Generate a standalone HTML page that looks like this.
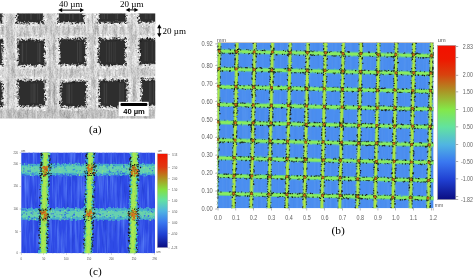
<!DOCTYPE html>
<html><head><meta charset="utf-8"><style>
html,body{margin:0;padding:0;background:#fff;width:475px;height:279px;overflow:hidden}
svg{display:block;will-change:transform}
</style></head><body><svg width="475" height="279" viewBox="0 0 475 279">
<defs>
 <filter id="semstreak" x="0" y="0" width="100%" height="100%" color-interpolation-filters="sRGB">
  <feTurbulence type="fractalNoise" baseFrequency="0.45 0.025" numOctaves="2" seed="3" result="n"/>
  <feColorMatrix in="n" type="matrix" values="1.3 0 0 0 0.18  1.3 0 0 0 0.18  1.3 0 0 0 0.18  0 0 0 0 1" />
 </filter>
 <filter id="semmottle" x="0" y="0" width="100%" height="100%" color-interpolation-filters="sRGB">
  <feTurbulence type="fractalNoise" baseFrequency="0.3 0.09" numOctaves="3" seed="12" result="n"/>
  <feColorMatrix in="n" type="matrix" values="1.2 0 0 0 0.22  1.2 0 0 0 0.22  1.2 0 0 0 0.22  0 0 0 0 1" />
 </filter>
 <filter id="semgrain" x="0" y="0" width="100%" height="100%" color-interpolation-filters="sRGB">
  <feTurbulence type="fractalNoise" baseFrequency="0.9 0.6" numOctaves="1" seed="7" result="n"/>
  <feColorMatrix in="n" type="matrix" values="1.6 0 0 0 -0.02  1.6 0 0 0 -0.02  1.6 0 0 0 -0.02  0 0 0 0 1" />
 </filter>
 <filter id="rough" x="-10%" y="-10%" width="120%" height="120%">
  <feTurbulence type="fractalNoise" baseFrequency="0.5" numOctaves="2" seed="11" result="t"/>
  <feDisplacementMap in="SourceGraphic" in2="t" scale="4" xChannelSelector="R" yChannelSelector="G"/>
 </filter>
 <filter id="halo" x="-10%" y="-10%" width="120%" height="120%">
  <feTurbulence type="fractalNoise" baseFrequency="0.6" numOctaves="2" seed="4" result="t"/>
  <feDisplacementMap in="SourceGraphic" in2="t" scale="5" xChannelSelector="R" yChannelSelector="G" result="d"/>
  <feGaussianBlur in="d" stdDeviation="0.6"/>
 </filter>
 <filter id="roughg" x="-10%" y="-10%" width="120%" height="120%">
  <feTurbulence type="fractalNoise" baseFrequency="0.7" numOctaves="2" seed="5" result="t"/>
  <feDisplacementMap in="SourceGraphic" in2="t" scale="2.2" xChannelSelector="R" yChannelSelector="G"/>
 </filter>
 <filter id="roughc" x="-10%" y="-10%" width="120%" height="120%">
  <feTurbulence type="fractalNoise" baseFrequency="0.45" numOctaves="2" seed="9" result="t"/>
  <feDisplacementMap in="SourceGraphic" in2="t" scale="4" xChannelSelector="R" yChannelSelector="G"/>
 </filter>
 <filter id="vstripe" x="0" y="0" width="100%" height="100%" color-interpolation-filters="sRGB">
  <feTurbulence type="fractalNoise" baseFrequency="0.5 0.012" numOctaves="1" seed="2" result="n"/>
  <feColorMatrix in="n" type="matrix" values="0 0 0 0 1  0 0 0 0 1  0 0 0 0 1  0.35 0 0 0 -0.14" />
 </filter>
 <filter id="vstripeD" x="0" y="0" width="100%" height="100%" color-interpolation-filters="sRGB">
  <feTurbulence type="fractalNoise" baseFrequency="0.5 0.012" numOctaves="1" seed="8" result="n"/>
  <feColorMatrix in="n" type="matrix" values="0 0 0 0 0  0 0 0 0 0  0 0 0 0 0.3  0.35 0 0 0 -0.14" />
 </filter>
 <filter id="cmottle" x="0" y="0" width="100%" height="100%" color-interpolation-filters="sRGB">
  <feTurbulence type="fractalNoise" baseFrequency="0.35 0.06" numOctaves="2" seed="21" result="n"/>
  <feColorMatrix in="n" type="matrix" values="0 0 0 0 0.1  0 0 0 0 0.2  0 0 0 0 0.75  -2.2 0 0 0 1.05" />
 </filter>
 <filter id="clight" x="0" y="0" width="100%" height="100%" color-interpolation-filters="sRGB">
  <feTurbulence type="fractalNoise" baseFrequency="0.4 0.03" numOctaves="2" seed="31" result="n"/>
  <feColorMatrix in="n" type="matrix" values="0 0 0 0 0.35  0 0 0 0 0.5  0 0 0 0 0.97  2.4 0 0 0 -1.05" />
 </filter>
 <linearGradient id="cbB" x1="0" y1="0" x2="0" y2="1">
  <stop offset="0" stop-color="#f41000"/>
  <stop offset="0.09" stop-color="#ee1800"/>
  <stop offset="0.19" stop-color="#d8420e"/>
  <stop offset="0.30" stop-color="#aa9626"/>
  <stop offset="0.415" stop-color="#84e848"/>
  <stop offset="0.53" stop-color="#62e2a0"/>
  <stop offset="0.645" stop-color="#50b4e2"/>
  <stop offset="0.755" stop-color="#3a78f0"/>
  <stop offset="0.87" stop-color="#2040d2"/>
  <stop offset="1" stop-color="#0a0c80"/>
 </linearGradient>
 <linearGradient id="cbC" x1="0" y1="0" x2="0" y2="1">
  <stop offset="0" stop-color="#f21400"/>
  <stop offset="0.14" stop-color="#e03810"/>
  <stop offset="0.26" stop-color="#b0901e"/>
  <stop offset="0.38" stop-color="#84e040"/>
  <stop offset="0.49" stop-color="#62e2a0"/>
  <stop offset="0.61" stop-color="#50b4e2"/>
  <stop offset="0.73" stop-color="#3a78f0"/>
  <stop offset="0.86" stop-color="#2040d2"/>
  <stop offset="1" stop-color="#0a0c80"/>
 </linearGradient>
 <clipPath id="clipA"><rect x="0" y="13.6" width="155.2" height="105"/></clipPath>
 <clipPath id="clipB"><rect x="217.4" y="42.5" width="216.2" height="165.8"/></clipPath>
 <clipPath id="clipC"><rect x="21.2" y="152.5" width="133.8" height="100.7"/></clipPath>
</defs>
<g clip-path="url(#clipA)"><rect x="0" y="13.6" width="155.2" height="105" fill="#c0c0c0"/><rect x="0" y="13.6" width="155.2" height="105" filter="url(#semmottle)" opacity="0.5"/><rect x="0" y="13.6" width="155.2" height="105" filter="url(#semstreak)" opacity="0.25"/><rect x="0" y="13.6" width="155.2" height="105" filter="url(#semgrain)" opacity="0.18"/><rect x="0" y="108.5" width="155.2" height="10.2" fill="#000" opacity="0.07"/><rect x="99.1" y="13.6" width="1.1" height="105" fill="#fff" opacity="0.1"/><rect x="34.6" y="13.6" width="2.5" height="105" fill="#fff" opacity="0.2"/><rect x="138.3" y="13.6" width="1.2" height="105" fill="#fff" opacity="0.1"/><rect x="4.6" y="13.6" width="1.4" height="105" fill="#fff" opacity="0.2"/><rect x="4.1" y="13.6" width="1.4" height="105" fill="#fff" opacity="0.2"/><rect x="84.5" y="13.6" width="1.4" height="105" fill="#fff" opacity="0.2"/><rect x="125.5" y="13.6" width="1" height="105" fill="#fff" opacity="0.2"/><rect x="108.2" y="13.6" width="1.7" height="105" fill="#fff" opacity="0.1"/><rect x="148.4" y="13.6" width="1.7" height="105" fill="#fff" opacity="0.1"/><rect x="15" y="13.6" width="2.7" height="105" fill="#fff" opacity="0.2"/><rect x="125.1" y="13.6" width="2.5" height="105" fill="#fff" opacity="0.2"/><rect x="150.8" y="13.6" width="1.8" height="105" fill="#fff" opacity="0.2"/><rect x="128.6" y="13.6" width="2.2" height="105" fill="#fff" opacity="0.2"/><rect x="89.5" y="13.6" width="2.4" height="105" fill="#fff" opacity="0.1"/><rect x="35.3" y="13.6" width="1.6" height="105" fill="#fff" opacity="0.1"/><rect x="36.1" y="13.6" width="1.2" height="105" fill="#fff" opacity="0.1"/><rect x="98.5" y="13.6" width="1.7" height="105" fill="#fff" opacity="0.1"/><rect x="32.5" y="13.6" width="1.5" height="105" fill="#fff" opacity="0.2"/><rect x="100.4" y="13.6" width="2.2" height="105" fill="#fff" opacity="0.1"/><rect x="113" y="13.6" width="1.3" height="105" fill="#fff" opacity="0.1"/><rect x="153.4" y="13.6" width="2.3" height="105" fill="#fff" opacity="0.2"/><rect x="106.1" y="13.6" width="2.7" height="105" fill="#fff" opacity="0.2"/><rect x="35.5" y="13.6" width="1.1" height="105" fill="#fff" opacity="0.1"/><rect x="41.5" y="13.6" width="1.4" height="105" fill="#fff" opacity="0.2"/><rect x="135.8" y="13.6" width="1.6" height="105" fill="#fff" opacity="0.2"/><rect x="61.3" y="13.6" width="2.8" height="105" fill="#fff" opacity="0.1"/><g filter="url(#halo)" opacity="0.45"><rect x="14.8" y="8.8" width="30.6" height="16" fill="none" stroke="#f6f6f6" stroke-width="2.6"/><rect x="56.3" y="8.8" width="29.5" height="16" fill="none" stroke="#f6f6f6" stroke-width="2.6"/><rect x="96.2" y="8.8" width="31.8" height="15.6" fill="none" stroke="#f6f6f6" stroke-width="2.6"/><rect x="136.6" y="8.8" width="26.6" height="15.6" fill="none" stroke="#f6f6f6" stroke-width="2.6"/><rect x="16.1" y="37.7" width="30.6" height="29.8" fill="none" stroke="#f6f6f6" stroke-width="2.6"/><rect x="57.4" y="36.6" width="30.3" height="30.4" fill="none" stroke="#f6f6f6" stroke-width="2.6"/><rect x="96.9" y="36.8" width="30.6" height="30.7" fill="none" stroke="#f6f6f6" stroke-width="2.6"/><rect x="137.4" y="36.6" width="25.8" height="29.8" fill="none" stroke="#f6f6f6" stroke-width="2.6"/><rect x="16.1" y="78.4" width="31" height="29.7" fill="none" stroke="#f6f6f6" stroke-width="2.6"/><rect x="58.8" y="79.1" width="29.6" height="29.6" fill="none" stroke="#f6f6f6" stroke-width="2.6"/><rect x="97.4" y="78" width="31.7" height="30.7" fill="none" stroke="#f6f6f6" stroke-width="2.6"/><rect x="139.6" y="77.2" width="23.6" height="30.6" fill="none" stroke="#f6f6f6" stroke-width="2.6"/><rect x="-7.2" y="8.8" width="11.6" height="16" fill="none" stroke="#f6f6f6" stroke-width="2.6"/><rect x="-7.2" y="37.7" width="11.6" height="29.8" fill="none" stroke="#f6f6f6" stroke-width="2.6"/><rect x="-7.2" y="78.4" width="11.6" height="29.7" fill="none" stroke="#f6f6f6" stroke-width="2.6"/></g><g filter="url(#rough)"><rect x="17.4" y="11.4" width="25.4" height="10.8" fill="#2e2e2e"/><rect x="58.9" y="11.4" width="24.3" height="10.8" fill="#2e2e2e"/><rect x="98.8" y="11.4" width="26.6" height="10.4" fill="#2e2e2e"/><rect x="139.2" y="11.4" width="21.4" height="10.4" fill="#2e2e2e"/><rect x="18.7" y="40.3" width="25.4" height="24.6" fill="#2e2e2e"/><rect x="60" y="39.2" width="25.1" height="25.2" fill="#2e2e2e"/><rect x="99.5" y="39.4" width="25.4" height="25.5" fill="#2e2e2e"/><rect x="140" y="39.2" width="20.6" height="24.6" fill="#2e2e2e"/><rect x="18.7" y="81" width="25.8" height="24.5" fill="#2e2e2e"/><rect x="61.4" y="81.7" width="24.4" height="24.4" fill="#2e2e2e"/><rect x="100" y="80.6" width="26.5" height="25.5" fill="#2e2e2e"/><rect x="142.2" y="79.8" width="18.4" height="25.4" fill="#2e2e2e"/><rect x="-4.6" y="11.4" width="6.4" height="10.8" fill="#2e2e2e"/><rect x="-4.6" y="40.3" width="6.4" height="24.6" fill="#2e2e2e"/><rect x="-4.6" y="81" width="6.4" height="24.5" fill="#2e2e2e"/></g><rect x="25.1" y="14" width="1" height="5.6" fill="#3a3a3a"/><rect x="30.3" y="14" width="1.4" height="5.6" fill="#444"/><rect x="37.2" y="14" width="1.1" height="5.6" fill="#3e3e3e"/><rect x="39.1" y="14" width="0.9" height="5.6" fill="#444"/><rect x="21.7" y="14" width="0.8" height="5.6" fill="#3e3e3e"/><rect x="64.3" y="14" width="0.9" height="5.6" fill="#3a3a3a"/><rect x="69.1" y="14" width="0.9" height="5.6" fill="#444"/><rect x="72.3" y="14" width="1.2" height="5.6" fill="#444"/><rect x="79.1" y="14" width="1.5" height="5.6" fill="#3e3e3e"/><rect x="115.3" y="14" width="0.9" height="5.2" fill="#3a3a3a"/><rect x="116.7" y="14" width="1.4" height="5.2" fill="#444"/><rect x="103.7" y="14" width="1.1" height="5.2" fill="#444"/><rect x="101.5" y="14" width="1.4" height="5.2" fill="#3a3a3a"/><rect x="106.8" y="14" width="1.2" height="5.2" fill="#3e3e3e"/><rect x="149.5" y="14" width="0.9" height="5.2" fill="#3a3a3a"/><rect x="146.3" y="14" width="1.3" height="5.2" fill="#3a3a3a"/><rect x="144.8" y="14" width="1.1" height="5.2" fill="#3e3e3e"/><rect x="150" y="14" width="1.4" height="5.2" fill="#3a3a3a"/><rect x="38.9" y="42.9" width="1.3" height="19.4" fill="#444"/><rect x="21.7" y="42.9" width="1.5" height="19.4" fill="#444"/><rect x="25.9" y="42.9" width="1" height="19.4" fill="#3a3a3a"/><rect x="39.5" y="42.9" width="0.9" height="19.4" fill="#444"/><rect x="37" y="42.9" width="1.6" height="19.4" fill="#3a3a3a"/><rect x="77.1" y="41.8" width="0.9" height="20" fill="#444"/><rect x="80.5" y="41.8" width="0.9" height="20" fill="#3a3a3a"/><rect x="79.1" y="41.8" width="1.1" height="20" fill="#3e3e3e"/><rect x="80.2" y="41.8" width="1.4" height="20" fill="#3a3a3a"/><rect x="106" y="42" width="1" height="20.3" fill="#3a3a3a"/><rect x="114.6" y="42" width="1.2" height="20.3" fill="#3a3a3a"/><rect x="110.8" y="42" width="1" height="20.3" fill="#3e3e3e"/><rect x="108.6" y="42" width="1.3" height="20.3" fill="#3e3e3e"/><rect x="113.4" y="42" width="0.8" height="20.3" fill="#3a3a3a"/><rect x="151.7" y="41.8" width="1" height="19.4" fill="#3e3e3e"/><rect x="155" y="41.8" width="0.9" height="19.4" fill="#3e3e3e"/><rect x="146.6" y="41.8" width="1.2" height="19.4" fill="#3a3a3a"/><rect x="144.5" y="41.8" width="1.5" height="19.4" fill="#3a3a3a"/><rect x="32.6" y="83.6" width="1" height="19.3" fill="#444"/><rect x="37.1" y="83.6" width="1" height="19.3" fill="#3e3e3e"/><rect x="34.2" y="83.6" width="1.1" height="19.3" fill="#444"/><rect x="30.5" y="83.6" width="1.4" height="19.3" fill="#3a3a3a"/><rect x="34.1" y="83.6" width="1.3" height="19.3" fill="#3e3e3e"/><rect x="71.3" y="84.3" width="1.1" height="19.2" fill="#3e3e3e"/><rect x="68.5" y="84.3" width="1" height="19.2" fill="#444"/><rect x="66.6" y="84.3" width="0.9" height="19.2" fill="#444"/><rect x="68.5" y="84.3" width="1.5" height="19.2" fill="#444"/><rect x="119" y="83.2" width="1.5" height="20.3" fill="#3e3e3e"/><rect x="103.6" y="83.2" width="1.6" height="20.3" fill="#3e3e3e"/><rect x="122.3" y="83.2" width="1.5" height="20.3" fill="#3e3e3e"/><rect x="106" y="83.2" width="1.2" height="20.3" fill="#3e3e3e"/><rect x="120.2" y="83.2" width="1.5" height="20.3" fill="#3e3e3e"/><rect x="149.4" y="82.4" width="1.6" height="20.2" fill="#444"/><rect x="156.1" y="82.4" width="1.4" height="20.2" fill="#444"/><rect x="150" y="82.4" width="1.6" height="20.2" fill="#3a3a3a"/><rect x="152.9" y="82.4" width="1.2" height="20.2" fill="#3e3e3e"/><rect x="-1.9" y="14" width="1.6" height="5.6" fill="#3a3a3a"/><rect x="-1.9" y="14" width="0.8" height="5.6" fill="#444"/><rect x="-2" y="42.9" width="1.3" height="19.4" fill="#3a3a3a"/><rect x="-1.8" y="42.9" width="1.2" height="19.4" fill="#3e3e3e"/><rect x="-1.8" y="83.6" width="0.9" height="19.3" fill="#3e3e3e"/><rect x="-2" y="83.6" width="0.9" height="19.3" fill="#3e3e3e"/><path fill="#c8c8c8" d="M21 22.6h1.1v1.1h-1.1zM28.5 10.1h1.4v1.4h-1.4zM38.9 9.5h0.9v0.9h-0.9zM17.6 8.8h1.4v1.4h-1.4zM43.9 14.8h1.3v1.3h-1.3zM19.8 21.8h1.2v1.2h-1.2zM42.3 9.9h0.7v0.7h-0.7zM15.3 22.2h1.4v1.4h-1.4zM33.1 9.2h1.2v1.2h-1.2zM35.8 9.3h1.1v1.1h-1.1zM18.9 23.3h1.4v1.4h-1.4zM41.8 23.8h1v1h-1zM38.7 9.5h0.9v0.9h-0.9zM15.5 10.4h1.4v1.4h-1.4zM39.8 23.1h0.7v0.7h-0.7zM16.4 10.9h0.8v0.8h-0.8zM39.2 23.5h0.9v0.9h-0.9zM60.6 10.8h0.9v0.9h-0.9zM57.5 12.3h1.2v1.2h-1.2zM82.9 10.4h1.2v1.2h-1.2zM62.9 23.8h1v1h-1zM64.5 8.9h1.3v1.3h-1.3zM60.7 22.1h0.8v0.8h-0.8zM63.9 8.4h1.1v1.1h-1.1zM57.9 22.4h1.2v1.2h-1.2zM72.3 9.4h0.9v0.9h-0.9zM66.5 23.3h1.1v1.1h-1.1zM70.6 8.6h1.2v1.2h-1.2zM63.9 23h0.9v0.9h-0.9zM119.5 11h1.1v1.1h-1.1zM96.7 15.1h0.7v0.7h-0.7zM98.2 23.4h1.3v1.3h-1.3zM97 15.1h1v1h-1zM103.2 10.7h1.2v1.2h-1.2zM121.6 9.6h1.2v1.2h-1.2zM118.2 8.9h0.7v0.7h-0.7zM100.9 22.3h0.8v0.8h-0.8zM96.5 20h1.1v1.1h-1.1zM106.4 21.7h1.1v1.1h-1.1zM161.9 22.2h1.2v1.2h-1.2zM161.6 12.4h0.8v0.8h-0.8zM137.4 18h1.1v1.1h-1.1zM155.8 8.9h1.1v1.1h-1.1zM161.3 20.9h1v1h-1zM162.5 14.9h0.7v0.7h-0.7zM148.4 10.6h1.3v1.3h-1.3zM150.9 22.7h1.1v1.1h-1.1zM162.2 10.7h0.9v0.9h-0.9zM156.8 21.6h1.3v1.3h-1.3zM162.1 19.7h1.2v1.2h-1.2zM161.9 17.2h1.3v1.3h-1.3zM161.7 19h0.7v0.7h-0.7zM153.8 23.4h1.4v1.4h-1.4zM160.9 15.4h0.8v0.8h-0.8zM43.8 38.9h1.3v1.3h-1.3zM23.9 38.2h1.3v1.3h-1.3zM16.6 55.6h1.1v1.1h-1.1zM40.8 64.9h1.2v1.2h-1.2zM33.4 38h1.3v1.3h-1.3zM44.2 60.3h0.8v0.8h-0.8zM17.1 53h1.4v1.4h-1.4zM23.4 65h1.2v1.2h-1.2zM41.7 39.6h1.1v1.1h-1.1zM15.9 55.6h1.3v1.3h-1.3zM43.8 61.8h0.8v0.8h-0.8zM28.1 64.7h1.1v1.1h-1.1zM36 37.4h1.1v1.1h-1.1zM24.2 65.7h1.3v1.3h-1.3zM23.8 37.9h0.7v0.7h-0.7zM44.3 55.9h1.1v1.1h-1.1zM17.9 53.5h0.7v0.7h-0.7zM16.3 64.5h0.8v0.8h-0.8zM43.8 43.5h1v1h-1zM16 55.4h1v1h-1zM18 51.6h1.1v1.1h-1.1zM36.5 38.9h1.1v1.1h-1.1zM33.3 66.3h0.7v0.7h-0.7zM58.9 55.5h1.4v1.4h-1.4zM59.2 37.3h1.1v1.1h-1.1zM58.6 57.6h0.8v0.8h-0.8zM82.4 63.9h1v1h-1zM86.7 61.9h1v1h-1zM58.2 65.3h0.9v0.9h-0.9zM75.8 38.2h1.1v1.1h-1.1zM62.9 37.5h0.8v0.8h-0.8zM61.1 64h0.8v0.8h-0.8zM85.8 47.1h0.9v0.9h-0.9zM59.1 43.9h1v1h-1zM57.2 62.3h1.3v1.3h-1.3zM68.8 36.2h1v1h-1zM86.4 50.3h1.4v1.4h-1.4zM57.2 52.5h0.7v0.7h-0.7zM59.6 56.8h1.1v1.1h-1.1zM85.2 55h1.3v1.3h-1.3zM86 45.6h1.1v1.1h-1.1zM59.2 40.3h0.8v0.8h-0.8zM74.3 64.8h1.2v1.2h-1.2zM70.9 38.8h0.8v0.8h-0.8zM59.4 60.4h1.4v1.4h-1.4zM67 36.8h0.9v0.9h-0.9zM58.7 49.9h0.8v0.8h-0.8zM87.1 44.6h0.9v0.9h-0.9zM71.8 65.7h0.9v0.9h-0.9zM104.8 65.1h0.8v0.8h-0.8zM126.9 54.5h1.3v1.3h-1.3zM98.2 56h1.3v1.3h-1.3zM98.8 65.5h1.3v1.3h-1.3zM96.8 53.3h0.8v0.8h-0.8zM125.6 60.6h1.1v1.1h-1.1zM121.6 37.9h0.8v0.8h-0.8zM110.7 38.3h1.1v1.1h-1.1zM96.7 53h1.3v1.3h-1.3zM115.3 37.9h0.9v0.9h-0.9zM96.5 46.7h0.9v0.9h-0.9zM105.4 38.5h0.9v0.9h-0.9zM161.5 44.3h1.4v1.4h-1.4zM153.5 65.4h1.1v1.1h-1.1zM149.2 37.9h1.1v1.1h-1.1zM137.9 41.6h0.9v0.9h-0.9zM139 54.1h0.8v0.8h-0.8zM138.5 46h1.3v1.3h-1.3zM161.9 48.3h1.2v1.2h-1.2zM138.7 61.5h1.3v1.3h-1.3zM160.1 37.5h0.8v0.8h-0.8zM138.2 40.2h1.1v1.1h-1.1zM139.4 56.2h1.1v1.1h-1.1zM137.3 52h0.7v0.7h-0.7zM137 56.2h1.4v1.4h-1.4zM160.6 64.1h0.9v0.9h-0.9zM159.5 63.7h1.4v1.4h-1.4zM143.8 37.9h1.4v1.4h-1.4zM159.8 62.9h1.2v1.2h-1.2zM42.5 107.2h1v1h-1zM17.7 102.3h1.1v1.1h-1.1zM16.8 100.7h1.1v1.1h-1.1zM44.6 94.8h0.8v0.8h-0.8zM16.1 97.9h1.1v1.1h-1.1zM38.4 79.7h1.1v1.1h-1.1zM17.5 97.6h1.1v1.1h-1.1zM18.3 96.5h1.2v1.2h-1.2zM26.3 78.8h0.9v0.9h-0.9zM46.4 86.3h1.4v1.4h-1.4zM35.1 106.5h0.9v0.9h-0.9zM44.1 105.7h0.8v0.8h-0.8zM30 106.7h1.4v1.4h-1.4zM26.2 78.8h0.8v0.8h-0.8zM26.9 78.8h1.4v1.4h-1.4zM59.2 103.3h1.4v1.4h-1.4zM71.9 105.9h1.2v1.2h-1.2zM65.9 107.8h1v1h-1zM82 78.8h1.2v1.2h-1.2zM85.6 85.8h1.1v1.1h-1.1zM58.6 102.9h1.2v1.2h-1.2zM85.3 103h1.3v1.3h-1.3zM59.3 100.7h1.3v1.3h-1.3zM83.2 81.1h1v1h-1zM59 100.2h1.1v1.1h-1.1zM60.7 82.8h0.8v0.8h-0.8zM86.8 100.9h1v1h-1zM97.3 95.4h1.1v1.1h-1.1zM97.5 102.1h1.1v1.1h-1.1zM98.9 106.1h1.4v1.4h-1.4zM104.8 79.6h0.7v0.7h-0.7zM126.9 100.6h0.8v0.8h-0.8zM123.2 78.6h1.2v1.2h-1.2zM126.7 99.4h1.3v1.3h-1.3zM124.2 107.1h1.2v1.2h-1.2zM101.4 106.9h1.3v1.3h-1.3zM119.9 78.3h1.4v1.4h-1.4zM107.9 105.9h1.3v1.3h-1.3zM117.5 105.5h1.2v1.2h-1.2zM125.7 101.6h1.3v1.3h-1.3zM97.2 99.6h1.2v1.2h-1.2zM103.7 105.7h1v1h-1zM123 106.5h1.2v1.2h-1.2zM119.5 105.9h0.8v0.8h-0.8zM152 106.8h1.3v1.3h-1.3zM141.5 104.8h1.1v1.1h-1.1zM153.9 77.4h0.8v0.8h-0.8zM140.1 93.9h1v1h-1zM141.5 100.8h0.7v0.7h-0.7zM141.8 79h1.2v1.2h-1.2zM160.5 105.8h1.2v1.2h-1.2zM161.2 96.1h0.8v0.8h-0.8zM161.2 79.9h0.8v0.8h-0.8zM162.2 79.9h0.9v0.9h-0.9zM150.2 106.1h0.9v0.9h-0.9zM158.8 105.7h1.2v1.2h-1.2zM148.2 105.4h0.9v0.9h-0.9zM160.4 78.6h1.1v1.1h-1.1zM1.6 18.7h1v1h-1zM-7.3 20.1h1.1v1.1h-1.1zM1 39.2h1.2v1.2h-1.2zM-4.3 66.7h0.9v0.9h-0.9zM1.9 58.3h1.3v1.3h-1.3zM-5.3 53.5h1.3v1.3h-1.3zM-6.2 52.3h1.2v1.2h-1.2zM1.4 48.6h1.2v1.2h-1.2zM1.5 46.3h0.9v0.9h-0.9zM2.2 38.9h1.2v1.2h-1.2zM-1.3 38h1.2v1.2h-1.2zM2.5 38.5h1.2v1.2h-1.2zM-5.3 54.8h1v1h-1zM-7.4 52h0.8v0.8h-0.8zM2.1 78.9h1v1h-1zM-7 87.3h0.9v0.9h-0.9zM1.2 100.4h1.3v1.3h-1.3zM0.1 80.4h1.1v1.1h-1.1zM-7.2 85.4h0.8v0.8h-0.8z"/><path fill="#2c2c2c" d="M38.9 21.7h1.4v1.4h-1.4zM16.8 20.4h1.4v1.4h-1.4zM28.6 9.8h0.8v0.8h-0.8zM37.7 10.3h1v1h-1zM40.9 11.3h1v1h-1zM21.8 9.7h1.3v1.3h-1.3zM15.2 17.1h0.9v0.9h-0.9zM22.4 10.7h0.9v0.9h-0.9zM29.1 10.7h1.1v1.1h-1.1zM23.3 22.2h0.7v0.7h-0.7zM22.3 22.2h1.1v1.1h-1.1zM43.2 22.2h0.8v0.8h-0.8zM15.1 16h1v1h-1zM29.4 11.2h1v1h-1zM26.5 22.3h1.1v1.1h-1.1zM32.6 22.9h1.1v1.1h-1.1zM28.9 23.3h1.1v1.1h-1.1zM28.3 22h0.9v0.9h-0.9zM19.3 22.8h0.7v0.7h-0.7zM17.7 20.8h1.2v1.2h-1.2zM30.1 10.6h1.1v1.1h-1.1zM25.8 11.1h1.1v1.1h-1.1zM76 10.1h1.2v1.2h-1.2zM60.2 21h0.8v0.8h-0.8zM59.5 11.2h0.7v0.7h-0.7zM69.1 10.9h1v1h-1zM74.4 9.6h1.3v1.3h-1.3zM63.8 11.1h1.3v1.3h-1.3zM75.1 21.8h1.2v1.2h-1.2zM83.9 22.3h0.9v0.9h-0.9zM81.6 9.5h0.9v0.9h-0.9zM59.1 12.7h0.8v0.8h-0.8zM77.7 22.3h1.2v1.2h-1.2zM57.6 21.4h0.7v0.7h-0.7zM57.1 23.1h0.9v0.9h-0.9zM56.7 10h0.8v0.8h-0.8zM58.9 21h1.2v1.2h-1.2zM61.3 21.3h1.3v1.3h-1.3zM82.8 12h0.8v0.8h-0.8zM83.1 10.9h1v1h-1zM81.6 12.4h1.1v1.1h-1.1zM78.1 11.8h1.2v1.2h-1.2zM84.2 14.8h1.2v1.2h-1.2zM57.3 12.9h1.3v1.3h-1.3zM57.5 21h1.2v1.2h-1.2zM83.7 12.2h0.8v0.8h-0.8zM57.6 9.4h1.2v1.2h-1.2zM80.4 10.2h1.3v1.3h-1.3zM119.7 20.3h1.1v1.1h-1.1zM110.7 21.7h1v1h-1zM123.6 11.6h1.1v1.1h-1.1zM98.2 21.3h0.8v0.8h-0.8zM101.2 20.3h1.3v1.3h-1.3zM97.7 9.5h0.9v0.9h-0.9zM108.3 11.2h1v1h-1zM124.7 22.9h1.3v1.3h-1.3zM96.5 14.1h1.2v1.2h-1.2zM124.1 22.1h1.1v1.1h-1.1zM98 16.8h0.9v0.9h-0.9zM122.3 22.7h0.8v0.8h-0.8zM115.6 20.7h1v1h-1zM105.9 9.8h1.2v1.2h-1.2zM104.4 10.6h1.3v1.3h-1.3zM111.4 9.5h0.9v0.9h-0.9zM109.3 9.9h1v1h-1zM124.8 11.4h0.8v0.8h-0.8zM115.8 9.8h0.8v0.8h-0.8zM116.3 21.5h1.1v1.1h-1.1zM152.7 9.2h1.1v1.1h-1.1zM157.8 20.4h0.9v0.9h-0.9zM136.9 17.1h1.3v1.3h-1.3zM160.7 15.4h1.2v1.2h-1.2zM157.1 20.3h1.3v1.3h-1.3zM157.3 20.2h1.4v1.4h-1.4zM145.5 21.3h1.2v1.2h-1.2zM150.4 21.9h1.2v1.2h-1.2zM161.8 12.1h1v1h-1zM137.2 15.1h0.8v0.8h-0.8zM142.5 9.9h0.9v0.9h-0.9zM154.4 22.4h1.2v1.2h-1.2zM159.6 17.2h0.9v0.9h-0.9zM149.4 10.1h1.4v1.4h-1.4zM159.9 12h1v1h-1zM159.5 21.3h1.2v1.2h-1.2zM138.5 19.6h1v1h-1zM150.9 9.8h0.7v0.7h-0.7zM138.4 16.1h1.4v1.4h-1.4zM153.9 20.7h0.8v0.8h-0.8zM140.6 9.8h1.1v1.1h-1.1zM138.4 22.5h1.3v1.3h-1.3zM17 44.4h1.3v1.3h-1.3zM43.2 54.4h0.9v0.9h-0.9zM43 62.8h1.2v1.2h-1.2zM21.7 65.9h1.1v1.1h-1.1zM43.5 50.5h0.8v0.8h-0.8zM21.8 64.2h1v1h-1zM35.6 39.1h1.3v1.3h-1.3zM17.4 57.4h1.1v1.1h-1.1zM42.7 39.4h1v1h-1zM31.5 39.8h1.3v1.3h-1.3zM17.3 65.5h0.8v0.8h-0.8zM18.5 44.3h1.2v1.2h-1.2zM21.8 39h1.4v1.4h-1.4zM36.4 66h0.7v0.7h-0.7zM18.6 45.6h1.1v1.1h-1.1zM17.8 62.5h1.1v1.1h-1.1zM21 38.5h1.1v1.1h-1.1zM43.9 48.8h1.3v1.3h-1.3zM19.1 48.4h0.8v0.8h-0.8zM43.8 50h1.2v1.2h-1.2zM33.4 40.6h0.8v0.8h-0.8zM18 64.3h1v1h-1zM32.3 38.3h0.8v0.8h-0.8zM18.2 44.5h1.4v1.4h-1.4zM29.9 39.8h1v1h-1zM28.5 39.5h1.3v1.3h-1.3zM43.8 60h1.3v1.3h-1.3zM65.8 37.7h0.9v0.9h-0.9zM57.9 37.6h1.3v1.3h-1.3zM76.4 64.3h0.9v0.9h-0.9zM78.1 37.6h0.8v0.8h-0.8zM85.5 48.3h1v1h-1zM84.7 38.7h0.8v0.8h-0.8zM77.4 63.4h1.3v1.3h-1.3zM74.3 39.2h1v1h-1zM83.6 37.7h1.1v1.1h-1.1zM77 37.7h1.3v1.3h-1.3zM58.9 64h0.8v0.8h-0.8zM60 51.5h0.9v0.9h-0.9zM74.8 37.7h1.3v1.3h-1.3zM84.3 63.1h1.4v1.4h-1.4zM82.6 38.8h0.7v0.7h-0.7zM84.8 39.5h1.4v1.4h-1.4zM85.6 41.9h1.3v1.3h-1.3zM79.1 63.7h1.2v1.2h-1.2zM58.2 63.7h1.1v1.1h-1.1zM84.9 64.1h1.2v1.2h-1.2zM60 40.9h1v1h-1zM75.4 38.2h0.8v0.8h-0.8zM60 65.6h0.8v0.8h-0.8zM83.6 54.4h1v1h-1zM60.6 48.3h0.7v0.7h-0.7zM85.3 63.4h1.3v1.3h-1.3zM76.4 65.1h1.1v1.1h-1.1zM85.2 43.5h0.8v0.8h-0.8zM59.1 41.6h1.1v1.1h-1.1zM60.3 61.2h0.9v0.9h-0.9zM74.2 64.8h0.9v0.9h-0.9zM58.6 45.5h1v1h-1zM86.2 47.2h1.3v1.3h-1.3zM76.6 64.6h0.8v0.8h-0.8zM79 36.9h1.1v1.1h-1.1zM83.2 39.4h1.4v1.4h-1.4zM85 61h1.2v1.2h-1.2zM72 38.3h0.8v0.8h-0.8zM72.5 63.5h1.1v1.1h-1.1zM60.1 54.6h0.9v0.9h-0.9zM65.4 37.3h0.9v0.9h-0.9zM65.4 62.7h1.3v1.3h-1.3zM80.6 39.2h0.9v0.9h-0.9zM59.4 53.7h1v1h-1zM73.7 63.2h1.2v1.2h-1.2zM124.2 53.4h0.7v0.7h-0.7zM108.9 65.8h1.1v1.1h-1.1zM123.5 59.7h1.3v1.3h-1.3zM98.6 57.9h1.3v1.3h-1.3zM99.7 50.3h0.7v0.7h-0.7zM124.8 47.9h1.4v1.4h-1.4zM125.6 63.2h1.2v1.2h-1.2zM107 39.5h0.9v0.9h-0.9zM99.6 41.2h0.9v0.9h-0.9zM125.1 57.1h0.9v0.9h-0.9zM97.3 61.8h1.2v1.2h-1.2zM124.8 61.3h0.8v0.8h-0.8zM112.2 37.1h1.3v1.3h-1.3zM119.6 38h0.8v0.8h-0.8zM97.9 59.1h1.2v1.2h-1.2zM110.2 38.9h1v1h-1zM124.4 51.7h1v1h-1zM98.8 39.8h1v1h-1zM121 63.7h0.8v0.8h-0.8zM118.3 37h1.4v1.4h-1.4zM114.4 39.9h0.8v0.8h-0.8zM124.8 54.7h0.7v0.7h-0.7zM98.3 51h0.7v0.7h-0.7zM97.9 53.6h0.8v0.8h-0.8zM110.2 63.8h1v1h-1zM97.2 47.9h1v1h-1zM124.7 46.7h1.3v1.3h-1.3zM123.4 39.2h1.1v1.1h-1.1zM103.7 39h0.7v0.7h-0.7zM118.2 39.1h1.3v1.3h-1.3zM104.7 64h0.8v0.8h-0.8zM108.9 63.6h1.4v1.4h-1.4zM149.8 38.5h1.2v1.2h-1.2zM141.6 38.6h1.3v1.3h-1.3zM139.6 50.6h0.9v0.9h-0.9zM140.8 39.1h1.3v1.3h-1.3zM159.5 51h0.7v0.7h-0.7zM150 62.8h1v1h-1zM149.6 37.6h1v1h-1zM142.3 62.8h1.2v1.2h-1.2zM159.6 57.9h1v1h-1zM147.3 39.1h0.9v0.9h-0.9zM160.2 37.5h1v1h-1zM140.4 63.6h1.2v1.2h-1.2zM160.3 43.2h1.1v1.1h-1.1zM160.5 50.3h1.3v1.3h-1.3zM160.6 58.6h1.2v1.2h-1.2zM151.9 38.6h1.1v1.1h-1.1zM151.5 38.4h1.3v1.3h-1.3zM138.3 40.8h0.9v0.9h-0.9zM140.5 41.9h0.8v0.8h-0.8zM153.3 37.1h0.8v0.8h-0.8zM156.4 38.3h1.1v1.1h-1.1zM139.8 40.2h1.3v1.3h-1.3zM137.9 51.8h1.1v1.1h-1.1zM139 42.4h0.9v0.9h-0.9zM156.7 37.2h0.9v0.9h-0.9zM160.5 38.1h0.7v0.7h-0.7zM138.9 38h1.3v1.3h-1.3zM154.2 62.3h1.3v1.3h-1.3zM148.4 39.8h0.9v0.9h-0.9zM156.1 62.5h1.4v1.4h-1.4zM139.1 45.4h1.1v1.1h-1.1zM161.9 40.1h0.9v0.9h-0.9zM38.9 106.2h1.3v1.3h-1.3zM21.3 79.8h0.9v0.9h-0.9zM43.8 102.1h1v1h-1zM18.6 83.9h1.2v1.2h-1.2zM35.5 81.2h1.1v1.1h-1.1zM32.2 106.3h1.3v1.3h-1.3zM40.3 80.9h1.1v1.1h-1.1zM43.2 85.1h0.7v0.7h-0.7zM23.9 78.7h1.4v1.4h-1.4zM17.6 81.5h0.8v0.8h-0.8zM27.5 80.8h1.3v1.3h-1.3zM18.3 87.3h0.9v0.9h-0.9zM44.9 89.9h1v1h-1zM25 79h1v1h-1zM16.3 83.7h1.3v1.3h-1.3zM40.2 79.7h1.2v1.2h-1.2zM43.3 79.8h1.3v1.3h-1.3zM43.2 94h0.9v0.9h-0.9zM36.6 105.4h1v1h-1zM36.7 80.3h1.3v1.3h-1.3zM18.9 89.6h0.7v0.7h-0.7zM18.3 104.4h0.9v0.9h-0.9zM44 91.8h1.2v1.2h-1.2zM21.7 80.9h1.1v1.1h-1.1zM18.1 79.2h1.2v1.2h-1.2zM29.3 106.1h1.2v1.2h-1.2zM17.5 91.3h0.8v0.8h-0.8zM43 79.5h1.2v1.2h-1.2zM43.4 97h1v1h-1zM65.7 81.3h1.4v1.4h-1.4zM77.7 80.6h0.7v0.7h-0.7zM60.6 82.1h1.4v1.4h-1.4zM83.7 106.1h1.2v1.2h-1.2zM69.5 106.6h1.2v1.2h-1.2zM73.3 106.3h1.3v1.3h-1.3zM71.4 105.1h1.2v1.2h-1.2zM80 106.8h0.8v0.8h-0.8zM60.9 84.9h1.2v1.2h-1.2zM86.9 104.1h1.1v1.1h-1.1zM86.2 101h1.2v1.2h-1.2zM80.6 105.4h1.1v1.1h-1.1zM60.1 95.2h0.8v0.8h-0.8zM86.1 85.9h1.1v1.1h-1.1zM77.7 106h1.3v1.3h-1.3zM78.3 79.6h1.4v1.4h-1.4zM85 97.6h0.9v0.9h-0.9zM63.1 106.1h1.3v1.3h-1.3zM77.1 80.9h0.8v0.8h-0.8zM85.2 81.7h1v1h-1zM60.4 90.3h1v1h-1zM61.3 106.1h0.9v0.9h-0.9zM80.8 104.8h0.9v0.9h-0.9zM80.2 79.9h1.3v1.3h-1.3zM59.7 81.1h0.9v0.9h-0.9zM86.4 100.9h0.8v0.8h-0.8zM65.7 106.6h1.1v1.1h-1.1zM84.4 106h1v1h-1zM86 106.4h1v1h-1zM83.9 107.1h1v1h-1zM60.9 84.4h0.8v0.8h-0.8zM108.7 80.9h1.4v1.4h-1.4zM126.2 106.1h1.4v1.4h-1.4zM126.8 103.7h1v1h-1zM98.8 83.6h1.3v1.3h-1.3zM112 106.6h0.9v0.9h-0.9zM116.4 106.8h1.3v1.3h-1.3zM126.2 94.7h1.3v1.3h-1.3zM98.3 93.2h0.7v0.7h-0.7zM126.7 80.5h1.4v1.4h-1.4zM105.8 107.2h1.1v1.1h-1.1zM103.8 78.4h1v1h-1zM116.6 106.5h1v1h-1zM126.7 107.3h1v1h-1zM117.7 80h1.2v1.2h-1.2zM126.5 80.5h1.3v1.3h-1.3zM126.2 84.2h1.4v1.4h-1.4zM109 105.8h0.9v0.9h-0.9zM127.5 83.8h1.3v1.3h-1.3zM112.2 78.2h1.2v1.2h-1.2zM98 79.2h1.2v1.2h-1.2zM127 103.1h1.1v1.1h-1.1zM121.1 79.9h0.9v0.9h-0.9zM99.6 87.1h0.7v0.7h-0.7zM126.1 105.4h1.1v1.1h-1.1zM98.6 80.6h1.1v1.1h-1.1zM99.5 96.6h1.2v1.2h-1.2zM99.8 82.2h1.3v1.3h-1.3zM106.7 80.7h1v1h-1zM140.3 89.8h0.9v0.9h-0.9zM152.8 77.6h1.1v1.1h-1.1zM159.4 81.7h1.3v1.3h-1.3zM160.4 100.1h0.8v0.8h-0.8zM148.4 106.4h1v1h-1zM142 77.6h1v1h-1zM158.6 78.9h0.7v0.7h-0.7zM159.7 78h1.4v1.4h-1.4zM161.3 106.5h0.9v0.9h-0.9zM161 79.3h1.4v1.4h-1.4zM140.3 86.7h1.3v1.3h-1.3zM161.4 93.8h1.2v1.2h-1.2zM154.2 105h0.8v0.8h-0.8zM146 103.8h1.4v1.4h-1.4zM140.5 89.2h1v1h-1zM142.2 79.5h1.3v1.3h-1.3zM156.3 104.1h1.3v1.3h-1.3zM160.1 85.5h1.2v1.2h-1.2zM140.9 105.6h1.3v1.3h-1.3zM161.2 103.6h1v1h-1zM146 78.5h1.3v1.3h-1.3zM161.4 95.2h1.1v1.1h-1.1zM160.6 87h1.1v1.1h-1.1zM160.4 90.2h1.2v1.2h-1.2zM140.7 77.6h1.3v1.3h-1.3zM140.6 85.1h1.1v1.1h-1.1zM142.1 105.5h1.4v1.4h-1.4zM1.6 22.7h1v1h-1zM2.6 15.6h0.9v0.9h-0.9zM-5.9 11.2h0.9v0.9h-0.9zM-4.5 23.1h0.8v0.8h-0.8zM1.5 21.7h0.7v0.7h-0.7zM1.8 23.1h1v1h-1zM0.9 21.3h1v1h-1zM-0.9 10.2h0.9v0.9h-0.9zM-0.2 21.3h0.8v0.8h-0.8zM0.5 22.2h1v1h-1zM-6.6 10.7h1.4v1.4h-1.4zM-5.8 9.2h1.2v1.2h-1.2zM-5.8 18.8h1.1v1.1h-1.1zM-5.9 12.8h0.9v0.9h-0.9zM-6.3 16.7h0.9v0.9h-0.9zM-6.1 10.1h1.1v1.1h-1.1zM-5.4 56.5h1.3v1.3h-1.3zM1.8 39.3h0.8v0.8h-0.8zM2 65.4h1.1v1.1h-1.1zM-2.5 38.6h1.3v1.3h-1.3zM-5.1 53.5h0.8v0.8h-0.8zM1.9 65.2h1v1h-1zM-2.7 64.8h0.9v0.9h-0.9zM-5.1 58.9h1.1v1.1h-1.1zM0.6 41.8h1.1v1.1h-1.1zM1.3 60.6h0.8v0.8h-0.8zM-4.7 47.3h1.1v1.1h-1.1zM1.4 39.9h1.4v1.4h-1.4zM-1.1 65.5h1.1v1.1h-1.1zM-4.1 46.6h0.9v0.9h-0.9zM1.5 56.5h1.1v1.1h-1.1zM0.6 40.3h1.3v1.3h-1.3zM2.7 40.8h0.9v0.9h-0.9zM1.1 58.5h1.4v1.4h-1.4zM-6.7 45.1h1v1h-1zM0.5 64.1h1.1v1.1h-1.1zM-5.5 98.9h0.8v0.8h-0.8zM2.5 102h0.8v0.8h-0.8zM-5.2 80.8h1.1v1.1h-1.1zM1 79.9h1.4v1.4h-1.4zM-4.5 78.9h0.8v0.8h-0.8zM0.4 83.3h1v1h-1zM-3.1 81.4h1.2v1.2h-1.2zM-4.1 104.3h1.2v1.2h-1.2zM-6 96.8h1.3v1.3h-1.3zM-5.8 96h1.2v1.2h-1.2zM2.6 103.3h1.3v1.3h-1.3zM-4.9 93.8h0.9v0.9h-0.9zM1.8 91.5h1.3v1.3h-1.3zM-4.5 88.6h1.3v1.3h-1.3zM-5.6 88.2h1.1v1.1h-1.1zM-4.2 105.1h1.2v1.2h-1.2zM-5.6 80.9h1.3v1.3h-1.3zM-5.2 81.8h0.7v0.7h-0.7zM-0 106.1h1.3v1.3h-1.3zM-5.5 104.8h1.3v1.3h-1.3z"/><path fill="#ffffff" d="M32.7 9.1h0.8v0.8h-0.8zM37.4 9.8h1.1v1.1h-1.1zM24.8 10.2h1.1v1.1h-1.1zM14.8 15.6h1.4v1.4h-1.4zM21.8 22.3h0.9v0.9h-0.9zM26 9.8h0.9v0.9h-0.9zM15 16h0.8v0.8h-0.8zM33.9 10.4h0.7v0.7h-0.7zM36.2 9.5h1.2v1.2h-1.2zM38.7 9.7h0.9v0.9h-0.9zM33 23.7h0.9v0.9h-0.9zM15.6 23.6h0.9v0.9h-0.9zM38.1 9.8h1v1h-1zM22.7 8.9h1.1v1.1h-1.1zM28.3 24h1v1h-1zM22.9 23.4h0.9v0.9h-0.9zM44.4 19h0.9v0.9h-0.9zM14.6 21h0.8v0.8h-0.8zM16.4 16.9h1.2v1.2h-1.2zM35 10.4h0.7v0.7h-0.7zM33 21.9h0.7v0.7h-0.7zM15.6 21.2h0.9v0.9h-0.9zM43.4 23.4h0.9v0.9h-0.9zM43.5 18.6h0.8v0.8h-0.8zM38.3 11h1v1h-1zM16.4 15.2h1.4v1.4h-1.4zM42.3 10.5h1.4v1.4h-1.4zM21.1 10.8h1.2v1.2h-1.2zM22.1 10h1v1h-1zM16.8 15.3h1.1v1.1h-1.1zM16.7 22.5h1.1v1.1h-1.1zM44.2 15.2h0.7v0.7h-0.7zM44 15.7h1.4v1.4h-1.4zM40 10.4h1.4v1.4h-1.4zM27.1 10.5h1.4v1.4h-1.4zM14.6 21.8h1v1h-1zM56.8 15.6h1.3v1.3h-1.3zM79.6 11.1h0.8v0.8h-0.8zM68.8 8.1h1.4v1.4h-1.4zM63.2 21.5h1.3v1.3h-1.3zM72.9 9.4h0.9v0.9h-0.9zM74.9 21.6h1.3v1.3h-1.3zM74.2 9.5h1.4v1.4h-1.4zM83.7 13.1h0.8v0.8h-0.8zM58 22.9h1.2v1.2h-1.2zM56.5 16.6h0.9v0.9h-0.9zM84.1 13.7h1.1v1.1h-1.1zM65.2 9.3h0.8v0.8h-0.8zM80.2 10.1h1.2v1.2h-1.2zM57 10.9h1.3v1.3h-1.3zM59.9 22.3h0.9v0.9h-0.9zM58.3 20.4h1.3v1.3h-1.3zM84.4 18.8h1.2v1.2h-1.2zM125.6 21.2h0.9v0.9h-0.9zM103.7 10.2h0.8v0.8h-0.8zM108.6 11h1v1h-1zM126 17.1h1.2v1.2h-1.2zM115.7 23.3h1.3v1.3h-1.3zM108.2 23.9h0.9v0.9h-0.9zM122 22.9h0.9v0.9h-0.9zM102.4 21.8h1v1h-1zM127.1 17.3h1.1v1.1h-1.1zM96.2 16.3h1.4v1.4h-1.4zM112.9 10.2h1.3v1.3h-1.3zM96.8 9.9h1.1v1.1h-1.1zM98 22.5h1.2v1.2h-1.2zM123.1 23h1.4v1.4h-1.4zM102.8 23.4h0.7v0.7h-0.7zM120.2 8.2h1.3v1.3h-1.3zM112.1 8.3h1.1v1.1h-1.1zM99.9 23.5h0.9v0.9h-0.9zM102.9 10.6h0.8v0.8h-0.8zM103.2 9.6h1.1v1.1h-1.1zM97 13.5h1v1h-1zM126 11.1h1.3v1.3h-1.3zM96.7 15h1.4v1.4h-1.4zM138.4 17h1.4v1.4h-1.4zM142.9 21.6h0.9v0.9h-0.9zM162.7 14.9h0.7v0.7h-0.7zM138.8 13h1.2v1.2h-1.2zM136.5 15.1h1.1v1.1h-1.1zM143.2 22.4h0.9v0.9h-0.9zM145.9 23.4h0.8v0.8h-0.8zM136.7 14.5h1v1h-1zM154.1 23.6h0.7v0.7h-0.7zM142.2 9.7h0.8v0.8h-0.8zM162.5 11.4h0.7v0.7h-0.7zM141.3 23h1.2v1.2h-1.2zM158.1 21.1h1.1v1.1h-1.1zM161.4 14.7h1.1v1.1h-1.1zM18.1 65.5h0.7v0.7h-0.7zM44.4 48.4h0.8v0.8h-0.8zM16.3 54h1.1v1.1h-1.1zM44.1 50.6h1.3v1.3h-1.3zM17.2 61.2h1.3v1.3h-1.3zM15.8 46.9h1.1v1.1h-1.1zM19 66.5h1v1h-1zM37.9 39.9h0.7v0.7h-0.7zM25.1 39.7h1v1h-1zM27.3 37.2h1.2v1.2h-1.2zM27.1 37.7h1v1h-1zM39.2 64.9h1.3v1.3h-1.3zM44.1 50.5h1v1h-1zM38.5 64.1h1.4v1.4h-1.4zM17.1 38.6h1.3v1.3h-1.3zM22.6 37.6h1.3v1.3h-1.3zM24.3 64.4h0.9v0.9h-0.9zM40.1 37.7h1.3v1.3h-1.3zM39.6 39.6h1.2v1.2h-1.2zM45.7 59h1.2v1.2h-1.2zM32.1 65.5h0.9v0.9h-0.9zM16.7 46.7h0.8v0.8h-0.8zM16.5 50.9h0.9v0.9h-0.9zM44.4 48.8h1.2v1.2h-1.2zM16.9 47.8h0.7v0.7h-0.7zM41 38.6h0.8v0.8h-0.8zM43.9 46.9h1.1v1.1h-1.1zM42.3 65.3h1.2v1.2h-1.2zM44 49.6h1.2v1.2h-1.2zM15.6 50.1h1.4v1.4h-1.4zM84.4 39.5h1.2v1.2h-1.2zM58.7 52.2h1.3v1.3h-1.3zM57.5 65h0.9v0.9h-0.9zM86.3 63.4h1.2v1.2h-1.2zM81.7 66.5h1v1h-1zM58.5 62.2h0.8v0.8h-0.8zM79.3 37.4h0.8v0.8h-0.8zM87.2 47.9h0.7v0.7h-0.7zM71.8 36.9h0.9v0.9h-0.9zM86.9 64.9h1.2v1.2h-1.2zM71.1 66.2h1.2v1.2h-1.2zM81.4 63.9h1.3v1.3h-1.3zM57.8 52.2h1.1v1.1h-1.1zM86.3 40.7h1v1h-1zM60 37.7h1.4v1.4h-1.4zM59.3 38.2h1.3v1.3h-1.3zM72.7 37.6h1.3v1.3h-1.3zM64.7 65h1v1h-1zM72.1 65.2h0.8v0.8h-0.8zM83.1 36.8h0.7v0.7h-0.7zM84.7 57.1h1.2v1.2h-1.2zM81.2 64h1.1v1.1h-1.1zM57.6 51.9h0.8v0.8h-0.8zM66.1 64.1h1.3v1.3h-1.3zM59.6 63h1.2v1.2h-1.2zM58.8 49.1h1.1v1.1h-1.1zM78.4 38.2h0.7v0.7h-0.7zM60.7 36.3h1.3v1.3h-1.3zM57.1 62.6h0.8v0.8h-0.8zM85.7 46.6h1.3v1.3h-1.3zM124.5 51.4h0.8v0.8h-0.8zM126.5 38.6h0.8v0.8h-0.8zM101 36.6h0.7v0.7h-0.7zM118.7 65.6h0.8v0.8h-0.8zM98.5 56.9h0.8v0.8h-0.8zM126.9 54.8h1.2v1.2h-1.2zM110 64.6h1v1h-1zM98.4 47.8h1v1h-1zM97.7 42.7h1.1v1.1h-1.1zM124.4 52.9h0.8v0.8h-0.8zM118.5 37.8h1.2v1.2h-1.2zM96.5 45.1h1.4v1.4h-1.4zM106.4 36.5h1.1v1.1h-1.1zM123.2 64.4h1v1h-1zM107.8 38h1.4v1.4h-1.4zM97.8 55.1h1.3v1.3h-1.3zM104.5 37.2h0.7v0.7h-0.7zM97.8 39.3h1v1h-1zM96.7 63.5h0.7v0.7h-0.7zM121.3 65.1h1.1v1.1h-1.1zM126 62h1.3v1.3h-1.3zM96.5 46.5h1v1h-1zM99.7 37.9h1.2v1.2h-1.2zM121 37.8h0.9v0.9h-0.9zM117.3 37.9h1.1v1.1h-1.1zM107.7 37.3h0.7v0.7h-0.7zM125.5 50.2h1.2v1.2h-1.2zM116.6 64.4h1.2v1.2h-1.2zM107.3 37.6h1.1v1.1h-1.1zM98.1 54.4h0.8v0.8h-0.8zM98.9 41.1h1.1v1.1h-1.1zM97.7 58.2h1v1h-1zM117.5 38.9h0.8v0.8h-0.8zM110.9 38h0.9v0.9h-0.9zM100.2 38.3h1.3v1.3h-1.3zM107.4 37.4h1.3v1.3h-1.3zM101.9 64.2h1.2v1.2h-1.2zM116.3 65.4h0.8v0.8h-0.8zM98.6 44h0.8v0.8h-0.8zM98 44.8h1.4v1.4h-1.4zM102.2 66.7h1.2v1.2h-1.2zM103.7 66.5h1.3v1.3h-1.3zM126.5 41.3h0.8v0.8h-0.8zM137.1 50.8h1.2v1.2h-1.2zM161.1 40.2h1.3v1.3h-1.3zM138.4 38.9h0.9v0.9h-0.9zM138.8 49.9h0.8v0.8h-0.8zM139.1 55.1h1.4v1.4h-1.4zM153.4 36.9h1v1h-1zM161 50.6h0.9v0.9h-0.9zM155.9 38.7h1.2v1.2h-1.2zM137.6 60h1.3v1.3h-1.3zM143.3 64.6h1.3v1.3h-1.3zM140.9 36.6h1.3v1.3h-1.3zM161.5 51.5h1.2v1.2h-1.2zM153.6 38.1h0.7v0.7h-0.7zM151 64.7h0.8v0.8h-0.8zM139.4 50.6h0.7v0.7h-0.7zM138.7 38h0.9v0.9h-0.9zM162.5 61.2h0.8v0.8h-0.8zM161.8 63.1h1.1v1.1h-1.1zM137 50.1h0.8v0.8h-0.8zM161.1 51.4h0.9v0.9h-0.9zM160.6 45.6h1.3v1.3h-1.3zM159.1 63.8h0.8v0.8h-0.8zM153.7 38.9h0.7v0.7h-0.7zM138.8 37.9h1.3v1.3h-1.3zM148.3 37.1h0.8v0.8h-0.8zM161.4 53.1h1.3v1.3h-1.3zM160.4 58.4h0.9v0.9h-0.9zM19.9 105.5h1.2v1.2h-1.2zM23.9 79.4h0.8v0.8h-0.8zM18.3 87.1h1.2v1.2h-1.2zM16.7 91.8h0.9v0.9h-0.9zM16.4 83.9h1v1h-1zM44.9 104.6h1.4v1.4h-1.4zM45 92.5h1.2v1.2h-1.2zM15.5 97.9h1.1v1.1h-1.1zM30.5 105.8h0.7v0.7h-0.7zM20.9 106.3h0.7v0.7h-0.7zM44.9 105.2h0.9v0.9h-0.9zM44.6 97.4h1.1v1.1h-1.1zM43.6 99.7h1.3v1.3h-1.3zM46 82.9h1.2v1.2h-1.2zM21.5 105.2h1.4v1.4h-1.4zM45.9 101h1v1h-1zM17.8 79.6h0.9v0.9h-0.9zM26.5 79.2h0.8v0.8h-0.8zM39.1 79h0.9v0.9h-0.9zM35.1 106.6h0.8v0.8h-0.8zM16.4 86.3h0.9v0.9h-0.9zM45.5 88.8h1v1h-1zM36.7 78.9h1.3v1.3h-1.3zM24.3 80.4h1v1h-1zM17 101.7h1.2v1.2h-1.2zM44.2 93.1h1.2v1.2h-1.2zM16.3 90.7h1.2v1.2h-1.2zM42.4 78.8h1.1v1.1h-1.1zM45.8 95.9h1.1v1.1h-1.1zM43 107.3h1.4v1.4h-1.4zM25.6 78.8h0.9v0.9h-0.9zM46.5 86.2h1v1h-1zM30.5 78.2h1.4v1.4h-1.4zM45.6 80.8h1.1v1.1h-1.1zM25.6 80.2h1.3v1.3h-1.3zM79.4 79.9h0.8v0.8h-0.8zM60 79.9h0.7v0.7h-0.7zM59.5 92.6h1.2v1.2h-1.2zM65.1 79h1.2v1.2h-1.2zM64.6 105.4h1.4v1.4h-1.4zM84.7 107.5h1.2v1.2h-1.2zM60.5 80.2h1v1h-1zM87.2 92.3h1v1h-1zM85.2 101h1.1v1.1h-1.1zM67.1 81.3h1.2v1.2h-1.2zM59.7 86.7h1v1h-1zM58.9 91.6h0.8v0.8h-0.8zM65.2 81.2h1.2v1.2h-1.2zM65.6 80h1.3v1.3h-1.3zM60.6 80.5h1v1h-1zM60.3 92.4h1.2v1.2h-1.2zM61.7 106.5h0.8v0.8h-0.8zM86.6 81.5h0.8v0.8h-0.8zM85 81.5h1.2v1.2h-1.2zM58.9 101.6h1v1h-1zM84 106.8h0.7v0.7h-0.7zM60.5 82.3h1.1v1.1h-1.1zM59.1 95h0.9v0.9h-0.9zM87.2 84.2h1.1v1.1h-1.1zM87.2 101.2h1v1h-1zM84.8 79.7h0.8v0.8h-0.8zM87.6 90.7h0.8v0.8h-0.8zM85.4 91.1h0.8v0.8h-0.8zM84 78.9h1v1h-1zM76.4 78.7h1.1v1.1h-1.1zM60.6 80.5h1.1v1.1h-1.1zM86.5 88.5h1v1h-1zM76.4 80h1.2v1.2h-1.2zM71.8 107.3h0.9v0.9h-0.9zM97.4 92.1h1.3v1.3h-1.3zM110.7 78.7h0.8v0.8h-0.8zM126 85.1h0.7v0.7h-0.7zM104.1 107.8h1.2v1.2h-1.2zM98.4 106.5h1.1v1.1h-1.1zM126.3 84.7h0.9v0.9h-0.9zM109.3 107h0.7v0.7h-0.7zM97.6 79.7h1.4v1.4h-1.4zM110.9 77.9h0.9v0.9h-0.9zM122.4 106.8h1.3v1.3h-1.3zM109.8 79h1.3v1.3h-1.3zM127.9 94.3h0.9v0.9h-0.9zM111.3 78.7h1v1h-1zM126.7 106.3h0.8v0.8h-0.8zM127.5 80h1.2v1.2h-1.2zM115.2 79.7h0.7v0.7h-0.7zM100.5 106.3h1v1h-1zM100.4 79.9h1.2v1.2h-1.2zM96.8 99h1.3v1.3h-1.3zM99 77.9h1.1v1.1h-1.1zM101.8 78.2h1v1h-1zM103.1 106.9h1v1h-1zM104.5 108.1h1.1v1.1h-1.1zM102.2 105.5h1v1h-1zM126.7 105h0.8v0.8h-0.8zM127.4 93.1h1.3v1.3h-1.3zM112 108.2h0.9v0.9h-0.9zM125.4 107.6h1v1h-1zM127 102h1.3v1.3h-1.3zM126.9 77.5h1.4v1.4h-1.4zM145.7 76.8h1.4v1.4h-1.4zM162.7 104.7h0.9v0.9h-0.9zM145.4 78.6h1.2v1.2h-1.2zM162.3 95.3h1v1h-1zM155.8 106.8h1.2v1.2h-1.2zM156.6 104.5h1.3v1.3h-1.3zM146.7 106.4h1.2v1.2h-1.2zM149.4 105h1v1h-1zM151.6 104.6h1v1h-1zM143.2 105.4h1.1v1.1h-1.1zM140.2 97.7h1.2v1.2h-1.2zM144.6 106.9h1.2v1.2h-1.2zM161.3 96.6h0.7v0.7h-0.7zM160.1 79.5h0.7v0.7h-0.7zM140.8 103.4h1.1v1.1h-1.1zM161.3 93.7h1.1v1.1h-1.1zM140.4 83.2h1.2v1.2h-1.2zM152.7 106.5h0.9v0.9h-0.9zM161.2 106.5h0.8v0.8h-0.8zM160.8 101.4h0.9v0.9h-0.9zM157.1 78.2h0.8v0.8h-0.8zM147 77.7h0.8v0.8h-0.8zM161.8 91.9h0.8v0.8h-0.8zM141.7 90.8h1v1h-1zM160.1 103h1.4v1.4h-1.4zM143 77h1.3v1.3h-1.3zM144.8 78.7h0.8v0.8h-0.8zM-5.2 22.2h0.9v0.9h-0.9zM-6.4 14.6h1.1v1.1h-1.1zM-6.3 22.8h0.9v0.9h-0.9zM-1.6 22.1h1v1h-1zM-7.1 12.1h0.9v0.9h-0.9zM2.7 14.8h1.1v1.1h-1.1zM-0.4 22.6h1.1v1.1h-1.1zM-6.4 19.2h0.9v0.9h-0.9zM-3.3 22.2h1.3v1.3h-1.3zM-6.4 12.7h0.9v0.9h-0.9zM-2.9 21.4h1.3v1.3h-1.3zM-5.5 10.5h1.1v1.1h-1.1zM-7.1 41.4h1v1h-1zM-4.3 39.5h1.3v1.3h-1.3zM-5.7 64.4h1v1h-1zM-1.2 38.5h1.2v1.2h-1.2zM-6.9 45h1.2v1.2h-1.2zM-7.7 48.1h1.1v1.1h-1.1zM-7.3 64.6h0.9v0.9h-0.9zM-2.4 64.5h1.2v1.2h-1.2zM-1.8 66.8h1.1v1.1h-1.1zM-7.4 49.8h1.2v1.2h-1.2zM2 46.5h1.3v1.3h-1.3zM-5.1 63.3h1.2v1.2h-1.2zM-7.1 52.7h0.9v0.9h-0.9zM1.4 46.7h1.1v1.1h-1.1zM-6 37.3h0.9v0.9h-0.9zM3.9 60h0.8v0.8h-0.8zM2.3 37.4h1.2v1.2h-1.2zM-6.7 46h1.4v1.4h-1.4zM1.8 44.1h0.7v0.7h-0.7zM3.9 60.3h0.9v0.9h-0.9zM3.9 55.3h1v1h-1zM-2.3 66h1.2v1.2h-1.2zM1.8 51.3h0.7v0.7h-0.7zM3.3 39.1h0.9v0.9h-0.9zM2.3 52.5h1.3v1.3h-1.3zM-1.2 78.8h0.8v0.8h-0.8zM3.6 87.5h0.8v0.8h-0.8zM1.7 83.8h1.1v1.1h-1.1zM-6.9 89.3h1.3v1.3h-1.3zM3.3 88.2h1.3v1.3h-1.3zM-5.6 85.1h0.9v0.9h-0.9zM-7.4 83.1h0.9v0.9h-0.9zM-4.5 107.4h1.3v1.3h-1.3zM-5.4 82.2h1.3v1.3h-1.3zM-5 96.6h0.9v0.9h-0.9zM2.3 105.3h1.3v1.3h-1.3zM-5.1 86.7h0.8v0.8h-0.8zM-5.7 102.6h1.1v1.1h-1.1zM-5.8 106.8h1v1h-1zM-5.9 99.8h1.2v1.2h-1.2zM1.7 105.1h1.4v1.4h-1.4zM-7.1 104.3h1.2v1.2h-1.2zM-5.9 78.8h1.3v1.3h-1.3zM-5.8 96.5h0.7v0.7h-0.7zM1.9 79.2h1.1v1.1h-1.1zM-3.4 105h0.9v0.9h-0.9zM-7.1 88.9h1.1v1.1h-1.1zM-6.4 85.9h1v1h-1zM2.6 78.5h1v1h-1zM-6.5 91.2h1v1h-1zM2.8 103.2h0.9v0.9h-0.9zM31.8 25.5h0.7v0.7h-0.7zM15.1 19h0.7v0.7h-0.7zM32.5 8.8h0.9v0.9h-0.9zM17.6 26.2h1.2v1.2h-1.2zM27.1 25.7h0.9v0.9h-0.9zM44.4 15.6h0.7v0.7h-0.7zM35.3 25h0.7v0.7h-0.7zM45.6 18.4h1.4v1.4h-1.4zM44.9 19.8h1.3v1.3h-1.3zM31.5 8.2h1.1v1.1h-1.1zM18.7 6.6h1.3v1.3h-1.3zM14 11.2h1.3v1.3h-1.3zM33.5 25h0.9v0.9h-0.9zM21 7.4h0.9v0.9h-0.9zM46.1 12.3h0.8v0.8h-0.8zM25.8 7h0.9v0.9h-0.9zM31.1 7h0.8v0.8h-0.8zM14.6 19.4h0.7v0.7h-0.7zM13.5 12.2h1.3v1.3h-1.3zM39.4 6.8h1.4v1.4h-1.4zM46.5 10.5h0.9v0.9h-0.9zM39.2 8.8h0.7v0.7h-0.7zM16 25.6h1.2v1.2h-1.2zM22 6.6h1.3v1.3h-1.3zM78.3 6.5h1.1v1.1h-1.1zM84.9 22.9h1.2v1.2h-1.2zM86.9 16.6h1.5v1.5h-1.5zM86 12.5h0.8v0.8h-0.8zM69.4 6.2h0.9v0.9h-0.9zM61.8 23.9h1v1h-1zM79.5 8.5h1.2v1.2h-1.2zM65.2 26.5h0.8v0.8h-0.8zM58.4 23.5h1.5v1.5h-1.5zM79.3 23.8h1.1v1.1h-1.1zM60.1 26.6h0.8v0.8h-0.8zM87.2 15.7h1.2v1.2h-1.2zM55.8 21.4h1.2v1.2h-1.2zM87.3 14.9h1.3v1.3h-1.3zM55.4 13.1h1.3v1.3h-1.3zM72.6 25.1h0.9v0.9h-0.9zM73.8 8.4h0.7v0.7h-0.7zM66.3 24.7h0.8v0.8h-0.8zM74.9 24.6h1v1h-1zM74.6 25.3h1.2v1.2h-1.2zM61.6 7h0.8v0.8h-0.8zM57.3 24.6h1.3v1.3h-1.3zM62.5 23.6h1v1h-1zM116.2 8.9h1.2v1.2h-1.2zM101.4 6.6h0.9v0.9h-0.9zM110 23.9h1.3v1.3h-1.3zM98.5 6.7h1.1v1.1h-1.1zM116.5 7.6h1v1h-1zM96.1 16.4h0.8v0.8h-0.8zM129.2 13h1v1h-1zM127 10.6h1.5v1.5h-1.5zM103.7 9h0.7v0.7h-0.7zM120 25.5h1.5v1.5h-1.5zM105.1 7.9h1.2v1.2h-1.2zM95.4 13.9h0.9v0.9h-0.9zM106.9 6.9h1.5v1.5h-1.5zM129.7 12.6h0.8v0.8h-0.8zM108.5 25.4h0.8v0.8h-0.8zM101.5 24.3h0.7v0.7h-0.7zM126 25.3h1.5v1.5h-1.5zM129.2 11.9h1v1h-1zM98.5 24.9h1.1v1.1h-1.1zM113.5 23.9h1.2v1.2h-1.2zM96 16h1.2v1.2h-1.2zM124.8 24.1h1.5v1.5h-1.5zM95.2 20.8h1.4v1.4h-1.4zM94.2 13.6h1.3v1.3h-1.3zM156.1 25.3h1.3v1.3h-1.3zM133.9 14.4h1.5v1.5h-1.5zM160.9 26.1h0.9v0.9h-0.9zM139.7 8.9h0.8v0.8h-0.8zM163.7 16.6h1.2v1.2h-1.2zM163.7 18.6h1.5v1.5h-1.5zM140 7.4h1.4v1.4h-1.4zM156.2 9h0.9v0.9h-0.9zM147.2 25.5h0.9v0.9h-0.9zM139.7 8h1.3v1.3h-1.3zM142 25.8h1.2v1.2h-1.2zM157.9 24.2h1.2v1.2h-1.2zM163.6 12.6h1.1v1.1h-1.1zM138.9 7.4h1.3v1.3h-1.3zM151.4 7.6h1.1v1.1h-1.1zM150.1 7.3h1.2v1.2h-1.2zM148.2 8.7h1.1v1.1h-1.1zM164.4 18h1v1h-1zM45.8 47.4h1.4v1.4h-1.4zM43.6 36.4h1.1v1.1h-1.1zM36.8 66.3h0.8v0.8h-0.8zM13.9 60.2h1.3v1.3h-1.3zM15.2 39.6h0.9v0.9h-0.9zM14.8 61.3h0.9v0.9h-0.9zM31.9 68.2h1.4v1.4h-1.4zM30.6 36.8h1.1v1.1h-1.1zM16.9 37.3h1.4v1.4h-1.4zM15.2 38.9h0.9v0.9h-0.9zM15 52h0.8v0.8h-0.8zM48.6 39.3h0.7v0.7h-0.7zM19.5 67.9h0.9v0.9h-0.9zM46.1 63.4h1.1v1.1h-1.1zM35.3 37.6h0.9v0.9h-0.9zM46.8 49.1h0.9v0.9h-0.9zM34.1 67.6h0.8v0.8h-0.8zM26.6 66.1h1.1v1.1h-1.1zM47.2 47.8h1v1h-1zM14.3 48.8h1v1h-1zM13.6 61.5h1v1h-1zM47.4 61.3h1.2v1.2h-1.2zM28.6 66.1h1v1h-1zM16 41.2h0.7v0.7h-0.7zM27.2 36h0.7v0.7h-0.7zM34.3 66.8h0.8v0.8h-0.8zM43.1 35.6h0.9v0.9h-0.9zM16.4 39h1.1v1.1h-1.1zM35 36.3h0.7v0.7h-0.7zM73.2 36h1.1v1.1h-1.1zM56.5 57.2h1.1v1.1h-1.1zM69.6 67.4h1.3v1.3h-1.3zM86.8 49.6h0.7v0.7h-0.7zM87.6 54.6h0.9v0.9h-0.9zM65.5 66.4h0.7v0.7h-0.7zM74.3 65.8h1.4v1.4h-1.4zM87.8 52.1h1v1h-1zM85.4 36.4h1.2v1.2h-1.2zM63.2 65.7h1.1v1.1h-1.1zM69.8 67.2h1.1v1.1h-1.1zM81.7 67.6h0.9v0.9h-0.9zM88 42.9h1.4v1.4h-1.4zM87.4 57.7h1.2v1.2h-1.2zM68.5 35.8h1v1h-1zM63.1 37.1h0.8v0.8h-0.8zM88 57h0.8v0.8h-0.8zM87 58.3h1.5v1.5h-1.5zM86.9 51.8h1.4v1.4h-1.4zM56.2 59.5h1v1h-1zM86.5 57h1v1h-1zM71.1 36h1.4v1.4h-1.4zM87.6 57.3h0.9v0.9h-0.9zM67.7 67.4h1.2v1.2h-1.2zM67 65.6h1.2v1.2h-1.2zM75.6 34.5h1.1v1.1h-1.1zM87.2 59.8h1.2v1.2h-1.2zM70.2 35.7h0.8v0.8h-0.8zM56.7 62.9h1.3v1.3h-1.3zM73.7 68.2h1.1v1.1h-1.1zM127.4 43.4h0.7v0.7h-0.7zM95.3 50.3h1v1h-1zM127.6 65.5h0.9v0.9h-0.9zM115.3 67.9h1.3v1.3h-1.3zM120.1 67h1.2v1.2h-1.2zM128.2 45h1.2v1.2h-1.2zM99.5 67.9h0.7v0.7h-0.7zM124.7 37.3h0.7v0.7h-0.7zM121.8 35.1h0.9v0.9h-0.9zM117.8 35.2h0.7v0.7h-0.7zM106.4 34.9h1.5v1.5h-1.5zM95.1 55.4h1v1h-1zM104.3 67.8h1.1v1.1h-1.1zM106.3 36.8h0.8v0.8h-0.8zM126.4 61.8h1.1v1.1h-1.1zM111.4 35.1h0.9v0.9h-0.9zM128.8 43.8h0.8v0.8h-0.8zM100.8 34.3h1.3v1.3h-1.3zM116.1 68.5h1.5v1.5h-1.5zM104.7 68.8h0.9v0.9h-0.9zM110.4 67.5h1.3v1.3h-1.3zM100.2 34.1h1v1h-1zM129 51h1.2v1.2h-1.2zM97 55.4h1v1h-1zM95.3 54.2h1.4v1.4h-1.4zM94.8 46.1h1.4v1.4h-1.4zM97.2 43h0.9v0.9h-0.9zM119.4 35.5h1v1h-1zM140.1 67.8h0.8v0.8h-0.8zM140.8 67.1h0.7v0.7h-0.7zM151.3 36.6h1.5v1.5h-1.5zM135.3 63.5h0.7v0.7h-0.7zM149.5 66.5h0.8v0.8h-0.8zM138.5 35.6h0.7v0.7h-0.7zM163.5 39.2h0.9v0.9h-0.9zM162.3 52.7h0.9v0.9h-0.9zM163.2 41.1h1.3v1.3h-1.3zM136.6 50h1.2v1.2h-1.2zM158.3 34h1.4v1.4h-1.4zM149.2 34.6h1.1v1.1h-1.1zM142.1 66.9h1.3v1.3h-1.3zM134.8 54.4h0.7v0.7h-0.7zM150.9 67.4h1.1v1.1h-1.1zM161.4 34.1h0.7v0.7h-0.7zM148.6 34.2h0.9v0.9h-0.9zM158.7 35.4h1.5v1.5h-1.5zM160.5 36.3h1v1h-1zM134.7 55.6h1.4v1.4h-1.4zM142.5 34.7h1.1v1.1h-1.1zM163.1 57h1.5v1.5h-1.5zM140.7 36.6h1.2v1.2h-1.2zM158.3 36.2h0.7v0.7h-0.7zM151.8 67.3h1.3v1.3h-1.3zM153.5 36.6h1.4v1.4h-1.4zM164.5 54.2h1.5v1.5h-1.5zM160.1 35.6h0.8v0.8h-0.8zM143.1 65.9h0.9v0.9h-0.9zM157.9 35.9h1.3v1.3h-1.3zM162.4 54.5h1.3v1.3h-1.3zM32.3 76.1h1.3v1.3h-1.3zM46.9 105.7h0.7v0.7h-0.7zM48.1 81.7h1.3v1.3h-1.3zM25.8 76.6h1.1v1.1h-1.1zM37.2 109.5h1.2v1.2h-1.2zM14.1 94.1h0.9v0.9h-0.9zM41.3 108.1h1.4v1.4h-1.4zM36.7 106.7h1.2v1.2h-1.2zM30 106.7h1.3v1.3h-1.3zM14.4 84.1h1.3v1.3h-1.3zM37.5 78.6h0.9v0.9h-0.9zM30.6 77h1.1v1.1h-1.1zM15.3 94.4h0.9v0.9h-0.9zM33.8 107.3h0.9v0.9h-0.9zM48.6 79.4h0.7v0.7h-0.7zM15.3 98h1.5v1.5h-1.5zM44.5 109.5h1.3v1.3h-1.3zM38.4 77h1.2v1.2h-1.2zM32.4 107.5h0.8v0.8h-0.8zM26.8 76.5h1.1v1.1h-1.1zM21.3 77.6h0.7v0.7h-0.7zM43.5 109.5h1.5v1.5h-1.5zM47.5 88.4h0.7v0.7h-0.7zM47.4 86.4h1.5v1.5h-1.5zM48.4 97h1.2v1.2h-1.2zM29.4 109.3h0.8v0.8h-0.8zM42 77.5h1.1v1.1h-1.1zM69.1 107.6h0.9v0.9h-0.9zM56.7 94h1v1h-1zM88.1 99.8h1.5v1.5h-1.5zM58.7 81.8h1.3v1.3h-1.3zM74.9 110.2h0.8v0.8h-0.8zM79.7 107.5h1.2v1.2h-1.2zM82.5 77.9h0.9v0.9h-0.9zM81.3 109.4h1.2v1.2h-1.2zM55.9 80.5h1.2v1.2h-1.2zM88 85.7h0.8v0.8h-0.8zM76.1 109.1h1.2v1.2h-1.2zM88.9 88.4h1.3v1.3h-1.3zM64.1 107.5h1.5v1.5h-1.5zM56 101.5h1.1v1.1h-1.1zM57.7 95h1v1h-1zM89.4 80.3h1.5v1.5h-1.5zM89.9 95.6h1.4v1.4h-1.4zM89.8 104.9h1.2v1.2h-1.2zM79.4 108h1.3v1.3h-1.3zM87.9 84.8h1.1v1.1h-1.1zM74.9 110.3h0.8v0.8h-0.8zM89.8 87.9h0.7v0.7h-0.7zM73 107.4h1.2v1.2h-1.2zM80.8 77.6h1.1v1.1h-1.1zM62.8 107.7h1.3v1.3h-1.3zM89.2 94.4h1.3v1.3h-1.3zM89.3 85h1.1v1.1h-1.1zM58.7 103.2h1v1h-1zM71.4 77.9h0.8v0.8h-0.8zM81.6 76.1h1.4v1.4h-1.4zM128.8 91.5h0.8v0.8h-0.8zM102.5 107.3h1.4v1.4h-1.4zM110.5 77.9h1.1v1.1h-1.1zM97.3 97h0.8v0.8h-0.8zM118.5 76.2h1v1h-1zM107.8 109.1h1.1v1.1h-1.1zM125.5 109.5h1.1v1.1h-1.1zM115.3 110.4h0.8v0.8h-0.8zM129.2 95.3h1.3v1.3h-1.3zM110.8 107.2h1.1v1.1h-1.1zM99.6 77.1h1.5v1.5h-1.5zM96.6 99.3h0.8v0.8h-0.8zM130.8 91.9h0.8v0.8h-0.8zM108.7 109.3h1.1v1.1h-1.1zM125.2 76.6h1.1v1.1h-1.1zM120.6 75.8h1.2v1.2h-1.2zM129.1 99.4h1v1h-1zM127.8 102.7h1.2v1.2h-1.2zM129.5 90.5h1v1h-1zM96.9 79.3h1.5v1.5h-1.5zM129.3 82.7h1.2v1.2h-1.2zM96.1 99.2h0.7v0.7h-0.7zM128.9 99.5h0.8v0.8h-0.8zM110.3 76.1h1v1h-1zM129.3 101.5h0.9v0.9h-0.9zM123.8 77.7h1.2v1.2h-1.2zM130.4 92.7h1.4v1.4h-1.4zM128 98.5h1.1v1.1h-1.1zM122.3 77.4h1v1h-1zM96.4 103.9h1.4v1.4h-1.4zM129.2 83.8h1v1h-1zM162.5 101.9h1.4v1.4h-1.4zM157.8 76.3h1.1v1.1h-1.1zM163.4 99.5h1.4v1.4h-1.4zM137.4 85.5h1.1v1.1h-1.1zM164.7 97.1h1.3v1.3h-1.3zM161.7 104.4h1.4v1.4h-1.4zM137.9 98.4h1.4v1.4h-1.4zM162 101.8h1.4v1.4h-1.4zM164.7 86.4h0.8v0.8h-0.8zM151.1 107.9h1.1v1.1h-1.1zM147.1 108h1.2v1.2h-1.2zM136.8 93.4h1.1v1.1h-1.1zM163.8 102.2h1.4v1.4h-1.4zM162.3 86.8h1.1v1.1h-1.1zM139.7 97h1.3v1.3h-1.3zM163 82.9h1.3v1.3h-1.3zM157.8 77h1v1h-1zM138.6 83.1h1.4v1.4h-1.4zM151.2 108.3h1.1v1.1h-1.1zM156.9 108.6h0.9v0.9h-0.9zM158 108.2h0.8v0.8h-0.8zM163.9 102.3h0.8v0.8h-0.8zM163.7 98.5h1.5v1.5h-1.5zM139 90.4h1v1h-1zM163.1 78.8h1.3v1.3h-1.3zM140.8 109h0.9v0.9h-0.9zM139.2 92h0.9v0.9h-0.9zM137.8 96h0.8v0.8h-0.8zM137.2 95.1h1.2v1.2h-1.2zM158.9 77.2h0.8v0.8h-0.8zM142.9 106.7h1.3v1.3h-1.3zM153.5 76.3h1.3v1.3h-1.3zM163.2 82.3h1.3v1.3h-1.3zM2.1 23.4h1.4v1.4h-1.4zM-6.5 24.3h0.9v0.9h-0.9zM5.7 20.9h1.2v1.2h-1.2zM-8.6 14h0.8v0.8h-0.8zM0.5 6.2h1.4v1.4h-1.4zM-9.1 9.9h0.8v0.8h-0.8zM-9.1 18.8h0.8v0.8h-0.8zM1.5 23.5h1.4v1.4h-1.4zM2.4 7.1h1.3v1.3h-1.3zM5.8 10.5h0.8v0.8h-0.8zM-0 25.8h1.2v1.2h-1.2zM-4.8 34.7h1.4v1.4h-1.4zM-7.1 56.1h1.2v1.2h-1.2zM-9 52.6h0.8v0.8h-0.8zM4.5 55.3h1.5v1.5h-1.5zM-7.8 44.9h1.4v1.4h-1.4zM-2.2 38.1h1v1h-1zM4.6 62.5h1.3v1.3h-1.3zM-9.6 47h0.9v0.9h-0.9zM-6.7 53.9h0.7v0.7h-0.7zM5.5 48.8h1.1v1.1h-1.1zM-0.7 68.5h1.3v1.3h-1.3zM-7.1 60.5h1v1h-1zM-8 55.9h0.7v0.7h-0.7zM-9.5 57.7h1.2v1.2h-1.2zM1.2 36h1.4v1.4h-1.4zM-8 57.3h0.8v0.8h-0.8zM-7.4 53.9h0.8v0.8h-0.8zM-7.4 56h1v1h-1zM-9.7 45.4h1.2v1.2h-1.2zM-8.1 51.2h0.9v0.9h-0.9zM-7.5 64.3h1.3v1.3h-1.3zM5.5 59.9h1.4v1.4h-1.4zM1.7 66.4h1.4v1.4h-1.4zM-4.2 35h1v1h-1zM0.7 34.9h1.2v1.2h-1.2zM-8.5 55.3h1.4v1.4h-1.4zM-7.9 61.9h1.2v1.2h-1.2zM-8.3 58.8h0.9v0.9h-0.9zM-1.3 67.9h1.2v1.2h-1.2zM-8.5 48h0.9v0.9h-0.9zM6.1 99.8h0.8v0.8h-0.8zM2.3 109.2h1.3v1.3h-1.3zM0.2 75.6h1.4v1.4h-1.4zM-7.2 93.6h0.8v0.8h-0.8zM5.9 103.8h1.1v1.1h-1.1zM-9.1 98.9h0.9v0.9h-0.9zM-3.1 109.3h0.9v0.9h-0.9zM-4.7 109h1v1h-1zM0.8 106.9h1.4v1.4h-1.4zM4.4 91.1h1v1h-1zM-8.5 96.8h0.9v0.9h-0.9zM0.7 109h1v1h-1zM-9.7 103h1.2v1.2h-1.2zM-2.6 108.5h1.4v1.4h-1.4zM3.8 84.6h1.2v1.2h-1.2zM-9.3 100.4h1.4v1.4h-1.4zM-4.6 77.4h0.9v0.9h-0.9zM-7.3 93.1h1v1h-1zM3.4 94.3h0.8v0.8h-0.8zM5.7 106.2h1.3v1.3h-1.3zM1.3 108.2h1v1h-1z"/><path fill="#222" d="M41.4 21h0.7v0.7h-0.7zM40.4 22.2h0.8v0.8h-0.8zM42.3 22.5h1.4v1.4h-1.4zM17.1 22.6h1.3v1.3h-1.3zM37.5 20.8h0.9v0.9h-0.9zM38.7 11.8h0.9v0.9h-0.9zM36.4 9.5h1.2v1.2h-1.2zM21.1 10.8h0.8v0.8h-0.8zM37.6 22.7h1.4v1.4h-1.4zM36.5 11.2h1.2v1.2h-1.2zM42.3 17.2h0.7v0.7h-0.7zM33.5 20.7h1v1h-1zM23.6 21.7h1v1h-1zM15 22.3h1.3v1.3h-1.3zM17.4 20.4h0.9v0.9h-0.9zM76.7 10.5h1.3v1.3h-1.3zM60.5 21h0.8v0.8h-0.8zM71.2 22.2h0.9v0.9h-0.9zM57.5 21.3h1.3v1.3h-1.3zM82.3 12h0.7v0.7h-0.7zM84.3 11.7h1.3v1.3h-1.3zM57.9 11.5h0.9v0.9h-0.9zM69 10.9h0.8v0.8h-0.8zM57.6 20.2h0.9v0.9h-0.9zM66.6 21.1h1.2v1.2h-1.2zM69.5 11.2h1.2v1.2h-1.2zM61.1 10h1.2v1.2h-1.2zM72.2 11.7h0.9v0.9h-0.9zM84.1 23h1v1h-1zM82.7 19.5h1.1v1.1h-1.1zM125.6 20.5h0.8v0.8h-0.8zM101.3 11h1.2v1.2h-1.2zM121.3 9.2h1.2v1.2h-1.2zM106.1 21.8h1.1v1.1h-1.1zM99.8 11.1h0.9v0.9h-0.9zM100.8 10.7h0.8v0.8h-0.8zM124.1 11.7h0.8v0.8h-0.8zM124.1 9.9h1.1v1.1h-1.1zM99 12h1.1v1.1h-1.1zM98.7 22.1h1.2v1.2h-1.2zM98.2 10.2h1.1v1.1h-1.1zM99.4 21.4h0.8v0.8h-0.8zM99.7 22.8h1.2v1.2h-1.2zM125.3 10.7h0.9v0.9h-0.9zM125.5 20.5h0.9v0.9h-0.9zM115.4 21.4h1.4v1.4h-1.4zM126 22.6h0.8v0.8h-0.8zM98.6 10.7h1.1v1.1h-1.1zM124.8 22.5h0.8v0.8h-0.8zM96.6 22.1h1.3v1.3h-1.3zM139.7 11.5h1v1h-1zM160.1 22.9h1v1h-1zM137.5 20.8h1.2v1.2h-1.2zM160.9 13.5h1v1h-1zM137.3 17.7h0.7v0.7h-0.7zM148.9 23h0.8v0.8h-0.8zM158.4 21.9h1.2v1.2h-1.2zM150.4 12h0.7v0.7h-0.7zM142.2 9h1.4v1.4h-1.4zM137.3 11.3h1.4v1.4h-1.4zM152.5 21.5h1.4v1.4h-1.4zM157.7 9.8h0.8v0.8h-0.8zM152.9 10h0.8v0.8h-0.8zM138.9 21.6h0.9v0.9h-0.9zM160.4 18.2h0.7v0.7h-0.7zM145.2 10.1h0.9v0.9h-0.9zM159.3 21.2h1.3v1.3h-1.3zM155.9 9.7h1.2v1.2h-1.2zM149.8 21.4h1.3v1.3h-1.3zM139.2 9.9h1v1h-1zM154.9 10.2h1.1v1.1h-1.1zM159.2 11.9h1.3v1.3h-1.3zM18.9 44.8h1.3v1.3h-1.3zM20.1 40.4h0.9v0.9h-0.9zM40.3 63.7h0.9v0.9h-0.9zM27.5 63.7h0.9v0.9h-0.9zM16.6 47h1.3v1.3h-1.3zM44.4 50.9h1.3v1.3h-1.3zM28.1 38.7h1.3v1.3h-1.3zM35.6 39.8h1v1h-1zM17.5 58.2h1.2v1.2h-1.2zM41.9 66h1.3v1.3h-1.3zM44.1 63.6h0.8v0.8h-0.8zM34.3 66.1h1.3v1.3h-1.3zM28.7 40.5h1.2v1.2h-1.2zM16.9 40.2h0.8v0.8h-0.8zM42.7 64h1v1h-1zM25.9 40.7h1.1v1.1h-1.1zM33.5 65.1h1.1v1.1h-1.1zM16.7 43.2h0.8v0.8h-0.8zM42.6 64.2h1.3v1.3h-1.3zM44.2 65.1h1.2v1.2h-1.2zM17.4 45.4h1.1v1.1h-1.1zM37.5 39.9h1.2v1.2h-1.2zM18 45.6h1.3v1.3h-1.3zM24.5 38.4h0.8v0.8h-0.8zM29.7 38.2h1.3v1.3h-1.3zM31 64.1h1v1h-1zM44.8 52h1.1v1.1h-1.1zM44.1 40.7h0.8v0.8h-0.8zM69.6 64h1.2v1.2h-1.2zM58.8 45.7h1.1v1.1h-1.1zM72.4 38.1h1.1v1.1h-1.1zM65.5 65h1v1h-1zM86.4 57.7h0.9v0.9h-0.9zM60.3 50h0.8v0.8h-0.8zM58.3 39.8h0.8v0.8h-0.8zM84.4 39.1h0.8v0.8h-0.8zM61.2 39.2h0.8v0.8h-0.8zM85.3 65.4h0.8v0.8h-0.8zM69.6 39h0.9v0.9h-0.9zM86 63.8h0.9v0.9h-0.9zM84.3 64.7h1.1v1.1h-1.1zM84.3 40.2h1.1v1.1h-1.1zM61.5 37.4h1.1v1.1h-1.1zM59.4 38.8h0.7v0.7h-0.7zM60.1 63.9h0.8v0.8h-0.8zM85.7 54.8h0.9v0.9h-0.9zM65.8 63.1h0.8v0.8h-0.8zM58.4 50h1v1h-1zM62.1 64.8h1.2v1.2h-1.2zM84.5 54.4h1.2v1.2h-1.2zM58.4 63.2h1.1v1.1h-1.1zM81 63h1.2v1.2h-1.2zM76.6 65.2h0.8v0.8h-0.8zM101.9 39.7h0.7v0.7h-0.7zM100.7 65h0.9v0.9h-0.9zM115.5 39.9h0.8v0.8h-0.8zM101.3 64.6h1v1h-1zM98.6 61.7h1.3v1.3h-1.3zM97.5 56.9h0.8v0.8h-0.8zM104.7 65.2h1v1h-1zM99.3 55.3h0.9v0.9h-0.9zM97.9 50.6h1.1v1.1h-1.1zM116.4 39.4h1.1v1.1h-1.1zM124.4 57.7h0.8v0.8h-0.8zM125.8 46.7h1.2v1.2h-1.2zM98.4 59.6h1.1v1.1h-1.1zM98.7 42h1.3v1.3h-1.3zM99.5 38.8h1.4v1.4h-1.4zM125.3 64.8h1.1v1.1h-1.1zM99.5 38.1h1v1h-1zM124.2 38.5h1.1v1.1h-1.1zM125.8 62.4h0.7v0.7h-0.7zM98.3 38.1h1v1h-1zM112.7 39.1h0.7v0.7h-0.7zM98.3 56.5h1.4v1.4h-1.4zM111.3 64.4h1v1h-1zM97.7 50.2h1.1v1.1h-1.1zM104.7 38.4h1v1h-1zM113.8 64.3h1.3v1.3h-1.3zM103.6 64.8h1.3v1.3h-1.3zM124 45.1h1.3v1.3h-1.3zM115.1 37.6h1v1h-1zM125.8 56.3h1v1h-1zM125.9 38.4h1v1h-1zM125.2 55.3h1.2v1.2h-1.2zM119.1 39.4h1.4v1.4h-1.4zM151.4 63.1h0.9v0.9h-0.9zM138.7 59.1h1.2v1.2h-1.2zM161.7 45.1h1.4v1.4h-1.4zM140.1 56.2h1.3v1.3h-1.3zM149.7 38.4h1v1h-1zM160 61.4h1.3v1.3h-1.3zM139.6 47.5h0.8v0.8h-0.8zM160.9 54.6h1v1h-1zM161.7 40.9h1.3v1.3h-1.3zM140.5 57.8h1.1v1.1h-1.1zM160 53.3h1v1h-1zM144.7 64.9h1.1v1.1h-1.1zM146.9 37.3h1.2v1.2h-1.2zM160.8 41.4h0.8v0.8h-0.8zM144.3 38.6h0.9v0.9h-0.9zM160.4 57.1h1.4v1.4h-1.4zM160.5 45.4h0.9v0.9h-0.9zM160.6 48.7h0.7v0.7h-0.7zM138.5 56.6h1v1h-1zM42.9 105.8h1v1h-1zM30.5 79.1h1.4v1.4h-1.4zM33.2 104.4h0.9v0.9h-0.9zM16.8 106.1h0.9v0.9h-0.9zM18.9 80.4h0.9v0.9h-0.9zM45.3 104.8h0.9v0.9h-0.9zM45.1 99.2h1.2v1.2h-1.2zM44.8 97.1h1.1v1.1h-1.1zM44.3 81.2h1.3v1.3h-1.3zM16.5 91.6h1.3v1.3h-1.3zM18.8 90.9h1v1h-1zM40.1 105.1h0.9v0.9h-0.9zM38 104.7h0.8v0.8h-0.8zM34.9 80.9h1v1h-1zM30.2 104.5h1v1h-1zM21 105.1h1.3v1.3h-1.3zM45.6 98.2h1.1v1.1h-1.1zM16.7 95.7h0.8v0.8h-0.8zM45.5 90.8h0.8v0.8h-0.8zM37.4 79.9h0.9v0.9h-0.9zM44.7 79.7h1.1v1.1h-1.1zM45.3 98.6h0.7v0.7h-0.7zM20 81.1h0.9v0.9h-0.9zM18.1 93.6h0.9v0.9h-0.9zM31 105.7h0.7v0.7h-0.7zM43.8 80.9h1.2v1.2h-1.2zM84.4 92.9h1.3v1.3h-1.3zM62.9 80.9h0.7v0.7h-0.7zM84.9 81.5h0.9v0.9h-0.9zM64.4 107.1h0.8v0.8h-0.8zM83.4 80.7h1.2v1.2h-1.2zM73.4 80.5h0.9v0.9h-0.9zM59.9 84.9h1.3v1.3h-1.3zM59.7 87.6h1.3v1.3h-1.3zM84.7 89.2h1.2v1.2h-1.2zM60.2 80.4h0.8v0.8h-0.8zM82.1 81.1h0.8v0.8h-0.8zM86.7 90.5h1.2v1.2h-1.2zM59.9 94.5h0.8v0.8h-0.8zM61.1 106.9h1.1v1.1h-1.1zM78.3 106.4h0.9v0.9h-0.9zM78.9 105.1h1.2v1.2h-1.2zM62.4 107.3h0.8v0.8h-0.8zM59.1 101.1h1.3v1.3h-1.3zM59.1 91.8h1.3v1.3h-1.3zM78.9 81.2h0.8v0.8h-0.8zM74.2 107.5h0.8v0.8h-0.8zM84.3 81.9h1.3v1.3h-1.3zM61.5 92.2h1.3v1.3h-1.3zM85.1 82.2h1v1h-1zM61 104.1h0.9v0.9h-0.9zM75.7 106.2h1.3v1.3h-1.3zM100 85.3h0.7v0.7h-0.7zM98.8 101h1.1v1.1h-1.1zM124.9 102h1.3v1.3h-1.3zM121.2 106.6h0.9v0.9h-0.9zM118.4 79.1h0.9v0.9h-0.9zM126.1 103.3h1.4v1.4h-1.4zM100 86.6h0.9v0.9h-0.9zM98.3 99.2h1.4v1.4h-1.4zM119.1 105.1h1.1v1.1h-1.1zM116.4 78.6h1v1h-1zM97.7 92.5h1.1v1.1h-1.1zM127.1 84.8h0.9v0.9h-0.9zM118.8 80.1h0.8v0.8h-0.8zM108.4 104.7h0.8v0.8h-0.8zM99.5 85.4h1v1h-1zM98.4 80.8h1.1v1.1h-1.1zM100.4 80.3h1.3v1.3h-1.3zM125.9 105h1.3v1.3h-1.3zM127.3 99.9h0.8v0.8h-0.8zM110.8 79.1h0.9v0.9h-0.9zM104.2 79h1.1v1.1h-1.1zM125.1 90.1h1v1h-1zM98.2 80.7h0.8v0.8h-0.8zM98.3 106.2h1.3v1.3h-1.3zM98.4 100.3h0.8v0.8h-0.8zM102.8 79.3h1v1h-1zM117.1 107.1h1.4v1.4h-1.4zM127.7 92.6h0.9v0.9h-0.9zM121.2 78.7h1.1v1.1h-1.1zM105.2 78.4h1v1h-1zM100 97.2h1v1h-1zM147.1 79.4h1.3v1.3h-1.3zM142.1 82.9h0.7v0.7h-0.7zM159.2 93.8h1.2v1.2h-1.2zM159.4 87.4h1.1v1.1h-1.1zM160 105.3h0.8v0.8h-0.8zM145.9 105.8h0.7v0.7h-0.7zM141.9 100.6h1.3v1.3h-1.3zM161.8 90.8h0.9v0.9h-0.9zM156.3 80.2h0.8v0.8h-0.8zM140 105.6h1.3v1.3h-1.3zM141.6 78.9h0.9v0.9h-0.9zM141.6 85.5h1.2v1.2h-1.2zM159.5 93.6h1.4v1.4h-1.4zM141.4 95.9h1.4v1.4h-1.4zM143.8 80.1h1.1v1.1h-1.1zM161.2 85.6h0.9v0.9h-0.9zM161 83.5h1.3v1.3h-1.3zM159.2 80.6h1.2v1.2h-1.2zM151.2 78h0.8v0.8h-0.8zM141.7 99.7h1.3v1.3h-1.3zM161.3 106.2h0.8v0.8h-0.8zM160.8 81.4h0.7v0.7h-0.7zM161.9 93.7h1v1h-1zM141.5 98.8h1.2v1.2h-1.2zM140.2 82.6h0.8v0.8h-0.8zM140.7 90.5h1.3v1.3h-1.3zM141.4 98.1h0.7v0.7h-0.7zM153.3 79.9h1v1h-1zM159.7 100.4h0.7v0.7h-0.7zM159.9 88.9h0.8v0.8h-0.8zM151.9 79.8h1.1v1.1h-1.1zM140.2 81.3h0.8v0.8h-0.8zM1.6 12.6h1.3v1.3h-1.3zM1.3 21.9h0.9v0.9h-0.9zM0.5 19.9h1v1h-1zM-5.2 16.8h1.4v1.4h-1.4zM-2.9 9.6h1.2v1.2h-1.2zM0.5 11.3h1v1h-1zM-6.5 10.1h1.2v1.2h-1.2zM2.5 23.2h0.9v0.9h-0.9zM-0.6 11h1v1h-1zM1.8 11.3h0.8v0.8h-0.8zM0.5 22.5h1.1v1.1h-1.1zM-3 9.5h1v1h-1zM-4.7 19.2h1v1h-1zM1.2 10.2h1.1v1.1h-1.1zM1 10.2h1.2v1.2h-1.2zM-2.8 10.3h0.9v0.9h-0.9zM-4.5 22h1.4v1.4h-1.4zM1.2 59.3h0.7v0.7h-0.7zM-1.4 38.6h1.2v1.2h-1.2zM2 45.8h1v1h-1zM2.8 46.7h1.4v1.4h-1.4zM-4.4 57h1.4v1.4h-1.4zM-5.8 41.9h1.2v1.2h-1.2zM2.5 63.8h1.2v1.2h-1.2zM-5.5 56.6h1.2v1.2h-1.2zM-5.9 57.3h1.4v1.4h-1.4zM-2.5 64.4h1.2v1.2h-1.2zM2.2 51h1.4v1.4h-1.4zM-5.3 39.2h0.9v0.9h-0.9zM-4.9 47.3h1.2v1.2h-1.2zM1.5 51.6h1.2v1.2h-1.2zM1.5 49.6h1.3v1.3h-1.3zM2.5 104.3h0.9v0.9h-0.9zM1.7 105.9h1.3v1.3h-1.3zM0.3 85.8h1.2v1.2h-1.2zM0.9 104.2h1.2v1.2h-1.2zM-5.9 79.7h0.9v0.9h-0.9zM2.8 88.1h1.4v1.4h-1.4zM-2 79.3h0.7v0.7h-0.7zM1.2 92.7h1.3v1.3h-1.3zM3 84.5h0.9v0.9h-0.9zM-6 98.8h1.3v1.3h-1.3zM-0.7 105.1h0.7v0.7h-0.7zM0.8 93.8h0.8v0.8h-0.8zM1.1 89.3h1.1v1.1h-1.1zM-5.5 98.6h0.9v0.9h-0.9zM1 94.3h0.9v0.9h-0.9zM-6.6 105.5h1.2v1.2h-1.2zM-6.4 79.6h1.3v1.3h-1.3zM1.5 89h1.2v1.2h-1.2zM-6.5 89.1h1v1h-1z"/><path fill="#1a1a1a" d="M39.2 23.2h1.1v1.1h-1.1zM26.6 9.3h1v1h-1zM22.6 23.4h1.1v1.1h-1.1zM15.7 23h0.7v0.7h-0.7zM16 21.4h0.9v0.9h-0.9zM41.6 21.8h0.9v0.9h-0.9zM17.7 12.4h1v1h-1zM24.2 22.1h1.2v1.2h-1.2zM15.7 15.1h1.3v1.3h-1.3zM22.1 10.1h1.2v1.2h-1.2zM25.9 22.4h1v1h-1zM32.2 9.5h1v1h-1zM41.6 15.5h0.8v0.8h-0.8zM15.9 22h1.3v1.3h-1.3zM40.3 10h0.9v0.9h-0.9zM42.1 20.9h1.1v1.1h-1.1zM32.9 11h0.9v0.9h-0.9zM35 11.3h1v1h-1zM43.5 23.4h1v1h-1zM27.4 10.6h1.3v1.3h-1.3zM17.5 16.7h1.4v1.4h-1.4zM43.8 15.7h0.8v0.8h-0.8zM18.7 22.1h0.8v0.8h-0.8zM75 21.3h0.9v0.9h-0.9zM56.7 18.4h1.4v1.4h-1.4zM75 22.6h1.3v1.3h-1.3zM83.3 12.4h1.2v1.2h-1.2zM66.8 10.3h1v1h-1zM76.2 21.6h1.4v1.4h-1.4zM63.8 22.8h1.3v1.3h-1.3zM71.9 23.3h0.9v0.9h-0.9zM83.1 15.3h1.3v1.3h-1.3zM58.4 9.8h0.9v0.9h-0.9zM57 10.6h1.2v1.2h-1.2zM83.9 10.5h1.3v1.3h-1.3zM83.8 22.3h0.9v0.9h-0.9zM63.7 10.3h1.1v1.1h-1.1zM56.8 10.4h1.2v1.2h-1.2zM59.6 21.8h1.2v1.2h-1.2zM82.3 18.9h1.1v1.1h-1.1zM74.9 21.2h1.1v1.1h-1.1zM72.1 23.1h0.9v0.9h-0.9zM64.4 10.5h0.9v0.9h-0.9zM57.7 17.5h1v1h-1zM59.3 20.1h0.8v0.8h-0.8zM110.8 22.9h1.2v1.2h-1.2zM97 19.2h0.9v0.9h-0.9zM105.1 22h1v1h-1zM113.1 10.5h1.4v1.4h-1.4zM119.9 22.3h1.1v1.1h-1.1zM125.2 21.6h1.3v1.3h-1.3zM107.3 22.7h1.2v1.2h-1.2zM111.2 21h1.4v1.4h-1.4zM114.2 21.5h1.2v1.2h-1.2zM126.2 21.9h1.3v1.3h-1.3zM99.9 21.9h0.9v0.9h-0.9zM111.8 22.3h1.1v1.1h-1.1zM113.2 22.3h1.3v1.3h-1.3zM124 15.5h1v1h-1zM119 22.9h1v1h-1zM113.6 10.7h1v1h-1zM126.5 15.1h0.9v0.9h-0.9zM126.1 19.3h0.9v0.9h-0.9zM97.9 11.2h1.1v1.1h-1.1zM104.2 22.4h1v1h-1zM125.2 20.3h1.1v1.1h-1.1zM97.5 18.8h1v1h-1zM97.6 9.7h1.1v1.1h-1.1zM103.5 21.6h1.1v1.1h-1.1zM138.6 12.5h1.3v1.3h-1.3zM140.5 22h1.1v1.1h-1.1zM138.5 11.7h1v1h-1zM146.1 20.5h1.2v1.2h-1.2zM138 20.4h1v1h-1zM160.4 9.6h1.1v1.1h-1.1zM136.8 10.2h1.2v1.2h-1.2zM155.3 11.7h1.2v1.2h-1.2zM147.8 9.1h1.3v1.3h-1.3zM141.1 11.5h0.7v0.7h-0.7zM143.5 21.1h0.8v0.8h-0.8zM137.6 12.3h0.9v0.9h-0.9zM146.4 21.3h1.2v1.2h-1.2zM147.5 11.5h1.1v1.1h-1.1zM159.6 21.9h1.4v1.4h-1.4zM150.6 9.4h0.7v0.7h-0.7zM148.9 21.4h0.9v0.9h-0.9zM140.7 10.1h1.3v1.3h-1.3zM139.1 20.2h0.8v0.8h-0.8zM145 11.5h1.2v1.2h-1.2zM145.6 22.2h1v1h-1zM159.1 18.7h1.4v1.4h-1.4zM31.4 64.4h1.3v1.3h-1.3zM35.2 66.1h0.9v0.9h-0.9zM18.8 56.8h0.9v0.9h-0.9zM42.9 64.2h1.2v1.2h-1.2zM45.2 61.8h1.2v1.2h-1.2zM31 64.9h0.8v0.8h-0.8zM39 39.5h1v1h-1zM34.1 64.6h1.2v1.2h-1.2zM45.1 63.1h1.3v1.3h-1.3zM18.2 59.9h1v1h-1zM44.1 51.3h0.9v0.9h-0.9zM29.1 66.1h0.7v0.7h-0.7zM16.7 59.9h1.3v1.3h-1.3zM17.2 64.7h0.8v0.8h-0.8zM44 57.9h1.2v1.2h-1.2zM42.2 63.5h1.2v1.2h-1.2zM18.5 43h0.8v0.8h-0.8zM17.2 51.2h1.4v1.4h-1.4zM42.9 45h1.2v1.2h-1.2zM43.2 61h1v1h-1zM16.9 41.6h1.2v1.2h-1.2zM17.3 38.6h0.9v0.9h-0.9zM45.1 46.1h0.8v0.8h-0.8zM23.7 66.1h1.2v1.2h-1.2zM43.1 44.8h1.3v1.3h-1.3zM32.3 39.5h1.2v1.2h-1.2zM44.2 50.1h1.1v1.1h-1.1zM85 37.4h1.3v1.3h-1.3zM69.3 39.3h1.1v1.1h-1.1zM61.3 65.2h1.3v1.3h-1.3zM85.7 38.6h1.1v1.1h-1.1zM76.3 65.7h0.9v0.9h-0.9zM85.4 42.5h0.7v0.7h-0.7zM60.1 40.1h0.8v0.8h-0.8zM82.2 37.1h1.1v1.1h-1.1zM79.2 37.6h1.1v1.1h-1.1zM70 64.7h0.9v0.9h-0.9zM85.2 44.1h1.2v1.2h-1.2zM59.2 42h0.8v0.8h-0.8zM68.3 39.2h0.8v0.8h-0.8zM74.7 63.7h1v1h-1zM80.3 38.6h0.9v0.9h-0.9zM59.6 62.8h1.4v1.4h-1.4zM67.9 39.6h1v1h-1zM76.3 65h1.3v1.3h-1.3zM68.1 38.6h1.2v1.2h-1.2zM60 55.1h1.2v1.2h-1.2zM67.8 39.6h1.2v1.2h-1.2zM85.6 65.3h0.7v0.7h-0.7zM59.1 62.5h1.1v1.1h-1.1zM61.5 62.9h1.1v1.1h-1.1zM100.4 38.5h0.9v0.9h-0.9zM98.3 41.3h1.1v1.1h-1.1zM97.6 53.8h1.3v1.3h-1.3zM98.5 44.7h1.1v1.1h-1.1zM108 65.7h1.3v1.3h-1.3zM99 57.4h1.1v1.1h-1.1zM113.4 39.1h1v1h-1zM109.7 39.5h0.7v0.7h-0.7zM125.7 63h1.2v1.2h-1.2zM97.4 48h1.2v1.2h-1.2zM116.4 37.4h1.3v1.3h-1.3zM99.2 36.9h1.3v1.3h-1.3zM97.7 55.5h1.2v1.2h-1.2zM106.3 64.2h1v1h-1zM125.1 57.6h1v1h-1zM116.8 39.5h1.3v1.3h-1.3zM124.2 47.4h0.9v0.9h-0.9zM118.3 63.4h1.3v1.3h-1.3zM121.7 64.1h1.3v1.3h-1.3zM107.1 64.3h1.2v1.2h-1.2zM125.2 52.7h0.9v0.9h-0.9zM125.4 60.9h1v1h-1zM97.2 53.8h1.3v1.3h-1.3zM111.5 63.9h0.9v0.9h-0.9zM97.9 60.7h1.3v1.3h-1.3zM97.8 56.5h0.7v0.7h-0.7zM116 38h1v1h-1zM123.7 40.9h0.8v0.8h-0.8zM113.5 37.3h1.4v1.4h-1.4zM108.7 64.8h1.1v1.1h-1.1zM140.2 50.2h1.3v1.3h-1.3zM161.6 63.1h1v1h-1zM160.9 53.8h0.9v0.9h-0.9zM140.3 63.5h0.7v0.7h-0.7zM149.8 64.2h0.9v0.9h-0.9zM148.1 38.9h0.9v0.9h-0.9zM143.9 63.2h1v1h-1zM139.6 49.7h1.4v1.4h-1.4zM149.4 38h1.4v1.4h-1.4zM159.3 56.4h0.9v0.9h-0.9zM149.2 38.8h1.3v1.3h-1.3zM159.1 52.8h1.3v1.3h-1.3zM160.1 62.2h0.7v0.7h-0.7zM139.9 40.5h1.4v1.4h-1.4zM161.4 53.7h1.1v1.1h-1.1zM158.7 64.2h1v1h-1zM138.5 63.5h1.3v1.3h-1.3zM159.9 42.4h0.8v0.8h-0.8zM147.3 37.9h1v1h-1zM157.1 38.2h1.2v1.2h-1.2zM146.8 37.3h1.1v1.1h-1.1zM149 64.4h1v1h-1zM142.2 38.5h1.3v1.3h-1.3zM139.6 63.3h0.8v0.8h-0.8zM146.7 39.6h1v1h-1zM154.5 62.4h1.3v1.3h-1.3zM146.5 62.7h1.2v1.2h-1.2zM146.6 38h1.1v1.1h-1.1zM17.2 79.9h1.3v1.3h-1.3zM44.9 99.2h1.3v1.3h-1.3zM45.8 99.3h0.9v0.9h-0.9zM29.7 79.3h0.8v0.8h-0.8zM43.3 80.6h0.7v0.7h-0.7zM45.1 95.1h1v1h-1zM16.3 83.6h1.3v1.3h-1.3zM43.6 89.2h1v1h-1zM44.8 88.4h1.1v1.1h-1.1zM39.5 106.7h1.2v1.2h-1.2zM17 81.2h1v1h-1zM28.7 80.5h1.3v1.3h-1.3zM20 106.1h0.9v0.9h-0.9zM24.2 81.4h0.8v0.8h-0.8zM30.3 104.9h1.3v1.3h-1.3zM24.7 104.4h1.3v1.3h-1.3zM45.2 94.7h0.9v0.9h-0.9zM38.5 105.8h0.9v0.9h-0.9zM16.6 87.6h0.8v0.8h-0.8zM39.6 80.2h1v1h-1zM45.3 81.7h1.1v1.1h-1.1zM36.7 80.9h0.8v0.8h-0.8zM30.9 80.3h0.9v0.9h-0.9zM17.7 94.1h0.9v0.9h-0.9zM44.8 98.4h1.3v1.3h-1.3zM60.2 105.2h0.8v0.8h-0.8zM72.9 82.1h1v1h-1zM80.9 105.6h0.9v0.9h-0.9zM85 86.3h1.2v1.2h-1.2zM74.8 106.5h1.2v1.2h-1.2zM59.6 102.6h1v1h-1zM75.4 105.7h1.2v1.2h-1.2zM72.7 80.9h0.7v0.7h-0.7zM73.1 81.4h1v1h-1zM73.1 82.1h1v1h-1zM79.9 81.7h1.1v1.1h-1.1zM86.8 85.1h1v1h-1zM60.3 80.1h0.9v0.9h-0.9zM68.1 107.4h1v1h-1zM60.5 80h1v1h-1zM75.3 106.2h1.1v1.1h-1.1zM70.9 106.5h0.8v0.8h-0.8zM85.5 105.5h0.9v0.9h-0.9zM86.7 81h0.9v0.9h-0.9zM61.9 80.1h0.9v0.9h-0.9zM73.9 82.2h1v1h-1zM65.4 107.4h0.9v0.9h-0.9zM60.8 106.3h0.8v0.8h-0.8zM60 102.4h0.9v0.9h-0.9zM61.6 106.8h0.9v0.9h-0.9zM79.2 81.8h1.1v1.1h-1.1zM87.2 94.8h0.7v0.7h-0.7zM78.6 105.4h1.3v1.3h-1.3zM60.5 91.1h1.2v1.2h-1.2zM59 102.7h1.2v1.2h-1.2zM71.9 81.6h0.8v0.8h-0.8zM61.2 103.1h1.2v1.2h-1.2zM123.1 104.8h1.4v1.4h-1.4zM98.8 105.3h1.4v1.4h-1.4zM108.8 105.9h1.4v1.4h-1.4zM125.8 94.8h0.9v0.9h-0.9zM98.1 89.1h1.4v1.4h-1.4zM125 106.1h1.1v1.1h-1.1zM98.1 95.2h1.2v1.2h-1.2zM123.1 79h0.9v0.9h-0.9zM117.8 79.6h0.9v0.9h-0.9zM125.9 104.4h0.8v0.8h-0.8zM99.6 80.6h1v1h-1zM126.4 79.3h1.3v1.3h-1.3zM125.7 91.9h0.7v0.7h-0.7zM111.8 79.4h0.8v0.8h-0.8zM103.8 80.9h0.9v0.9h-0.9zM99 96h1.1v1.1h-1.1zM118 80.7h1.2v1.2h-1.2zM98.2 105.2h1.1v1.1h-1.1zM125.3 103.3h0.9v0.9h-0.9zM126.3 98.3h1.3v1.3h-1.3zM99.6 91.3h0.8v0.8h-0.8zM99.1 105.9h1v1h-1zM125.4 104.9h0.9v0.9h-0.9zM97.9 101.5h0.9v0.9h-0.9zM99.8 103h0.9v0.9h-0.9zM127.8 87.5h0.9v0.9h-0.9zM100.6 100.7h0.8v0.8h-0.8zM115.7 107.1h1.2v1.2h-1.2zM98.6 85.7h1.3v1.3h-1.3zM127.6 82.1h0.7v0.7h-0.7zM152.4 78.2h1v1h-1zM159.3 79.9h1v1h-1zM149 104.9h1.1v1.1h-1.1zM140.1 95.9h0.9v0.9h-0.9zM160.4 85h1.1v1.1h-1.1zM156.5 104.7h1v1h-1zM161.6 105.8h1.1v1.1h-1.1zM141.3 79.7h1.3v1.3h-1.3zM160 104.3h1.3v1.3h-1.3zM161 94.3h0.8v0.8h-0.8zM154.4 80h0.7v0.7h-0.7zM141.5 97.4h1.2v1.2h-1.2zM147.1 78.2h0.7v0.7h-0.7zM141.1 79.7h1v1h-1zM150.5 104.4h1.2v1.2h-1.2zM160.1 83.1h1v1h-1zM160 79h0.9v0.9h-0.9zM156.1 78.5h1.4v1.4h-1.4zM140.9 82.2h0.8v0.8h-0.8zM161.1 78h0.8v0.8h-0.8zM140.7 78.2h0.8v0.8h-0.8zM1.4 21.5h0.9v0.9h-0.9zM-5 20.5h0.7v0.7h-0.7zM1.4 15.4h1.4v1.4h-1.4zM-1.7 11.6h1v1h-1zM0.9 10.6h1.4v1.4h-1.4zM-0.2 21.4h1.3v1.3h-1.3zM0.7 21.5h0.8v0.8h-0.8zM-5.7 9.7h0.9v0.9h-0.9zM-4.9 11.3h1.1v1.1h-1.1zM1.7 11.7h1.1v1.1h-1.1zM-6.2 22.6h1.2v1.2h-1.2zM-5.7 15.3h1.2v1.2h-1.2zM1.9 64.2h0.9v0.9h-0.9zM2.2 42.5h1.4v1.4h-1.4zM-4.8 61.6h1.1v1.1h-1.1zM2.3 62h0.8v0.8h-0.8zM2 38.5h1.1v1.1h-1.1zM-4.6 59.5h0.8v0.8h-0.8zM-5.7 51.5h1.2v1.2h-1.2zM2.6 45h0.8v0.8h-0.8zM0.7 62h1v1h-1zM2.6 65.9h0.8v0.8h-0.8zM-5.4 54.2h1.3v1.3h-1.3zM1.9 41h1v1h-1zM-2.9 65.8h1v1h-1zM-4.8 39.1h1.3v1.3h-1.3zM-3 39.8h0.8v0.8h-0.8zM1.8 41.6h0.8v0.8h-0.8zM1.4 45.2h0.9v0.9h-0.9zM-4.4 58.1h0.9v0.9h-0.9zM2.2 40.6h0.9v0.9h-0.9zM-4.2 46.6h1v1h-1zM0.7 39.6h1.3v1.3h-1.3zM-4.2 95.8h1v1h-1zM-4.2 105h1.3v1.3h-1.3zM1.6 98.3h1.3v1.3h-1.3zM-0.5 80.9h1.1v1.1h-1.1zM1 84.5h1v1h-1zM-5.2 105.6h1.3v1.3h-1.3zM2.6 105.3h0.8v0.8h-0.8zM0.6 103.2h1.3v1.3h-1.3zM-1.4 79.8h1.2v1.2h-1.2zM-4.4 88.7h0.8v0.8h-0.8zM1.3 103.1h1.1v1.1h-1.1zM1.1 104.6h1.1v1.1h-1.1zM-6 83.4h1.1v1.1h-1.1zM-3.7 106.1h1.4v1.4h-1.4zM-4.7 87.3h1.3v1.3h-1.3zM-5.3 99.6h0.9v0.9h-0.9zM-6 99.7h0.9v0.9h-0.9zM2.5 102.6h0.9v0.9h-0.9zM1.8 86h1.1v1.1h-1.1zM1.5 83.3h1.2v1.2h-1.2zM-4.2 84.3h0.7v0.7h-0.7zM2.1 97.4h1.4v1.4h-1.4zM-5.9 82.4h1.4v1.4h-1.4z"/><path fill="#f4f4f4" d="M24 8.9h1.2v1.2h-1.2zM17.6 21.4h1.3v1.3h-1.3zM39.1 9.9h1.3v1.3h-1.3zM19.4 10h1v1h-1zM35.8 8.2h1.2v1.2h-1.2zM21.1 8.2h1.4v1.4h-1.4zM29.4 10.3h1.2v1.2h-1.2zM36.4 22.5h1.3v1.3h-1.3zM40.8 9.8h1.4v1.4h-1.4zM14.8 19.4h0.8v0.8h-0.8zM14.5 11.2h0.9v0.9h-0.9zM74.1 10.9h1.3v1.3h-1.3zM74 24.1h0.8v0.8h-0.8zM59.1 22.7h0.8v0.8h-0.8zM61.2 9.8h1v1h-1zM65.8 9.6h0.9v0.9h-0.9zM69.7 8.5h0.9v0.9h-0.9zM75 8.5h1.1v1.1h-1.1zM66.5 21.9h1.1v1.1h-1.1zM83.3 24h0.9v0.9h-0.9zM76.2 9.4h0.9v0.9h-0.9zM68.1 21.8h0.9v0.9h-0.9zM62.4 23.7h0.7v0.7h-0.7zM71.7 9.4h1.3v1.3h-1.3zM79.3 22.8h0.8v0.8h-0.8zM80.6 24h1v1h-1zM97.6 18.5h1.1v1.1h-1.1zM98 16.6h1.2v1.2h-1.2zM116.5 10.5h1.3v1.3h-1.3zM111.6 8.6h1.4v1.4h-1.4zM123.2 23.7h1v1h-1zM126.9 17.4h0.8v0.8h-0.8zM96.9 14.8h0.9v0.9h-0.9zM97.6 13.7h1.1v1.1h-1.1zM120.3 22h0.9v0.9h-0.9zM126.2 16.1h1.3v1.3h-1.3zM98.2 22.5h0.8v0.8h-0.8zM157.4 11.2h0.8v0.8h-0.8zM147.3 22.8h1.3v1.3h-1.3zM142.4 21.6h0.9v0.9h-0.9zM146.7 8.9h1.2v1.2h-1.2zM139.6 9.1h0.9v0.9h-0.9zM153.4 21.8h1.4v1.4h-1.4zM151.9 22.8h1.1v1.1h-1.1zM144.8 8.5h1.3v1.3h-1.3zM150.5 22.6h0.9v0.9h-0.9zM144.7 8.9h1.2v1.2h-1.2zM150.7 10.9h0.7v0.7h-0.7zM137.1 11.3h0.9v0.9h-0.9zM143.9 23.1h1.3v1.3h-1.3zM17.2 39.9h1.1v1.1h-1.1zM37.2 38.2h0.9v0.9h-0.9zM43 66.7h0.7v0.7h-0.7zM41.7 37.7h1.1v1.1h-1.1zM15.7 55.6h1v1h-1zM18.6 66.6h1.1v1.1h-1.1zM45.7 47.4h1.2v1.2h-1.2zM15.7 54h1.4v1.4h-1.4zM42.9 65.8h0.9v0.9h-0.9zM16.5 56.5h1.3v1.3h-1.3zM44.4 55.1h1.2v1.2h-1.2zM18.2 37.7h0.7v0.7h-0.7zM37.3 38h0.8v0.8h-0.8zM26.9 64.5h1.1v1.1h-1.1zM17 64.5h0.9v0.9h-0.9zM16.3 54.9h1.2v1.2h-1.2zM58.6 38.6h1v1h-1zM68.5 38.4h1.1v1.1h-1.1zM69.9 66.1h1.2v1.2h-1.2zM74.1 65.9h1.2v1.2h-1.2zM86 43h0.8v0.8h-0.8zM85.5 39.1h1.1v1.1h-1.1zM58.1 64.6h0.8v0.8h-0.8zM58.4 65.8h1.3v1.3h-1.3zM70.8 65.5h1.2v1.2h-1.2zM85.9 57.3h1v1h-1zM59.1 64.5h1.3v1.3h-1.3zM80.6 66.3h1.4v1.4h-1.4zM84.9 57.1h0.9v0.9h-0.9zM58.9 51.2h1v1h-1zM87.2 41.9h0.7v0.7h-0.7zM59.2 51.3h1.4v1.4h-1.4zM85.9 50.3h1.1v1.1h-1.1zM78.2 38.7h1.1v1.1h-1.1zM67.1 64.1h1.4v1.4h-1.4zM70.6 38.3h1v1h-1zM125.4 58.2h0.9v0.9h-0.9zM125.3 56.9h1.3v1.3h-1.3zM124.4 58.6h1.1v1.1h-1.1zM99.6 65.2h1.4v1.4h-1.4zM97.2 57.6h1.2v1.2h-1.2zM109.3 66.4h0.7v0.7h-0.7zM108.5 38.5h1.3v1.3h-1.3zM96.9 64.7h1v1h-1zM124.8 43.3h0.8v0.8h-0.8zM97.2 63.3h1.2v1.2h-1.2zM106.9 38h1.4v1.4h-1.4zM122.9 64.1h1.4v1.4h-1.4zM117.3 66.6h1.2v1.2h-1.2zM161.1 37.9h1.4v1.4h-1.4zM140.1 37.7h1.2v1.2h-1.2zM152.2 64.6h1v1h-1zM137.6 62.4h1.1v1.1h-1.1zM161.2 58.7h0.7v0.7h-0.7zM161.8 50.7h1.2v1.2h-1.2zM162 56.3h1.2v1.2h-1.2zM154.1 38.5h1.3v1.3h-1.3zM153.4 37.4h1.2v1.2h-1.2zM160.2 42.4h1.3v1.3h-1.3zM158.7 38.3h0.9v0.9h-0.9zM159.8 41.6h1.2v1.2h-1.2zM31.2 80.2h1.2v1.2h-1.2zM17.1 80.3h0.8v0.8h-0.8zM43.8 88.4h1v1h-1zM43.4 106h0.8v0.8h-0.8zM46.1 103.8h0.9v0.9h-0.9zM16.7 92.6h0.8v0.8h-0.8zM19.2 79h0.9v0.9h-0.9zM45.9 102.7h1.2v1.2h-1.2zM17.9 87h0.8v0.8h-0.8zM16.8 105.4h0.9v0.9h-0.9zM46.1 86.3h1.1v1.1h-1.1zM44.8 88.1h1v1h-1zM22.4 107.2h1.4v1.4h-1.4zM18.1 89.3h0.8v0.8h-0.8zM18.3 104.1h0.8v0.8h-0.8zM61.4 106.5h0.8v0.8h-0.8zM86.5 100.3h1.2v1.2h-1.2zM78 80.6h1v1h-1zM69.1 81.2h1.1v1.1h-1.1zM63.1 105.8h1.1v1.1h-1.1zM87.5 105.2h0.8v0.8h-0.8zM86.9 103.8h0.8v0.8h-0.8zM73 105.9h1.2v1.2h-1.2zM60.2 81h0.9v0.9h-0.9zM76 79.6h1.4v1.4h-1.4zM60.8 81.4h1v1h-1zM60.7 99.3h0.9v0.9h-0.9zM65.3 106.2h1.4v1.4h-1.4zM87.7 95.2h1.1v1.1h-1.1zM87.3 100.9h0.8v0.8h-0.8zM81.1 105.6h1v1h-1zM74.9 107.7h0.8v0.8h-0.8zM83.3 79.1h1.1v1.1h-1.1zM85.6 104.6h1.2v1.2h-1.2zM60.3 99.8h1v1h-1zM62.3 79.6h1.2v1.2h-1.2zM67.6 81.1h0.8v0.8h-0.8zM87.5 85.7h0.8v0.8h-0.8zM121.1 78h1.4v1.4h-1.4zM114.5 79h1v1h-1zM98.3 94.2h0.8v0.8h-0.8zM119.1 106.6h1.1v1.1h-1.1zM126.5 95.6h1.3v1.3h-1.3zM97.4 105.5h1.1v1.1h-1.1zM102.5 77.6h1.3v1.3h-1.3zM128 99.5h0.8v0.8h-0.8zM128.2 90.1h0.8v0.8h-0.8zM126.5 106.5h1.2v1.2h-1.2zM114.6 78.8h0.9v0.9h-0.9zM97.1 80.9h1.1v1.1h-1.1zM151.7 104.8h0.9v0.9h-0.9zM147.5 79.3h0.9v0.9h-0.9zM152.9 106.6h1.1v1.1h-1.1zM145.6 105.9h0.9v0.9h-0.9zM159.8 106h0.8v0.8h-0.8zM161.2 105.1h1.3v1.3h-1.3zM154.7 76.8h1.2v1.2h-1.2zM156.9 104.5h1.3v1.3h-1.3zM139.8 86.9h1.2v1.2h-1.2zM160.5 92.5h1.4v1.4h-1.4zM162.1 86.7h0.9v0.9h-0.9zM160.1 90.3h1.4v1.4h-1.4zM144 78.4h0.9v0.9h-0.9zM154 106.3h1.3v1.3h-1.3zM141.3 94h0.9v0.9h-0.9zM2.9 12.9h0.8v0.8h-0.8zM-5.7 21.6h1v1h-1zM0.2 21.7h0.9v0.9h-0.9zM2.9 11h0.8v0.8h-0.8zM-5.6 8.9h1.3v1.3h-1.3zM-5.8 12.3h0.9v0.9h-0.9zM-0.5 10.7h1v1h-1zM-6.7 59.4h0.8v0.8h-0.8zM1.7 37.7h0.9v0.9h-0.9zM3.4 52.3h1.3v1.3h-1.3zM1.4 51.4h1.3v1.3h-1.3zM-5.4 58.9h1.1v1.1h-1.1zM-7.3 54.2h1.2v1.2h-1.2zM1.5 63.3h0.8v0.8h-0.8zM-5.3 37.6h0.8v0.8h-0.8zM-7.4 57.6h1.2v1.2h-1.2zM-0.1 65.4h1.2v1.2h-1.2zM2.5 79h1.3v1.3h-1.3zM1.5 88.5h1v1h-1zM1.3 79.6h1.1v1.1h-1.1zM2.1 90.7h0.9v0.9h-0.9zM1.4 99.7h1.3v1.3h-1.3zM-7 81.6h1v1h-1z"/><path fill="#383838" d="M32.9 9.2h1.4v1.4h-1.4zM17.6 19h0.9v0.9h-0.9zM15.6 11.3h1.2v1.2h-1.2zM42.1 13.6h1v1h-1zM41.4 22h1.1v1.1h-1.1zM17.3 13.1h1.3v1.3h-1.3zM21 10.7h0.7v0.7h-0.7zM27.8 21.5h1.2v1.2h-1.2zM20.3 23.5h0.8v0.8h-0.8zM21.2 22.8h1.2v1.2h-1.2zM24.2 23.5h0.8v0.8h-0.8zM33.5 22.4h0.9v0.9h-0.9zM28.5 23.3h1.2v1.2h-1.2zM35.6 11.6h0.7v0.7h-0.7zM43.9 20.3h0.8v0.8h-0.8zM16.8 18.4h1.2v1.2h-1.2zM36.1 21.8h0.9v0.9h-0.9zM24.1 21.8h1.2v1.2h-1.2zM25.6 20.8h0.8v0.8h-0.8zM66.6 9.3h0.8v0.8h-0.8zM82.3 20.7h1v1h-1zM78.6 22.2h0.8v0.8h-0.8zM83 20.8h1v1h-1zM71.6 23.2h1.1v1.1h-1.1zM76.8 21.6h0.9v0.9h-0.9zM58.6 18.1h1.2v1.2h-1.2zM80.9 23.2h1.1v1.1h-1.1zM82.8 21.2h1v1h-1zM71 10.3h1.1v1.1h-1.1zM79.5 20.9h1v1h-1zM60.5 11.1h1.1v1.1h-1.1zM76.3 21.3h1.1v1.1h-1.1zM82.6 9.8h0.8v0.8h-0.8zM80.4 9.2h1.1v1.1h-1.1zM80.5 21.1h1.1v1.1h-1.1zM56.8 19.4h0.7v0.7h-0.7zM58 13.9h0.7v0.7h-0.7zM58.5 19.7h1v1h-1zM67 9.6h0.7v0.7h-0.7zM64 11.9h1.1v1.1h-1.1zM82.3 19.6h0.9v0.9h-0.9zM62.9 10.3h1v1h-1zM65.7 9.5h0.9v0.9h-0.9zM64.9 10.2h0.9v0.9h-0.9zM58.7 22.2h0.9v0.9h-0.9zM98.3 9.4h1.1v1.1h-1.1zM97.1 12.3h0.8v0.8h-0.8zM111.7 20.3h1.1v1.1h-1.1zM116.2 20.5h1.3v1.3h-1.3zM125.4 20.9h1.1v1.1h-1.1zM114.2 9.7h0.8v0.8h-0.8zM114.3 9.2h1.3v1.3h-1.3zM113.7 20.7h0.7v0.7h-0.7zM124.2 13.5h1v1h-1zM103.8 20.3h1.3v1.3h-1.3zM124.1 9.6h0.8v0.8h-0.8zM118.5 9.2h1.3v1.3h-1.3zM115.8 9.9h0.9v0.9h-0.9zM110.5 21.3h1.2v1.2h-1.2zM120.4 22.2h0.8v0.8h-0.8zM99.6 21.6h0.8v0.8h-0.8zM105.7 10.4h0.8v0.8h-0.8zM103.4 9.7h1.1v1.1h-1.1zM113.6 10h0.9v0.9h-0.9zM125.6 18h1.4v1.4h-1.4zM122.6 9.4h1.3v1.3h-1.3zM125.7 17.5h1.2v1.2h-1.2zM111.9 22.9h0.9v0.9h-0.9zM114.6 22h0.9v0.9h-0.9zM102 21.3h1v1h-1zM119.5 22.1h1.1v1.1h-1.1zM109.2 22.2h1.1v1.1h-1.1zM125.3 19.6h1v1h-1zM160.2 9.7h1.3v1.3h-1.3zM160.7 17.5h0.8v0.8h-0.8zM148.9 22.6h0.7v0.7h-0.7zM142.9 21.1h1v1h-1zM160 17.2h0.7v0.7h-0.7zM159.2 18.8h0.9v0.9h-0.9zM155.2 22.5h1.1v1.1h-1.1zM159.2 19.7h1.1v1.1h-1.1zM138.1 20.2h1.3v1.3h-1.3zM144.6 10.7h0.8v0.8h-0.8zM140.2 22.4h0.8v0.8h-0.8zM138.3 22.3h1.1v1.1h-1.1zM138.2 21.7h0.8v0.8h-0.8zM160.8 16.2h1.1v1.1h-1.1zM17.7 51.4h0.8v0.8h-0.8zM19.4 64.6h0.7v0.7h-0.7zM44.6 53.3h1.3v1.3h-1.3zM17.5 49.2h1.2v1.2h-1.2zM42.9 63.5h1.1v1.1h-1.1zM30.5 65.5h0.9v0.9h-0.9zM16.5 39.4h1.2v1.2h-1.2zM43.7 39.5h1v1h-1zM19.2 58.4h1v1h-1zM18.7 50.8h0.8v0.8h-0.8zM43.4 49.3h1.2v1.2h-1.2zM42.7 48.4h1.3v1.3h-1.3zM18.9 50h1.3v1.3h-1.3zM19.5 64.7h1v1h-1zM43.1 40.4h0.8v0.8h-0.8zM43.2 48.4h1.2v1.2h-1.2zM43.7 39.1h1.2v1.2h-1.2zM42.8 53.9h1.3v1.3h-1.3zM25.2 63.3h1.4v1.4h-1.4zM17.1 45.9h1v1h-1zM22.1 64.1h1v1h-1zM19.1 43.3h1.2v1.2h-1.2zM42.4 65.7h0.9v0.9h-0.9zM34.7 65.9h1v1h-1zM33.1 40.5h1.1v1.1h-1.1zM18.3 38.7h1.1v1.1h-1.1zM18.9 59.5h1.3v1.3h-1.3zM35.6 65.3h1.2v1.2h-1.2zM17.5 38.5h0.8v0.8h-0.8zM17.7 64.3h1.4v1.4h-1.4zM83.5 44.5h1.4v1.4h-1.4zM84.4 44.4h1.1v1.1h-1.1zM59.8 58.6h1.3v1.3h-1.3zM84.4 40.6h1.2v1.2h-1.2zM80.1 63.9h1.1v1.1h-1.1zM74.5 63h1.1v1.1h-1.1zM60.4 50.6h0.9v0.9h-0.9zM69.1 63.5h0.9v0.9h-0.9zM82.7 63.2h0.9v0.9h-0.9zM82.6 63.2h1.3v1.3h-1.3zM59 41.6h1.2v1.2h-1.2zM59.4 42.8h1.4v1.4h-1.4zM67.4 37.1h0.9v0.9h-0.9zM60.7 39.6h1.1v1.1h-1.1zM59.1 40.9h1.1v1.1h-1.1zM85.4 59.5h1.2v1.2h-1.2zM59 58.3h1.2v1.2h-1.2zM63.9 39h0.9v0.9h-0.9zM85.4 63.9h1v1h-1zM59.7 50.2h1v1h-1zM65.2 64.4h1.3v1.3h-1.3zM117.1 39.7h0.7v0.7h-0.7zM117.5 64.5h1.1v1.1h-1.1zM124.9 56.7h1v1h-1zM100.9 37.9h1.3v1.3h-1.3zM125.1 62.7h1.2v1.2h-1.2zM97.6 48.5h0.8v0.8h-0.8zM125.9 60.9h0.9v0.9h-0.9zM120.7 64.6h0.8v0.8h-0.8zM98.4 53.6h1.1v1.1h-1.1zM120.8 63.9h0.9v0.9h-0.9zM99.3 39.1h0.9v0.9h-0.9zM125 37.8h1.2v1.2h-1.2zM125.7 38.2h1v1h-1zM97.8 61h0.7v0.7h-0.7zM99.6 64.4h1v1h-1zM126.1 41.1h0.9v0.9h-0.9zM125.2 63.6h0.8v0.8h-0.8zM99.1 56.1h1.1v1.1h-1.1zM97.3 52.3h1.2v1.2h-1.2zM104.5 37.8h1.4v1.4h-1.4zM120.5 39.5h0.9v0.9h-0.9zM102.1 39.4h1.2v1.2h-1.2zM97.9 60.9h1.2v1.2h-1.2zM110.7 65.6h0.7v0.7h-0.7zM122.6 38.6h0.8v0.8h-0.8zM97.6 59.3h1v1h-1zM126 54.2h1.2v1.2h-1.2zM124.6 37h1.4v1.4h-1.4zM123.7 38.8h0.9v0.9h-0.9zM98.8 56.4h0.9v0.9h-0.9zM98.8 37.8h1.3v1.3h-1.3zM115.1 39h0.8v0.8h-0.8zM108.8 38.5h1v1h-1zM160.6 62.9h0.8v0.8h-0.8zM160.8 48.6h0.8v0.8h-0.8zM161.6 64.5h1.1v1.1h-1.1zM161.6 63.5h0.8v0.8h-0.8zM160.6 52.5h1v1h-1zM154.8 37.8h1v1h-1zM138.6 38.3h0.9v0.9h-0.9zM137.7 44.8h1.3v1.3h-1.3zM148.9 62.9h1v1h-1zM138.7 45.3h1.2v1.2h-1.2zM140.5 49.2h0.9v0.9h-0.9zM138.4 64.4h0.8v0.8h-0.8zM159.2 50.1h1.3v1.3h-1.3zM140.8 38.6h1.3v1.3h-1.3zM158.1 37.2h1.4v1.4h-1.4zM139 48h1.3v1.3h-1.3zM160.9 62h0.9v0.9h-0.9zM158.9 62.9h1.2v1.2h-1.2zM140.3 38.1h0.7v0.7h-0.7zM137.8 48.4h1.2v1.2h-1.2zM157.9 64.1h1.2v1.2h-1.2zM139 43.9h0.9v0.9h-0.9zM154.7 63.2h1.2v1.2h-1.2zM160.5 64.4h0.7v0.7h-0.7zM155.4 63.1h0.9v0.9h-0.9zM153.9 38h1.2v1.2h-1.2zM161.3 39.7h1v1h-1zM159.9 63.5h1.2v1.2h-1.2zM28.7 104.9h0.8v0.8h-0.8zM17.8 97.4h1.3v1.3h-1.3zM34.7 105.3h1.2v1.2h-1.2zM18.9 86h1v1h-1zM37 80.2h0.9v0.9h-0.9zM23.8 105.7h1.4v1.4h-1.4zM43.5 86.5h0.8v0.8h-0.8zM43 99.9h1.3v1.3h-1.3zM33.7 105.4h1v1h-1zM18.3 85.6h1.4v1.4h-1.4zM16.5 79.9h1.2v1.2h-1.2zM44.2 84.4h0.7v0.7h-0.7zM17.2 97.7h1v1h-1zM30.8 79.6h1.2v1.2h-1.2zM17.9 94.1h0.8v0.8h-0.8zM17.7 101.5h1v1h-1zM18.1 87.2h1v1h-1zM43.8 100.9h1.4v1.4h-1.4zM28.6 78.9h0.7v0.7h-0.7zM39.9 80.8h0.8v0.8h-0.8zM17 86.2h0.9v0.9h-0.9zM17.6 78.8h1.1v1.1h-1.1zM44.4 80.3h1v1h-1zM39.9 104.9h1v1h-1zM18.3 101.2h1v1h-1zM24.5 79.5h0.8v0.8h-0.8zM22.6 106.7h1.2v1.2h-1.2zM38.1 80.3h0.8v0.8h-0.8zM40.6 79.1h1.2v1.2h-1.2zM43 101.7h1.2v1.2h-1.2zM16.5 96.4h1v1h-1zM36.3 79.3h1.4v1.4h-1.4zM35.4 80h1.2v1.2h-1.2zM17.7 103.2h0.9v0.9h-0.9zM17.4 84.8h0.8v0.8h-0.8zM29.3 105.6h1.2v1.2h-1.2zM45 81.4h1.1v1.1h-1.1zM59.6 81.3h1.2v1.2h-1.2zM85.3 85h0.8v0.8h-0.8zM61.6 103.2h1.2v1.2h-1.2zM60.2 89.6h0.9v0.9h-0.9zM59.2 89.7h0.9v0.9h-0.9zM86.6 87.1h0.8v0.8h-0.8zM85.3 88.5h0.7v0.7h-0.7zM79.2 81.3h0.9v0.9h-0.9zM61.5 101.8h0.7v0.7h-0.7zM83.1 79.9h0.8v0.8h-0.8zM60 104.9h1v1h-1zM86.6 81h0.7v0.7h-0.7zM84.9 107.5h0.9v0.9h-0.9zM59.2 92.4h1.1v1.1h-1.1zM86.6 97.1h1v1h-1zM85 103.9h1.1v1.1h-1.1zM86.4 87.2h0.8v0.8h-0.8zM78.8 105.7h0.8v0.8h-0.8zM68.6 81.4h1.3v1.3h-1.3zM75.3 80.5h1.3v1.3h-1.3zM61.5 83.6h0.8v0.8h-0.8zM75 79.5h0.8v0.8h-0.8zM83.4 105.7h0.8v0.8h-0.8zM125.5 81h1.1v1.1h-1.1zM127.5 90.1h0.8v0.8h-0.8zM113.3 80.2h0.7v0.7h-0.7zM110.7 107h0.9v0.9h-0.9zM97.9 92h1.1v1.1h-1.1zM127.2 89.9h1.3v1.3h-1.3zM106.7 104.7h0.8v0.8h-0.8zM115 80h0.7v0.7h-0.7zM121.3 106.4h1.1v1.1h-1.1zM127.3 80h1v1h-1zM126.1 84.8h0.8v0.8h-0.8zM121 106.7h1.4v1.4h-1.4zM114.2 104.9h0.8v0.8h-0.8zM122.2 80.7h0.8v0.8h-0.8zM125.7 102.1h1.3v1.3h-1.3zM125.3 101.6h1.1v1.1h-1.1zM100.1 107.1h1v1h-1zM105.5 106.4h1.1v1.1h-1.1zM112.5 79.3h0.9v0.9h-0.9zM99.5 84.2h0.9v0.9h-0.9zM126.9 101h0.9v0.9h-0.9zM115.1 80.6h1.1v1.1h-1.1zM98.3 97h1.2v1.2h-1.2zM98 104.9h0.7v0.7h-0.7zM110.1 80.7h1.4v1.4h-1.4zM121.9 106.1h0.9v0.9h-0.9zM115.2 105.9h1.1v1.1h-1.1zM108.8 80.2h1.2v1.2h-1.2zM107.1 104.7h1v1h-1zM103.6 106.1h0.8v0.8h-0.8zM102.2 107h0.9v0.9h-0.9zM127.3 92.6h1.2v1.2h-1.2zM125.8 89h1.3v1.3h-1.3zM126.6 78.4h1v1h-1zM125.3 88.6h1.3v1.3h-1.3zM100.5 105.2h1v1h-1zM117.9 106.3h0.7v0.7h-0.7zM127.5 96.5h0.9v0.9h-0.9zM126.7 79.7h1v1h-1zM140.1 99.6h1.3v1.3h-1.3zM161.9 91.7h1v1h-1zM144.7 78h1.1v1.1h-1.1zM140.2 94.9h0.8v0.8h-0.8zM148.1 79.2h0.7v0.7h-0.7zM161.7 91h1.2v1.2h-1.2zM161.2 81.2h1v1h-1zM153.8 103.9h1.1v1.1h-1.1zM161.6 85.9h1v1h-1zM142.5 77.5h1.3v1.3h-1.3zM159.2 78.5h1.3v1.3h-1.3zM160.9 95.8h1v1h-1zM141.4 84.3h0.9v0.9h-0.9zM161.2 89.4h1.2v1.2h-1.2zM159.5 98.2h0.9v0.9h-0.9zM145.4 104.3h0.9v0.9h-0.9zM143.3 78.2h0.7v0.7h-0.7zM160.9 83.4h1.3v1.3h-1.3zM161 106.2h1.2v1.2h-1.2zM148 79.6h0.7v0.7h-0.7zM139.8 88.1h1.2v1.2h-1.2zM161 78.9h0.9v0.9h-0.9zM161.1 104.4h0.8v0.8h-0.8zM149.5 77.7h1.1v1.1h-1.1zM159.5 98.9h1.1v1.1h-1.1zM146.8 106.2h0.9v0.9h-0.9zM161.2 83.6h0.8v0.8h-0.8zM151.8 78.5h1.2v1.2h-1.2zM-6.9 12.3h1.1v1.1h-1.1zM-0.1 9.8h0.8v0.8h-0.8zM0.5 15h0.8v0.8h-0.8zM0.8 11.3h1.1v1.1h-1.1zM-6.5 15.5h1v1h-1zM-5.7 15.4h0.9v0.9h-0.9zM0.7 19.7h0.9v0.9h-0.9zM-2 10.3h1v1h-1zM1.2 44.9h1.3v1.3h-1.3zM2.2 44.9h1.2v1.2h-1.2zM-4.9 65.2h1v1h-1zM-4.6 42.9h1.2v1.2h-1.2zM1.9 56.5h0.7v0.7h-0.7zM-2.1 39.6h1v1h-1zM-5.7 43.7h1.2v1.2h-1.2zM-5.6 51.3h0.7v0.7h-0.7zM1.1 38.7h1.4v1.4h-1.4zM2.4 59.3h0.7v0.7h-0.7zM-2.6 39.3h1.3v1.3h-1.3zM2.8 47.3h1v1h-1zM-6.4 52.7h1.1v1.1h-1.1zM-5.9 61.9h1v1h-1zM-4.8 38.1h1.3v1.3h-1.3zM0.3 47.4h1.3v1.3h-1.3zM3 87h0.8v0.8h-0.8zM2.5 89.8h0.9v0.9h-0.9zM1.1 95.4h1v1h-1zM0.4 106h1.1v1.1h-1.1zM1.8 94.7h0.7v0.7h-0.7zM-4.4 102.5h1.2v1.2h-1.2zM2.7 84h1.3v1.3h-1.3zM-5.2 91h0.8v0.8h-0.8zM-5.4 98.4h1.2v1.2h-1.2zM-4.4 102.9h1.1v1.1h-1.1zM0.4 80.5h0.9v0.9h-0.9zM2 94.6h0.7v0.7h-0.7zM0.3 102.3h1.3v1.3h-1.3zM-3.6 81.3h1.3v1.3h-1.3zM2.9 98.1h0.8v0.8h-0.8zM-5.1 86.3h1v1h-1zM-5.7 101.1h0.8v0.8h-0.8z"/><path fill="#e0e0e0" d="M14.2 20.8h1.2v1.2h-1.2zM21.3 9.1h1.2v1.2h-1.2zM24.9 9.5h1.2v1.2h-1.2zM14.4 10.7h1.3v1.3h-1.3zM39.9 22.3h1.1v1.1h-1.1zM25.3 9.7h1.1v1.1h-1.1zM20.7 10.8h1.2v1.2h-1.2zM83.3 22.7h0.7v0.7h-0.7zM62.3 23.3h1.2v1.2h-1.2zM57.6 14.1h0.8v0.8h-0.8zM75.4 22.6h0.7v0.7h-0.7zM79.4 11h0.7v0.7h-0.7zM82.4 13.3h1.3v1.3h-1.3zM62.2 9.7h0.8v0.8h-0.8zM56.7 19.7h1.1v1.1h-1.1zM57.6 13.2h1.1v1.1h-1.1zM55.9 17.8h1.1v1.1h-1.1zM83 18.4h0.8v0.8h-0.8zM84.9 11.7h1.1v1.1h-1.1zM69.9 9.6h1v1h-1zM125 21.9h1.1v1.1h-1.1zM97.3 21.7h0.9v0.9h-0.9zM126.5 18.6h1.4v1.4h-1.4zM122.6 23.7h1.3v1.3h-1.3zM110.4 10.8h1.2v1.2h-1.2zM125.8 22.5h0.8v0.8h-0.8zM104.8 8.9h1v1h-1zM103.9 10.1h1.1v1.1h-1.1zM126 14.4h0.7v0.7h-0.7zM97 16.4h0.7v0.7h-0.7zM120.1 9.6h1.1v1.1h-1.1zM120.3 23h1v1h-1zM97.4 20.9h0.9v0.9h-0.9zM106.7 22.5h1.3v1.3h-1.3zM126.2 21.1h1.4v1.4h-1.4zM122.4 8.5h1.2v1.2h-1.2zM119.2 9.7h1.1v1.1h-1.1zM144.8 10.2h1.3v1.3h-1.3zM146.7 8.9h1.3v1.3h-1.3zM158.6 22h0.8v0.8h-0.8zM147.1 9.9h1.1v1.1h-1.1zM149.6 9.9h0.8v0.8h-0.8zM137.5 10.8h0.8v0.8h-0.8zM145.5 23.1h1.3v1.3h-1.3zM138.9 21.1h1v1h-1zM142.9 9.2h0.9v0.9h-0.9zM154.6 22.4h0.9v0.9h-0.9zM146.1 9.7h0.8v0.8h-0.8zM148.5 8.4h1.3v1.3h-1.3zM39.4 65h1v1h-1zM15.6 53.9h1.1v1.1h-1.1zM44.2 59.5h1v1h-1zM17.5 57.8h0.9v0.9h-0.9zM41.7 38.4h1v1h-1zM16.3 57.3h0.9v0.9h-0.9zM16.9 54.2h1.2v1.2h-1.2zM18.3 49.1h1v1h-1zM40.4 66.8h1.1v1.1h-1.1zM43.8 40.6h1v1h-1zM46.2 46.2h1v1h-1zM43.6 53h1.4v1.4h-1.4zM16.5 61.3h0.8v0.8h-0.8zM16.8 63.4h1.2v1.2h-1.2zM46.2 56.8h0.8v0.8h-0.8zM45.4 62.2h1.1v1.1h-1.1zM30.3 65.4h1.3v1.3h-1.3zM44.6 40.6h1.3v1.3h-1.3zM34.5 65.6h1.1v1.1h-1.1zM57 54.6h1.2v1.2h-1.2zM86 53.9h0.7v0.7h-0.7zM68.8 36.8h1.1v1.1h-1.1zM74.3 64.2h1.2v1.2h-1.2zM62.5 64.7h1.2v1.2h-1.2zM82 38.7h1v1h-1zM79.5 65.9h0.8v0.8h-0.8zM59.3 55.2h1.3v1.3h-1.3zM63.9 63.6h1.3v1.3h-1.3zM57.2 43h0.9v0.9h-0.9zM124.1 66.2h0.8v0.8h-0.8zM113.7 65.1h1v1h-1zM106.6 37.8h1v1h-1zM125 55.5h1.3v1.3h-1.3zM107.2 65.4h1.3v1.3h-1.3zM112.6 36.9h0.9v0.9h-0.9zM126.3 46.3h0.8v0.8h-0.8zM145.3 37.5h0.8v0.8h-0.8zM142.9 64.2h1.2v1.2h-1.2zM158.6 37.4h1.1v1.1h-1.1zM143.6 36.8h1.3v1.3h-1.3zM161.5 52.3h1.3v1.3h-1.3zM160.4 52.2h1.1v1.1h-1.1zM150.4 63.6h1v1h-1zM137.4 53.4h0.8v0.8h-0.8zM143.2 37.2h1.4v1.4h-1.4zM162.2 57.5h1.2v1.2h-1.2zM160.5 52.2h1.1v1.1h-1.1zM161.4 64.5h1.1v1.1h-1.1zM137.2 46.2h0.8v0.8h-0.8zM138.2 64.1h0.9v0.9h-0.9zM149.8 65.7h1.2v1.2h-1.2zM161.3 49.7h1.2v1.2h-1.2zM160.9 44.3h1.2v1.2h-1.2zM137.9 47.1h0.9v0.9h-0.9zM157.2 63.8h1.2v1.2h-1.2zM30 78.2h1.1v1.1h-1.1zM46.3 79.9h0.8v0.8h-0.8zM21.8 79.1h1.2v1.2h-1.2zM45 91.4h1.1v1.1h-1.1zM45.9 104.2h0.9v0.9h-0.9zM27.7 105.3h1v1h-1zM44.6 90.3h0.8v0.8h-0.8zM45.8 79.3h1.3v1.3h-1.3zM45.3 99.4h1.1v1.1h-1.1zM46.1 93.5h1.1v1.1h-1.1zM43.4 80.4h1.3v1.3h-1.3zM25.6 107h0.8v0.8h-0.8zM25.1 105.9h0.8v0.8h-0.8zM46.3 80.1h0.8v0.8h-0.8zM45.5 103.1h1.4v1.4h-1.4zM37.7 107.1h1.2v1.2h-1.2zM39.3 79.3h1v1h-1zM43.9 98.1h1v1h-1zM17.8 85.8h1.2v1.2h-1.2zM60 81.4h0.7v0.7h-0.7zM86.4 98.4h1.3v1.3h-1.3zM86.2 99.6h1v1h-1zM70.9 79h1.1v1.1h-1.1zM86.6 91.4h1.3v1.3h-1.3zM87.5 102.4h1.1v1.1h-1.1zM59.2 80.9h1v1h-1zM59.5 79.5h1v1h-1zM60.4 80h1.3v1.3h-1.3zM73 79h0.8v0.8h-0.8zM75.9 79.5h0.9v0.9h-0.9zM70.7 80.3h1.3v1.3h-1.3zM84.8 106.6h0.8v0.8h-0.8zM79.3 80.7h1v1h-1zM99.5 104h1v1h-1zM128.2 90.5h1.1v1.1h-1.1zM123.8 79.4h1v1h-1zM126.7 91.9h0.9v0.9h-0.9zM98.5 102.2h0.8v0.8h-0.8zM104.4 78.8h0.8v0.8h-0.8zM126.7 105.6h0.7v0.7h-0.7zM127.3 95.2h0.8v0.8h-0.8zM97.4 93.4h1.1v1.1h-1.1zM126.7 82h1.3v1.3h-1.3zM101.1 80.3h0.8v0.8h-0.8zM97.6 79.9h0.8v0.8h-0.8zM125.9 87h1v1h-1zM106.6 78.6h0.8v0.8h-0.8zM98.2 94.6h0.8v0.8h-0.8zM109.7 79.9h1v1h-1zM120.4 106.6h1.3v1.3h-1.3zM121.3 106.1h0.8v0.8h-0.8zM126.8 107.2h1v1h-1zM117.2 106.4h1.3v1.3h-1.3zM140.2 85.5h1.2v1.2h-1.2zM141.6 90h1.3v1.3h-1.3zM159.4 105.9h1.1v1.1h-1.1zM139.5 83.2h1.3v1.3h-1.3zM145.2 106h1v1h-1zM146.8 79.1h1.1v1.1h-1.1zM149.3 106.1h1.1v1.1h-1.1zM160 90.4h1.2v1.2h-1.2zM162.1 99.5h1.1v1.1h-1.1zM158.4 105.3h1.1v1.1h-1.1zM159.3 76.6h1.3v1.3h-1.3zM157 78.7h1.1v1.1h-1.1zM162.6 81h1.1v1.1h-1.1zM-5.7 11h0.8v0.8h-0.8zM-0.4 24.1h0.9v0.9h-0.9zM-1.3 23h1.3v1.3h-1.3zM-6.7 18.8h1.1v1.1h-1.1zM1.6 13.2h0.8v0.8h-0.8zM-5.1 21.8h0.9v0.9h-0.9zM2.2 22.3h1.2v1.2h-1.2zM-6 21.4h1.1v1.1h-1.1zM3.3 55.7h1.2v1.2h-1.2zM-4.6 38.8h0.9v0.9h-0.9zM-6.4 39.7h1v1h-1zM-5.4 42.4h1v1h-1zM-5 37.8h0.9v0.9h-0.9zM1.1 43.6h1.3v1.3h-1.3zM-4.7 65.3h1.1v1.1h-1.1zM-7 59.4h1.3v1.3h-1.3zM2.8 61.9h0.9v0.9h-0.9zM-6.8 65.9h0.7v0.7h-0.7zM2.3 37.6h0.9v0.9h-0.9zM-5 40.4h1v1h-1zM0 80.7h0.9v0.9h-0.9zM2.9 79.8h1.3v1.3h-1.3zM1.9 100.6h1v1h-1zM1 80.1h1.1v1.1h-1.1zM1.6 85h1v1h-1zM1 78.4h1.2v1.2h-1.2zM-7.4 95.6h0.7v0.7h-0.7zM-4.2 80.1h0.8v0.8h-0.8zM-6.3 103.5h1.2v1.2h-1.2zM0.8 80.5h0.8v0.8h-0.8zM-7.2 88.7h0.7v0.7h-0.7zM3 85.2h1v1h-1zM-5.4 97.6h0.7v0.7h-0.7zM2 99.8h1.2v1.2h-1.2zM-6.5 100.8h0.8v0.8h-0.8z"/><path fill="#f2f2f2" d="M24.3 25.6h1v1h-1zM38.3 6.7h1.2v1.2h-1.2zM40.7 25.1h1.3v1.3h-1.3zM21.5 24.7h1.4v1.4h-1.4zM14.5 20h1.4v1.4h-1.4zM21.9 25h1.2v1.2h-1.2zM12.1 10.5h1.5v1.5h-1.5zM12.4 9.8h0.8v0.8h-0.8zM28.4 26.4h0.7v0.7h-0.7zM16.4 7.4h0.9v0.9h-0.9zM47 11.7h0.7v0.7h-0.7zM19.7 25.5h0.9v0.9h-0.9zM24.4 25.1h0.8v0.8h-0.8zM37.4 6.3h1.2v1.2h-1.2zM13.1 11.7h0.8v0.8h-0.8zM58 6.6h1.2v1.2h-1.2zM57.5 24.5h1.3v1.3h-1.3zM59.8 24h1.5v1.5h-1.5zM85 20.7h1.2v1.2h-1.2zM82.5 6.4h1v1h-1zM69.2 24.2h1.4v1.4h-1.4zM79.3 24.5h0.7v0.7h-0.7zM63.2 7.5h1.4v1.4h-1.4zM85 17.3h0.8v0.8h-0.8zM95 10h0.8v0.8h-0.8zM100.3 6.5h1.5v1.5h-1.5zM114.3 23h1.2v1.2h-1.2zM116.8 24h1.4v1.4h-1.4zM120.8 7.4h1.1v1.1h-1.1zM94.2 21.9h0.9v0.9h-0.9zM94 19.1h1.4v1.4h-1.4zM94.3 15.5h0.9v0.9h-0.9zM115.5 9.3h0.7v0.7h-0.7zM95.1 12h1v1h-1zM128 15.9h1.2v1.2h-1.2zM122.7 7.9h1.2v1.2h-1.2zM122.3 9.2h0.8v0.8h-0.8zM119.1 6h1.4v1.4h-1.4zM98.8 8.1h1.4v1.4h-1.4zM122.4 24.4h1.1v1.1h-1.1zM127.5 13.1h1.4v1.4h-1.4zM118.3 24.5h1.4v1.4h-1.4zM128.2 9.8h1.5v1.5h-1.5zM97.1 6.1h1.2v1.2h-1.2zM163.3 17.8h1.4v1.4h-1.4zM154.3 7.2h0.8v0.8h-0.8zM153.6 8h0.7v0.7h-0.7zM156.2 8.8h1.1v1.1h-1.1zM152.3 7.8h0.7v0.7h-0.7zM134.1 21.7h0.8v0.8h-0.8zM148.7 24.7h0.9v0.9h-0.9zM146.3 8.6h1.2v1.2h-1.2zM144.1 24.8h0.9v0.9h-0.9zM156.7 22.8h1.4v1.4h-1.4zM161.2 8.4h1.1v1.1h-1.1zM149 26.3h0.8v0.8h-0.8zM21.6 37.1h1v1h-1zM13.8 50.2h1.4v1.4h-1.4zM48 58.4h1.2v1.2h-1.2zM15.8 56.4h1.2v1.2h-1.2zM37.1 36h1.1v1.1h-1.1zM15.6 45.4h1.1v1.1h-1.1zM33.7 36.4h1v1h-1zM39.8 37.1h1v1h-1zM45.6 55.7h0.9v0.9h-0.9zM18.6 69.1h0.9v0.9h-0.9zM29.3 68.6h0.8v0.8h-0.8zM15.8 40.5h0.8v0.8h-0.8zM46 49.8h1.4v1.4h-1.4zM14.5 50.9h1.3v1.3h-1.3zM20.6 67.6h1v1h-1zM24.1 37.6h1.4v1.4h-1.4zM15.8 62.2h1.4v1.4h-1.4zM32.4 66.6h1.1v1.1h-1.1zM39.9 67.4h1.3v1.3h-1.3zM56.1 63.1h0.8v0.8h-0.8zM55.9 63.4h0.8v0.8h-0.8zM56.3 45h1.4v1.4h-1.4zM77.7 67.2h1.5v1.5h-1.5zM55.3 62.9h0.9v0.9h-0.9zM56.8 39.6h1.2v1.2h-1.2zM70.1 36.6h0.9v0.9h-0.9zM77.2 66.8h0.8v0.8h-0.8zM87.1 48.4h1.2v1.2h-1.2zM69.2 36.6h1.3v1.3h-1.3zM56.3 42h0.8v0.8h-0.8zM86.4 64.5h0.8v0.8h-0.8zM55.2 50.3h0.9v0.9h-0.9zM57.1 56h1.1v1.1h-1.1zM62 36.6h1.4v1.4h-1.4zM61.8 66.7h1v1h-1zM126.5 50.7h1.4v1.4h-1.4zM125.4 67.1h0.9v0.9h-0.9zM129.3 40.1h0.9v0.9h-0.9zM94.2 45.5h1.4v1.4h-1.4zM108.7 34.1h1.3v1.3h-1.3zM109.7 66.5h0.8v0.8h-0.8zM109.1 35.4h1.3v1.3h-1.3zM96.8 65.3h1.5v1.5h-1.5zM127.2 39.8h1.2v1.2h-1.2zM128.5 44.3h1.2v1.2h-1.2zM103.6 36h1.5v1.5h-1.5zM126.9 54h1v1h-1zM156 65.7h0.9v0.9h-0.9zM135.1 49h1.2v1.2h-1.2zM164.1 37.5h0.8v0.8h-0.8zM142.9 65.5h0.7v0.7h-0.7zM136.5 59.7h0.9v0.9h-0.9zM158.9 35.7h1.4v1.4h-1.4zM142.1 66.5h1.1v1.1h-1.1zM139.8 36.2h1.1v1.1h-1.1zM163.5 63.2h1.2v1.2h-1.2zM140 35h1.4v1.4h-1.4zM163.4 49.8h1.4v1.4h-1.4zM148.5 33.8h1.1v1.1h-1.1zM163.4 43.4h1.2v1.2h-1.2zM162.1 53.2h1.1v1.1h-1.1zM164.1 58h1.1v1.1h-1.1zM137 58.1h1.4v1.4h-1.4zM164.2 38.1h0.9v0.9h-0.9zM161.1 36.7h0.8v0.8h-0.8zM153.2 65.7h0.7v0.7h-0.7zM135 60.1h0.8v0.8h-0.8zM159.7 36.6h0.8v0.8h-0.8zM164.7 57.4h0.8v0.8h-0.8zM136.4 47.3h1.2v1.2h-1.2zM143.3 36.2h1.4v1.4h-1.4zM32 78.2h1v1h-1zM48 82.5h1.2v1.2h-1.2zM26.8 76.5h0.9v0.9h-0.9zM33.6 108.6h0.9v0.9h-0.9zM17.2 108.8h1.5v1.5h-1.5zM14.8 82.9h1.4v1.4h-1.4zM32.5 77.4h1.2v1.2h-1.2zM29.3 108.4h1.1v1.1h-1.1zM46.4 87.3h1.3v1.3h-1.3zM46.6 103.8h0.8v0.8h-0.8zM43.2 107h1.2v1.2h-1.2zM15 102.6h0.7v0.7h-0.7zM28.8 76.4h0.8v0.8h-0.8zM14.1 87.5h1v1h-1zM87.2 83.2h0.7v0.7h-0.7zM74.4 109.6h0.8v0.8h-0.8zM71 109.9h1.1v1.1h-1.1zM89.5 105.4h1v1h-1zM57.8 103.2h0.9v0.9h-0.9zM57.1 88.3h1.2v1.2h-1.2zM88.7 94.6h1.3v1.3h-1.3zM90 102h0.8v0.8h-0.8zM89.3 100.7h1.1v1.1h-1.1zM67.5 109.2h1.4v1.4h-1.4zM69.2 108.9h1.4v1.4h-1.4zM76.4 109.7h1.1v1.1h-1.1zM58 87.6h1.2v1.2h-1.2zM61.1 77.9h1v1h-1zM89.5 104.9h0.9v0.9h-0.9zM89.7 91.3h0.8v0.8h-0.8zM72.2 76.4h1v1h-1zM66.9 78.9h0.9v0.9h-0.9zM107.2 77.9h1v1h-1zM103.1 108.3h0.7v0.7h-0.7zM100.6 110.5h0.9v0.9h-0.9zM119.1 109.5h1.4v1.4h-1.4zM96.3 100.5h1.5v1.5h-1.5zM130 89.6h1.5v1.5h-1.5zM96.8 102.4h1.5v1.5h-1.5zM96.4 100.2h1v1h-1zM125.8 109h1v1h-1zM114.6 107.8h1.2v1.2h-1.2zM129.7 87.1h0.8v0.8h-0.8zM130 89.2h1.4v1.4h-1.4zM110.6 75.8h0.9v0.9h-0.9zM123.6 109.9h1.1v1.1h-1.1zM163 92h0.8v0.8h-0.8zM147.7 109.6h0.8v0.8h-0.8zM162.5 80.2h0.8v0.8h-0.8zM138.6 86.8h1.1v1.1h-1.1zM163.4 78.3h0.7v0.7h-0.7zM139.2 103.3h1.3v1.3h-1.3zM162.5 97.2h1v1h-1zM147.7 76.6h1.1v1.1h-1.1zM142.4 106.8h1.2v1.2h-1.2zM-1.1 24.9h1v1h-1zM5.2 11.8h0.8v0.8h-0.8zM-9 12.8h1.3v1.3h-1.3zM-4.2 8.8h0.8v0.8h-0.8zM-9.9 21.1h1.3v1.3h-1.3zM-2.3 24h1v1h-1zM4.9 16.7h1v1h-1zM3.7 12.9h1.1v1.1h-1.1zM-8.2 59.3h1.3v1.3h-1.3zM-0.4 66h1.5v1.5h-1.5zM3.1 55.8h0.9v0.9h-0.9zM0.6 68.4h0.9v0.9h-0.9zM-8.1 47.3h0.8v0.8h-0.8zM5.2 63.9h1.1v1.1h-1.1zM3 44.1h1.2v1.2h-1.2zM-0.7 67.9h1v1h-1zM-3.9 107.8h1.5v1.5h-1.5zM3.3 95h1v1h-1zM-7.9 91.2h1.2v1.2h-1.2zM-9.4 90h1.2v1.2h-1.2zM-5.3 109.8h1v1h-1zM4.2 93.6h1.1v1.1h-1.1zM-6.7 75.5h1.5v1.5h-1.5zM-8.2 80h1.3v1.3h-1.3zM6.1 81.6h1.2v1.2h-1.2z"/><path fill="#a8a8a8" d="M13.5 16.8h1.2v1.2h-1.2zM26.7 24.8h1.3v1.3h-1.3zM12.4 10.4h1.4v1.4h-1.4zM16.9 26.5h1.1v1.1h-1.1zM42.6 24.6h0.7v0.7h-0.7zM39.9 24.3h1.2v1.2h-1.2zM40.3 25.2h1.2v1.2h-1.2zM54.5 11.9h1.5v1.5h-1.5zM60 24.3h1.1v1.1h-1.1zM70.2 23.7h1.4v1.4h-1.4zM81.3 24.5h0.9v0.9h-0.9zM53.6 11.9h1.5v1.5h-1.5zM80.6 23.6h1.1v1.1h-1.1zM77.1 7.2h1v1h-1zM54.4 22.2h1.5v1.5h-1.5zM73.1 7.3h0.9v0.9h-0.9zM83.5 6.9h0.7v0.7h-0.7zM101.5 23.6h0.7v0.7h-0.7zM105.7 24.2h1.5v1.5h-1.5zM104 8.3h1.4v1.4h-1.4zM95.9 10h0.7v0.7h-0.7zM95 21.2h1.5v1.5h-1.5zM113.7 24h1.4v1.4h-1.4zM128.3 21.8h1.1v1.1h-1.1zM145.9 6.7h1.3v1.3h-1.3zM155.2 7.7h1.4v1.4h-1.4zM142.1 23.6h1v1h-1zM134.2 13.5h1v1h-1zM157.6 25.3h0.7v0.7h-0.7zM146.3 24.6h1.1v1.1h-1.1zM147.5 6.6h1.5v1.5h-1.5zM138.7 7.4h1.3v1.3h-1.3zM145.3 7.7h0.9v0.9h-0.9zM148.7 26h1.2v1.2h-1.2zM13.5 56.7h1v1h-1zM46.8 49.7h1.1v1.1h-1.1zM13.5 59.2h1.2v1.2h-1.2zM23.2 68.8h1.4v1.4h-1.4zM47.6 57.6h0.9v0.9h-0.9zM20.3 66.9h0.9v0.9h-0.9zM35.9 35h1v1h-1zM13.6 50.6h0.8v0.8h-0.8zM44.2 36.9h0.9v0.9h-0.9zM17.1 35.9h1v1h-1zM39.6 35.9h1v1h-1zM35.4 35.3h1.2v1.2h-1.2zM87.7 52.8h1.2v1.2h-1.2zM88 37.5h1v1h-1zM56.7 48.6h0.9v0.9h-0.9zM88.7 40.1h1.1v1.1h-1.1zM65.7 36h0.9v0.9h-0.9zM76.7 33.9h0.8v0.8h-0.8zM60.4 65.7h0.9v0.9h-0.9zM71.7 67.1h1v1h-1zM78.5 67.1h1.2v1.2h-1.2zM89.4 48.6h0.9v0.9h-0.9zM55.5 40.2h1.4v1.4h-1.4zM55.8 47.8h1.1v1.1h-1.1zM56.5 61.9h0.8v0.8h-0.8zM94.9 65.2h1.2v1.2h-1.2zM114.4 34.4h0.9v0.9h-0.9zM106.8 68.1h1.3v1.3h-1.3zM100.2 67.3h1.1v1.1h-1.1zM120.7 68.3h1.1v1.1h-1.1zM127.4 46.5h1.1v1.1h-1.1zM126.8 43.3h1.4v1.4h-1.4zM128.2 39.6h1.1v1.1h-1.1zM94.6 37.6h1.1v1.1h-1.1zM96.6 42.9h0.7v0.7h-0.7zM115.9 36h1.1v1.1h-1.1zM116.5 35.2h1.1v1.1h-1.1zM128.9 46.9h1.3v1.3h-1.3zM126.3 54.6h0.9v0.9h-0.9zM107.1 34.4h1.2v1.2h-1.2zM128 39.3h1.1v1.1h-1.1zM128.4 65.4h1v1h-1zM107.9 67.5h0.8v0.8h-0.8zM105.3 66.4h1.2v1.2h-1.2zM126.9 43.3h0.9v0.9h-0.9zM129.1 38.2h0.8v0.8h-0.8zM128.8 58.4h1.1v1.1h-1.1zM99.9 66.4h0.8v0.8h-0.8zM115.4 66.5h0.8v0.8h-0.8zM122.6 68.5h0.8v0.8h-0.8zM162.8 51.4h1v1h-1zM162.7 54.5h0.9v0.9h-0.9zM147.9 67.1h1.1v1.1h-1.1zM135.7 49.9h1.2v1.2h-1.2zM136.7 47.9h1v1h-1zM137.1 61.5h1.3v1.3h-1.3zM163.3 52.7h1.4v1.4h-1.4zM154 33.7h1.1v1.1h-1.1zM43.5 78.4h1.4v1.4h-1.4zM16.2 80.6h0.9v0.9h-0.9zM14.6 79.9h0.8v0.8h-0.8zM26 78.1h1.3v1.3h-1.3zM46.6 105h1.2v1.2h-1.2zM15.9 82.8h1.2v1.2h-1.2zM33.7 76.2h0.9v0.9h-0.9zM46.7 82.7h1.1v1.1h-1.1zM15.1 95.7h1.4v1.4h-1.4zM22.7 78.1h1v1h-1zM48 80.7h1.5v1.5h-1.5zM48.5 98.4h0.9v0.9h-0.9zM15.1 79.4h1.3v1.3h-1.3zM46 79h1.3v1.3h-1.3zM48 82.8h1v1h-1zM47.1 90.9h1.5v1.5h-1.5zM13.9 102.5h1.1v1.1h-1.1zM48.5 101.4h1.2v1.2h-1.2zM39.8 108.3h1v1h-1zM40 78.5h1.3v1.3h-1.3zM25.2 76.7h1.3v1.3h-1.3zM46.3 85.8h0.9v0.9h-0.9zM56.5 101.1h0.9v0.9h-0.9zM78.3 108.9h1.4v1.4h-1.4zM72 78.5h1.1v1.1h-1.1zM84.1 109.4h1.1v1.1h-1.1zM68.4 107.8h0.7v0.7h-0.7zM56.3 86.9h0.7v0.7h-0.7zM58.7 95.3h0.9v0.9h-0.9zM88.6 95.8h1.2v1.2h-1.2zM88.4 82.9h0.8v0.8h-0.8zM59.6 77.3h1.1v1.1h-1.1zM65.5 78.3h0.8v0.8h-0.8zM61.7 110.1h1.1v1.1h-1.1zM57.3 98.5h1v1h-1zM89.7 98.4h1.5v1.5h-1.5zM112.1 107.9h1.1v1.1h-1.1zM95.1 98.7h1v1h-1zM129.5 87.7h1.4v1.4h-1.4zM94.8 80h0.8v0.8h-0.8zM107.8 109.8h1.3v1.3h-1.3zM129.2 92.4h1.4v1.4h-1.4zM95.4 80.4h0.8v0.8h-0.8zM113.8 76.3h1.5v1.5h-1.5zM125.1 76.3h1.1v1.1h-1.1zM95.8 96.2h1.5v1.5h-1.5zM103 109h1.4v1.4h-1.4zM128.6 90.1h0.8v0.8h-0.8zM97.3 93.1h1.1v1.1h-1.1zM128.1 91.4h1.5v1.5h-1.5zM113.7 110.5h0.8v0.8h-0.8zM123.6 76.2h1v1h-1zM128.9 81.9h0.9v0.9h-0.9zM138.2 104.2h1.1v1.1h-1.1zM154.7 107.1h1.1v1.1h-1.1zM160 109.3h1.4v1.4h-1.4zM162.7 85.9h1.3v1.3h-1.3zM147.6 108h0.9v0.9h-0.9zM151.2 106.9h1.2v1.2h-1.2zM164 101.5h1.3v1.3h-1.3zM151.7 108.4h1.2v1.2h-1.2zM153.7 74.3h1.5v1.5h-1.5zM138.9 101.5h0.9v0.9h-0.9zM-9.6 20.3h1.4v1.4h-1.4zM-5.5 8.6h1.2v1.2h-1.2zM-4.1 6.4h1.4v1.4h-1.4zM-8.2 10.1h0.9v0.9h-0.9zM1.7 9.1h0.7v0.7h-0.7zM0.4 8.4h0.8v0.8h-0.8zM3.6 14.1h1.2v1.2h-1.2zM2.5 36.1h1.1v1.1h-1.1zM3.2 52.8h1.2v1.2h-1.2zM5.7 48h0.7v0.7h-0.7zM-5.1 35.9h1.2v1.2h-1.2zM4.6 48.7h1.4v1.4h-1.4zM-7.3 43.2h0.9v0.9h-0.9zM-9.4 56.8h0.9v0.9h-0.9zM6 52.7h1v1h-1zM-2.6 108.8h1.5v1.5h-1.5zM-8.9 103.9h1.4v1.4h-1.4zM-4.6 77.2h1.1v1.1h-1.1zM1.3 108.7h1.3v1.3h-1.3zM-8.7 97.9h1.5v1.5h-1.5zM5.3 103.6h1.1v1.1h-1.1zM4 104.2h1.4v1.4h-1.4zM4.3 95h0.8v0.8h-0.8zM4.9 91.2h1v1h-1zM-9.8 81.3h1.3v1.3h-1.3zM-7.5 89.3h1.5v1.5h-1.5zM-8.7 93.2h1v1h-1z"/><path fill="#e6e6e6" d="M43 8.7h1.4v1.4h-1.4zM34.1 25.3h1.3v1.3h-1.3zM44.3 13.7h0.8v0.8h-0.8zM45.4 14.1h0.8v0.8h-0.8zM14.1 11.4h1.5v1.5h-1.5zM45.4 15.3h0.7v0.7h-0.7zM21.1 24.3h1.5v1.5h-1.5zM44.2 16.2h1.2v1.2h-1.2zM15 20.6h0.8v0.8h-0.8zM44.2 11.8h0.7v0.7h-0.7zM40.9 24.1h0.9v0.9h-0.9zM13.4 14.5h1.2v1.2h-1.2zM86.6 21.3h1v1h-1zM55.2 11.3h1.4v1.4h-1.4zM64.1 23.6h0.8v0.8h-0.8zM61 26.3h0.8v0.8h-0.8zM55.5 20.9h0.7v0.7h-0.7zM64.9 23.9h0.8v0.8h-0.8zM54.8 19.3h1.2v1.2h-1.2zM66.3 25.7h1.3v1.3h-1.3zM69.2 23.9h0.9v0.9h-0.9zM64.5 26.2h0.7v0.7h-0.7zM56.4 17.1h0.9v0.9h-0.9zM67.6 6.2h0.8v0.8h-0.8zM71.3 7.1h1.3v1.3h-1.3zM85 18.1h1.3v1.3h-1.3zM105.5 23.2h1.4v1.4h-1.4zM124.9 8.5h0.8v0.8h-0.8zM122.5 23.5h1.4v1.4h-1.4zM128.5 13.7h1.5v1.5h-1.5zM94.4 11.3h0.9v0.9h-0.9zM94.2 18h1.3v1.3h-1.3zM111.7 7.9h1.1v1.1h-1.1zM118.8 25.8h1v1h-1zM150 25.8h1.3v1.3h-1.3zM142.4 7.9h0.8v0.8h-0.8zM136.9 10.5h1.2v1.2h-1.2zM163.4 21h1v1h-1zM135.6 18.6h1.2v1.2h-1.2zM162.8 15.5h0.8v0.8h-0.8zM136.9 19h0.8v0.8h-0.8zM136.9 13.7h0.8v0.8h-0.8zM146.5 26.2h1v1h-1zM159.8 6.8h1v1h-1zM141.9 6.8h0.8v0.8h-0.8zM155.6 6.6h1.4v1.4h-1.4zM29.7 67.3h1.1v1.1h-1.1zM22.4 67.8h1v1h-1zM31.9 36.9h1.3v1.3h-1.3zM14.7 41.4h0.8v0.8h-0.8zM38.1 35.1h0.9v0.9h-0.9zM47.6 43.9h0.9v0.9h-0.9zM15.8 46.6h1.3v1.3h-1.3zM15.7 52.8h1.3v1.3h-1.3zM15.9 41.7h1.2v1.2h-1.2zM39.1 69.2h1.2v1.2h-1.2zM31.7 66.6h0.8v0.8h-0.8zM23.2 37.5h1.5v1.5h-1.5zM47.8 49.3h0.7v0.7h-0.7zM38.9 68.7h1v1h-1zM13.9 41.3h1.1v1.1h-1.1zM46.4 42.2h0.8v0.8h-0.8zM43.7 36.2h1v1h-1zM88.6 41.8h1.2v1.2h-1.2zM58.3 66.7h1.3v1.3h-1.3zM89.2 52.8h0.8v0.8h-0.8zM58 36.6h1.4v1.4h-1.4zM87.3 44.1h1.3v1.3h-1.3zM54.8 42.6h1.3v1.3h-1.3zM83.3 36.9h1.1v1.1h-1.1zM63.7 34.9h1.3v1.3h-1.3zM54.6 51h1.2v1.2h-1.2zM75.5 35.6h0.7v0.7h-0.7zM62.7 68.2h1.2v1.2h-1.2zM57.6 56h0.8v0.8h-0.8zM88.9 53.7h1.1v1.1h-1.1zM61.9 65.7h1.2v1.2h-1.2zM55.7 49.4h0.7v0.7h-0.7zM55.4 55.7h1.3v1.3h-1.3zM76.8 68.4h1.3v1.3h-1.3zM56.6 54.9h1v1h-1zM65.3 36.7h1.4v1.4h-1.4zM128.8 41.3h1.1v1.1h-1.1zM127.4 60.6h1.1v1.1h-1.1zM116.5 68.5h1.2v1.2h-1.2zM126 58.8h1.4v1.4h-1.4zM129.1 49.4h1v1h-1zM120.8 36.8h0.8v0.8h-0.8zM126.2 60.4h1.3v1.3h-1.3zM119.4 33.9h1.3v1.3h-1.3zM109.3 69h1.4v1.4h-1.4zM94.4 59.5h1.5v1.5h-1.5zM110.4 66.4h0.9v0.9h-0.9zM104.8 69h0.8v0.8h-0.8zM98.2 34.5h0.7v0.7h-0.7zM124.4 35.8h1.2v1.2h-1.2zM163 61.9h1.2v1.2h-1.2zM134.7 40.3h1v1h-1zM149.5 66.6h0.8v0.8h-0.8zM136.3 63.6h1.3v1.3h-1.3zM158.2 36.3h0.7v0.7h-0.7zM140.7 67.9h1v1h-1zM149.4 65.9h0.8v0.8h-0.8zM162.7 57h1v1h-1zM46.4 93.4h1.1v1.1h-1.1zM25.7 76.3h1.1v1.1h-1.1zM13.7 95.9h1v1h-1zM47.1 83.5h1.5v1.5h-1.5zM14.3 80.1h1.2v1.2h-1.2zM36.1 106.8h1.5v1.5h-1.5zM25.8 75.8h1.4v1.4h-1.4zM47.8 100.4h0.8v0.8h-0.8zM15 96.7h0.9v0.9h-0.9zM40.4 109.5h0.7v0.7h-0.7zM21.1 76.7h0.7v0.7h-0.7zM43.6 75.9h0.9v0.9h-0.9zM25.5 108.7h1.1v1.1h-1.1zM14.8 93.5h0.8v0.8h-0.8zM44.7 106.9h1.1v1.1h-1.1zM56.3 83.9h0.7v0.7h-0.7zM87 93.2h1.4v1.4h-1.4zM70.4 79h0.9v0.9h-0.9zM74.4 79.4h0.9v0.9h-0.9zM58.9 92.4h0.8v0.8h-0.8zM88.8 81.6h1v1h-1zM69.3 77.9h0.8v0.8h-0.8zM89.6 81.6h1v1h-1zM67.5 77.2h1.4v1.4h-1.4zM64 109h1.4v1.4h-1.4zM59 93.6h1v1h-1zM57.1 101.3h1.3v1.3h-1.3zM61.9 76.4h1.2v1.2h-1.2zM69 78.9h1.4v1.4h-1.4zM97 106.5h1.1v1.1h-1.1zM113.3 76.7h1.2v1.2h-1.2zM97.1 81.8h1.2v1.2h-1.2zM97.3 96.1h0.9v0.9h-0.9zM106.3 107.6h1.5v1.5h-1.5zM129.4 101.7h1.1v1.1h-1.1zM95.7 79h1.2v1.2h-1.2zM97.1 102.7h1.4v1.4h-1.4zM111.1 109.3h1.4v1.4h-1.4zM128.8 78.7h1.3v1.3h-1.3zM117.5 75.6h0.8v0.8h-0.8zM114.2 109.3h0.9v0.9h-0.9zM94.9 99h0.8v0.8h-0.8zM94.9 103.4h0.8v0.8h-0.8zM129.6 101.3h0.7v0.7h-0.7zM130.2 78.9h0.9v0.9h-0.9zM116.9 77.6h1.4v1.4h-1.4zM97.1 87.3h0.7v0.7h-0.7zM147.2 109h0.8v0.8h-0.8zM162.2 79.6h1.1v1.1h-1.1zM146.8 109.3h0.8v0.8h-0.8zM136.6 85.7h1.4v1.4h-1.4zM138.8 88.9h1.2v1.2h-1.2zM161.8 94.3h1.3v1.3h-1.3zM139.5 90.5h0.8v0.8h-0.8zM137.9 79.8h1.1v1.1h-1.1zM139.7 99.2h0.7v0.7h-0.7zM164.8 90.7h1.3v1.3h-1.3zM137.1 95.3h1.2v1.2h-1.2zM150.8 108.8h1v1h-1zM164.5 85.2h1.1v1.1h-1.1zM164.2 97.3h0.9v0.9h-0.9zM139.2 89.4h1.4v1.4h-1.4zM138.3 86.7h1.2v1.2h-1.2zM137.6 102.9h1.3v1.3h-1.3zM-1 6.9h1.1v1.1h-1.1zM-8.9 15.5h1.1v1.1h-1.1zM3.2 12.8h1.3v1.3h-1.3zM-8.7 22.3h0.8v0.8h-0.8zM2.1 6.2h1.5v1.5h-1.5zM-8.1 40.2h1v1h-1zM-8.8 47h1.3v1.3h-1.3zM2.8 68.9h0.8v0.8h-0.8zM3.7 51.9h1.5v1.5h-1.5zM5.6 47.9h1.2v1.2h-1.2zM-7 81.6h1.1v1.1h-1.1zM-7 93.1h1.3v1.3h-1.3zM5 81.5h1.2v1.2h-1.2zM5.8 104h1.4v1.4h-1.4zM-7.2 99.9h0.8v0.8h-0.8zM-8.6 97.8h1.4v1.4h-1.4zM3.3 82h0.7v0.7h-0.7zM-9.5 105.6h0.8v0.8h-0.8zM-9.4 103.4h1.3v1.3h-1.3z"/></g><rect x="118.8" y="101.8" width="29.9" height="14.3" fill="#fff"/><rect x="120.5" y="103" width="26.9" height="3" rx="1" fill="#000"/><text x="134" y="113.6" text-anchor="middle" style="font-family:'Liberation Sans',sans-serif;font-weight:bold;font-size:7.6px" fill="#000">40 &#181;m</text><text x="70.7" y="7" text-anchor="middle" style="font-family:'Liberation Serif',serif;font-size:9px" fill="#000">40 &#181;m</text><text x="131.7" y="7" text-anchor="middle" style="font-family:'Liberation Serif',serif;font-size:9px" fill="#000">20 &#181;m</text><text x="162.5" y="34" style="font-family:'Liberation Serif',serif;font-size:9px" fill="#000">20 &#181;m</text><line x1="60.2" y1="10.1" x2="82.1" y2="10.1" stroke="#000" stroke-width="1"/><path d="M58.2 10.1L62.2 7.9L62.2 12.3Z" fill="#000"/><path d="M84.1 10.1L80.1 7.9L80.1 12.3Z" fill="#000"/><line x1="127.7" y1="9.9" x2="136.4" y2="9.9" stroke="#000" stroke-width="1"/><path d="M125.7 9.9L129.7 7.7L129.7 12.1Z" fill="#000"/><path d="M138.4 9.9L134.4 7.7L134.4 12.1Z" fill="#000"/><line x1="159.3" y1="26.3" x2="159.3" y2="35.2" stroke="#000" stroke-width="1"/><path d="M159.3 24.3L157.1 28.3L161.5 28.3Z" fill="#000"/><path d="M159.3 37.2L157.1 33.2L161.5 33.2Z" fill="#000"/><text x="95.3" y="132.8" text-anchor="middle" style="font-family:'Liberation Serif',serif;font-size:11.4px" fill="#000">(a)</text><g clip-path="url(#clipB)"><rect x="217.4" y="42.5" width="216.2" height="165.8" fill="#4a8ef0"/><rect x="217.4" y="42.5" width="216.2" height="165.8" filter="url(#vstripe)" opacity="0.4"/><rect x="217.4" y="42.5" width="216.2" height="165.8" filter="url(#vstripeD)" opacity="0.15"/><g transform="rotate(1.25 326 125)"><g filter="url(#roughg)"><rect x="200" y="51.5" width="250" height="4.0" fill="#5cdc7c"/><rect x="200" y="52.2" width="250" height="2.6" fill="#8cec5c"/><rect x="200" y="69.3" width="250" height="4.0" fill="#5cdc7c"/><rect x="200" y="70" width="250" height="2.6" fill="#8cec5c"/><rect x="200" y="87.1" width="250" height="4.0" fill="#5cdc7c"/><rect x="200" y="87.8" width="250" height="2.6" fill="#8cec5c"/><rect x="200" y="104.9" width="250" height="4.0" fill="#5cdc7c"/><rect x="200" y="105.6" width="250" height="2.6" fill="#8cec5c"/><rect x="200" y="122.7" width="250" height="4.0" fill="#5cdc7c"/><rect x="200" y="123.4" width="250" height="2.6" fill="#8cec5c"/><rect x="200" y="140.5" width="250" height="4.0" fill="#5cdc7c"/><rect x="200" y="141.2" width="250" height="2.6" fill="#8cec5c"/><rect x="200" y="158.3" width="250" height="4.0" fill="#5cdc7c"/><rect x="200" y="159" width="250" height="2.6" fill="#8cec5c"/><rect x="200" y="176.1" width="250" height="4.0" fill="#5cdc7c"/><rect x="200" y="176.8" width="250" height="2.6" fill="#8cec5c"/><rect x="200" y="193.9" width="250" height="4.0" fill="#5cdc7c"/><rect x="200" y="194.6" width="250" height="2.6" fill="#8cec5c"/><rect x="215.9" y="30" width="3.3" height="190" fill="#88dc48"/><rect x="216.7" y="30" width="1.8" height="190" fill="#b6e844"/><rect x="233.6" y="30" width="3.3" height="190" fill="#88dc48"/><rect x="234.4" y="30" width="1.8" height="190" fill="#b6e844"/><rect x="251.3" y="30" width="3.3" height="190" fill="#88dc48"/><rect x="252.1" y="30" width="1.8" height="190" fill="#b6e844"/><rect x="269.1" y="30" width="3.3" height="190" fill="#88dc48"/><rect x="269.8" y="30" width="1.8" height="190" fill="#b6e844"/><rect x="286.8" y="30" width="3.3" height="190" fill="#88dc48"/><rect x="287.5" y="30" width="1.8" height="190" fill="#b6e844"/><rect x="304.5" y="30" width="3.3" height="190" fill="#88dc48"/><rect x="305.2" y="30" width="1.8" height="190" fill="#b6e844"/><rect x="322.1" y="30" width="3.3" height="190" fill="#88dc48"/><rect x="322.9" y="30" width="1.8" height="190" fill="#b6e844"/><rect x="339.9" y="30" width="3.3" height="190" fill="#88dc48"/><rect x="340.6" y="30" width="1.8" height="190" fill="#b6e844"/><rect x="357.6" y="30" width="3.3" height="190" fill="#88dc48"/><rect x="358.3" y="30" width="1.8" height="190" fill="#b6e844"/><rect x="375.2" y="30" width="3.3" height="190" fill="#88dc48"/><rect x="376" y="30" width="1.8" height="190" fill="#b6e844"/><rect x="393" y="30" width="3.3" height="190" fill="#88dc48"/><rect x="393.7" y="30" width="1.8" height="190" fill="#b6e844"/><rect x="410.6" y="30" width="3.3" height="190" fill="#88dc48"/><rect x="411.4" y="30" width="1.8" height="190" fill="#b6e844"/><rect x="428.4" y="30" width="3.3" height="190" fill="#88dc48"/><rect x="429.1" y="30" width="1.8" height="190" fill="#b6e844"/></g><path fill="#111" d="M288.6 51.6h0.8v0.8h-0.8zM382.6 54.5h0.7v0.7h-0.7zM346.7 51.1h1.3v1.3h-1.3zM228.3 54.8h1.2v1.2h-1.2zM424 54.9h1.1v1.1h-1.1zM285.3 55.3h1.2v1.2h-1.2zM235.4 50.9h1.1v1.1h-1.1zM414.5 51.3h0.6v0.6h-0.6zM282.4 54.8h0.9v0.9h-0.9zM216.4 51.4h1.1v1.1h-1.1zM438.5 50.9h1.3v1.3h-1.3zM367.6 50.8h0.8v0.8h-0.8zM368.3 54.9h0.8v0.8h-0.8zM437.3 50.8h1.1v1.1h-1.1zM346.3 51.1h0.8v0.8h-0.8zM416.5 55.2h1.1v1.1h-1.1zM401.4 51.6h0.7v0.7h-0.7zM427 54.8h0.7v0.7h-0.7zM437 50.9h1v1h-1zM301.7 55.1h0.9v0.9h-0.9zM297.4 55.3h1v1h-1zM234.2 55h0.9v0.9h-0.9zM404.2 54.8h0.6v0.6h-0.6zM211.4 51.5h0.8v0.8h-0.8zM366.5 50.7h0.8v0.8h-0.8zM434.8 50.9h1.2v1.2h-1.2zM303.4 51.1h0.8v0.8h-0.8zM246.7 50.9h0.6v0.6h-0.6zM334.4 55.2h0.8v0.8h-0.8zM323.5 55.1h1.1v1.1h-1.1zM389.1 54.5h1.3v1.3h-1.3zM421.5 55.1h1.3v1.3h-1.3zM410.5 51.6h1.2v1.2h-1.2zM358.1 51h1.2v1.2h-1.2zM433.1 51.4h1.2v1.2h-1.2zM308.5 54.5h1v1h-1zM367.8 54.5h0.9v0.9h-0.9zM217.6 55.3h1v1h-1zM358.1 54.9h1.3v1.3h-1.3zM226.9 55h0.9v0.9h-0.9zM285.5 51.5h0.8v0.8h-0.8zM260.3 51.3h1.2v1.2h-1.2zM327.4 51.6h1.2v1.2h-1.2zM230.3 54.8h1.2v1.2h-1.2zM232.8 51.5h1.2v1.2h-1.2zM330.1 55.1h1.1v1.1h-1.1zM416.8 72.5h1.2v1.2h-1.2zM353.8 69.3h1.3v1.3h-1.3zM342.8 68.8h1.1v1.1h-1.1zM375.1 68.6h1.1v1.1h-1.1zM306.1 69h0.9v0.9h-0.9zM425 72.6h0.8v0.8h-0.8zM350.6 69.3h0.6v0.6h-0.6zM359.9 69h1.2v1.2h-1.2zM244.7 68.7h0.7v0.7h-0.7zM426.4 72.4h0.7v0.7h-0.7zM332.8 73.1h1v1h-1zM228.2 72.5h0.6v0.6h-0.6zM213.1 72.3h0.9v0.9h-0.9zM271.1 72.3h1.2v1.2h-1.2zM340.3 68.8h0.9v0.9h-0.9zM431 69.4h1.1v1.1h-1.1zM324 73h0.7v0.7h-0.7zM254.8 69.3h1.2v1.2h-1.2zM422.8 72.9h1.2v1.2h-1.2zM215.7 72.5h1v1h-1zM237.6 68.9h0.8v0.8h-0.8zM386.9 68.7h1v1h-1zM389.8 69.3h0.9v0.9h-0.9zM326.7 69h0.7v0.7h-0.7zM408.8 69.3h1.1v1.1h-1.1zM272.5 72.4h1.2v1.2h-1.2zM387.6 72.3h1.2v1.2h-1.2zM298.8 72.9h1.2v1.2h-1.2zM293.2 72.7h1.2v1.2h-1.2zM294.7 73.1h0.8v0.8h-0.8zM340.2 72.5h0.8v0.8h-0.8zM363.3 68.8h1.1v1.1h-1.1zM228.4 69.3h1.1v1.1h-1.1zM251.8 69.3h0.7v0.7h-0.7zM302.2 72.7h1.2v1.2h-1.2zM306.6 69.1h0.8v0.8h-0.8zM283.9 68.8h1v1h-1zM305.1 69h0.8v0.8h-0.8zM239.7 69.3h0.9v0.9h-0.9zM274 73h0.9v0.9h-0.9zM269.7 72.6h0.8v0.8h-0.8zM373.5 68.9h0.8v0.8h-0.8zM414.5 69h0.7v0.7h-0.7zM212.1 69.3h0.9v0.9h-0.9zM220.7 72.6h1.3v1.3h-1.3zM420.7 72.8h1v1h-1zM288.1 69.2h0.8v0.8h-0.8zM313.8 86.5h0.7v0.7h-0.7zM229.8 87.1h0.9v0.9h-0.9zM264.2 90.9h1v1h-1zM434.5 90.3h1.2v1.2h-1.2zM351.2 90.7h1.1v1.1h-1.1zM341.7 87.1h0.8v0.8h-0.8zM219.8 90.1h1.1v1.1h-1.1zM358.7 90.1h0.7v0.7h-0.7zM405.6 86.3h0.7v0.7h-0.7zM295.6 90.5h1.2v1.2h-1.2zM438 90.8h0.7v0.7h-0.7zM437.4 86.4h1.1v1.1h-1.1zM393 86.9h0.9v0.9h-0.9zM422.7 86.6h1v1h-1zM309.8 90.9h0.7v0.7h-0.7zM232.8 86.9h0.7v0.7h-0.7zM331.5 90.6h1.1v1.1h-1.1zM303.4 90.4h0.7v0.7h-0.7zM307.2 90.7h0.7v0.7h-0.7zM317.4 90.9h0.7v0.7h-0.7zM334.4 90.3h0.9v0.9h-0.9zM332.8 86.6h0.8v0.8h-0.8zM289 86.7h1.1v1.1h-1.1zM385.7 90.8h1v1h-1zM257.4 86.3h0.8v0.8h-0.8zM411.4 90.9h0.7v0.7h-0.7zM213.4 90.7h1.2v1.2h-1.2zM279.7 90.1h1v1h-1zM295.6 86.7h0.8v0.8h-0.8zM322.5 86.8h0.6v0.6h-0.6zM255.9 90.8h1v1h-1zM238.7 86.8h1.2v1.2h-1.2zM396.8 87.1h1v1h-1zM414.4 90.2h1.2v1.2h-1.2zM383.5 86.3h1.1v1.1h-1.1zM251.2 86.8h1v1h-1zM401.9 87h1.2v1.2h-1.2zM381.2 86.5h0.9v0.9h-0.9zM386.8 90.2h1.1v1.1h-1.1zM381.6 87.1h0.8v0.8h-0.8zM219.7 86.6h0.8v0.8h-0.8zM340.7 86.9h1.2v1.2h-1.2zM277.8 86.9h0.8v0.8h-0.8zM304.2 90h0.9v0.9h-0.9zM218.6 87.1h1.3v1.3h-1.3zM270.7 90.4h0.9v0.9h-0.9zM346.2 86.4h1v1h-1zM306.2 90.2h1.1v1.1h-1.1zM214.9 90.7h1.3v1.3h-1.3zM391.4 90.8h1.2v1.2h-1.2zM256.7 86.7h1.1v1.1h-1.1zM301.1 108h0.7v0.7h-0.7zM240.8 108.5h0.6v0.6h-0.6zM409.1 108h0.7v0.7h-0.7zM438.1 108.5h0.7v0.7h-0.7zM271 104.8h0.7v0.7h-0.7zM369.7 104.9h1.3v1.3h-1.3zM375.9 104.5h0.7v0.7h-0.7zM212.3 108.2h0.8v0.8h-0.8zM232 104.9h1.3v1.3h-1.3zM383.1 104.4h0.7v0.7h-0.7zM413.5 108.2h0.7v0.7h-0.7zM288.7 104.2h0.8v0.8h-0.8zM393.5 108.6h0.9v0.9h-0.9zM235.7 104.9h0.7v0.7h-0.7zM239.2 108.1h0.6v0.6h-0.6zM310.8 104.1h0.7v0.7h-0.7zM322.9 104.9h0.8v0.8h-0.8zM381 108.4h1.1v1.1h-1.1zM392.5 108.2h1v1h-1zM210.8 104.9h0.7v0.7h-0.7zM212 108.1h1.3v1.3h-1.3zM429.2 104.2h1v1h-1zM374.7 104.9h0.7v0.7h-0.7zM360.1 108.3h1.1v1.1h-1.1zM244.3 107.9h1v1h-1zM352.5 104.5h0.8v0.8h-0.8zM343 104.7h0.6v0.6h-0.6zM388 104.5h0.9v0.9h-0.9zM269.7 104.7h0.7v0.7h-0.7zM234.2 108.3h1v1h-1zM381.9 108.5h1v1h-1zM384.9 108.4h1v1h-1zM398.9 108.6h1.2v1.2h-1.2zM330.2 104.6h1.1v1.1h-1.1zM287.9 105h1.2v1.2h-1.2zM416.9 104.8h0.8v0.8h-0.8zM365 108.5h0.9v0.9h-0.9zM259.1 108.7h0.7v0.7h-0.7zM336.8 108h1.1v1.1h-1.1zM370.3 104.9h0.6v0.6h-0.6zM402.9 108.5h0.9v0.9h-0.9zM415.3 104.7h0.7v0.7h-0.7zM325.8 105h0.8v0.8h-0.8zM263.2 108h1v1h-1zM266.8 108.1h1.1v1.1h-1.1zM326.5 108.1h0.7v0.7h-0.7zM385.4 107.9h1.1v1.1h-1.1zM387.5 108.5h0.9v0.9h-0.9zM292.4 107.9h0.9v0.9h-0.9zM415.5 104.5h1.2v1.2h-1.2zM376.1 108.3h0.9v0.9h-0.9zM393.4 108.3h0.8v0.8h-0.8zM391.3 104.6h1v1h-1zM325 108.1h0.7v0.7h-0.7zM427 104.6h0.7v0.7h-0.7zM402.3 108.4h0.9v0.9h-0.9zM342.7 105h0.7v0.7h-0.7zM253.1 122.1h1.3v1.3h-1.3zM400.6 122.4h0.6v0.6h-0.6zM313.6 122h1.2v1.2h-1.2zM390 126.5h1.2v1.2h-1.2zM415.8 122.1h0.8v0.8h-0.8zM383.3 122.6h1v1h-1zM340 122.3h0.7v0.7h-0.7zM417.9 126.4h0.8v0.8h-0.8zM437.5 125.9h1.1v1.1h-1.1zM357.4 122h0.8v0.8h-0.8zM267.9 122h0.7v0.7h-0.7zM282.5 122.6h0.7v0.7h-0.7zM231.6 122.2h0.7v0.7h-0.7zM369.3 126.4h0.7v0.7h-0.7zM371.1 122.3h1.1v1.1h-1.1zM345.4 125.9h0.9v0.9h-0.9zM370.9 125.7h1.2v1.2h-1.2zM249.2 125.6h0.9v0.9h-0.9zM309 122.7h1.2v1.2h-1.2zM214.3 122.2h0.6v0.6h-0.6zM297.9 122.2h0.9v0.9h-0.9zM353.4 122.1h1.2v1.2h-1.2zM318.9 125.7h1v1h-1zM325.2 126.1h0.9v0.9h-0.9zM250.1 126.3h0.8v0.8h-0.8zM402.1 122.3h0.8v0.8h-0.8zM273.4 125.6h1.1v1.1h-1.1zM366.3 126.3h0.9v0.9h-0.9zM363.2 122.1h0.9v0.9h-0.9zM414.2 126.4h1v1h-1zM260.1 126.2h1.2v1.2h-1.2zM341.3 122.1h1.1v1.1h-1.1zM403 122.4h0.7v0.7h-0.7zM319.2 122.1h1v1h-1zM371.6 122.1h0.8v0.8h-0.8zM350.5 122.4h0.8v0.8h-0.8zM430.3 126.2h1v1h-1zM361.5 122.1h1.1v1.1h-1.1zM317.2 122.4h1v1h-1zM365.9 126.4h1v1h-1zM217.2 122.3h1.2v1.2h-1.2zM341.1 126.3h1.2v1.2h-1.2zM313.7 122.5h1.1v1.1h-1.1zM434.5 122.7h0.7v0.7h-0.7zM423.9 122h1.1v1.1h-1.1zM430 126.3h1.1v1.1h-1.1zM222.8 140.4h1.2v1.2h-1.2zM341.2 144.3h0.9v0.9h-0.9zM354.4 140.2h0.9v0.9h-0.9zM432.2 140h1.2v1.2h-1.2zM409.2 140.3h0.6v0.6h-0.6zM369.1 143.8h0.7v0.7h-0.7zM228 143.7h1.3v1.3h-1.3zM349.2 140.1h0.8v0.8h-0.8zM283.4 143.5h0.8v0.8h-0.8zM367.4 144h1.1v1.1h-1.1zM252.9 140.5h1.1v1.1h-1.1zM243.8 143.6h1.2v1.2h-1.2zM371.7 144.2h0.9v0.9h-0.9zM241.7 143.5h1v1h-1zM239.8 144.1h1.2v1.2h-1.2zM259.7 143.9h0.6v0.6h-0.6zM300.5 140.2h0.8v0.8h-0.8zM295.3 139.9h1.2v1.2h-1.2zM358.8 143.6h0.6v0.6h-0.6zM384.1 144h0.9v0.9h-0.9zM369.5 143.6h0.7v0.7h-0.7zM384.3 143.4h0.7v0.7h-0.7zM366.6 140.2h1.1v1.1h-1.1zM341.6 143.5h0.8v0.8h-0.8zM258.1 143.7h1v1h-1zM373.2 144.1h0.9v0.9h-0.9zM344.2 144.1h0.7v0.7h-0.7zM404.9 140.1h0.8v0.8h-0.8zM359.9 140.5h1.1v1.1h-1.1zM277.5 139.7h0.9v0.9h-0.9zM284.4 140.4h1.3v1.3h-1.3zM426 144.2h1v1h-1zM429.6 144.2h1.1v1.1h-1.1zM422.9 143.4h1v1h-1zM308.4 143.5h1v1h-1zM403.6 144.1h0.6v0.6h-0.6zM382.2 144.2h1v1h-1zM233.3 140.5h1v1h-1zM288.4 144.1h1.1v1.1h-1.1zM245.5 144.1h0.6v0.6h-0.6zM256.4 144.2h1.3v1.3h-1.3zM327.9 139.8h1.2v1.2h-1.2zM235.2 143.8h0.8v0.8h-0.8zM382.9 143.7h1v1h-1zM365.7 143.9h1v1h-1zM419.6 140.3h0.8v0.8h-0.8zM358.7 140.4h1.2v1.2h-1.2zM251.8 140h1v1h-1zM282.2 140.1h0.7v0.7h-0.7zM403.9 158h0.6v0.6h-0.6zM301.7 158.2h0.9v0.9h-0.9zM251.5 157.8h0.8v0.8h-0.8zM404.9 157.9h0.7v0.7h-0.7zM359.2 161.2h0.9v0.9h-0.9zM439.2 158.1h1.1v1.1h-1.1zM403.2 158.3h0.8v0.8h-0.8zM405.7 158h1.3v1.3h-1.3zM284.6 161.9h1.1v1.1h-1.1zM335.3 157.6h0.9v0.9h-0.9zM416.4 157.9h0.7v0.7h-0.7zM420.5 161.4h1.3v1.3h-1.3zM433.5 157.6h0.9v0.9h-0.9zM296.4 161.9h0.8v0.8h-0.8zM331 161.7h0.8v0.8h-0.8zM249.3 157.5h0.6v0.6h-0.6zM307.3 158.1h0.9v0.9h-0.9zM248.7 158.3h1.2v1.2h-1.2zM296.9 158.3h1.1v1.1h-1.1zM387.7 161.7h0.9v0.9h-0.9zM249.9 161.6h0.8v0.8h-0.8zM250.8 161.9h0.8v0.8h-0.8zM323.6 158.1h0.8v0.8h-0.8zM304.5 161.7h0.9v0.9h-0.9zM340.1 157.8h1.1v1.1h-1.1zM305.5 162h1.1v1.1h-1.1zM212.6 161.9h0.8v0.8h-0.8zM375.3 161.3h0.9v0.9h-0.9zM304.7 158.2h0.8v0.8h-0.8zM217.6 161.3h0.8v0.8h-0.8zM236.1 157.9h0.8v0.8h-0.8zM430.1 161.7h0.7v0.7h-0.7zM399.9 161.3h0.6v0.6h-0.6zM406.2 158h1v1h-1zM439.2 158.1h0.7v0.7h-0.7zM369.9 158h1.3v1.3h-1.3zM390 157.9h0.8v0.8h-0.8zM439.2 162h1.1v1.1h-1.1zM405.7 161.5h1.2v1.2h-1.2zM322.9 162h0.7v0.7h-0.7zM248.9 158.3h0.8v0.8h-0.8zM221.8 162.1h0.7v0.7h-0.7zM250.4 161.9h1.2v1.2h-1.2zM242 161.5h1.1v1.1h-1.1zM304.1 157.8h1.3v1.3h-1.3zM292.3 161.2h0.8v0.8h-0.8zM422.4 157.7h0.9v0.9h-0.9zM357.1 162.1h1v1h-1zM347.7 161.7h0.6v0.6h-0.6zM410.5 175.5h1v1h-1zM215.2 175.5h0.9v0.9h-0.9zM364.9 175.8h1v1h-1zM267.6 175.5h0.9v0.9h-0.9zM329.6 179h0.6v0.6h-0.6zM345.2 176.1h0.8v0.8h-0.8zM407.7 175.9h1.2v1.2h-1.2zM282.5 179.8h1v1h-1zM349.2 179.2h1.2v1.2h-1.2zM298 175.8h1.3v1.3h-1.3zM258.7 175.8h0.9v0.9h-0.9zM378.8 175.8h1.1v1.1h-1.1zM351.4 179.2h1v1h-1zM337.4 179.4h0.6v0.6h-0.6zM393.3 176.1h0.8v0.8h-0.8zM367.3 175.7h1v1h-1zM358.8 179.4h1.2v1.2h-1.2zM229.1 175.7h0.7v0.7h-0.7zM341.1 175.4h1.1v1.1h-1.1zM219.5 175.5h1.1v1.1h-1.1zM285.2 179.8h0.7v0.7h-0.7zM376.3 179.8h0.7v0.7h-0.7zM408.7 179.6h0.6v0.6h-0.6zM413.2 176.2h1.3v1.3h-1.3zM425.9 179.4h1.1v1.1h-1.1zM215.5 179.8h0.8v0.8h-0.8zM236.2 176.1h1v1h-1zM418.9 175.9h1.2v1.2h-1.2zM391 175.7h0.6v0.6h-0.6zM224.7 179.3h1v1h-1zM368 179.2h1v1h-1zM326.3 176.2h1v1h-1zM403.4 179.5h0.6v0.6h-0.6zM416.4 175.8h0.7v0.7h-0.7zM343.2 175.6h0.7v0.7h-0.7zM433 175.9h0.8v0.8h-0.8zM268.7 175.6h1.2v1.2h-1.2zM277.9 179.4h1.2v1.2h-1.2zM430.2 176.1h0.7v0.7h-0.7zM214.9 179.4h0.8v0.8h-0.8zM385.3 179.4h1v1h-1zM229 179h1.1v1.1h-1.1zM225.9 175.8h0.6v0.6h-0.6zM437.4 179.6h0.8v0.8h-0.8zM396.5 176.2h0.9v0.9h-0.9zM229.9 179.7h0.8v0.8h-0.8zM411.8 179.9h0.7v0.7h-0.7zM396.7 175.4h0.6v0.6h-0.6zM345.5 176.1h0.9v0.9h-0.9zM377.2 179.8h1v1h-1zM249.9 175.9h1.3v1.3h-1.3zM307.7 175.5h0.9v0.9h-0.9zM419.6 176.1h1.2v1.2h-1.2zM352.3 179.9h0.7v0.7h-0.7zM439.7 179.6h1.1v1.1h-1.1zM303.3 179.4h1.1v1.1h-1.1zM309.4 179.5h1.1v1.1h-1.1zM437.6 179.2h1v1h-1zM316.7 175.5h1v1h-1zM345.8 197.6h0.8v0.8h-0.8zM330.9 193.9h1.1v1.1h-1.1zM288.2 193.9h1v1h-1zM405.7 197.3h1.2v1.2h-1.2zM438.7 197.2h1.1v1.1h-1.1zM439.3 197.6h0.6v0.6h-0.6zM385.5 197.1h0.6v0.6h-0.6zM347.1 197.2h0.7v0.7h-0.7zM363.4 193.8h1.2v1.2h-1.2zM438.3 193.4h1.3v1.3h-1.3zM337.4 197.1h0.8v0.8h-0.8zM269.7 197.7h1.2v1.2h-1.2zM370.7 196.9h0.7v0.7h-0.7zM305.6 193.8h0.8v0.8h-0.8zM341.3 193.5h0.9v0.9h-0.9zM391.7 193.2h1v1h-1zM310.2 197.6h0.8v0.8h-0.8zM274.5 193.3h1v1h-1zM293.2 197.2h0.9v0.9h-0.9zM362.8 197.2h1.1v1.1h-1.1zM349.1 197.6h1.3v1.3h-1.3zM273.1 194h1.3v1.3h-1.3zM314.1 196.8h1.1v1.1h-1.1zM265.2 197.3h0.7v0.7h-0.7zM367.6 193.2h1.1v1.1h-1.1zM359 197.2h0.6v0.6h-0.6zM291.3 193.8h1.1v1.1h-1.1zM234 193.6h1v1h-1zM308.4 193.8h0.9v0.9h-0.9zM428.8 193.9h0.9v0.9h-0.9zM342.6 193.3h0.7v0.7h-0.7zM347.6 196.9h1.2v1.2h-1.2zM391.8 197.1h1.1v1.1h-1.1zM303.5 193.9h0.9v0.9h-0.9zM313.2 193.3h1.1v1.1h-1.1zM306.3 197.3h0.8v0.8h-0.8zM230.4 193.5h1.1v1.1h-1.1zM351.2 197h0.6v0.6h-0.6zM401.4 197.6h1.2v1.2h-1.2zM398.3 193.4h0.9v0.9h-0.9zM293.3 196.9h0.8v0.8h-0.8zM285.6 193.6h1v1h-1zM359.6 193.3h1.3v1.3h-1.3zM252.5 193.6h0.8v0.8h-0.8zM248.7 196.9h1.3v1.3h-1.3zM211.7 197.2h0.8v0.8h-0.8zM437.6 193.4h1v1h-1zM281.1 197h1v1h-1zM279 197.7h1.1v1.1h-1.1zM327 193.7h0.7v0.7h-0.7zM218.8 101.8h1v1h-1zM218.7 137.5h0.7v0.7h-0.7zM218.8 112.3h0.9v0.9h-0.9zM215 140.2h1v1h-1zM215 48h1.2v1.2h-1.2zM218.6 70.3h1.1v1.1h-1.1zM215.5 43.8h0.9v0.9h-0.9zM215.4 163.5h0.8v0.8h-0.8zM218.8 79.1h0.8v0.8h-0.8zM219.1 115.3h1.2v1.2h-1.2zM215.7 152.3h1v1h-1zM215.3 150.8h0.8v0.8h-0.8zM215 199.5h0.9v0.9h-0.9zM218.8 48.8h0.9v0.9h-0.9zM218.9 35.5h0.8v0.8h-0.8zM218.8 109.5h0.7v0.7h-0.7zM218.5 209.5h1.1v1.1h-1.1zM215.1 192.8h1v1h-1zM218.7 200h1.2v1.2h-1.2zM215.3 204.6h0.8v0.8h-0.8zM215.1 133.6h1.3v1.3h-1.3zM214.9 138.4h1.2v1.2h-1.2zM215.5 187.8h0.6v0.6h-0.6zM218.4 180.5h0.9v0.9h-0.9zM215.4 96.4h1.1v1.1h-1.1zM215.5 144.8h0.7v0.7h-0.7zM215 194.3h0.6v0.6h-0.6zM219 121.8h0.9v0.9h-0.9zM215.6 48.2h1.2v1.2h-1.2zM215.3 192.1h0.7v0.7h-0.7zM219.3 84.4h0.7v0.7h-0.7zM236.8 112.1h1.2v1.2h-1.2zM236.3 114.3h1.1v1.1h-1.1zM233.1 46h0.7v0.7h-0.7zM233.1 90h0.9v0.9h-0.9zM236.5 137.2h1.1v1.1h-1.1zM232.8 108.6h0.9v0.9h-0.9zM232.8 136h1.2v1.2h-1.2zM236.6 75.1h1.1v1.1h-1.1zM236.8 165.7h1.2v1.2h-1.2zM236.5 99.8h1.3v1.3h-1.3zM233.1 53.1h1v1h-1zM232.8 153.6h0.9v0.9h-0.9zM236.6 204.2h1.1v1.1h-1.1zM233.1 91.5h1.1v1.1h-1.1zM236.8 76.5h1.1v1.1h-1.1zM232.6 114.5h0.8v0.8h-0.8zM232.8 93h0.7v0.7h-0.7zM236.9 50.4h0.7v0.7h-0.7zM233.4 158.7h1v1h-1zM236.4 204h0.7v0.7h-0.7zM232.7 65.4h0.6v0.6h-0.6zM236.7 35.5h1.1v1.1h-1.1zM232.6 149.6h0.9v0.9h-0.9zM236.6 85.7h1.1v1.1h-1.1zM236.4 145.7h1v1h-1zM233.2 144.7h1.2v1.2h-1.2zM232.9 95.5h1v1h-1zM232.8 57.2h0.9v0.9h-0.9zM233 68.8h0.9v0.9h-0.9zM237 175.6h0.9v0.9h-0.9zM233.1 60.3h1.1v1.1h-1.1zM236.4 134.1h0.8v0.8h-0.8zM236.3 171.1h1.2v1.2h-1.2zM236.2 138.3h1.2v1.2h-1.2zM236.2 53h0.9v0.9h-0.9zM236.5 69.6h0.9v0.9h-0.9zM237 196.3h0.8v0.8h-0.8zM236.8 161.2h0.8v0.8h-0.8zM236.8 182.2h0.9v0.9h-0.9zM236.5 194h0.9v0.9h-0.9zM253.8 80.4h0.9v0.9h-0.9zM250.3 79.2h1v1h-1zM254.7 171.8h0.9v0.9h-0.9zM250.4 65.4h1.2v1.2h-1.2zM254 200.5h1.2v1.2h-1.2zM250.8 132.5h0.6v0.6h-0.6zM250.7 161.3h0.8v0.8h-0.8zM251.1 62h0.7v0.7h-0.7zM254.3 47h1v1h-1zM254 157.6h0.7v0.7h-0.7zM251 95.4h0.9v0.9h-0.9zM254.3 170.7h1v1h-1zM254.6 96.9h1.2v1.2h-1.2zM250.5 112.3h1.1v1.1h-1.1zM250.9 139.9h0.8v0.8h-0.8zM250.4 75.1h1v1h-1zM251 172.3h1v1h-1zM250.6 208h1v1h-1zM254.2 123.4h1.3v1.3h-1.3zM250.3 176.8h0.8v0.8h-0.8zM250.7 60.8h1.1v1.1h-1.1zM254.3 57.5h1.1v1.1h-1.1zM250.9 127.4h0.7v0.7h-0.7zM250.9 44.9h0.8v0.8h-0.8zM251 107h0.7v0.7h-0.7zM250.4 126.9h1.1v1.1h-1.1zM254 195.5h0.7v0.7h-0.7zM250.9 117.5h0.8v0.8h-0.8zM253.8 159.7h1.3v1.3h-1.3zM254.5 143h1v1h-1zM254.6 153.2h1v1h-1zM254.4 108.4h1.1v1.1h-1.1zM254.6 129.9h1.3v1.3h-1.3zM250.9 171.6h0.7v0.7h-0.7zM250.6 37.2h0.7v0.7h-0.7zM250.5 38.2h1.1v1.1h-1.1zM250.7 141.2h1.1v1.1h-1.1zM254.4 212.5h1.1v1.1h-1.1zM272.2 122.8h0.9v0.9h-0.9zM271.5 48.8h1.3v1.3h-1.3zM268.1 116.8h1v1h-1zM271.6 82.1h1.1v1.1h-1.1zM271.7 123h1.1v1.1h-1.1zM272.1 49.6h0.8v0.8h-0.8zM268.5 180.6h0.7v0.7h-0.7zM268.4 204.2h0.7v0.7h-0.7zM268.6 182.3h1.2v1.2h-1.2zM268.7 161.2h0.7v0.7h-0.7zM272.3 196h0.9v0.9h-0.9zM271.9 192.1h0.7v0.7h-0.7zM268.5 80.1h1.2v1.2h-1.2zM268.4 100.2h1.2v1.2h-1.2zM268.5 94.3h0.6v0.6h-0.6zM268.3 155h1.1v1.1h-1.1zM272.2 69.7h1.3v1.3h-1.3zM268.3 121.1h0.8v0.8h-0.8zM271.6 209.5h0.7v0.7h-0.7zM268.6 111.2h1v1h-1zM271.7 74.7h1v1h-1zM271.7 80.9h0.7v0.7h-0.7zM268.7 166.5h0.6v0.6h-0.6zM272 172.2h0.7v0.7h-0.7zM268.8 119.9h0.9v0.9h-0.9zM268.4 134.1h0.8v0.8h-0.8zM268.5 162.8h0.7v0.7h-0.7zM271.8 70.5h0.7v0.7h-0.7zM268.1 211.5h1v1h-1zM272 177h0.7v0.7h-0.7zM268.6 127.8h0.7v0.7h-0.7zM268.3 160.3h1.3v1.3h-1.3zM268.3 179.4h1v1h-1zM289.5 136.4h0.9v0.9h-0.9zM289.5 114.6h1.2v1.2h-1.2zM290 209.2h0.6v0.6h-0.6zM289.5 36.3h1.2v1.2h-1.2zM289.6 209.4h0.8v0.8h-0.8zM289.4 191.5h1.2v1.2h-1.2zM285.8 79.9h1v1h-1zM289.8 180.6h0.7v0.7h-0.7zM286.4 68.9h0.9v0.9h-0.9zM289.8 91.5h1.3v1.3h-1.3zM286.2 205.8h0.9v0.9h-0.9zM286.1 158.5h1v1h-1zM286.5 46.2h1.1v1.1h-1.1zM286.2 207.8h1v1h-1zM289.6 110h1.1v1.1h-1.1zM286.1 206.6h0.7v0.7h-0.7zM286.2 149.5h1v1h-1zM289.3 211.9h0.9v0.9h-0.9zM289.6 65.7h0.7v0.7h-0.7zM286.6 210.4h1.2v1.2h-1.2zM285.9 103.3h1.2v1.2h-1.2zM286.4 127.9h1v1h-1zM289.9 92.1h0.7v0.7h-0.7zM285.8 51.3h1v1h-1zM286 200.8h0.7v0.7h-0.7zM290.1 194h0.8v0.8h-0.8zM289.6 110.9h1.2v1.2h-1.2zM289.5 40.1h0.8v0.8h-0.8zM307.3 117.2h1.2v1.2h-1.2zM303.8 133h0.9v0.9h-0.9zM304 115.8h0.6v0.6h-0.6zM304.1 51.4h0.7v0.7h-0.7zM303.6 115.8h0.9v0.9h-0.9zM307.3 189.6h1.1v1.1h-1.1zM307.6 65.6h1.2v1.2h-1.2zM307.7 211.6h1.3v1.3h-1.3zM303.9 87.8h1.3v1.3h-1.3zM307.7 98.4h0.9v0.9h-0.9zM307.8 204.2h0.9v0.9h-0.9zM304 111.4h1.2v1.2h-1.2zM307 158.9h1.1v1.1h-1.1zM303.8 52.3h1.1v1.1h-1.1zM307.1 139.9h1.1v1.1h-1.1zM304.1 138.7h1.1v1.1h-1.1zM304 100.1h1v1h-1zM307.6 123.8h0.7v0.7h-0.7zM303.7 135.9h1.3v1.3h-1.3zM304.1 180.7h1.2v1.2h-1.2zM307.8 123h1.1v1.1h-1.1zM304.3 199h1.1v1.1h-1.1zM307.2 146.3h0.8v0.8h-0.8zM303.5 56.2h1.1v1.1h-1.1zM303.6 129.1h1v1h-1zM304.1 147.1h0.8v0.8h-0.8zM303.5 146.6h1.3v1.3h-1.3zM304.2 193h0.8v0.8h-0.8zM303.9 52.7h0.7v0.7h-0.7zM304 80.6h0.7v0.7h-0.7zM303.7 162.2h1.2v1.2h-1.2zM307 109.5h0.8v0.8h-0.8zM307.5 187.6h1.2v1.2h-1.2zM304.1 38.9h1.1v1.1h-1.1zM307.7 109.1h1.1v1.1h-1.1zM307.5 202h1v1h-1zM303.9 187.1h0.7v0.7h-0.7zM303.9 209.1h1.3v1.3h-1.3zM307.4 160.5h0.8v0.8h-0.8zM307.5 85.1h1.1v1.1h-1.1zM306.9 44.5h1v1h-1zM325.2 163.3h1v1h-1zM325.5 103.1h0.9v0.9h-0.9zM321.2 96.5h1.1v1.1h-1.1zM321.6 48.1h1v1h-1zM325 209.7h0.6v0.6h-0.6zM324.8 148.9h0.8v0.8h-0.8zM325.3 64.6h1.2v1.2h-1.2zM325 59h1.1v1.1h-1.1zM324.6 124.7h1.2v1.2h-1.2zM325.3 69.9h1.1v1.1h-1.1zM325.5 97.2h0.8v0.8h-0.8zM321.3 174.6h0.8v0.8h-0.8zM321.5 157.9h0.9v0.9h-0.9zM325.4 58h1v1h-1zM325.3 208.5h1.1v1.1h-1.1zM325.3 79.4h0.7v0.7h-0.7zM321.9 74.1h1.2v1.2h-1.2zM324.8 200.3h0.7v0.7h-0.7zM324.6 111.7h0.7v0.7h-0.7zM325.3 51.4h1.2v1.2h-1.2zM324.8 210.8h0.8v0.8h-0.8zM325.1 144.1h1v1h-1zM325.1 99.5h0.7v0.7h-0.7zM324.8 107.4h0.9v0.9h-0.9zM321.6 153.3h0.7v0.7h-0.7zM325.1 160.8h0.9v0.9h-0.9zM322 149.9h1.2v1.2h-1.2zM324.8 176.4h1v1h-1zM325.3 135.6h1.1v1.1h-1.1zM324.7 178.1h0.6v0.6h-0.6zM324.6 170.2h1.2v1.2h-1.2zM321.4 197.9h1.1v1.1h-1.1zM321.9 156.3h1v1h-1zM324.7 99.7h0.6v0.6h-0.6zM321.4 186.2h0.9v0.9h-0.9zM343 96.2h0.9v0.9h-0.9zM339.3 143h0.7v0.7h-0.7zM339.5 86.9h0.7v0.7h-0.7zM342.3 159.1h0.7v0.7h-0.7zM339.5 111.9h0.8v0.8h-0.8zM339.2 100.8h0.9v0.9h-0.9zM342.4 92.8h1.1v1.1h-1.1zM342.8 164h1v1h-1zM339.3 101.9h0.7v0.7h-0.7zM342.5 177.3h1v1h-1zM342.3 147h0.6v0.6h-0.6zM343 100.6h1.1v1.1h-1.1zM343.1 127.7h1v1h-1zM339.2 162.5h0.7v0.7h-0.7zM342.8 40.8h1.3v1.3h-1.3zM342.8 128.8h1.3v1.3h-1.3zM342.8 169.9h0.7v0.7h-0.7zM339 90.2h0.8v0.8h-0.8zM342.8 167.9h0.8v0.8h-0.8zM342.8 147.1h0.7v0.7h-0.7zM342.4 47.9h0.8v0.8h-0.8zM339 140.3h1.3v1.3h-1.3zM343.2 171.5h1v1h-1zM339.4 183.6h1v1h-1zM342.5 96.7h1.1v1.1h-1.1zM339.2 67.7h0.9v0.9h-0.9zM339 72h1.2v1.2h-1.2zM342.5 213.7h1.2v1.2h-1.2zM339.1 190.4h0.7v0.7h-0.7zM339.3 174.4h0.7v0.7h-0.7zM339.1 91.7h0.8v0.8h-0.8zM342.6 77.7h1.2v1.2h-1.2zM339.1 210.7h0.8v0.8h-0.8zM343.1 180.9h0.8v0.8h-0.8zM342.3 148.1h1.2v1.2h-1.2zM338.9 128.3h0.6v0.6h-0.6zM342.6 189.9h1.1v1.1h-1.1zM343.1 193.9h1.2v1.2h-1.2zM342.3 124.7h1.2v1.2h-1.2zM360.9 169.3h1.3v1.3h-1.3zM360.9 134.1h1v1h-1zM360.1 113.4h1v1h-1zM360.1 57.4h1.2v1.2h-1.2zM357.4 209.4h1v1h-1zM360.8 161h0.7v0.7h-0.7zM360.6 83.8h0.8v0.8h-0.8zM360.6 100.7h1.1v1.1h-1.1zM360.5 95.6h0.8v0.8h-0.8zM360.5 101.3h0.7v0.7h-0.7zM357.1 102h1.2v1.2h-1.2zM360.6 121.9h0.6v0.6h-0.6zM356.6 99.9h1.2v1.2h-1.2zM357.2 159.8h0.9v0.9h-0.9zM360.9 171.6h1.1v1.1h-1.1zM357 140h0.9v0.9h-0.9zM360.6 41.5h0.6v0.6h-0.6zM360.7 41h1v1h-1zM360.5 108.2h1.1v1.1h-1.1zM357.1 144.7h1v1h-1zM360.4 83.3h1.1v1.1h-1.1zM360.5 183.6h1v1h-1zM360.7 98.9h0.7v0.7h-0.7zM356.9 93.6h1v1h-1zM357 133.6h1.2v1.2h-1.2zM360.9 107.3h0.8v0.8h-0.8zM356.5 207.2h0.7v0.7h-0.7zM360.1 164.7h1.1v1.1h-1.1zM360.2 56.5h1.3v1.3h-1.3zM356.9 190.7h0.9v0.9h-0.9zM375 176.8h0.9v0.9h-0.9zM378.5 118.7h1.1v1.1h-1.1zM378.1 208.1h1.2v1.2h-1.2zM375 213.3h0.8v0.8h-0.8zM374.5 72.9h0.7v0.7h-0.7zM377.9 174.6h1v1h-1zM374.3 40.7h0.9v0.9h-0.9zM377.9 76h0.7v0.7h-0.7zM375 55.7h1v1h-1zM378.3 125.9h1.3v1.3h-1.3zM377.9 101.5h0.8v0.8h-0.8zM378.1 185h0.6v0.6h-0.6zM374.3 110.1h1v1h-1zM378.1 127.6h1.1v1.1h-1.1zM378.2 167.8h0.7v0.7h-0.7zM377.8 125.7h0.6v0.6h-0.6zM374.4 36h1.2v1.2h-1.2zM374.6 178.3h0.6v0.6h-0.6zM374.8 194.7h1v1h-1zM378.1 44.3h0.7v0.7h-0.7zM377.9 115.8h0.8v0.8h-0.8zM374.7 97h0.8v0.8h-0.8zM378.2 133.9h0.9v0.9h-0.9zM378.2 49.2h0.6v0.6h-0.6zM377.8 125.8h0.6v0.6h-0.6zM378.3 162.4h0.8v0.8h-0.8zM374.5 139.7h0.8v0.8h-0.8zM377.9 210.9h1.1v1.1h-1.1zM375 74h0.7v0.7h-0.7zM378.5 168.5h1.3v1.3h-1.3zM378.5 79h0.8v0.8h-0.8zM374.9 90h1.3v1.3h-1.3zM375.1 156.2h1.2v1.2h-1.2zM377.7 89.8h0.7v0.7h-0.7zM374.9 190.1h0.7v0.7h-0.7zM375 90.2h0.9v0.9h-0.9zM374.8 191.7h0.9v0.9h-0.9zM374.7 58.5h1.2v1.2h-1.2zM378.4 123.4h1.2v1.2h-1.2zM396.2 168.1h1.2v1.2h-1.2zM396.1 151.1h0.8v0.8h-0.8zM392.6 175.2h1v1h-1zM396.2 128h0.6v0.6h-0.6zM395.6 171h1.3v1.3h-1.3zM391.9 151h1.2v1.2h-1.2zM396.1 168.2h1.1v1.1h-1.1zM395.7 107.5h0.9v0.9h-0.9zM396 174.8h0.8v0.8h-0.8zM396 174.1h0.8v0.8h-0.8zM392.6 170.9h1.3v1.3h-1.3zM392.5 82h0.6v0.6h-0.6zM392 118.5h0.9v0.9h-0.9zM395.6 88.3h0.7v0.7h-0.7zM392.7 81.4h1.2v1.2h-1.2zM396.2 205.8h0.7v0.7h-0.7zM395.7 95.5h1.2v1.2h-1.2zM395.4 166.6h1.1v1.1h-1.1zM392.2 99.9h0.8v0.8h-0.8zM396.2 163h1.1v1.1h-1.1zM392 58.9h0.8v0.8h-0.8zM392.7 144.4h1.3v1.3h-1.3zM396 158.2h1.3v1.3h-1.3zM395.9 129.6h0.6v0.6h-0.6zM392.6 115.2h0.7v0.7h-0.7zM392 178h0.8v0.8h-0.8zM392.3 58h1.3v1.3h-1.3zM392.5 132.2h1.1v1.1h-1.1zM395.9 136.5h0.9v0.9h-0.9zM391.9 117.4h0.8v0.8h-0.8zM391.9 119.5h1.1v1.1h-1.1zM396.2 60.4h1.3v1.3h-1.3zM392.1 40.6h1.1v1.1h-1.1zM413.9 80.9h0.9v0.9h-0.9zM410.5 57.1h1.1v1.1h-1.1zM413.7 54.9h0.9v0.9h-0.9zM413.6 88.4h1.2v1.2h-1.2zM410.3 179h0.6v0.6h-0.6zM409.7 78.5h0.7v0.7h-0.7zM413.4 59h1v1h-1zM413.9 93.9h1.1v1.1h-1.1zM413.8 152.9h1v1h-1zM410 139.4h0.7v0.7h-0.7zM410.2 184.8h1.3v1.3h-1.3zM409.8 161.9h1v1h-1zM409.6 118.2h1.2v1.2h-1.2zM413.2 140.9h1.1v1.1h-1.1zM410.2 106.6h0.9v0.9h-0.9zM413.9 98.7h1v1h-1zM410.2 91.3h1.3v1.3h-1.3zM413.4 199.4h0.9v0.9h-0.9zM410.3 90.2h1.2v1.2h-1.2zM413.8 153.7h0.9v0.9h-0.9zM413.6 83.9h1.3v1.3h-1.3zM410.3 110.1h0.8v0.8h-0.8zM409.9 188h0.8v0.8h-0.8zM413.6 123.9h1.1v1.1h-1.1zM410.4 51.4h1.2v1.2h-1.2zM410 104.4h0.9v0.9h-0.9zM413.9 149.4h1.1v1.1h-1.1zM409.9 36.4h1.1v1.1h-1.1zM410.4 113.4h1.3v1.3h-1.3zM413.1 198.1h1v1h-1zM427.9 190h1.1v1.1h-1.1zM428 67.2h0.9v0.9h-0.9zM427.4 100h0.7v0.7h-0.7zM428 130.2h0.9v0.9h-0.9zM427.8 53.3h1v1h-1zM431.2 175.7h1v1h-1zM430.9 58.5h1.1v1.1h-1.1zM430.8 40.3h0.8v0.8h-0.8zM431.6 156.4h0.9v0.9h-0.9zM427.4 149.2h1v1h-1zM431.5 58.3h0.7v0.7h-0.7zM427.8 137.3h0.8v0.8h-0.8zM431.6 202.8h0.9v0.9h-0.9zM431.4 73.7h1.2v1.2h-1.2zM427.5 79.8h1.2v1.2h-1.2zM431.6 71.6h0.7v0.7h-0.7zM431.1 93.2h1.1v1.1h-1.1zM428.1 99.8h0.8v0.8h-0.8zM427.4 121.4h1.2v1.2h-1.2zM427.3 93.4h0.6v0.6h-0.6zM431.6 168.7h0.8v0.8h-0.8zM427.4 212.8h1v1h-1zM427.7 178.8h0.9v0.9h-0.9zM431.3 146.2h0.8v0.8h-0.8zM427.9 137.6h1.2v1.2h-1.2zM427.5 93.8h0.7v0.7h-0.7zM431.2 203.9h1.2v1.2h-1.2zM430.8 83.5h1v1h-1zM427.5 47.7h1.1v1.1h-1.1zM427.6 197.3h1.1v1.1h-1.1zM430.8 80h0.7v0.7h-0.7zM428.1 148.5h0.9v0.9h-0.9zM431.1 91h1v1h-1zM431.1 147.4h0.8v0.8h-0.8zM428 131.7h0.8v0.8h-0.8zM427.7 102.4h1v1h-1zM218.2 55.4h0.9v0.9h-0.9zM217.6 55.4h0.9v0.9h-0.9zM218.2 53.9h0.7v0.7h-0.7zM216.4 72.3h1v1h-1zM216.3 69.9h0.8v0.8h-0.8zM216.4 69.7h1v1h-1zM216.1 87.4h0.8v0.8h-0.8zM218.5 89.9h1v1h-1zM216.7 87.6h0.8v0.8h-0.8zM217.4 106.5h0.9v0.9h-0.9zM218.3 107.8h0.8v0.8h-0.8zM218.3 106.1h1.2v1.2h-1.2zM218.5 123.9h0.8v0.8h-0.8zM218 123.6h0.7v0.7h-0.7zM215.6 124.3h0.7v0.7h-0.7zM215.4 141.8h1.1v1.1h-1.1zM218.8 141.8h0.8v0.8h-0.8zM219 139.7h0.8v0.8h-0.8zM216.1 160.7h1v1h-1zM215.3 160.4h0.7v0.7h-0.7zM218.8 158.9h0.9v0.9h-0.9zM217.5 178.5h1.1v1.1h-1.1zM217.6 176.1h0.8v0.8h-0.8zM217.1 177h1v1h-1zM219.2 196.6h0.9v0.9h-0.9zM218.9 195.8h1v1h-1zM216.4 196.9h0.8v0.8h-0.8zM235.5 51.3h0.9v0.9h-0.9zM234.9 53.6h0.9v0.9h-0.9zM232.6 52.1h1.2v1.2h-1.2zM235.2 69.9h1.1v1.1h-1.1zM233.7 71.5h0.8v0.8h-0.8zM236.5 69.3h1v1h-1zM233 90.2h1.2v1.2h-1.2zM234.8 87.8h1v1h-1zM232.7 86.6h1.2v1.2h-1.2zM235.2 107.9h1.1v1.1h-1.1zM235.2 107.5h1.1v1.1h-1.1zM235.3 106.6h1v1h-1zM235.4 126.7h1.1v1.1h-1.1zM232.9 124.1h0.8v0.8h-0.8zM234.2 124.4h0.7v0.7h-0.7zM236.7 144.2h0.8v0.8h-0.8zM234.3 142.2h0.7v0.7h-0.7zM233.8 140.7h1.2v1.2h-1.2zM234.9 160.6h0.7v0.7h-0.7zM234.5 158.3h0.8v0.8h-0.8zM235 160h1v1h-1zM235.6 175.4h1v1h-1zM235.5 176.3h0.9v0.9h-0.9zM234.4 176h0.8v0.8h-0.8zM234.6 195.9h0.9v0.9h-0.9zM234.5 194.8h1.1v1.1h-1.1zM233.2 195.8h0.9v0.9h-0.9zM253.9 54.8h1.1v1.1h-1.1zM250.9 54.4h0.9v0.9h-0.9zM249.9 54.4h0.9v0.9h-0.9zM251.6 71.9h0.9v0.9h-0.9zM253.7 70.2h1v1h-1zM251.3 70.2h0.9v0.9h-0.9zM253.4 86.4h0.8v0.8h-0.8zM254.4 86.3h1.1v1.1h-1.1zM253.8 89.4h1.1v1.1h-1.1zM252 104.9h0.7v0.7h-0.7zM251.6 108.5h1.2v1.2h-1.2zM254.1 107.5h0.7v0.7h-0.7zM250.9 124.1h1v1h-1zM254.3 122.9h0.9v0.9h-0.9zM252.3 123h1v1h-1zM251.4 139.9h0.8v0.8h-0.8zM252.5 143.4h1v1h-1zM251.8 139.6h0.8v0.8h-0.8zM253.6 160.7h1v1h-1zM254.9 157.7h0.8v0.8h-0.8zM252 159.2h1v1h-1zM251.3 178.3h1.1v1.1h-1.1zM250.9 178.2h1.2v1.2h-1.2zM251.9 177.1h0.7v0.7h-0.7zM254 196.3h0.8v0.8h-0.8zM252 195h1v1h-1zM252.4 193h1.1v1.1h-1.1zM269.4 54.5h0.8v0.8h-0.8zM270.6 50.9h0.9v0.9h-0.9zM271.8 53.3h1v1h-1zM272.1 73h0.7v0.7h-0.7zM268.5 71.5h0.9v0.9h-0.9zM269.8 71.5h0.8v0.8h-0.8zM269.7 88.1h0.9v0.9h-0.9zM270.4 90.8h1.2v1.2h-1.2zM271.3 89.9h0.9v0.9h-0.9zM271.2 107.5h1v1h-1zM271.9 108.3h1.2v1.2h-1.2zM270.8 106.8h0.8v0.8h-0.8zM272 125.4h1.1v1.1h-1.1zM269.6 123.9h1.1v1.1h-1.1zM270 123.5h1.1v1.1h-1.1zM271.6 141.3h0.9v0.9h-0.9zM271.3 144.1h1.2v1.2h-1.2zM270.9 142.4h0.7v0.7h-0.7zM269.6 159.4h0.8v0.8h-0.8zM272.1 160h1v1h-1zM271.2 160.9h1.2v1.2h-1.2zM269.9 175.6h0.8v0.8h-0.8zM271.7 175.9h1v1h-1zM268.2 177.3h1v1h-1zM267.9 195.3h1v1h-1zM272.3 194.9h0.7v0.7h-0.7zM268.4 197h1.2v1.2h-1.2zM288.5 53.4h1.2v1.2h-1.2zM286.7 54.4h1v1h-1zM287.9 54.8h0.9v0.9h-0.9zM285.5 71.2h0.8v0.8h-0.8zM288.9 70.5h1.2v1.2h-1.2zM287.1 70.2h0.7v0.7h-0.7zM288.9 88h1v1h-1zM287.2 90.1h1.1v1.1h-1.1zM289.6 89.1h0.9v0.9h-0.9zM289 104.8h0.8v0.8h-0.8zM287 107.2h0.7v0.7h-0.7zM289.6 108.5h0.8v0.8h-0.8zM288 125.4h0.8v0.8h-0.8zM288.6 125.4h1v1h-1zM287.9 124.4h0.7v0.7h-0.7zM285.8 143.9h1.1v1.1h-1.1zM287.3 143.5h0.8v0.8h-0.8zM286.6 141.7h1v1h-1zM286.7 157.4h0.7v0.7h-0.7zM285.7 158.5h0.8v0.8h-0.8zM286.7 160.7h1.1v1.1h-1.1zM289.4 178h1.2v1.2h-1.2zM289.5 177h1v1h-1zM289.5 176.1h0.9v0.9h-0.9zM287.2 195.2h0.8v0.8h-0.8zM287.7 195.5h1.1v1.1h-1.1zM288.7 193h1v1h-1zM305.4 54.7h0.9v0.9h-0.9zM303.3 51.4h0.8v0.8h-0.8zM307.4 52h0.8v0.8h-0.8zM306.4 71.9h0.9v0.9h-0.9zM303.7 69h1.2v1.2h-1.2zM306.4 69.5h0.9v0.9h-0.9zM305.8 87.3h1v1h-1zM303.4 87.3h1v1h-1zM306 89.9h1v1h-1zM307 105h1v1h-1zM305.5 105.8h0.9v0.9h-0.9zM307.4 104h1v1h-1zM306 126.5h1.1v1.1h-1.1zM307.4 126.3h1.1v1.1h-1.1zM307.4 122.3h0.8v0.8h-0.8zM305.9 142.5h0.8v0.8h-0.8zM306.5 143.1h0.7v0.7h-0.7zM303.8 141h0.8v0.8h-0.8zM304.4 160.4h1v1h-1zM305.5 157.6h0.9v0.9h-0.9zM305.2 159.9h1.1v1.1h-1.1zM304.7 175.5h0.9v0.9h-0.9zM304.3 179h0.8v0.8h-0.8zM307 177.5h0.7v0.7h-0.7zM307.1 195.3h1v1h-1zM307.8 196.7h1.1v1.1h-1.1zM305.8 195.9h1.1v1.1h-1.1zM322 54.8h1.2v1.2h-1.2zM322.8 52.4h0.7v0.7h-0.7zM323.6 53.8h0.8v0.8h-0.8zM323.1 69.8h0.9v0.9h-0.9zM323.4 70.8h1v1h-1zM322.4 70.9h1v1h-1zM324.2 88.3h0.8v0.8h-0.8zM322.6 88.8h0.9v0.9h-0.9zM325.1 89.4h0.7v0.7h-0.7zM323.3 107.5h0.9v0.9h-0.9zM324.5 108.4h0.8v0.8h-0.8zM324.9 107.7h1v1h-1zM324.7 124.8h1.2v1.2h-1.2zM324 122h0.8v0.8h-0.8zM323.8 126.1h1.1v1.1h-1.1zM324.1 141.6h0.8v0.8h-0.8zM321.8 143.4h0.7v0.7h-0.7zM322.8 140.7h0.9v0.9h-0.9zM321.7 159.5h1.1v1.1h-1.1zM325.9 157.7h1v1h-1zM322.3 161h1.2v1.2h-1.2zM323.3 178.3h0.8v0.8h-0.8zM323.5 177.4h0.9v0.9h-0.9zM322.4 178h1.1v1.1h-1.1zM324.5 196.9h1.1v1.1h-1.1zM324 194.1h1v1h-1zM325.4 193.6h1.1v1.1h-1.1zM340.1 54.6h0.9v0.9h-0.9zM340.8 53h1.2v1.2h-1.2zM339.3 51.5h1v1h-1zM339.7 69.5h1v1h-1zM343 68.9h0.7v0.7h-0.7zM339.5 70.7h1v1h-1zM342.1 90.7h0.9v0.9h-0.9zM343.2 90.9h0.8v0.8h-0.8zM340.8 90.2h1.2v1.2h-1.2zM339.2 107.4h0.9v0.9h-0.9zM343.7 106.4h1.1v1.1h-1.1zM342.6 107.4h0.9v0.9h-0.9zM339.2 122.9h1v1h-1zM339.2 124.9h0.8v0.8h-0.8zM341.9 125.6h0.8v0.8h-0.8zM341.4 142.7h1.1v1.1h-1.1zM342.6 143.4h0.8v0.8h-0.8zM340.2 142.1h1.1v1.1h-1.1zM339.6 159.2h0.7v0.7h-0.7zM340.9 158.3h1v1h-1zM340.8 161.7h0.8v0.8h-0.8zM342.6 176.5h0.8v0.8h-0.8zM339.4 179.1h1v1h-1zM340.5 175.8h1v1h-1zM343.5 195.4h1.1v1.1h-1.1zM343.4 194.4h0.8v0.8h-0.8zM342.8 195h1.1v1.1h-1.1zM357.2 53.8h0.9v0.9h-0.9zM358.9 51.2h1v1h-1zM360.7 51.8h0.8v0.8h-0.8zM358.3 71.5h1v1h-1zM360.5 70.8h0.8v0.8h-0.8zM359.2 72.3h1v1h-1zM359.1 87.7h0.9v0.9h-0.9zM360.2 87.4h0.8v0.8h-0.8zM358 87.5h1.1v1.1h-1.1zM358.4 107.2h1.2v1.2h-1.2zM356.9 107.3h0.8v0.8h-0.8zM357.2 107.8h0.9v0.9h-0.9zM357.3 126.2h0.9v0.9h-0.9zM358.7 125.1h0.9v0.9h-0.9zM360.6 123.3h1v1h-1zM356.3 144.4h0.7v0.7h-0.7zM360.6 140.5h0.9v0.9h-0.9zM359.7 142.1h1.2v1.2h-1.2zM358.4 159h0.7v0.7h-0.7zM360.2 160h0.9v0.9h-0.9zM359.6 161.8h1.2v1.2h-1.2zM357.7 179.1h0.8v0.8h-0.8zM356.1 177.1h0.9v0.9h-0.9zM356.3 179h1.1v1.1h-1.1zM360.2 194.1h0.9v0.9h-0.9zM356.6 195.2h0.7v0.7h-0.7zM357.1 194.5h1v1h-1zM376.7 55.1h1.1v1.1h-1.1zM378 51.6h0.9v0.9h-0.9zM374.2 51.1h0.9v0.9h-0.9zM375.6 70.7h1.2v1.2h-1.2zM378 69.2h0.7v0.7h-0.7zM375.7 72.6h1.2v1.2h-1.2zM377.5 89.2h0.9v0.9h-0.9zM377.3 90.5h0.7v0.7h-0.7zM374.3 86.9h1.2v1.2h-1.2zM377.1 106h0.8v0.8h-0.8zM377.3 104.4h0.9v0.9h-0.9zM378.5 104.4h0.9v0.9h-0.9zM375.6 126h1v1h-1zM377.6 124h0.7v0.7h-0.7zM376.1 125.2h0.9v0.9h-0.9zM376.9 143h1v1h-1zM375.1 142.8h1v1h-1zM375 143.1h0.8v0.8h-0.8zM374.8 161.4h0.8v0.8h-0.8zM376.8 161.8h1v1h-1zM375.1 161.7h1.1v1.1h-1.1zM377.9 176.9h0.9v0.9h-0.9zM375.7 175.2h0.9v0.9h-0.9zM374.4 178.4h1.2v1.2h-1.2zM376.6 194.4h1v1h-1zM374.9 194.4h1.2v1.2h-1.2zM377.3 195h1.1v1.1h-1.1zM393.4 51.2h1.2v1.2h-1.2zM394.1 52.8h0.8v0.8h-0.8zM391.8 54.7h1.2v1.2h-1.2zM394.4 70.6h0.8v0.8h-0.8zM394.9 71.5h0.8v0.8h-0.8zM395.5 72.3h1.1v1.1h-1.1zM391.5 88h0.8v0.8h-0.8zM391.9 88.6h1v1h-1zM395.2 88.8h0.7v0.7h-0.7zM396.1 107.2h0.8v0.8h-0.8zM394.7 107.6h1v1h-1zM393.2 103.8h0.9v0.9h-0.9zM394 123h0.7v0.7h-0.7zM392.1 123.4h0.8v0.8h-0.8zM394.5 123.3h0.8v0.8h-0.8zM395.8 143.3h0.7v0.7h-0.7zM392.4 140.6h0.9v0.9h-0.9zM394.6 141.7h0.8v0.8h-0.8zM395.3 159.7h0.8v0.8h-0.8zM393.5 158.7h0.9v0.9h-0.9zM393.9 157.4h0.8v0.8h-0.8zM395.2 179.4h1.1v1.1h-1.1zM392.9 176.2h1v1h-1zM394.2 176.4h1v1h-1zM393.2 197.2h1.1v1.1h-1.1zM394.7 195.9h0.8v0.8h-0.8zM393 195.9h1.1v1.1h-1.1zM411 53.9h0.9v0.9h-0.9zM413.7 52h1v1h-1zM411.2 52.9h1.2v1.2h-1.2zM413.3 70.2h0.9v0.9h-0.9zM412.3 70.4h0.8v0.8h-0.8zM413.7 70.8h0.8v0.8h-0.8zM410.5 89h1.1v1.1h-1.1zM411.7 89.7h0.8v0.8h-0.8zM410.3 89.1h1.2v1.2h-1.2zM412.7 108.1h0.9v0.9h-0.9zM411.7 106.5h0.9v0.9h-0.9zM410.1 107.7h1.1v1.1h-1.1zM413.8 122.2h0.8v0.8h-0.8zM413.5 124h1.1v1.1h-1.1zM411.9 123.2h1.1v1.1h-1.1zM411.3 142.1h0.8v0.8h-0.8zM412 142.8h1v1h-1zM411.2 142.5h1v1h-1zM413.9 159.3h0.9v0.9h-0.9zM411.5 160.5h0.7v0.7h-0.7zM413.7 160.8h1.1v1.1h-1.1zM410.2 179.3h1v1h-1zM413.2 177.8h1.2v1.2h-1.2zM411.7 178.6h0.8v0.8h-0.8zM413.6 194.7h1v1h-1zM410.5 194.2h0.9v0.9h-0.9zM412.5 194h0.8v0.8h-0.8zM429.7 53.9h1.1v1.1h-1.1zM430.5 52.8h1.2v1.2h-1.2zM430.1 52.6h1v1h-1zM428.4 68.8h0.7v0.7h-0.7zM429.4 70h1.2v1.2h-1.2zM431.2 70.4h1.2v1.2h-1.2zM428.4 88.2h0.8v0.8h-0.8zM430.7 88.6h0.8v0.8h-0.8zM430.4 89.9h0.8v0.8h-0.8zM430.1 106.6h0.9v0.9h-0.9zM430.2 105.3h1.2v1.2h-1.2zM429.9 107h0.9v0.9h-0.9zM430.6 123.3h1.2v1.2h-1.2zM430.9 125.8h0.8v0.8h-0.8zM430.6 122h1.1v1.1h-1.1zM427.9 142.5h0.9v0.9h-0.9zM428.8 142.3h0.9v0.9h-0.9zM427.5 143.5h1.1v1.1h-1.1zM430.9 158.9h0.9v0.9h-0.9zM427 161.1h0.8v0.8h-0.8zM430.6 159.4h0.7v0.7h-0.7zM427.6 178.9h0.9v0.9h-0.9zM430.6 177.6h1.2v1.2h-1.2zM429.2 178.3h1v1h-1zM429.2 197.4h1.1v1.1h-1.1zM428.3 195.4h0.8v0.8h-0.8zM428.2 197.9h1.1v1.1h-1.1z"/><path fill="#1a3020" d="M302.1 50.8h0.9v0.9h-0.9zM308.7 50.8h1.1v1.1h-1.1zM416.2 50.9h0.7v0.7h-0.7zM409.2 55.1h0.7v0.7h-0.7zM370.7 55h1v1h-1zM321.7 51.6h1.1v1.1h-1.1zM220.8 55.3h1.1v1.1h-1.1zM390.7 54.8h0.9v0.9h-0.9zM391.5 54.5h1.2v1.2h-1.2zM389.7 51.2h0.8v0.8h-0.8zM255.1 51.4h1v1h-1zM227.5 50.8h0.6v0.6h-0.6zM238.4 51.1h1.2v1.2h-1.2zM271.4 51.3h0.8v0.8h-0.8zM289.4 51.3h0.8v0.8h-0.8zM270.2 54.4h1v1h-1zM374.4 51.6h0.7v0.7h-0.7zM254.8 54.8h1.3v1.3h-1.3zM315.1 55.2h0.6v0.6h-0.6zM294.5 51.2h1v1h-1zM315.1 51h0.7v0.7h-0.7zM425.8 51.5h0.9v0.9h-0.9zM274 55.3h1v1h-1zM438.5 51.2h1.3v1.3h-1.3zM413.8 50.7h1.1v1.1h-1.1zM252.8 50.9h0.6v0.6h-0.6zM220.1 54.5h0.9v0.9h-0.9zM411.8 54.9h0.8v0.8h-0.8zM415.3 50.7h1.1v1.1h-1.1zM335.8 51.3h0.8v0.8h-0.8zM222.4 51.4h0.6v0.6h-0.6zM310.7 55.1h1.2v1.2h-1.2zM418.5 55.3h1.1v1.1h-1.1zM346.8 50.8h1.1v1.1h-1.1zM430.8 54.7h1.1v1.1h-1.1zM374.8 51h1v1h-1zM322.9 55.1h1.2v1.2h-1.2zM416.7 51.3h0.9v0.9h-0.9zM309.8 51.1h0.7v0.7h-0.7zM337.9 68.8h1.1v1.1h-1.1zM378.2 69.3h1.3v1.3h-1.3zM260.4 69.3h0.9v0.9h-0.9zM405.6 68.8h0.7v0.7h-0.7zM343.9 69.3h1.1v1.1h-1.1zM306.6 68.9h0.9v0.9h-0.9zM229.3 72.5h0.6v0.6h-0.6zM309.8 69.3h1.3v1.3h-1.3zM259.8 72.8h1.2v1.2h-1.2zM380.2 72.3h0.8v0.8h-0.8zM345 72.8h1.3v1.3h-1.3zM392.3 68.6h1.2v1.2h-1.2zM228.3 72.3h1.3v1.3h-1.3zM283.2 69.1h1.3v1.3h-1.3zM410 68.8h0.9v0.9h-0.9zM390.3 72.3h0.9v0.9h-0.9zM429 68.8h1.1v1.1h-1.1zM223.1 68.7h1v1h-1zM321.7 72.4h1v1h-1zM260.5 72.4h1.1v1.1h-1.1zM362.7 68.9h1.1v1.1h-1.1zM342.5 72.7h0.7v0.7h-0.7zM285.6 69.4h1v1h-1zM272.6 72.7h0.9v0.9h-0.9zM269.1 72.2h0.9v0.9h-0.9zM406.3 73h1v1h-1zM267 72.9h1.2v1.2h-1.2zM381.4 72.8h1.1v1.1h-1.1zM383.2 68.6h1.3v1.3h-1.3zM273.4 72.5h1v1h-1zM349.3 72.9h0.8v0.8h-0.8zM407.6 69.4h0.6v0.6h-0.6zM378.8 72.5h0.9v0.9h-0.9zM389.7 69.4h1.2v1.2h-1.2zM279.5 72.3h0.8v0.8h-0.8zM427.9 69.3h1v1h-1zM259.6 69.2h0.8v0.8h-0.8zM242.7 72.7h0.8v0.8h-0.8zM222.9 68.6h1.1v1.1h-1.1zM401.3 72.8h1.1v1.1h-1.1zM394.6 72.5h1.1v1.1h-1.1zM291.1 90.6h0.7v0.7h-0.7zM236 86.9h0.8v0.8h-0.8zM280.1 90.5h1v1h-1zM212.7 90h0.7v0.7h-0.7zM421.9 90.3h0.7v0.7h-0.7zM340.5 86.8h1.2v1.2h-1.2zM334.8 86.5h0.7v0.7h-0.7zM284.2 90.2h0.7v0.7h-0.7zM332.1 90.5h0.6v0.6h-0.6zM311.7 90.2h0.8v0.8h-0.8zM396 87.1h0.7v0.7h-0.7zM230.7 90.1h1.1v1.1h-1.1zM304.3 86.6h0.6v0.6h-0.6zM253.4 87.2h1v1h-1zM259.3 90.4h1.1v1.1h-1.1zM321.4 86.7h1v1h-1zM367.8 90.2h0.8v0.8h-0.8zM303.3 86.3h0.7v0.7h-0.7zM235.9 90.2h1.2v1.2h-1.2zM276.7 87.2h1v1h-1zM210.1 86.4h1.2v1.2h-1.2zM321 86.6h1.1v1.1h-1.1zM233.4 90.6h0.6v0.6h-0.6zM308.4 87.2h0.8v0.8h-0.8zM280.7 90.3h0.8v0.8h-0.8zM352 90.6h0.8v0.8h-0.8zM373.9 90.1h0.7v0.7h-0.7zM331.7 86.9h1v1h-1zM313.1 90.2h0.8v0.8h-0.8zM356.9 90.7h0.8v0.8h-0.8zM255.1 90.7h0.9v0.9h-0.9zM367.4 90.2h0.9v0.9h-0.9zM346.3 90.5h0.6v0.6h-0.6zM261.6 90.1h1v1h-1zM350.2 86.6h0.7v0.7h-0.7zM320.3 86.7h0.8v0.8h-0.8zM247.7 86.7h0.9v0.9h-0.9zM418.1 86.6h0.9v0.9h-0.9zM352.4 90.5h0.9v0.9h-0.9zM399.5 90.3h1.1v1.1h-1.1zM416.7 90h0.8v0.8h-0.8zM420.7 90.8h1.2v1.2h-1.2zM401.7 90.4h0.6v0.6h-0.6zM399.3 90.1h1.2v1.2h-1.2zM212.4 86.4h1.3v1.3h-1.3zM278.8 90.2h0.6v0.6h-0.6zM230.8 90.4h0.8v0.8h-0.8zM430.5 90.6h0.7v0.7h-0.7zM341 86.7h1.1v1.1h-1.1zM425.9 90.7h1.2v1.2h-1.2zM326.7 86.7h0.9v0.9h-0.9zM431.2 86.5h0.8v0.8h-0.8zM375 104.4h0.7v0.7h-0.7zM372.7 108.4h1.2v1.2h-1.2zM403.2 104.9h0.9v0.9h-0.9zM216.5 107.9h0.9v0.9h-0.9zM395 108.1h1.2v1.2h-1.2zM335.8 104.6h0.6v0.6h-0.6zM257.9 104.6h1v1h-1zM272.2 108.5h0.9v0.9h-0.9zM401.7 108.7h0.8v0.8h-0.8zM219.3 104.2h1.2v1.2h-1.2zM384.6 107.9h0.6v0.6h-0.6zM273.9 107.8h0.8v0.8h-0.8zM324.3 108.6h0.9v0.9h-0.9zM367.9 104.4h1.2v1.2h-1.2zM225.8 104.9h1.1v1.1h-1.1zM382.8 104.1h1.1v1.1h-1.1zM415.6 108.2h0.8v0.8h-0.8zM413.3 108.6h0.9v0.9h-0.9zM395.4 108.3h0.9v0.9h-0.9zM214 108.4h0.8v0.8h-0.8zM407.2 108h0.8v0.8h-0.8zM325.1 104.3h1v1h-1zM438.4 104.9h1.2v1.2h-1.2zM228.4 107.8h0.6v0.6h-0.6zM352.5 104.8h1.2v1.2h-1.2zM320.5 104.8h0.9v0.9h-0.9zM352.6 104.5h0.8v0.8h-0.8zM210.7 104.3h1.2v1.2h-1.2zM241.5 104.2h1.2v1.2h-1.2zM245.3 108.2h1.1v1.1h-1.1zM400.2 107.9h0.9v0.9h-0.9zM320.7 104.8h0.9v0.9h-0.9zM435.1 104.3h1.2v1.2h-1.2zM364.5 107.8h1v1h-1zM369.6 108.5h0.8v0.8h-0.8zM430.1 108.3h0.9v0.9h-0.9zM388.6 108h1.1v1.1h-1.1zM344.9 104.8h1.1v1.1h-1.1zM432.8 104.6h0.6v0.6h-0.6zM302 122.4h1.1v1.1h-1.1zM342.8 122h0.9v0.9h-0.9zM334.2 122.1h1.1v1.1h-1.1zM269.8 122h1v1h-1zM279.3 122.4h0.9v0.9h-0.9zM266.3 122.8h1.2v1.2h-1.2zM262 126.1h1.2v1.2h-1.2zM346.2 122.8h1v1h-1zM339.8 122.7h1.2v1.2h-1.2zM255.6 126h1v1h-1zM246.8 122.5h1v1h-1zM216.1 122.2h1.2v1.2h-1.2zM224.4 122h0.8v0.8h-0.8zM356.7 126h1.3v1.3h-1.3zM325.4 122.2h0.8v0.8h-0.8zM273.2 126.2h1.1v1.1h-1.1zM379.1 122.1h1v1h-1zM293.4 122h1v1h-1zM291.1 125.8h1.2v1.2h-1.2zM270.3 126.3h0.6v0.6h-0.6zM424.3 122.4h1.1v1.1h-1.1zM299.9 122.2h1.1v1.1h-1.1zM212.4 125.8h0.7v0.7h-0.7zM278.9 122.2h0.9v0.9h-0.9zM251.1 126.2h0.9v0.9h-0.9zM297.1 122.4h1v1h-1zM368.3 122.6h0.9v0.9h-0.9zM224.5 121.9h0.6v0.6h-0.6zM262.2 126.2h0.8v0.8h-0.8zM379.5 125.8h1v1h-1zM334.7 126.4h1.3v1.3h-1.3zM294.6 126.4h0.7v0.7h-0.7zM422.6 122.3h0.7v0.7h-0.7zM217.7 122.6h0.8v0.8h-0.8zM351.3 126.1h1v1h-1zM370.2 126.5h0.6v0.6h-0.6zM393.7 126.4h1.2v1.2h-1.2zM315.2 122.3h1.2v1.2h-1.2zM313.4 126.1h0.6v0.6h-0.6zM430.5 125.8h1.2v1.2h-1.2zM336.6 126.3h1.2v1.2h-1.2zM438.7 125.8h1.2v1.2h-1.2zM417 122.6h1.1v1.1h-1.1zM396.4 122.5h1.1v1.1h-1.1zM430.1 125.9h0.6v0.6h-0.6zM421.2 125.8h0.8v0.8h-0.8zM219.7 125.8h1.1v1.1h-1.1zM325.3 122.2h1.2v1.2h-1.2zM237.3 126.5h0.8v0.8h-0.8zM432.6 122.7h0.6v0.6h-0.6zM279.3 122.6h0.7v0.7h-0.7zM283.1 140h0.9v0.9h-0.9zM255.2 140.5h1.3v1.3h-1.3zM278.6 139.9h1.2v1.2h-1.2zM273.3 143.7h1v1h-1zM390.9 139.7h1.1v1.1h-1.1zM230.7 139.7h0.7v0.7h-0.7zM289.2 139.9h1.2v1.2h-1.2zM220.8 144.1h0.6v0.6h-0.6zM212.6 139.8h1.2v1.2h-1.2zM361.8 140.5h0.8v0.8h-0.8zM222.8 140.1h0.9v0.9h-0.9zM219.4 140.1h1v1h-1zM396.5 143.5h0.8v0.8h-0.8zM421.3 140.5h1.1v1.1h-1.1zM439.5 139.8h0.7v0.7h-0.7zM220.1 144.1h1.3v1.3h-1.3zM355 140h1v1h-1zM354.7 140.3h1.2v1.2h-1.2zM384.4 143.8h1.1v1.1h-1.1zM270.7 143.8h1.3v1.3h-1.3zM395.3 140.1h0.7v0.7h-0.7zM353 140.4h1v1h-1zM351.9 139.9h0.7v0.7h-0.7zM286.2 144.2h0.8v0.8h-0.8zM264.7 140.3h0.8v0.8h-0.8zM266.4 143.6h1v1h-1zM269.3 143.4h1.1v1.1h-1.1zM361.9 140.3h0.8v0.8h-0.8zM310.5 140.5h0.7v0.7h-0.7zM330.9 143.5h1.1v1.1h-1.1zM370.5 143.9h0.9v0.9h-0.9zM317.5 143.8h1.1v1.1h-1.1zM277 140.3h0.9v0.9h-0.9zM268.7 140.5h1.2v1.2h-1.2zM327.9 143.5h0.6v0.6h-0.6zM378.2 140.6h1v1h-1zM241 143.7h0.7v0.7h-0.7zM341.8 144h1.3v1.3h-1.3zM242.3 143.4h1.1v1.1h-1.1zM272.2 139.9h1.3v1.3h-1.3zM362.9 143.7h0.9v0.9h-0.9zM379.5 144.1h0.9v0.9h-0.9zM295.5 140.2h1v1h-1zM389.2 144.1h1.2v1.2h-1.2zM222.8 144.1h1.3v1.3h-1.3zM366.7 161.6h1.2v1.2h-1.2zM428.7 157.7h1.3v1.3h-1.3zM333.7 158.2h1.3v1.3h-1.3zM292.1 161.4h1.3v1.3h-1.3zM373.5 157.9h0.7v0.7h-0.7zM262.1 161.3h1.2v1.2h-1.2zM250.6 158.1h1v1h-1zM358.5 162h0.7v0.7h-0.7zM402.7 161.5h1.2v1.2h-1.2zM398 157.8h1.2v1.2h-1.2zM387.2 157.7h0.9v0.9h-0.9zM231.6 161.8h0.8v0.8h-0.8zM297.3 157.9h1.1v1.1h-1.1zM379.1 162h1v1h-1zM216.1 161.2h0.7v0.7h-0.7zM289 157.7h1.1v1.1h-1.1zM240.8 158.1h1v1h-1zM432 158.1h1v1h-1zM336.2 158.4h1.1v1.1h-1.1zM430.6 162h1.3v1.3h-1.3zM302.9 161.2h0.8v0.8h-0.8zM239.6 158.1h0.6v0.6h-0.6zM263.4 158.2h0.7v0.7h-0.7zM405.6 157.7h0.8v0.8h-0.8zM258.1 158.2h1v1h-1zM246.4 161.5h1.2v1.2h-1.2zM286.6 158.1h1v1h-1zM353.8 158.2h1v1h-1zM410.6 157.8h0.9v0.9h-0.9zM303 161.3h1.2v1.2h-1.2zM287.8 161.3h1v1h-1zM428.7 158.1h0.7v0.7h-0.7zM305 158h1v1h-1zM397.3 157.9h0.7v0.7h-0.7zM342 158.3h0.7v0.7h-0.7zM347.5 161.3h1.3v1.3h-1.3zM385.1 158.2h0.8v0.8h-0.8zM408.9 161.7h0.6v0.6h-0.6zM419 158.3h0.6v0.6h-0.6zM343 157.7h0.6v0.6h-0.6zM277.2 157.5h1.1v1.1h-1.1zM387.7 157.5h0.9v0.9h-0.9zM264.9 158.4h1v1h-1zM351.4 157.8h0.9v0.9h-0.9zM227.5 158.3h0.8v0.8h-0.8zM303.5 161.9h0.8v0.8h-0.8zM424.9 161.7h1v1h-1zM435.7 158.1h1v1h-1zM411 161.2h0.6v0.6h-0.6zM295.8 157.8h1.3v1.3h-1.3zM405.8 157.6h0.7v0.7h-0.7zM419.3 179.2h0.7v0.7h-0.7zM390.4 179.6h0.6v0.6h-0.6zM299.4 179.4h0.8v0.8h-0.8zM305.3 175.8h1v1h-1zM332.2 176h0.7v0.7h-0.7zM250 179.5h1.1v1.1h-1.1zM228.4 175.9h1.1v1.1h-1.1zM266.7 179.5h0.8v0.8h-0.8zM261 175.6h0.8v0.8h-0.8zM237.9 175.7h1v1h-1zM210.5 176h1v1h-1zM374.6 179.6h0.6v0.6h-0.6zM409.9 179.7h1v1h-1zM297.4 176.1h0.9v0.9h-0.9zM233.8 175.5h0.9v0.9h-0.9zM397.3 179.1h0.9v0.9h-0.9zM252.3 179.8h1.2v1.2h-1.2zM224.6 175.8h1.3v1.3h-1.3zM351.1 179.2h0.9v0.9h-0.9zM345.4 176.1h1.2v1.2h-1.2zM226.8 175.9h1.2v1.2h-1.2zM370.4 179h0.8v0.8h-0.8zM227.8 179.3h0.7v0.7h-0.7zM273.1 175.8h0.9v0.9h-0.9zM235.9 179.7h0.9v0.9h-0.9zM319.6 175.6h1.2v1.2h-1.2zM345.3 179.3h1.1v1.1h-1.1zM418.2 179.3h0.6v0.6h-0.6zM247.9 175.4h0.9v0.9h-0.9zM314.9 176.1h1.1v1.1h-1.1zM290.5 179.4h0.9v0.9h-0.9zM219.4 179.5h0.8v0.8h-0.8zM240.9 179.5h1.1v1.1h-1.1zM260.8 179.5h1.1v1.1h-1.1zM329.6 179.8h1.2v1.2h-1.2zM389.4 179.7h1.2v1.2h-1.2zM304.1 175.8h1v1h-1zM419.8 197.7h1v1h-1zM216.7 193.2h1.3v1.3h-1.3zM332.9 196.9h0.7v0.7h-0.7zM330.3 197.3h1.2v1.2h-1.2zM293.6 197.7h1.1v1.1h-1.1zM395.6 197.1h1.3v1.3h-1.3zM391.5 197.4h0.8v0.8h-0.8zM406.6 197h1.3v1.3h-1.3zM318.7 196.8h1v1h-1zM418.6 197h1.2v1.2h-1.2zM307 197.3h0.8v0.8h-0.8zM218.8 193.4h1v1h-1zM347.2 193.3h1.1v1.1h-1.1zM253.3 193.9h0.8v0.8h-0.8zM342.5 197.7h0.7v0.7h-0.7zM403.3 197.6h1.2v1.2h-1.2zM344.5 196.9h0.9v0.9h-0.9zM281 197.6h0.7v0.7h-0.7zM235.3 197.1h0.6v0.6h-0.6zM339.9 197.2h0.9v0.9h-0.9zM289.6 193.7h0.7v0.7h-0.7zM337.6 193.2h1.1v1.1h-1.1zM414.4 193.6h0.7v0.7h-0.7zM233 193.7h0.6v0.6h-0.6zM379.8 193.6h1v1h-1zM432.3 193.6h0.9v0.9h-0.9zM338.9 193.3h1.1v1.1h-1.1zM385.9 193.4h1.2v1.2h-1.2zM422.4 197.3h1.3v1.3h-1.3zM381.9 193.9h0.7v0.7h-0.7zM250.5 197h0.8v0.8h-0.8zM257.7 197h0.6v0.6h-0.6zM302.4 193.4h0.7v0.7h-0.7zM362.1 193.6h0.6v0.6h-0.6zM360 197.1h0.9v0.9h-0.9zM438.8 193.6h0.9v0.9h-0.9zM248.7 197.7h0.9v0.9h-0.9zM281.4 193.8h1.1v1.1h-1.1zM348.9 193.9h0.8v0.8h-0.8zM284.2 193.4h1.2v1.2h-1.2zM237.9 197h1v1h-1zM269.4 193.3h1v1h-1zM212 197.3h1v1h-1zM388.3 193.4h0.9v0.9h-0.9zM231.7 193.4h0.8v0.8h-0.8zM246.2 197h1.2v1.2h-1.2zM216.2 193.7h0.8v0.8h-0.8zM350 193.2h1.2v1.2h-1.2zM327.8 193.8h0.7v0.7h-0.7zM218.4 134.8h0.8v0.8h-0.8zM215.3 182.8h0.8v0.8h-0.8zM215.8 57.4h1.1v1.1h-1.1zM218.6 84.3h0.8v0.8h-0.8zM215.5 204.9h1.1v1.1h-1.1zM215.6 136.3h1.1v1.1h-1.1zM218.9 144.9h0.8v0.8h-0.8zM219 35.3h1v1h-1zM218.6 205.2h0.8v0.8h-0.8zM218.5 110.8h1v1h-1zM219.1 78.6h0.8v0.8h-0.8zM215.7 40.2h1.1v1.1h-1.1zM215.7 185h0.7v0.7h-0.7zM218.9 126.9h1.1v1.1h-1.1zM215.2 133.6h0.6v0.6h-0.6zM218.8 163.2h1.3v1.3h-1.3zM218.6 157.5h0.7v0.7h-0.7zM215.6 73.4h1.1v1.1h-1.1zM215.5 174h1.3v1.3h-1.3zM215.4 149.8h1v1h-1zM215.7 91.1h1v1h-1zM218.5 66.2h1.2v1.2h-1.2zM218.6 108.2h1.2v1.2h-1.2zM215.7 142.6h1.3v1.3h-1.3zM215.6 177.4h0.9v0.9h-0.9zM218.4 159.7h1v1h-1zM218.8 191.7h1.3v1.3h-1.3zM215 71.8h0.8v0.8h-0.8zM215.3 213.6h0.6v0.6h-0.6zM215.6 170.7h0.6v0.6h-0.6zM219.2 56.8h1v1h-1zM214.9 166.4h1v1h-1zM215.3 171.8h0.7v0.7h-0.7zM215.4 85.1h0.8v0.8h-0.8zM218.7 138.4h0.7v0.7h-0.7zM215 149.5h0.8v0.8h-0.8zM236.5 177.2h0.8v0.8h-0.8zM236.8 145.4h0.7v0.7h-0.7zM236.2 107h0.8v0.8h-0.8zM233.1 148.9h0.6v0.6h-0.6zM236.9 169.9h1.2v1.2h-1.2zM233.4 147.3h1.1v1.1h-1.1zM232.7 65.7h1.3v1.3h-1.3zM236.3 104.5h1.3v1.3h-1.3zM233.4 102.4h1.1v1.1h-1.1zM236.5 84h0.9v0.9h-0.9zM233.1 139.8h0.9v0.9h-0.9zM236.7 165.6h1.1v1.1h-1.1zM236.3 173h0.7v0.7h-0.7zM236.2 160h0.8v0.8h-0.8zM236.5 119.3h0.7v0.7h-0.7zM236.4 83.7h0.9v0.9h-0.9zM236.5 192.6h1v1h-1zM233 62.3h1.3v1.3h-1.3zM233.3 108.9h1.1v1.1h-1.1zM233 210.4h1.1v1.1h-1.1zM236.7 123h0.7v0.7h-0.7zM233.2 122.6h1.1v1.1h-1.1zM233.5 48.4h0.9v0.9h-0.9zM233 105.2h1.3v1.3h-1.3zM236.3 67.7h1.1v1.1h-1.1zM232.7 140.4h1.2v1.2h-1.2zM236.5 106h0.8v0.8h-0.8zM236.7 103h0.7v0.7h-0.7zM233.4 85.4h0.7v0.7h-0.7zM232.8 113.4h0.9v0.9h-0.9zM236.7 104.7h1.2v1.2h-1.2zM236.5 35.8h1.2v1.2h-1.2zM236.3 171.9h0.9v0.9h-0.9zM236.9 190.8h0.6v0.6h-0.6zM236.9 89.4h1.2v1.2h-1.2zM236.4 132.5h1.2v1.2h-1.2zM233.1 64.2h1.1v1.1h-1.1zM236.4 105.6h1.1v1.1h-1.1zM236.7 62.3h0.7v0.7h-0.7zM232.8 83.3h1v1h-1zM251.2 163.8h0.9v0.9h-0.9zM254.1 80.7h0.9v0.9h-0.9zM250.6 197.4h1.1v1.1h-1.1zM254.1 49.8h0.9v0.9h-0.9zM253.8 76.4h1v1h-1zM251 87.6h1v1h-1zM250.8 106.6h1.2v1.2h-1.2zM254.1 95.2h1.2v1.2h-1.2zM250.7 128.4h1.2v1.2h-1.2zM254.6 120.8h1.1v1.1h-1.1zM251.2 109.3h1.1v1.1h-1.1zM250.8 68.2h1.2v1.2h-1.2zM254.3 74.1h1.3v1.3h-1.3zM250.8 177.1h1.2v1.2h-1.2zM254.2 112.8h1.2v1.2h-1.2zM254.3 89.2h0.8v0.8h-0.8zM254.7 167.2h1.2v1.2h-1.2zM251.2 195.5h0.9v0.9h-0.9zM251.1 90.8h1.1v1.1h-1.1zM254.4 182.4h0.9v0.9h-0.9zM253.8 93.4h1v1h-1zM251 149.1h0.7v0.7h-0.7zM250.5 140.5h1.1v1.1h-1.1zM254.4 197.6h0.8v0.8h-0.8zM253.9 56.7h1.2v1.2h-1.2zM251.1 169.1h0.7v0.7h-0.7zM250.6 165.3h1.3v1.3h-1.3zM250.8 115.5h0.8v0.8h-0.8zM253.9 206.4h0.8v0.8h-0.8zM250.8 144.4h1.2v1.2h-1.2zM254.2 129.8h0.6v0.6h-0.6zM254.5 43.2h0.7v0.7h-0.7zM251.2 72.7h0.6v0.6h-0.6zM250.4 54.5h0.7v0.7h-0.7zM251.2 133.6h0.7v0.7h-0.7zM250.3 154.7h1.3v1.3h-1.3zM250.6 95.7h1.3v1.3h-1.3zM251.2 129.7h1v1h-1zM268.7 116.3h0.7v0.7h-0.7zM272.2 140.1h0.9v0.9h-0.9zM272.1 60.3h1.2v1.2h-1.2zM268.9 89.5h0.7v0.7h-0.7zM271.5 155.5h0.7v0.7h-0.7zM268.6 55h1.3v1.3h-1.3zM268.6 192.3h0.9v0.9h-0.9zM268.8 47.5h1.2v1.2h-1.2zM268.5 144.5h1.3v1.3h-1.3zM268.5 38h1.2v1.2h-1.2zM268.3 77.1h1v1h-1zM268.5 64.8h0.9v0.9h-0.9zM272.3 118.5h0.9v0.9h-0.9zM272.2 114.6h1.3v1.3h-1.3zM268.1 145.9h0.8v0.8h-0.8zM268.7 85.3h1.1v1.1h-1.1zM272.4 154.4h1.2v1.2h-1.2zM268.6 91h0.9v0.9h-0.9zM272.3 177.7h0.9v0.9h-0.9zM272 153.6h1.1v1.1h-1.1zM271.5 72.6h1.3v1.3h-1.3zM268.3 205.8h0.9v0.9h-0.9zM272 118h1v1h-1zM271.9 92.7h1.2v1.2h-1.2zM272.3 175.4h0.6v0.6h-0.6zM268.7 106.1h0.7v0.7h-0.7zM272.4 143.3h1.2v1.2h-1.2zM268.8 190.3h0.9v0.9h-0.9zM271.7 50h0.9v0.9h-0.9zM271.6 148.3h1v1h-1zM268.3 98.6h0.6v0.6h-0.6zM268.4 194.3h1v1h-1zM268.3 35.5h1.1v1.1h-1.1zM268.7 72.1h0.8v0.8h-0.8zM268.5 46.6h0.9v0.9h-0.9zM268.9 139.5h1v1h-1zM268 93.4h1.1v1.1h-1.1zM272.2 77.3h1.3v1.3h-1.3zM268.2 142.2h0.7v0.7h-0.7zM268 84.7h0.6v0.6h-0.6zM271.6 185.6h1.2v1.2h-1.2zM290.1 101.2h1.1v1.1h-1.1zM286.6 142.3h1.1v1.1h-1.1zM289.2 50.8h1v1h-1zM289.9 73h1.2v1.2h-1.2zM289.4 151.1h1v1h-1zM289.6 175.7h1.2v1.2h-1.2zM285.9 116.3h0.7v0.7h-0.7zM286.3 86.3h0.9v0.9h-0.9zM286 213.8h0.6v0.6h-0.6zM286.5 104.8h0.7v0.7h-0.7zM285.8 85.9h0.9v0.9h-0.9zM286.2 91.7h0.8v0.8h-0.8zM290 87.6h1v1h-1zM286.2 80.3h0.8v0.8h-0.8zM286 198.1h1v1h-1zM289.5 155.8h0.8v0.8h-0.8zM286.5 139.5h0.9v0.9h-0.9zM289.6 112.2h1.1v1.1h-1.1zM286.1 189.4h1v1h-1zM286.5 205.5h1v1h-1zM289.2 112.7h1.1v1.1h-1.1zM286 194.2h0.9v0.9h-0.9zM286.3 67.7h1v1h-1zM289.6 197.3h0.9v0.9h-0.9zM286 182.3h1.2v1.2h-1.2zM286.2 100.1h0.9v0.9h-0.9zM289.2 119.5h0.6v0.6h-0.6zM286 158.7h1.1v1.1h-1.1zM290.1 103h1v1h-1zM285.7 50.3h1v1h-1zM289.6 35.2h1.2v1.2h-1.2zM289.6 160.9h1.1v1.1h-1.1zM289.2 44.2h0.7v0.7h-0.7zM286.6 40.1h0.6v0.6h-0.6zM289.8 83.4h1.1v1.1h-1.1zM289.8 104h0.7v0.7h-0.7zM285.8 114.3h1.2v1.2h-1.2zM286 65.8h0.9v0.9h-0.9zM289.6 208.2h0.9v0.9h-0.9zM286.6 154.3h1.2v1.2h-1.2zM289.6 188.7h1.1v1.1h-1.1zM286.2 203.4h1v1h-1zM289.7 68h1.2v1.2h-1.2zM289.5 204.3h0.8v0.8h-0.8zM307.5 47.1h0.7v0.7h-0.7zM307 198.1h1.1v1.1h-1.1zM307.4 97.4h0.9v0.9h-0.9zM307.3 199.7h0.6v0.6h-0.6zM307.3 185.2h1.2v1.2h-1.2zM303.4 66.6h1.2v1.2h-1.2zM307.8 72.4h1v1h-1zM307.5 183.3h0.8v0.8h-0.8zM307.1 191.5h0.9v0.9h-0.9zM304 103.4h1.3v1.3h-1.3zM303.4 163.1h0.7v0.7h-0.7zM307.7 153.7h0.8v0.8h-0.8zM307 51.4h0.8v0.8h-0.8zM307.5 100.8h0.9v0.9h-0.9zM307.2 98.6h0.8v0.8h-0.8zM307.4 114.8h1.2v1.2h-1.2zM303.7 196.6h1.3v1.3h-1.3zM303.6 196h0.7v0.7h-0.7zM307.3 88.9h1.1v1.1h-1.1zM304 71.4h0.6v0.6h-0.6zM307.7 162.3h0.9v0.9h-0.9zM304.1 179h1v1h-1zM304.3 125.5h0.8v0.8h-0.8zM303.8 135.1h1.1v1.1h-1.1zM307 74.3h0.9v0.9h-0.9zM307.1 186.3h1v1h-1zM303.7 199.4h1v1h-1zM303.9 40.9h0.9v0.9h-0.9zM307.4 109.4h1.1v1.1h-1.1zM307.3 138.5h0.7v0.7h-0.7zM303.8 127.4h0.7v0.7h-0.7zM303.6 106.9h0.8v0.8h-0.8zM307.5 87.2h0.8v0.8h-0.8zM307.6 209.4h0.9v0.9h-0.9zM303.9 168.9h1v1h-1zM303.8 89.9h0.8v0.8h-0.8zM307.7 185.4h1.1v1.1h-1.1zM307.1 151.7h0.8v0.8h-0.8zM304.3 206.4h0.8v0.8h-0.8zM321.2 153.7h0.9v0.9h-0.9zM325.5 185.4h1.1v1.1h-1.1zM321.9 213h1.3v1.3h-1.3zM324.9 45.9h0.8v0.8h-0.8zM324.8 192.2h1.1v1.1h-1.1zM321.3 133.9h1.1v1.1h-1.1zM321.5 174.2h0.9v0.9h-0.9zM321.2 45.5h0.9v0.9h-0.9zM321.1 145.1h0.9v0.9h-0.9zM321.6 118.8h0.7v0.7h-0.7zM322 164.1h1.1v1.1h-1.1zM321.6 83.5h1v1h-1zM324.9 132.3h1.2v1.2h-1.2zM321.6 149.8h0.9v0.9h-0.9zM325.2 76h1.2v1.2h-1.2zM321.8 71.9h1.1v1.1h-1.1zM325.2 154.6h1v1h-1zM324.7 142.9h0.9v0.9h-0.9zM325 181.6h1.3v1.3h-1.3zM321.3 132.1h1.2v1.2h-1.2zM321.4 58.5h0.9v0.9h-0.9zM321.5 200.3h0.9v0.9h-0.9zM324.6 163.6h1.2v1.2h-1.2zM321.3 91.8h0.6v0.6h-0.6zM321.9 213.5h1.2v1.2h-1.2zM321.1 189.1h0.7v0.7h-0.7zM321.8 142.6h0.9v0.9h-0.9zM321.3 181.3h0.8v0.8h-0.8zM322 64.4h1.2v1.2h-1.2zM321.2 192.1h0.9v0.9h-0.9zM324.9 129h1.1v1.1h-1.1zM325.4 149h0.6v0.6h-0.6zM324.6 186.7h0.7v0.7h-0.7zM321.8 81.2h1v1h-1zM324.6 85.5h0.9v0.9h-0.9zM325 82.2h1v1h-1zM321.6 137.9h0.7v0.7h-0.7zM321.4 49.1h1.1v1.1h-1.1zM321.7 198.4h0.7v0.7h-0.7zM325.1 116.7h1.2v1.2h-1.2zM321.6 70.1h1.2v1.2h-1.2zM342.7 104.7h1.1v1.1h-1.1zM343 35.1h1v1h-1zM339.5 94.5h0.7v0.7h-0.7zM338.9 36.2h1.2v1.2h-1.2zM339 200h1.2v1.2h-1.2zM343 128.5h1.1v1.1h-1.1zM343.2 125.7h1.1v1.1h-1.1zM343 70.2h0.7v0.7h-0.7zM339.6 88.2h0.8v0.8h-0.8zM342.3 134.6h0.8v0.8h-0.8zM339.2 162.5h1.3v1.3h-1.3zM342.9 121.5h1.3v1.3h-1.3zM342.4 37.7h1.2v1.2h-1.2zM342.5 37.5h0.7v0.7h-0.7zM339 166.7h1v1h-1zM343.1 107.5h1.3v1.3h-1.3zM343 121.5h0.7v0.7h-0.7zM342.9 67.7h0.8v0.8h-0.8zM343.2 55.2h1.2v1.2h-1.2zM343 50h1v1h-1zM342.5 72.5h1.1v1.1h-1.1zM342.6 144.8h1.3v1.3h-1.3zM342.4 35.5h1.3v1.3h-1.3zM342.7 63.3h0.7v0.7h-0.7zM342.8 153.4h1.2v1.2h-1.2zM342.9 167.4h0.9v0.9h-0.9zM343.2 182.5h1.1v1.1h-1.1zM339.5 98.6h0.9v0.9h-0.9zM339.5 164.9h1v1h-1zM342.5 120.4h1.3v1.3h-1.3zM342.8 82.6h1.1v1.1h-1.1zM342.4 157.8h0.8v0.8h-0.8zM338.9 82.4h0.9v0.9h-0.9zM342.8 83.5h0.7v0.7h-0.7zM342.7 57.9h0.9v0.9h-0.9zM339.5 180h1.2v1.2h-1.2zM343.1 118.2h0.8v0.8h-0.8zM339 134.7h1.2v1.2h-1.2zM339.3 79.2h1.1v1.1h-1.1zM356.5 71h0.6v0.6h-0.6zM360.8 198.8h0.9v0.9h-0.9zM360.2 190.9h1v1h-1zM356.6 198.8h0.8v0.8h-0.8zM356.9 140.6h0.7v0.7h-0.7zM360 104.8h1.1v1.1h-1.1zM360.5 127.2h0.7v0.7h-0.7zM356.8 167.7h0.8v0.8h-0.8zM356.8 126.4h0.9v0.9h-0.9zM360.6 89h1.3v1.3h-1.3zM360.8 162.9h1v1h-1zM357 196.3h0.7v0.7h-0.7zM360.3 177.3h1.3v1.3h-1.3zM356.9 109.7h1.1v1.1h-1.1zM356.9 204.9h1v1h-1zM360.4 174.1h1.1v1.1h-1.1zM356.7 193.5h1v1h-1zM360.4 158h1.2v1.2h-1.2zM360.3 90.1h1v1h-1zM360.3 79.9h0.9v0.9h-0.9zM357 119.2h1v1h-1zM360.6 123.5h1.3v1.3h-1.3zM357.4 124.2h0.8v0.8h-0.8zM360.6 94h1.2v1.2h-1.2zM360.6 156.6h1.1v1.1h-1.1zM360.6 200h0.8v0.8h-0.8zM360 92h0.7v0.7h-0.7zM360.3 143.6h1.2v1.2h-1.2zM360.3 139.5h1v1h-1zM356.8 43.1h0.9v0.9h-0.9zM357.2 110.3h0.8v0.8h-0.8zM360.7 107.9h0.7v0.7h-0.7zM357.4 171.8h1.2v1.2h-1.2zM360.6 83.9h0.9v0.9h-0.9zM360.5 93.1h0.6v0.6h-0.6zM357.2 52.7h0.9v0.9h-0.9zM360.6 36.2h0.9v0.9h-0.9zM357.4 69.8h1.2v1.2h-1.2zM357.3 150.2h0.9v0.9h-0.9zM356.5 40.5h1.1v1.1h-1.1zM360 86.8h1v1h-1zM357.1 165.1h1.1v1.1h-1.1zM360.7 202.1h1.3v1.3h-1.3zM374.6 113.5h0.6v0.6h-0.6zM374.2 90.1h0.9v0.9h-0.9zM374.8 178.5h0.6v0.6h-0.6zM378.1 204.9h1v1h-1zM378 130.5h0.8v0.8h-0.8zM375.1 67h1v1h-1zM374.8 155.5h0.8v0.8h-0.8zM375 79.6h0.8v0.8h-0.8zM374.4 146.4h0.7v0.7h-0.7zM378.6 116.1h0.7v0.7h-0.7zM378 210.8h0.9v0.9h-0.9zM374.8 86.5h0.8v0.8h-0.8zM375 147.1h0.8v0.8h-0.8zM374.4 35.7h0.8v0.8h-0.8zM378 76.2h0.6v0.6h-0.6zM378.4 113.3h0.6v0.6h-0.6zM374.8 211.5h0.9v0.9h-0.9zM378.3 134.3h0.7v0.7h-0.7zM374.5 150.8h0.7v0.7h-0.7zM378.5 54.5h0.7v0.7h-0.7zM374.9 118.4h0.9v0.9h-0.9zM374.3 205.9h0.8v0.8h-0.8zM374.3 165.9h1.2v1.2h-1.2zM378.3 150.2h1.2v1.2h-1.2zM374.5 38.7h1.2v1.2h-1.2zM374.5 165.6h1.1v1.1h-1.1zM374.7 212h0.9v0.9h-0.9zM377.8 181.1h1.1v1.1h-1.1zM378 134.4h0.7v0.7h-0.7zM378.4 166.8h1v1h-1zM374.9 126.7h0.9v0.9h-0.9zM377.8 37.2h0.7v0.7h-0.7zM377.8 42h0.8v0.8h-0.8zM392.1 198.3h1v1h-1zM396 77.9h0.6v0.6h-0.6zM392.1 168h0.7v0.7h-0.7zM395.7 68.5h1.1v1.1h-1.1zM391.9 171.8h1.1v1.1h-1.1zM395.5 195.7h1.2v1.2h-1.2zM395.8 134.4h1v1h-1zM391.9 206.2h0.7v0.7h-0.7zM392.7 54h1v1h-1zM392.7 79.1h0.8v0.8h-0.8zM392.6 192.6h0.7v0.7h-0.7zM396 176.2h1.3v1.3h-1.3zM395.5 56.6h1.1v1.1h-1.1zM392.4 83.6h1.1v1.1h-1.1zM395.7 188.2h0.9v0.9h-0.9zM392.4 131.4h0.7v0.7h-0.7zM392.6 45.8h1v1h-1zM392.1 209.1h0.7v0.7h-0.7zM396.1 140.5h0.9v0.9h-0.9zM395.6 123.6h1.1v1.1h-1.1zM396.1 136.8h0.8v0.8h-0.8zM392.7 38.7h0.6v0.6h-0.6zM392 39.4h0.8v0.8h-0.8zM392.7 138.2h1v1h-1zM395.6 169.9h1v1h-1zM395.9 141.5h1.1v1.1h-1.1zM395.9 201.8h1.1v1.1h-1.1zM392.1 66.2h0.9v0.9h-0.9zM392.4 120.6h1.2v1.2h-1.2zM391.9 76.7h1.3v1.3h-1.3zM396 41.8h0.8v0.8h-0.8zM395.6 123.3h1v1h-1zM396.3 207.2h1.2v1.2h-1.2zM395.6 46.8h1.1v1.1h-1.1zM392.2 54h1.3v1.3h-1.3zM392 50.4h0.7v0.7h-0.7zM392.3 97.5h1.1v1.1h-1.1zM392.7 137.6h0.7v0.7h-0.7zM396.3 180.9h0.7v0.7h-0.7zM392.6 118.7h1.2v1.2h-1.2zM395.9 123.9h1.1v1.1h-1.1zM396.3 96.3h0.6v0.6h-0.6zM392.2 90.5h0.8v0.8h-0.8zM392.2 125.7h0.9v0.9h-0.9zM395.4 74h1.3v1.3h-1.3zM392.8 62.8h1v1h-1zM395.7 182.9h0.7v0.7h-0.7zM396.3 166.3h1.2v1.2h-1.2zM395.8 77.9h1.2v1.2h-1.2zM396.1 195.6h1.2v1.2h-1.2zM413.8 129.2h1.1v1.1h-1.1zM409.9 73.1h0.6v0.6h-0.6zM413.2 201.3h1.2v1.2h-1.2zM413.7 195.5h1.1v1.1h-1.1zM413.5 104.3h0.9v0.9h-0.9zM413.9 91h0.6v0.6h-0.6zM413.2 65h1.1v1.1h-1.1zM409.9 176.1h0.9v0.9h-0.9zM413.7 179.2h0.9v0.9h-0.9zM413.4 125.3h0.9v0.9h-0.9zM413.3 96.8h1v1h-1zM409.9 210.2h0.7v0.7h-0.7zM413.2 174.5h1.2v1.2h-1.2zM413.2 105.8h1v1h-1zM410.4 53.2h1.2v1.2h-1.2zM410 108.4h1.3v1.3h-1.3zM409.9 58.1h0.7v0.7h-0.7zM409.9 37.6h0.8v0.8h-0.8zM413.9 46.8h0.6v0.6h-0.6zM413.5 57.9h0.8v0.8h-0.8zM413.2 137.5h1v1h-1zM410 97.4h1.2v1.2h-1.2zM413.9 41h1.1v1.1h-1.1zM410.5 142.6h0.8v0.8h-0.8zM413.9 69.1h0.9v0.9h-0.9zM413.9 151.2h1.2v1.2h-1.2zM413.2 107.4h0.7v0.7h-0.7zM413.4 106.3h1.2v1.2h-1.2zM409.9 176.4h0.9v0.9h-0.9zM410.3 50.9h1.2v1.2h-1.2zM413.4 51.7h0.9v0.9h-0.9zM410.2 56.9h1.1v1.1h-1.1zM410 195.6h0.7v0.7h-0.7zM413.6 40.9h1.2v1.2h-1.2zM413.7 39.6h1.1v1.1h-1.1zM409.9 112.7h1v1h-1zM413.6 72.9h1.2v1.2h-1.2zM410.1 93.9h1v1h-1zM410.5 109.9h0.7v0.7h-0.7zM413.2 170.7h1.3v1.3h-1.3zM409.7 122.1h0.7v0.7h-0.7zM410.2 55.5h1.1v1.1h-1.1zM428 175.3h1v1h-1zM431 50.1h1.2v1.2h-1.2zM427.9 205.2h0.7v0.7h-0.7zM427.6 175.3h0.6v0.6h-0.6zM427.4 131.1h1v1h-1zM430.8 164.4h0.9v0.9h-0.9zM428.1 206.4h1.3v1.3h-1.3zM431.5 184.3h1v1h-1zM428.1 139h1.1v1.1h-1.1zM431.6 118.6h1v1h-1zM427.6 58.2h1v1h-1zM431.4 138.6h0.7v0.7h-0.7zM427.9 79.7h1.1v1.1h-1.1zM431.4 51.5h0.8v0.8h-0.8zM428 67.8h0.9v0.9h-0.9zM431.1 84.7h1.1v1.1h-1.1zM431.6 119.1h0.8v0.8h-0.8zM431 121h1.2v1.2h-1.2zM431.1 67.3h1v1h-1zM428.1 48.4h1.2v1.2h-1.2zM427.4 170.4h1.1v1.1h-1.1zM427.5 82h0.8v0.8h-0.8zM431.5 96.1h1v1h-1zM427.8 104.4h1.2v1.2h-1.2zM431.5 194.9h1v1h-1zM427.9 202.7h0.8v0.8h-0.8zM430.9 65.5h1.3v1.3h-1.3zM431.5 65.5h1.1v1.1h-1.1zM428.2 91.1h1v1h-1zM427.4 111.6h0.9v0.9h-0.9zM431.3 188.8h0.6v0.6h-0.6zM427.9 211.9h0.9v0.9h-0.9zM431.3 122.5h1.1v1.1h-1.1zM427.9 165.9h0.7v0.7h-0.7zM428.1 80.9h1.2v1.2h-1.2zM431.2 136.6h0.8v0.8h-0.8zM431.1 46h0.7v0.7h-0.7zM427.6 72.4h1.2v1.2h-1.2zM427.9 72h1.1v1.1h-1.1zM427.8 95.5h0.7v0.7h-0.7zM427.9 114.2h1.3v1.3h-1.3zM431 116.6h0.7v0.7h-0.7zM431.5 44.7h1.2v1.2h-1.2zM428.1 65.2h1.1v1.1h-1.1z"/><path fill="#203818" d="M216.5 54.8h0.6v0.6h-0.6zM391.1 55h1.2v1.2h-1.2zM404.3 55.3h0.8v0.8h-0.8zM307.2 51.4h1v1h-1zM233 54.7h1v1h-1zM387.2 55h0.6v0.6h-0.6zM355.5 54.6h0.6v0.6h-0.6zM431.6 54.8h1.2v1.2h-1.2zM281.4 50.9h1v1h-1zM231.2 54.9h1v1h-1zM438.7 55.1h1.2v1.2h-1.2zM262.6 54.7h0.9v0.9h-0.9zM393.3 54.4h1.1v1.1h-1.1zM425 54.7h1v1h-1zM366.9 51.2h1.2v1.2h-1.2zM322.5 51.4h1.2v1.2h-1.2zM360.7 50.9h0.6v0.6h-0.6zM212.7 51.1h1.1v1.1h-1.1zM311.3 54.9h0.6v0.6h-0.6zM333.4 55.2h1.1v1.1h-1.1zM280.4 54.8h1.1v1.1h-1.1zM218.4 50.8h1.3v1.3h-1.3zM244.7 50.7h1.1v1.1h-1.1zM262.9 51.6h1.1v1.1h-1.1zM316.1 54.5h1.2v1.2h-1.2zM417.7 51.2h1.3v1.3h-1.3zM307.1 51.5h1.2v1.2h-1.2zM337.4 54.9h1v1h-1zM246.6 55.1h1v1h-1zM338.3 51.2h1.3v1.3h-1.3zM389.8 51.3h0.9v0.9h-0.9zM251.5 55.2h1v1h-1zM385 55.2h1.3v1.3h-1.3zM293.1 55.3h0.7v0.7h-0.7zM247.4 54.7h1v1h-1zM231 55.3h1v1h-1zM262.2 50.9h1v1h-1zM346.9 55.3h1.1v1.1h-1.1zM290.9 54.6h0.7v0.7h-0.7zM310.7 51.3h1.2v1.2h-1.2zM331.9 55.2h1.3v1.3h-1.3zM312.5 55.2h1.1v1.1h-1.1zM292.8 54.7h0.9v0.9h-0.9zM414.6 50.7h1.3v1.3h-1.3zM242.7 55h0.9v0.9h-0.9zM311.2 54.4h0.8v0.8h-0.8zM233 55h1.2v1.2h-1.2zM280.6 55.2h0.6v0.6h-0.6zM213.5 51.1h1.1v1.1h-1.1zM403 51.3h0.6v0.6h-0.6zM274.8 55.3h1.2v1.2h-1.2zM286.4 68.7h1.2v1.2h-1.2zM368.8 72.4h1.1v1.1h-1.1zM225.4 72.7h0.7v0.7h-0.7zM432.8 73h1.2v1.2h-1.2zM389.1 72.5h0.6v0.6h-0.6zM375 72.5h0.8v0.8h-0.8zM418.7 68.8h1v1h-1zM227.8 73h1v1h-1zM216.4 72.5h0.9v0.9h-0.9zM420.7 72.6h1.2v1.2h-1.2zM427.8 73.1h0.9v0.9h-0.9zM438 72.6h1.3v1.3h-1.3zM384.9 69.1h1.3v1.3h-1.3zM388.7 72.4h1.2v1.2h-1.2zM380 69h1.2v1.2h-1.2zM411.3 69.2h0.9v0.9h-0.9zM297 72.5h0.7v0.7h-0.7zM250.5 68.9h0.7v0.7h-0.7zM336.8 72.2h0.7v0.7h-0.7zM297.7 69.4h0.7v0.7h-0.7zM372.4 72.8h1.2v1.2h-1.2zM422.3 72.7h0.8v0.8h-0.8zM375 69.2h1.3v1.3h-1.3zM258.5 68.6h0.8v0.8h-0.8zM313.7 72.5h0.7v0.7h-0.7zM341.5 73h1v1h-1zM332.4 72.6h1v1h-1zM315.9 72.8h1.3v1.3h-1.3zM426.4 72.4h1v1h-1zM291 68.7h0.9v0.9h-0.9zM320.4 69.4h0.9v0.9h-0.9zM301 72.7h1.1v1.1h-1.1zM282.4 69h0.6v0.6h-0.6zM434.3 72.8h1.3v1.3h-1.3zM251.2 72.3h1v1h-1zM350.7 73h0.9v0.9h-0.9zM232.9 69.3h0.6v0.6h-0.6zM331.6 72.4h1v1h-1zM362.6 72.7h1.1v1.1h-1.1zM245.2 68.8h1.3v1.3h-1.3zM303.9 72.3h1.1v1.1h-1.1zM390.2 73h0.6v0.6h-0.6zM277.3 72.3h1.2v1.2h-1.2zM364 86.8h0.6v0.6h-0.6zM418.2 90.7h0.8v0.8h-0.8zM350.8 90.2h1.1v1.1h-1.1zM246.8 90.4h0.8v0.8h-0.8zM373.6 86.4h1v1h-1zM392.8 86.7h1v1h-1zM388.5 90.6h0.8v0.8h-0.8zM278.1 87.1h0.7v0.7h-0.7zM235.5 87.1h1.2v1.2h-1.2zM425.3 86.7h0.7v0.7h-0.7zM223.7 90.5h0.9v0.9h-0.9zM437.9 86.6h0.9v0.9h-0.9zM312.4 90.1h1v1h-1zM345.8 90.1h0.9v0.9h-0.9zM271 90h1v1h-1zM247.7 86.3h0.6v0.6h-0.6zM210.1 86.6h1.1v1.1h-1.1zM399.9 90.4h1v1h-1zM300.5 90.6h1.3v1.3h-1.3zM398.3 90.1h1.3v1.3h-1.3zM242.6 87.1h1.2v1.2h-1.2zM259.6 90.4h0.6v0.6h-0.6zM405.1 86.7h0.8v0.8h-0.8zM361.4 86.4h0.6v0.6h-0.6zM235.8 90.1h1v1h-1zM396.8 86.9h0.7v0.7h-0.7zM304 86.4h1.1v1.1h-1.1zM291.9 90.2h0.8v0.8h-0.8zM398.6 90.5h0.7v0.7h-0.7zM377 87h1v1h-1zM405.3 86.5h1v1h-1zM240.9 90.3h0.8v0.8h-0.8zM420.5 87h0.8v0.8h-0.8zM372 90.5h1.3v1.3h-1.3zM292.1 87.1h0.8v0.8h-0.8zM318.5 86.8h1.2v1.2h-1.2zM397.9 90.1h1.2v1.2h-1.2zM235.7 86.5h1.1v1.1h-1.1zM415.7 104.3h0.8v0.8h-0.8zM232.7 104.9h0.8v0.8h-0.8zM218.2 108.1h0.9v0.9h-0.9zM259.5 107.8h1v1h-1zM217.3 108.5h0.8v0.8h-0.8zM235.1 108.3h1.1v1.1h-1.1zM242.6 104.5h0.8v0.8h-0.8zM231.7 104.6h0.7v0.7h-0.7zM283.5 104.8h0.9v0.9h-0.9zM438.5 108.5h1.2v1.2h-1.2zM268.7 108.5h1.2v1.2h-1.2zM398.7 104.4h0.7v0.7h-0.7zM380.7 108.5h1v1h-1zM289.6 104.7h1.2v1.2h-1.2zM256.1 104.5h1.3v1.3h-1.3zM427.7 107.8h1.1v1.1h-1.1zM400 104.6h1.3v1.3h-1.3zM404.9 108.6h1.3v1.3h-1.3zM429.1 104.8h0.7v0.7h-0.7zM280.7 108.5h1.2v1.2h-1.2zM336 104.9h0.8v0.8h-0.8zM357.8 104.3h0.7v0.7h-0.7zM344.9 108.3h1.3v1.3h-1.3zM408.5 104.4h0.6v0.6h-0.6zM211 104.6h0.7v0.7h-0.7zM421.4 108.5h0.8v0.8h-0.8zM376 107.9h1.1v1.1h-1.1zM372.4 104.6h0.7v0.7h-0.7zM374.5 107.9h0.9v0.9h-0.9zM239.8 104.4h1.2v1.2h-1.2zM267.8 108.5h1v1h-1zM299.9 104.3h0.9v0.9h-0.9zM299.5 108.4h0.8v0.8h-0.8zM220.8 104.7h0.6v0.6h-0.6zM419.8 108h1.3v1.3h-1.3zM326.3 108.6h0.7v0.7h-0.7zM395.7 104.8h0.9v0.9h-0.9zM398.9 108.3h0.8v0.8h-0.8zM313.2 108h0.6v0.6h-0.6zM426.9 104.3h1.3v1.3h-1.3zM319.5 104.7h0.7v0.7h-0.7zM304.6 104.3h1v1h-1zM246.3 107.9h0.8v0.8h-0.8zM232 125.8h0.9v0.9h-0.9zM305.1 125.8h1.2v1.2h-1.2zM235 122.1h0.8v0.8h-0.8zM278.6 125.7h1.2v1.2h-1.2zM337.2 125.9h0.7v0.7h-0.7zM270.9 125.6h1.1v1.1h-1.1zM383.1 122.7h1v1h-1zM428.8 122.7h1.3v1.3h-1.3zM233 125.8h0.9v0.9h-0.9zM406.6 126h0.7v0.7h-0.7zM278.9 122.3h0.9v0.9h-0.9zM279.6 126h0.9v0.9h-0.9zM248.2 126.2h1.1v1.1h-1.1zM346.6 122.3h1.1v1.1h-1.1zM302 125.7h1.1v1.1h-1.1zM364.9 121.9h1.2v1.2h-1.2zM236.4 125.9h0.7v0.7h-0.7zM417 125.7h1.1v1.1h-1.1zM319.6 126.4h1.1v1.1h-1.1zM312.4 126.3h0.7v0.7h-0.7zM270.2 125.6h0.9v0.9h-0.9zM397.8 122h0.7v0.7h-0.7zM286.9 126.2h1.2v1.2h-1.2zM214.7 122.5h1.1v1.1h-1.1zM420.4 122.6h0.9v0.9h-0.9zM336 122.6h0.7v0.7h-0.7zM270.3 126.3h1.1v1.1h-1.1zM364.8 122.4h1v1h-1zM236 126.3h1v1h-1zM417.3 122.5h0.7v0.7h-0.7zM314.5 125.7h0.7v0.7h-0.7zM328.8 126.5h0.7v0.7h-0.7zM355.2 122.7h1v1h-1zM425.5 122.2h1.2v1.2h-1.2zM357.6 126.5h1.1v1.1h-1.1zM389.1 126.2h1.3v1.3h-1.3zM263.1 122.5h1.2v1.2h-1.2zM275.3 122.7h1v1h-1zM212.5 126h1.3v1.3h-1.3zM345.2 122.6h1.1v1.1h-1.1zM409 126.1h0.9v0.9h-0.9zM216.7 122.5h0.6v0.6h-0.6zM328.8 125.9h1.2v1.2h-1.2zM240.5 144h1.2v1.2h-1.2zM420.5 140h1.2v1.2h-1.2zM405.6 140.6h0.9v0.9h-0.9zM323.5 140.2h1.3v1.3h-1.3zM415.9 143.6h1.1v1.1h-1.1zM363.9 140.1h0.7v0.7h-0.7zM251 140h1v1h-1zM386.9 140.4h0.9v0.9h-0.9zM405.5 139.9h1.2v1.2h-1.2zM319.5 143.7h0.8v0.8h-0.8zM342.6 144.2h0.9v0.9h-0.9zM215.4 143.7h1.1v1.1h-1.1zM342.1 139.7h0.6v0.6h-0.6zM219.9 143.7h1.2v1.2h-1.2zM347.3 143.5h0.9v0.9h-0.9zM222 143.7h0.8v0.8h-0.8zM233.6 144.2h0.8v0.8h-0.8zM307.3 140.3h0.6v0.6h-0.6zM366.4 144h1.3v1.3h-1.3zM405 143.9h0.9v0.9h-0.9zM413.6 140.4h0.8v0.8h-0.8zM367.9 139.9h1.3v1.3h-1.3zM284.1 139.9h1.3v1.3h-1.3zM342.3 144h0.6v0.6h-0.6zM349.1 139.8h0.6v0.6h-0.6zM368.7 139.8h0.6v0.6h-0.6zM241.1 143.5h1.2v1.2h-1.2zM391.9 144.1h0.7v0.7h-0.7zM355.9 144.2h1.2v1.2h-1.2zM377.7 143.9h0.8v0.8h-0.8zM358.5 140.5h1.2v1.2h-1.2zM239.3 139.7h0.8v0.8h-0.8zM262.4 140.6h0.7v0.7h-0.7zM404.9 139.8h0.7v0.7h-0.7zM328.5 144h1v1h-1zM254.3 139.7h1.2v1.2h-1.2zM211.7 143.7h1.2v1.2h-1.2zM367.4 144.3h0.8v0.8h-0.8zM268.6 143.6h0.6v0.6h-0.6zM381.7 140.4h1v1h-1zM356.7 143.9h1.2v1.2h-1.2zM278.7 140.2h0.8v0.8h-0.8zM317.8 143.5h0.8v0.8h-0.8zM350.2 140h0.6v0.6h-0.6zM403 144.1h1v1h-1zM232.7 143.6h0.6v0.6h-0.6zM240.7 140.4h0.9v0.9h-0.9zM318.5 140.6h1.2v1.2h-1.2zM282.8 144.2h1.1v1.1h-1.1zM371.8 140h0.9v0.9h-0.9zM283.7 157.9h0.8v0.8h-0.8zM248.6 157.9h1v1h-1zM304.5 157.6h1.3v1.3h-1.3zM335.9 158.3h1v1h-1zM410.8 158h0.7v0.7h-0.7zM261.5 161.8h1v1h-1zM421.9 157.8h0.6v0.6h-0.6zM234.1 158.1h0.8v0.8h-0.8zM381 162h0.9v0.9h-0.9zM215.7 157.7h0.9v0.9h-0.9zM409.8 161.7h0.9v0.9h-0.9zM279 162h1.1v1.1h-1.1zM432.9 157.9h1.1v1.1h-1.1zM372.6 158.3h1.2v1.2h-1.2zM296.7 161.3h1.1v1.1h-1.1zM305.2 158.4h1.3v1.3h-1.3zM271.8 158.3h1.3v1.3h-1.3zM258.6 161.3h0.8v0.8h-0.8zM418.8 162h0.7v0.7h-0.7zM344 157.8h0.9v0.9h-0.9zM430 158.2h0.9v0.9h-0.9zM244.2 158.3h1.1v1.1h-1.1zM221.9 161.7h0.6v0.6h-0.6zM231.2 158.2h0.9v0.9h-0.9zM283.5 158.4h1.3v1.3h-1.3zM377.8 161.4h1.1v1.1h-1.1zM287 157.5h1.3v1.3h-1.3zM295.3 161.7h0.6v0.6h-0.6zM382 158.1h1.2v1.2h-1.2zM246 162h1.1v1.1h-1.1zM215.3 158h0.9v0.9h-0.9zM369 157.6h0.8v0.8h-0.8zM301.6 157.9h0.8v0.8h-0.8zM438.5 158.2h0.9v0.9h-0.9zM360.9 157.6h0.6v0.6h-0.6zM257.2 161.3h0.8v0.8h-0.8zM247.2 158.1h0.7v0.7h-0.7zM384.9 161.6h0.6v0.6h-0.6zM407.6 161.3h0.8v0.8h-0.8zM327.1 162h0.8v0.8h-0.8zM388.9 157.6h0.6v0.6h-0.6zM363.4 161.4h1.3v1.3h-1.3zM423.9 179.3h1v1h-1zM363.6 176h1.1v1.1h-1.1zM283.4 179.5h1.3v1.3h-1.3zM252.9 175.4h1v1h-1zM295.4 176.1h0.8v0.8h-0.8zM357.2 179.3h0.8v0.8h-0.8zM418.2 179.6h1v1h-1zM332.3 179h0.7v0.7h-0.7zM309 179.1h1.2v1.2h-1.2zM241.4 176.1h0.9v0.9h-0.9zM317.1 175.9h0.9v0.9h-0.9zM421.6 179.9h0.9v0.9h-0.9zM373.6 179.1h0.7v0.7h-0.7zM299.9 179h1v1h-1zM257.7 179.4h1v1h-1zM426.9 175.3h1.2v1.2h-1.2zM428.5 179.6h0.8v0.8h-0.8zM282.4 179.5h1.3v1.3h-1.3zM409.3 175.5h1.2v1.2h-1.2zM251.2 175.5h1.1v1.1h-1.1zM417.2 176.1h0.7v0.7h-0.7zM316.1 175.9h0.8v0.8h-0.8zM369.5 179.3h1.1v1.1h-1.1zM415 179.5h0.8v0.8h-0.8zM397.9 176h1.1v1.1h-1.1zM422.1 179.3h0.9v0.9h-0.9zM245.6 179.7h1.1v1.1h-1.1zM234.5 179.4h1.2v1.2h-1.2zM274.9 179.4h0.7v0.7h-0.7zM334.1 179.8h0.9v0.9h-0.9zM211.5 179.2h1.2v1.2h-1.2zM426.5 175.7h1v1h-1zM337.8 175.3h1.2v1.2h-1.2zM242.2 175.6h0.9v0.9h-0.9zM290.2 179.8h1.1v1.1h-1.1zM436.7 175.5h1.2v1.2h-1.2zM425 179.1h0.9v0.9h-0.9zM247.1 179.9h1.3v1.3h-1.3zM384.9 175.3h1.1v1.1h-1.1zM323.2 175.7h0.7v0.7h-0.7zM318.6 175.5h0.9v0.9h-0.9zM396.8 175.4h0.7v0.7h-0.7zM338.7 179.3h1.2v1.2h-1.2zM412.2 175.3h0.8v0.8h-0.8zM221.4 179.6h1v1h-1zM327.7 176.1h0.7v0.7h-0.7zM211.9 179.4h0.7v0.7h-0.7zM381.8 175.6h1v1h-1zM315.8 179.2h0.7v0.7h-0.7zM341.1 175.8h0.9v0.9h-0.9zM238.7 196.9h1.3v1.3h-1.3zM323.5 193.5h1.3v1.3h-1.3zM214.6 193.3h1.1v1.1h-1.1zM359.8 196.9h1.1v1.1h-1.1zM417.3 197h1.1v1.1h-1.1zM260.3 197.5h0.8v0.8h-0.8zM329 193.9h1.2v1.2h-1.2zM361.1 197.1h1.2v1.2h-1.2zM340.4 197.2h1.2v1.2h-1.2zM281.7 197h0.6v0.6h-0.6zM252.5 197.5h0.7v0.7h-0.7zM289.1 197.1h1.1v1.1h-1.1zM439.5 193.2h1.1v1.1h-1.1zM385 197.6h0.7v0.7h-0.7zM216.6 197.3h1v1h-1zM300.2 193.5h1.3v1.3h-1.3zM373.8 193.2h0.7v0.7h-0.7zM390.6 193.9h0.8v0.8h-0.8zM283.8 196.9h1v1h-1zM419.2 193.2h1v1h-1zM242.5 193.3h1.1v1.1h-1.1zM301.3 193.3h0.9v0.9h-0.9zM240.1 197.5h1v1h-1zM356.7 193.8h0.8v0.8h-0.8zM272.6 193.8h1.1v1.1h-1.1zM293.2 197.2h0.9v0.9h-0.9zM289.1 197.5h1v1h-1zM344.5 196.9h1.1v1.1h-1.1zM293.6 193.6h0.7v0.7h-0.7zM363.5 193.7h1.2v1.2h-1.2zM278 193.9h0.9v0.9h-0.9zM299.3 197.3h1v1h-1zM296.7 193.5h0.7v0.7h-0.7zM214.7 193.6h1v1h-1zM401.5 197.6h1v1h-1zM234.5 193.9h1v1h-1zM357.9 193.6h0.9v0.9h-0.9zM307 193.3h0.8v0.8h-0.8zM411.8 193.1h0.9v0.9h-0.9zM237.1 197.4h1.3v1.3h-1.3zM320.5 197.2h1.1v1.1h-1.1zM348 193.5h0.8v0.8h-0.8zM214.9 156.4h0.8v0.8h-0.8zM218.8 186.1h0.6v0.6h-0.6zM219 168.1h1v1h-1zM215 117.4h1.2v1.2h-1.2zM215.1 49.5h0.8v0.8h-0.8zM218.8 53.5h0.9v0.9h-0.9zM215.2 166h0.7v0.7h-0.7zM215.2 93.4h1.1v1.1h-1.1zM219.2 183.5h1.2v1.2h-1.2zM218.8 132h0.7v0.7h-0.7zM218.9 192.4h1.2v1.2h-1.2zM219.2 171.6h1.2v1.2h-1.2zM215 38.9h0.7v0.7h-0.7zM218.8 61.5h1v1h-1zM218.8 73h1.1v1.1h-1.1zM218.8 70.3h0.9v0.9h-0.9zM218.7 194.5h0.9v0.9h-0.9zM215.2 194.5h1.2v1.2h-1.2zM219.1 126.7h0.8v0.8h-0.8zM215.4 208.2h0.9v0.9h-0.9zM219.2 85.7h0.6v0.6h-0.6zM215 148.6h0.6v0.6h-0.6zM219.1 140.3h0.7v0.7h-0.7zM219.1 125.4h0.8v0.8h-0.8zM218.8 164.7h1.1v1.1h-1.1zM219.2 124.3h0.8v0.8h-0.8zM215.6 44.9h0.7v0.7h-0.7zM215 202.4h0.8v0.8h-0.8zM219.3 151.1h1v1h-1zM218.6 60.4h1.2v1.2h-1.2zM215 155.9h1v1h-1zM219 99.9h0.8v0.8h-0.8zM215 39.1h1.1v1.1h-1.1zM218.5 63.8h1.1v1.1h-1.1zM219.2 152.1h1v1h-1zM215.3 206.8h1v1h-1zM218.8 60h1.1v1.1h-1.1zM215.7 43.8h0.6v0.6h-0.6zM215.2 94.6h0.7v0.7h-0.7zM218.6 187.5h1.3v1.3h-1.3zM215.6 112.7h1v1h-1zM219.1 150.1h0.7v0.7h-0.7zM219.2 123.8h1.1v1.1h-1.1zM219.2 72.7h1v1h-1zM219 131.3h1.2v1.2h-1.2zM218.9 198.2h1v1h-1zM218.9 158.1h0.7v0.7h-0.7zM236.4 175.2h0.7v0.7h-0.7zM233.2 114h1.2v1.2h-1.2zM233.2 84.1h1v1h-1zM236.5 42.4h0.8v0.8h-0.8zM233 165.1h1.2v1.2h-1.2zM236.4 106.6h0.9v0.9h-0.9zM233 154.9h0.6v0.6h-0.6zM233 128.6h1.1v1.1h-1.1zM236.5 134.5h1v1h-1zM236.1 114.9h0.7v0.7h-0.7zM236.7 180.2h0.7v0.7h-0.7zM233.1 214h0.8v0.8h-0.8zM236.1 41.7h1v1h-1zM236.6 169.9h1.1v1.1h-1.1zM233.2 115.1h0.7v0.7h-0.7zM237 64.7h0.8v0.8h-0.8zM233.2 188.2h1.1v1.1h-1.1zM233.4 162.4h1v1h-1zM233.1 159.2h1.3v1.3h-1.3zM233 127.3h1.2v1.2h-1.2zM232.7 93.3h0.7v0.7h-0.7zM236.9 126.5h0.9v0.9h-0.9zM232.6 43.3h1.1v1.1h-1.1zM236.4 188.2h1.2v1.2h-1.2zM236.4 50.6h1.3v1.3h-1.3zM232.7 136.9h0.8v0.8h-0.8zM236.2 195.8h0.8v0.8h-0.8zM236.8 55.8h0.9v0.9h-0.9zM236.9 75.4h1.1v1.1h-1.1zM232.7 156.7h1v1h-1zM233.3 171.9h0.7v0.7h-0.7zM236.4 169.7h1.1v1.1h-1.1zM233.1 53.9h1.3v1.3h-1.3zM236.2 110.3h1v1h-1zM236.6 207.2h0.8v0.8h-0.8zM236.2 201h1v1h-1zM236.1 175.7h1.1v1.1h-1.1zM233 171.2h1.2v1.2h-1.2zM233.1 61h1v1h-1zM251.1 142.8h0.8v0.8h-0.8zM250.9 130.3h1.3v1.3h-1.3zM254.3 121.3h1v1h-1zM250.5 80.3h1v1h-1zM250.8 66.3h1.1v1.1h-1.1zM254.2 45h0.7v0.7h-0.7zM250.5 92.5h0.8v0.8h-0.8zM254.3 83.2h0.7v0.7h-0.7zM253.8 36.3h0.7v0.7h-0.7zM250.3 85.8h1.2v1.2h-1.2zM250.6 128.1h0.7v0.7h-0.7zM250.5 166h1.1v1.1h-1.1zM254.6 148.3h1v1h-1zM250.9 150.3h1v1h-1zM254.4 143.3h0.9v0.9h-0.9zM250.4 119h0.7v0.7h-0.7zM254.4 185.1h1.1v1.1h-1.1zM251.2 96.3h1.3v1.3h-1.3zM254.6 145h1.3v1.3h-1.3zM254.6 54.8h0.8v0.8h-0.8zM254 211.5h1.2v1.2h-1.2zM254.3 91.6h0.9v0.9h-0.9zM251.2 131.8h1.2v1.2h-1.2zM250.6 213.7h0.9v0.9h-0.9zM251.2 207.7h0.9v0.9h-0.9zM254.3 104.8h1.3v1.3h-1.3zM251.1 172.3h0.8v0.8h-0.8zM250.7 79.8h1.2v1.2h-1.2zM251.1 38.3h0.9v0.9h-0.9zM250.7 154.8h0.9v0.9h-0.9zM253.9 77.6h0.9v0.9h-0.9zM254.1 113.8h0.8v0.8h-0.8zM254.4 62.5h0.9v0.9h-0.9zM253.9 63.2h1.1v1.1h-1.1zM271.5 196.4h0.9v0.9h-0.9zM268.6 174h0.9v0.9h-0.9zM268.7 159.9h1v1h-1zM268.7 69.5h0.9v0.9h-0.9zM268.3 199.4h0.9v0.9h-0.9zM268.2 184.5h1.2v1.2h-1.2zM268.1 207.2h1.1v1.1h-1.1zM268.8 200.9h1v1h-1zM272.2 109.5h1.2v1.2h-1.2zM272 117.4h1.2v1.2h-1.2zM268.7 165.6h1.2v1.2h-1.2zM272.4 51h0.6v0.6h-0.6zM271.9 38.8h1.3v1.3h-1.3zM268.9 108h0.6v0.6h-0.6zM271.8 50.5h1v1h-1zM272.1 73.6h1.3v1.3h-1.3zM268.1 209.6h0.7v0.7h-0.7zM271.8 112.5h1v1h-1zM272.2 203.2h0.9v0.9h-0.9zM271.6 182.2h0.6v0.6h-0.6zM268.4 152.9h0.8v0.8h-0.8zM268.2 184.8h1.1v1.1h-1.1zM272 82.5h0.9v0.9h-0.9zM272.2 170.1h0.7v0.7h-0.7zM268.2 46.4h0.7v0.7h-0.7zM268.2 211h1v1h-1zM268.1 187.2h0.8v0.8h-0.8zM272.2 179.3h1.1v1.1h-1.1zM268.9 138.9h1.1v1.1h-1.1zM271.7 206.7h0.9v0.9h-0.9zM268.7 48h0.8v0.8h-0.8zM268 121.3h1.3v1.3h-1.3zM271.6 37.1h0.8v0.8h-0.8zM271.7 191.8h0.9v0.9h-0.9zM268.3 92.2h1.3v1.3h-1.3zM268.5 118.3h0.8v0.8h-0.8zM286.1 193.9h1.1v1.1h-1.1zM289.5 118.2h1.2v1.2h-1.2zM285.8 126.3h0.9v0.9h-0.9zM289.8 45.2h0.7v0.7h-0.7zM285.8 75.4h1.1v1.1h-1.1zM286.6 199.4h0.9v0.9h-0.9zM285.8 121h0.8v0.8h-0.8zM286.4 201.1h0.7v0.7h-0.7zM289.6 59.7h0.6v0.6h-0.6zM286.5 213.9h1v1h-1zM286.1 178.2h1.3v1.3h-1.3zM286.6 56.5h0.7v0.7h-0.7zM289.2 48.4h0.9v0.9h-0.9zM285.9 132.7h0.7v0.7h-0.7zM289.2 135.1h1.1v1.1h-1.1zM289.3 119.8h0.8v0.8h-0.8zM289.9 210.5h1v1h-1zM289.5 146.6h1v1h-1zM289.5 150.2h1.2v1.2h-1.2zM289.9 191.3h0.9v0.9h-0.9zM289.5 185.7h1.1v1.1h-1.1zM285.9 89.2h1v1h-1zM285.7 127.8h1.2v1.2h-1.2zM286.5 142.4h0.8v0.8h-0.8zM289.4 61.6h0.8v0.8h-0.8zM285.9 133.4h1v1h-1zM286.5 157.8h0.9v0.9h-0.9zM286.2 179.1h1.2v1.2h-1.2zM289.7 146.5h1v1h-1zM286 109.9h1.3v1.3h-1.3zM285.8 161.2h0.6v0.6h-0.6zM289.4 115.9h0.6v0.6h-0.6zM285.9 207.8h1.2v1.2h-1.2zM304.1 58.4h1.1v1.1h-1.1zM303.6 155.6h1v1h-1zM307.7 57.8h1.1v1.1h-1.1zM307.1 59.5h0.7v0.7h-0.7zM303.6 168h0.7v0.7h-0.7zM307.1 45.1h1v1h-1zM307.5 99.7h1.2v1.2h-1.2zM303.7 138.7h0.8v0.8h-0.8zM307.7 72.2h0.7v0.7h-0.7zM307 127.1h0.8v0.8h-0.8zM307 58.6h1.3v1.3h-1.3zM307.6 120.2h1.2v1.2h-1.2zM303.5 50.9h0.8v0.8h-0.8zM304.1 120.1h1.1v1.1h-1.1zM304.1 51.9h0.9v0.9h-0.9zM307.4 84h0.9v0.9h-0.9zM307.6 48.8h0.8v0.8h-0.8zM304 116.7h1.2v1.2h-1.2zM304 51.7h1.2v1.2h-1.2zM303.4 210.8h1.1v1.1h-1.1zM304.2 189.7h0.9v0.9h-0.9zM307.4 39.1h0.8v0.8h-0.8zM303.5 73.9h1.2v1.2h-1.2zM303.8 112.1h0.9v0.9h-0.9zM307.7 103.2h0.7v0.7h-0.7zM303.5 36.6h0.7v0.7h-0.7zM303.7 158.7h1.1v1.1h-1.1zM303.5 153.5h0.8v0.8h-0.8zM307.4 78.3h0.7v0.7h-0.7zM304.3 181.3h0.9v0.9h-0.9zM303.8 181.9h1.2v1.2h-1.2zM307.5 57.6h0.8v0.8h-0.8zM303.7 176.7h0.9v0.9h-0.9zM321.8 209.6h1.3v1.3h-1.3zM321.4 108.1h1.1v1.1h-1.1zM321.3 210.5h0.7v0.7h-0.7zM321.6 36.7h1.2v1.2h-1.2zM321.5 128.6h1v1h-1zM325 156h0.8v0.8h-0.8zM321.4 190.7h0.8v0.8h-0.8zM325.3 178.7h0.9v0.9h-0.9zM324.7 112.9h0.7v0.7h-0.7zM321.6 170.5h0.9v0.9h-0.9zM324.8 163.4h1.3v1.3h-1.3zM325.3 52h1.2v1.2h-1.2zM321.6 58h0.9v0.9h-0.9zM324.7 124h0.8v0.8h-0.8zM324.8 76.6h0.7v0.7h-0.7zM321.9 103.6h0.8v0.8h-0.8zM324.9 78.6h1v1h-1zM324.9 36.3h1.1v1.1h-1.1zM324.8 100.2h0.9v0.9h-0.9zM325.4 154.2h0.9v0.9h-0.9zM321.7 74.9h0.9v0.9h-0.9zM321.7 41h1v1h-1zM322 149.9h0.8v0.8h-0.8zM324.7 106.1h0.8v0.8h-0.8zM325 94.4h0.8v0.8h-0.8zM325.1 35.1h0.6v0.6h-0.6zM321.1 181.2h0.8v0.8h-0.8zM321.8 91.5h0.9v0.9h-0.9zM325.1 185h0.7v0.7h-0.7zM321.2 42.4h1.2v1.2h-1.2zM325.4 214h0.9v0.9h-0.9zM321.7 70.2h1v1h-1zM325.3 55.7h0.8v0.8h-0.8zM321.2 134.9h1.2v1.2h-1.2zM321.8 174.7h1.1v1.1h-1.1zM321.6 184.2h0.7v0.7h-0.7zM325.4 146.7h1.3v1.3h-1.3zM324.7 124.2h1.3v1.3h-1.3zM325.1 195.2h0.6v0.6h-0.6zM343.2 58.3h0.7v0.7h-0.7zM339.5 142.4h1.3v1.3h-1.3zM339.4 198.6h0.6v0.6h-0.6zM338.8 125.4h1.2v1.2h-1.2zM342.4 62.1h0.9v0.9h-0.9zM342.7 212.7h0.9v0.9h-0.9zM343.1 60.6h0.8v0.8h-0.8zM339.5 91.1h1v1h-1zM342.5 169.3h0.8v0.8h-0.8zM338.9 167.1h0.9v0.9h-0.9zM342.5 76.2h0.6v0.6h-0.6zM342.9 198.1h1.3v1.3h-1.3zM338.9 137.6h0.9v0.9h-0.9zM342.5 52.7h0.6v0.6h-0.6zM339.3 138.7h0.9v0.9h-0.9zM342.8 120.7h0.9v0.9h-0.9zM339.1 69.6h0.9v0.9h-0.9zM342.7 103.7h0.8v0.8h-0.8zM339.4 156.4h1.2v1.2h-1.2zM343.1 211.6h1v1h-1zM338.9 90.5h0.9v0.9h-0.9zM342.8 182.1h0.9v0.9h-0.9zM338.9 170.8h1v1h-1zM342.8 71.1h1.3v1.3h-1.3zM339.6 65.3h0.9v0.9h-0.9zM342.9 135.6h1.1v1.1h-1.1zM339.3 179.4h1v1h-1zM342.5 148.7h1.2v1.2h-1.2zM342.5 119.1h1.3v1.3h-1.3zM339 197.6h1v1h-1zM339 108.8h0.6v0.6h-0.6zM339 123.1h1v1h-1zM342.4 187.1h0.6v0.6h-0.6zM339.1 121.3h0.7v0.7h-0.7zM356.6 162.6h0.9v0.9h-0.9zM360.8 138.5h0.8v0.8h-0.8zM360 42.4h1.3v1.3h-1.3zM360.5 133.5h1.1v1.1h-1.1zM356.6 96.8h1.1v1.1h-1.1zM357 199h1.1v1.1h-1.1zM360.6 71.6h1.2v1.2h-1.2zM357.1 49.3h0.8v0.8h-0.8zM357.3 135.6h1.1v1.1h-1.1zM356.6 175.1h1.1v1.1h-1.1zM360.5 86h1.1v1.1h-1.1zM357.2 127.3h0.7v0.7h-0.7zM360.3 113.3h1.1v1.1h-1.1zM356.7 173h1v1h-1zM356.6 147.8h1.3v1.3h-1.3zM360.6 44.6h0.6v0.6h-0.6zM357.1 64.8h0.7v0.7h-0.7zM356.5 87.5h1v1h-1zM356.7 213h1.1v1.1h-1.1zM360.6 196.8h0.7v0.7h-0.7zM360 187.5h0.7v0.7h-0.7zM357.3 196.5h1v1h-1zM356.7 86.8h0.7v0.7h-0.7zM356.7 114.8h0.7v0.7h-0.7zM356.6 55.3h0.8v0.8h-0.8zM357 134h0.6v0.6h-0.6zM360.9 130.4h1.2v1.2h-1.2zM356.6 134.3h1.2v1.2h-1.2zM360.3 51.7h0.7v0.7h-0.7zM360 143.9h1v1h-1zM357 79.5h0.7v0.7h-0.7zM360.4 137.8h1.1v1.1h-1.1zM374.7 116h1.1v1.1h-1.1zM374.4 187h0.6v0.6h-0.6zM374.2 43.8h0.9v0.9h-0.9zM374.8 155h1.2v1.2h-1.2zM375 193.6h0.8v0.8h-0.8zM378.1 209.8h1.2v1.2h-1.2zM378.4 54.1h1.2v1.2h-1.2zM378.4 166.5h0.8v0.8h-0.8zM374.5 174.1h0.6v0.6h-0.6zM378.3 195.6h0.7v0.7h-0.7zM378.2 79.2h0.6v0.6h-0.6zM374.6 179.1h0.7v0.7h-0.7zM378.3 137.2h1.2v1.2h-1.2zM374.8 102.2h1.3v1.3h-1.3zM374.7 70.5h0.9v0.9h-0.9zM374.3 37.8h1.1v1.1h-1.1zM378.1 88.9h1.1v1.1h-1.1zM374.8 208.1h0.8v0.8h-0.8zM374.7 64.8h0.9v0.9h-0.9zM378.3 161.3h1v1h-1zM377.8 203.7h1v1h-1zM374.5 146.4h1v1h-1zM374.5 188.8h1.2v1.2h-1.2zM374.6 113.6h0.9v0.9h-0.9zM374.2 198.4h1v1h-1zM378.3 79.9h0.8v0.8h-0.8zM377.9 136.9h0.8v0.8h-0.8zM378.4 204.7h0.8v0.8h-0.8zM375 77.7h0.8v0.8h-0.8zM378.5 190.9h1.2v1.2h-1.2zM374.8 194.6h1.2v1.2h-1.2zM374.7 47.7h0.8v0.8h-0.8zM377.8 214.3h0.8v0.8h-0.8zM378.6 59.2h0.6v0.6h-0.6zM374.9 130.9h0.6v0.6h-0.6zM378.2 100.9h0.7v0.7h-0.7zM378.1 142.4h1.2v1.2h-1.2zM378.3 162.9h1.2v1.2h-1.2zM374.6 144.2h1v1h-1zM392.4 131.9h1.3v1.3h-1.3zM392.1 183.9h1v1h-1zM392.1 201.6h1v1h-1zM395.5 89.1h0.8v0.8h-0.8zM392.1 119.6h1.3v1.3h-1.3zM392.6 118.9h0.7v0.7h-0.7zM392.5 118.4h0.9v0.9h-0.9zM392.5 166.2h0.9v0.9h-0.9zM395.6 66.8h1.1v1.1h-1.1zM396 181.9h0.8v0.8h-0.8zM395.6 199.2h1.1v1.1h-1.1zM395.5 105.2h1.1v1.1h-1.1zM396.2 176.3h1.2v1.2h-1.2zM392.4 158.4h1.2v1.2h-1.2zM396.3 162.9h0.8v0.8h-0.8zM395.5 95.5h0.7v0.7h-0.7zM392.4 65.5h1.3v1.3h-1.3zM392 160.9h0.8v0.8h-0.8zM392 47.2h1v1h-1zM395.5 74h1.2v1.2h-1.2zM392.8 120h1.1v1.1h-1.1zM392 56.9h0.6v0.6h-0.6zM392.5 138.5h0.6v0.6h-0.6zM392.4 66.7h1v1h-1zM396.2 199.4h0.7v0.7h-0.7zM395.5 189.5h1.1v1.1h-1.1zM392.4 115.8h1.2v1.2h-1.2zM392.8 207.4h1.1v1.1h-1.1zM396.3 201.7h1.3v1.3h-1.3zM395.8 133.4h0.8v0.8h-0.8zM392.4 148.1h0.6v0.6h-0.6zM395.6 60.5h1.1v1.1h-1.1zM392 38.5h0.8v0.8h-0.8zM396 113.1h1.1v1.1h-1.1zM396.1 190.8h0.6v0.6h-0.6zM395.4 179.2h0.9v0.9h-0.9zM396.1 52.9h0.8v0.8h-0.8zM395.5 70.5h1.1v1.1h-1.1zM413.2 148h1.1v1.1h-1.1zM413.9 205.7h0.8v0.8h-0.8zM413.5 114.2h1.2v1.2h-1.2zM413.9 170.3h1.2v1.2h-1.2zM413.9 57.6h0.7v0.7h-0.7zM413.6 46.2h1v1h-1zM413.9 159.6h0.7v0.7h-0.7zM413.8 41.2h0.7v0.7h-0.7zM414 94.1h1.2v1.2h-1.2zM414 185.6h0.9v0.9h-0.9zM409.9 149.6h1.2v1.2h-1.2zM413.8 65.9h1.1v1.1h-1.1zM410.5 159h0.9v0.9h-0.9zM410.2 41.6h1.1v1.1h-1.1zM409.8 130.3h0.8v0.8h-0.8zM409.7 167.8h1v1h-1zM413.5 171.2h1.1v1.1h-1.1zM413.3 113.5h0.9v0.9h-0.9zM409.9 74.8h0.7v0.7h-0.7zM409.8 80.2h1v1h-1zM413.7 148.7h0.7v0.7h-0.7zM413.9 187.5h0.8v0.8h-0.8zM410 42.1h1.2v1.2h-1.2zM410.2 73.1h1.1v1.1h-1.1zM410.3 208.5h0.8v0.8h-0.8zM410.3 149.8h0.8v0.8h-0.8zM413.8 95.2h0.8v0.8h-0.8zM413.2 182.2h1.1v1.1h-1.1zM410.1 186.1h0.7v0.7h-0.7zM410.3 106.4h0.8v0.8h-0.8zM413.6 44.1h0.8v0.8h-0.8zM410.3 69.6h0.8v0.8h-0.8zM413.2 142.9h0.6v0.6h-0.6zM413.3 191.6h1.2v1.2h-1.2zM413.1 49.3h0.8v0.8h-0.8zM410.4 143.8h1.1v1.1h-1.1zM409.8 81.3h1v1h-1zM431.5 179.6h1.1v1.1h-1.1zM427.3 167.1h1.1v1.1h-1.1zM428.1 92.9h1.2v1.2h-1.2zM430.8 183.8h1.2v1.2h-1.2zM431.3 204h1.2v1.2h-1.2zM431.4 182.8h0.9v0.9h-0.9zM431.5 130.8h0.9v0.9h-0.9zM431.3 172.8h0.8v0.8h-0.8zM427.7 58.6h1v1h-1zM430.9 154.1h1.3v1.3h-1.3zM428.1 204h0.7v0.7h-0.7zM431 66.9h0.7v0.7h-0.7zM430.9 111.6h0.6v0.6h-0.6zM427.5 92.3h0.7v0.7h-0.7zM431.5 42.9h0.7v0.7h-0.7zM427.4 150h0.6v0.6h-0.6zM427.4 60.4h1v1h-1zM430.8 59.6h0.9v0.9h-0.9zM427.9 141.7h0.9v0.9h-0.9zM427.8 153.8h0.9v0.9h-0.9zM431.5 192.4h1v1h-1zM431.6 90.3h0.9v0.9h-0.9zM427.8 125.1h1.1v1.1h-1.1zM431.4 63.3h0.9v0.9h-0.9zM430.8 172.5h0.9v0.9h-0.9zM427.6 188.3h1v1h-1zM428 94h1v1h-1zM427.4 96.6h0.8v0.8h-0.8zM427.6 47.5h1v1h-1zM427.9 102.5h1v1h-1zM430.9 71.8h1v1h-1zM427.8 129.6h1v1h-1zM427.8 86.6h1.2v1.2h-1.2zM428.2 166.6h0.8v0.8h-0.8zM431.2 122.4h0.9v0.9h-0.9zM431.1 116.9h1.3v1.3h-1.3zM428.1 71.4h0.6v0.6h-0.6zM427.5 38.1h0.9v0.9h-0.9zM431.2 90h0.7v0.7h-0.7z"/><path fill="#222" d="M427.9 55h1v1h-1zM257.6 54.6h1.3v1.3h-1.3zM395.6 54.9h1v1h-1zM341.4 55.1h1.3v1.3h-1.3zM269.4 55.2h1.1v1.1h-1.1zM246.9 51.5h0.7v0.7h-0.7zM234.9 54.8h0.9v0.9h-0.9zM312.1 50.8h0.8v0.8h-0.8zM409.3 51.2h0.8v0.8h-0.8zM294.8 55.3h0.7v0.7h-0.7zM268.5 54.7h0.9v0.9h-0.9zM410.1 51.5h1.3v1.3h-1.3zM385.8 51h1.1v1.1h-1.1zM431.3 51.4h1.1v1.1h-1.1zM217.6 51.3h1v1h-1zM213.6 54.6h1v1h-1zM234.1 55h0.8v0.8h-0.8zM373.4 51.4h1.2v1.2h-1.2zM216.9 50.8h1v1h-1zM328.9 51h1v1h-1zM248.6 51.6h0.7v0.7h-0.7zM253.6 55.1h0.8v0.8h-0.8zM345.6 50.9h0.8v0.8h-0.8zM420.7 55.2h1.1v1.1h-1.1zM215.4 51.5h1.3v1.3h-1.3zM309.3 54.8h1.3v1.3h-1.3zM298.6 50.9h0.7v0.7h-0.7zM274.5 55.2h0.9v0.9h-0.9zM222.3 55h0.9v0.9h-0.9zM283.4 51.6h1v1h-1zM304.3 51.2h0.7v0.7h-0.7zM414.1 54.4h0.7v0.7h-0.7zM247 55h0.8v0.8h-0.8zM262.3 54.4h1v1h-1zM346.4 50.8h0.9v0.9h-0.9zM402.4 50.7h1.2v1.2h-1.2zM259 51.6h0.8v0.8h-0.8zM219 54.8h1v1h-1zM437.6 55.2h1.3v1.3h-1.3zM367 50.8h1.1v1.1h-1.1zM228.2 51.3h1.2v1.2h-1.2zM212.2 54.7h1.1v1.1h-1.1zM210.7 54.5h0.6v0.6h-0.6zM429.7 55.2h1v1h-1zM389 50.7h1v1h-1zM226.8 50.7h0.8v0.8h-0.8zM252.3 51h1.1v1.1h-1.1zM286.8 54.7h1v1h-1zM230.2 54.7h0.9v0.9h-0.9zM429.2 51.2h1.2v1.2h-1.2zM393.4 51.2h0.8v0.8h-0.8zM227.9 55.3h1.2v1.2h-1.2zM210.3 54.5h1.2v1.2h-1.2zM261.9 51.4h0.9v0.9h-0.9zM420.9 72.7h1.2v1.2h-1.2zM361.2 69.2h1.1v1.1h-1.1zM210.3 68.9h1v1h-1zM268 72.5h1.3v1.3h-1.3zM239.3 68.5h0.8v0.8h-0.8zM366.9 69.1h1.2v1.2h-1.2zM318 73h0.6v0.6h-0.6zM267 72.3h0.9v0.9h-0.9zM429.4 69.1h1.1v1.1h-1.1zM300 68.8h1v1h-1zM248.5 69.3h0.7v0.7h-0.7zM270.6 68.9h1.2v1.2h-1.2zM375.6 73.1h1.3v1.3h-1.3zM414.5 69.1h0.8v0.8h-0.8zM270 68.5h0.6v0.6h-0.6zM431.3 69h1.2v1.2h-1.2zM341.7 72.7h1.2v1.2h-1.2zM301.3 72.4h1.2v1.2h-1.2zM439.5 72.8h1v1h-1zM269.7 72.2h0.9v0.9h-0.9zM240.4 72.6h0.8v0.8h-0.8zM218.4 69h1.1v1.1h-1.1zM225.1 69.1h1.1v1.1h-1.1zM323.7 68.6h0.7v0.7h-0.7zM400.3 68.6h0.7v0.7h-0.7zM357.2 72.4h1v1h-1zM210.3 73h1.1v1.1h-1.1zM391.2 68.7h1.2v1.2h-1.2zM232.9 68.6h1v1h-1zM320 72.6h0.8v0.8h-0.8zM258.3 68.5h1.3v1.3h-1.3zM268.4 69.1h1.3v1.3h-1.3zM394.8 69.4h0.7v0.7h-0.7zM241.3 69.3h0.7v0.7h-0.7zM259.6 69h1.2v1.2h-1.2zM359.2 72.5h1.2v1.2h-1.2zM228.2 72.3h1.1v1.1h-1.1zM350.8 72.7h1v1h-1zM411.7 72.2h1.1v1.1h-1.1zM243.6 68.9h1v1h-1zM320.2 73h1v1h-1zM276 72.5h0.9v0.9h-0.9zM244.1 68.9h1.2v1.2h-1.2zM416.4 72.3h1.1v1.1h-1.1zM431.7 73.1h0.7v0.7h-0.7zM427.2 72.8h1v1h-1zM261.2 72.2h0.7v0.7h-0.7zM253.8 72.3h1.1v1.1h-1.1zM217.7 69.2h0.9v0.9h-0.9zM271 68.8h0.6v0.6h-0.6zM307.1 72.4h1.1v1.1h-1.1zM255.8 68.9h0.7v0.7h-0.7zM267.3 69.2h1v1h-1zM397.7 69.2h0.8v0.8h-0.8zM230.9 68.5h1.1v1.1h-1.1zM399.7 72.3h1.2v1.2h-1.2zM422.9 69.1h1v1h-1zM333.5 72.3h1.1v1.1h-1.1zM373.9 68.5h0.9v0.9h-0.9zM277 86.5h1.3v1.3h-1.3zM379.1 86.8h0.7v0.7h-0.7zM251.8 86.9h0.8v0.8h-0.8zM346 90.8h0.7v0.7h-0.7zM380.2 86.6h1.2v1.2h-1.2zM269.2 86.8h1v1h-1zM282.6 90.2h0.8v0.8h-0.8zM358.5 86.5h1.1v1.1h-1.1zM261.3 87.2h1v1h-1zM372 87.1h1v1h-1zM382.3 86.7h1.1v1.1h-1.1zM368.7 86.9h1v1h-1zM342.3 86.6h1v1h-1zM396.2 90.2h1v1h-1zM336.5 86.4h1v1h-1zM383.9 86.4h0.7v0.7h-0.7zM412.9 90.6h1.2v1.2h-1.2zM356 90.2h0.9v0.9h-0.9zM253.7 87h0.8v0.8h-0.8zM406.9 90.2h0.7v0.7h-0.7zM291 90.5h1v1h-1zM241.8 90.2h1v1h-1zM333 90.3h0.7v0.7h-0.7zM401.7 86.7h0.9v0.9h-0.9zM299.1 86.7h1.1v1.1h-1.1zM420.2 86.6h1v1h-1zM305.3 87.2h1v1h-1zM410.6 86.9h0.9v0.9h-0.9zM252.4 87.1h0.6v0.6h-0.6zM401 86.9h1.1v1.1h-1.1zM233.4 87.2h0.8v0.8h-0.8zM264.5 86.6h0.9v0.9h-0.9zM307.9 90.5h1v1h-1zM249.3 90.2h1.2v1.2h-1.2zM286.7 90.5h0.6v0.6h-0.6zM368.3 86.5h1v1h-1zM308.2 86.7h1v1h-1zM324.2 90.4h0.9v0.9h-0.9zM392.8 86.8h1.1v1.1h-1.1zM330.3 90.9h0.7v0.7h-0.7zM414.1 86.5h1v1h-1zM244 90.8h1v1h-1zM406.8 87.2h0.8v0.8h-0.8zM424.5 90.2h1.1v1.1h-1.1zM408 90.2h0.9v0.9h-0.9zM430 86.6h1.2v1.2h-1.2zM439.3 90.4h0.8v0.8h-0.8zM270.6 90.6h0.9v0.9h-0.9zM241.2 90.1h0.8v0.8h-0.8zM385 107.8h0.8v0.8h-0.8zM254.4 108.7h0.7v0.7h-0.7zM422.5 104.4h0.7v0.7h-0.7zM232.9 104.9h0.9v0.9h-0.9zM216 108h0.9v0.9h-0.9zM381 104.1h0.7v0.7h-0.7zM280.5 107.8h1.3v1.3h-1.3zM384.7 108.6h1.3v1.3h-1.3zM252.2 104.9h0.9v0.9h-0.9zM348.6 108.4h0.6v0.6h-0.6zM325 108.1h0.8v0.8h-0.8zM302.8 104.6h1.3v1.3h-1.3zM327.3 108.2h1.3v1.3h-1.3zM237 108.1h0.9v0.9h-0.9zM374.3 104.8h1.3v1.3h-1.3zM292.6 107.8h0.7v0.7h-0.7zM210.5 105h1v1h-1zM215.3 104.7h1.1v1.1h-1.1zM426.8 108.2h0.8v0.8h-0.8zM367.4 104.6h1.2v1.2h-1.2zM283.2 108.4h0.8v0.8h-0.8zM395.1 104.9h0.7v0.7h-0.7zM275.2 108.6h0.9v0.9h-0.9zM396.3 104.4h0.7v0.7h-0.7zM356.5 104.6h0.7v0.7h-0.7zM289.2 107.8h0.8v0.8h-0.8zM236.3 104.9h1v1h-1zM222.7 108.2h0.6v0.6h-0.6zM339.2 104.6h0.6v0.6h-0.6zM281.8 104.1h0.8v0.8h-0.8zM298 104.9h0.7v0.7h-0.7zM211.6 108.4h1.2v1.2h-1.2zM431.7 108.2h0.7v0.7h-0.7zM290.4 107.9h1.3v1.3h-1.3zM247.5 108.5h1.1v1.1h-1.1zM391.7 108.2h1.2v1.2h-1.2zM433.9 104.8h1.2v1.2h-1.2zM404 107.9h0.8v0.8h-0.8zM281.5 107.9h1.1v1.1h-1.1zM222.2 104.8h0.6v0.6h-0.6zM389.6 104.2h1.1v1.1h-1.1zM227.7 108.1h0.8v0.8h-0.8zM216.3 104.3h0.9v0.9h-0.9zM213.4 108.4h0.8v0.8h-0.8zM379.9 104.3h0.8v0.8h-0.8zM375.5 108.4h0.9v0.9h-0.9zM383.6 108.3h1v1h-1zM269.7 108.4h0.9v0.9h-0.9zM367.1 104.6h0.6v0.6h-0.6zM243.8 104.6h1.2v1.2h-1.2zM314.8 104.8h1.1v1.1h-1.1zM402.2 122.6h1.2v1.2h-1.2zM367.6 122.5h0.7v0.7h-0.7zM371.2 125.8h1.2v1.2h-1.2zM314.1 126.3h0.9v0.9h-0.9zM274.3 122.3h0.7v0.7h-0.7zM290.2 122.6h0.7v0.7h-0.7zM289.1 122.7h1.2v1.2h-1.2zM369.9 122.2h1.1v1.1h-1.1zM254.3 122.5h0.8v0.8h-0.8zM389.4 125.9h1.2v1.2h-1.2zM344.8 122.4h0.7v0.7h-0.7zM414.8 125.7h1.2v1.2h-1.2zM400.8 121.9h1.2v1.2h-1.2zM380.1 126h0.7v0.7h-0.7zM379.5 122.1h0.9v0.9h-0.9zM249.7 125.6h0.7v0.7h-0.7zM312.9 125.8h1.1v1.1h-1.1zM358.6 122h0.7v0.7h-0.7zM266.5 125.7h1v1h-1zM342.2 122.5h0.7v0.7h-0.7zM240.9 126.4h0.7v0.7h-0.7zM401.1 122.4h0.9v0.9h-0.9zM307.4 126.3h1.1v1.1h-1.1zM407.5 122.1h1v1h-1zM439.5 126.2h1v1h-1zM278.9 122.8h0.7v0.7h-0.7zM248.7 125.9h1.1v1.1h-1.1zM248.1 126.3h0.9v0.9h-0.9zM412 126.4h1.2v1.2h-1.2zM299.1 122.3h0.7v0.7h-0.7zM367 125.6h0.9v0.9h-0.9zM257.4 121.9h0.7v0.7h-0.7zM398.5 125.8h0.9v0.9h-0.9zM298.9 126.5h0.8v0.8h-0.8zM233.7 126.4h1v1h-1zM388.2 122.4h1.3v1.3h-1.3zM304.8 125.6h1.2v1.2h-1.2zM383 122.2h0.6v0.6h-0.6zM407.5 122.1h0.9v0.9h-0.9zM213.6 122.3h1.2v1.2h-1.2zM353.7 125.7h1.1v1.1h-1.1zM274.5 122.5h1v1h-1zM259.4 122.3h1.3v1.3h-1.3zM267.5 126.2h0.9v0.9h-0.9zM400.2 126.4h1.2v1.2h-1.2zM273.6 126h1.3v1.3h-1.3zM252.8 125.8h1.3v1.3h-1.3zM250.7 125.9h1.3v1.3h-1.3zM415.9 122.7h0.7v0.7h-0.7zM410.3 122.6h0.7v0.7h-0.7zM278.3 140.3h0.6v0.6h-0.6zM353.1 143.9h1v1h-1zM332.8 140.5h1.1v1.1h-1.1zM425.4 143.9h1.3v1.3h-1.3zM384.3 144.2h0.6v0.6h-0.6zM392.9 143.8h0.7v0.7h-0.7zM224.3 143.5h1v1h-1zM345.9 143.6h0.9v0.9h-0.9zM438.7 140.1h1.2v1.2h-1.2zM230.8 143.7h0.9v0.9h-0.9zM409.4 140.3h0.9v0.9h-0.9zM219.8 144.3h0.6v0.6h-0.6zM409.1 140.5h1.1v1.1h-1.1zM337.3 140.3h1.2v1.2h-1.2zM277.9 144.1h1.1v1.1h-1.1zM377.1 139.8h1.1v1.1h-1.1zM299.8 139.9h1v1h-1zM212.5 140.1h1v1h-1zM223.5 140h0.7v0.7h-0.7zM424.9 143.6h0.8v0.8h-0.8zM385.3 144.3h0.7v0.7h-0.7zM217 140.3h1.2v1.2h-1.2zM294.2 143.4h0.9v0.9h-0.9zM309.5 140.4h1.2v1.2h-1.2zM368.7 143.6h1.1v1.1h-1.1zM340.1 143.7h0.6v0.6h-0.6zM296.5 140.4h0.9v0.9h-0.9zM216.8 144.1h1.3v1.3h-1.3zM364.9 139.9h0.9v0.9h-0.9zM420.1 143.8h0.9v0.9h-0.9zM272.2 143.8h1.1v1.1h-1.1zM397.2 139.8h1v1h-1zM242.9 144.1h0.9v0.9h-0.9zM426 143.6h1.2v1.2h-1.2zM225.5 140.3h0.7v0.7h-0.7zM342 140.2h0.9v0.9h-0.9zM284.2 144.2h0.8v0.8h-0.8zM330.5 143.9h1.2v1.2h-1.2zM269.8 144.2h0.6v0.6h-0.6zM377.9 143.4h0.8v0.8h-0.8zM220.5 144.1h0.8v0.8h-0.8zM379.7 140.4h1v1h-1zM370.2 143.5h0.9v0.9h-0.9zM248.1 144.2h0.8v0.8h-0.8zM305.3 139.8h1.2v1.2h-1.2zM353.7 139.7h1.2v1.2h-1.2zM389.2 158.1h1v1h-1zM285.4 162h1.1v1.1h-1.1zM394.1 161.4h0.7v0.7h-0.7zM239.2 157.9h1v1h-1zM328.8 161.4h0.8v0.8h-0.8zM429.4 158.3h0.8v0.8h-0.8zM351 161.4h0.9v0.9h-0.9zM372.5 157.9h1.1v1.1h-1.1zM362.4 158.3h0.9v0.9h-0.9zM422 161.8h1.3v1.3h-1.3zM225.9 161.8h0.8v0.8h-0.8zM344.1 161.2h0.9v0.9h-0.9zM307.7 161.2h0.6v0.6h-0.6zM215.9 157.9h1.1v1.1h-1.1zM333.3 161.8h1.3v1.3h-1.3zM240.9 158.3h1.1v1.1h-1.1zM273.5 161.3h0.8v0.8h-0.8zM397.1 157.9h0.8v0.8h-0.8zM389.3 162h0.9v0.9h-0.9zM251.5 157.9h0.8v0.8h-0.8zM378.2 158.1h0.9v0.9h-0.9zM266.1 161.8h0.9v0.9h-0.9zM303.5 158.3h0.9v0.9h-0.9zM266.2 158.1h0.8v0.8h-0.8zM212.8 158.4h0.7v0.7h-0.7zM419.3 157.8h1.2v1.2h-1.2zM307.6 158.2h1.1v1.1h-1.1zM251.8 162.1h0.7v0.7h-0.7zM385.7 162.1h0.9v0.9h-0.9zM234.2 161.9h0.9v0.9h-0.9zM422.5 161.6h0.8v0.8h-0.8zM233.3 157.8h0.7v0.7h-0.7zM301.3 161.8h1.2v1.2h-1.2zM299.4 161.5h0.9v0.9h-0.9zM259.6 161.9h1.1v1.1h-1.1zM382 157.6h1v1h-1zM325.4 161.5h0.8v0.8h-0.8zM232.7 157.7h0.7v0.7h-0.7zM329.7 161.6h1v1h-1zM309.5 162h1.2v1.2h-1.2zM294.1 162h1.2v1.2h-1.2zM313.1 158h0.9v0.9h-0.9zM321.7 158.4h0.9v0.9h-0.9zM325.3 158.3h1.2v1.2h-1.2zM242.2 157.9h0.7v0.7h-0.7zM275.3 161.6h1.2v1.2h-1.2zM377 161.6h1.2v1.2h-1.2zM423.4 157.7h1v1h-1zM276.2 175.7h0.7v0.7h-0.7zM340.3 175.6h0.9v0.9h-0.9zM327.8 175.8h0.9v0.9h-0.9zM298.4 179.5h0.9v0.9h-0.9zM273.8 179.4h0.8v0.8h-0.8zM292.5 175.4h0.8v0.8h-0.8zM330.8 176.2h0.6v0.6h-0.6zM311.8 175.8h1.3v1.3h-1.3zM400.7 175.9h0.9v0.9h-0.9zM301.1 175.5h1.1v1.1h-1.1zM231.9 176.1h0.8v0.8h-0.8zM291.4 179h0.9v0.9h-0.9zM262.2 179.7h0.8v0.8h-0.8zM359.1 179.1h0.6v0.6h-0.6zM355.5 175.9h0.7v0.7h-0.7zM216.7 175.8h0.8v0.8h-0.8zM341.1 179.8h1.2v1.2h-1.2zM372.9 176.2h0.9v0.9h-0.9zM344.4 176h1.2v1.2h-1.2zM256.8 176.1h0.9v0.9h-0.9zM388.1 175.8h1.1v1.1h-1.1zM322.3 179h0.7v0.7h-0.7zM364.3 179.2h0.7v0.7h-0.7zM405.3 179h1.2v1.2h-1.2zM349.5 179.8h1.2v1.2h-1.2zM275.7 176.1h0.6v0.6h-0.6zM266.8 175.3h1v1h-1zM349.1 176.2h1.2v1.2h-1.2zM251.1 179.4h1v1h-1zM308.1 176.2h1v1h-1zM238.8 175.6h1.1v1.1h-1.1zM255.6 176.2h1.2v1.2h-1.2zM226.8 175.6h0.8v0.8h-0.8zM389.2 176.2h1.1v1.1h-1.1zM366.9 179.2h0.9v0.9h-0.9zM404.3 179.5h1.2v1.2h-1.2zM436.5 179.8h1.1v1.1h-1.1zM369.3 179.4h0.7v0.7h-0.7zM281.4 179.2h1.2v1.2h-1.2zM404.4 175.9h1.1v1.1h-1.1zM287.1 175.6h0.6v0.6h-0.6zM218.4 179.6h1.3v1.3h-1.3zM327.1 179.4h1.2v1.2h-1.2zM215.7 179.8h1.1v1.1h-1.1zM241.2 197.4h0.9v0.9h-0.9zM309.8 197.1h0.6v0.6h-0.6zM285.8 193.5h1.3v1.3h-1.3zM211 193.8h1v1h-1zM357.1 193.4h1v1h-1zM345.6 193.9h1.1v1.1h-1.1zM362.2 196.9h0.7v0.7h-0.7zM298.4 194h1.3v1.3h-1.3zM416.2 197.1h1.2v1.2h-1.2zM363.2 197.3h1.2v1.2h-1.2zM362.1 197.4h1.3v1.3h-1.3zM266.1 197.5h1v1h-1zM221.8 193.7h1.2v1.2h-1.2zM235.5 193.5h0.9v0.9h-0.9zM296.1 197.4h1.1v1.1h-1.1zM311.4 193.1h1.3v1.3h-1.3zM359.5 193.9h1v1h-1zM302.2 196.8h1.1v1.1h-1.1zM354.6 193.2h1v1h-1zM358.8 193.6h1v1h-1zM420.5 193.2h1.1v1.1h-1.1zM262.6 193.9h1v1h-1zM310.1 196.9h0.6v0.6h-0.6zM366.3 197.4h1v1h-1zM246.7 193.9h1v1h-1zM293.2 193.8h1.1v1.1h-1.1zM376.4 197h1.2v1.2h-1.2zM333.6 193.4h1.1v1.1h-1.1zM368.3 197.5h1.2v1.2h-1.2zM367.4 193.4h0.7v0.7h-0.7zM423.2 193.7h1v1h-1zM210.7 197.3h0.9v0.9h-0.9zM249.2 193.7h0.7v0.7h-0.7zM353.6 193.7h1.3v1.3h-1.3zM300.2 193.4h0.7v0.7h-0.7zM290.1 193.9h0.8v0.8h-0.8zM382.4 197.3h0.8v0.8h-0.8zM288.6 197.6h1.2v1.2h-1.2zM366.4 193.9h1.2v1.2h-1.2zM234.3 196.9h1v1h-1zM263.8 197.2h1.1v1.1h-1.1zM339.4 193.4h0.9v0.9h-0.9zM314.1 197.4h0.7v0.7h-0.7zM372.5 193.4h0.7v0.7h-0.7zM368.3 193.3h0.6v0.6h-0.6zM416.4 196.8h0.8v0.8h-0.8zM251.7 194h1.3v1.3h-1.3zM231.5 196.9h0.6v0.6h-0.6zM239.2 193.7h0.9v0.9h-0.9zM219.1 126.4h0.7v0.7h-0.7zM215.5 165.9h1v1h-1zM219.2 144.6h1.2v1.2h-1.2zM215.4 189.2h0.8v0.8h-0.8zM215 89.1h0.8v0.8h-0.8zM215.3 171.9h0.8v0.8h-0.8zM214.9 143.2h1v1h-1zM215.6 169.5h1v1h-1zM219 208.9h1.1v1.1h-1.1zM218.5 204.4h0.8v0.8h-0.8zM215.7 70.9h1.1v1.1h-1.1zM218.8 178.3h1.1v1.1h-1.1zM218.7 152.8h0.8v0.8h-0.8zM215.6 38h0.7v0.7h-0.7zM215.1 159.5h1v1h-1zM218.8 102.7h0.9v0.9h-0.9zM218.7 65.2h0.8v0.8h-0.8zM219.1 102.8h0.7v0.7h-0.7zM218.6 182.4h0.7v0.7h-0.7zM215.5 51.3h0.9v0.9h-0.9zM219.2 79.9h0.8v0.8h-0.8zM218.5 212.8h1v1h-1zM215.8 159.2h1.2v1.2h-1.2zM219.1 131.4h1.2v1.2h-1.2zM218.7 158.7h1v1h-1zM215.1 138.1h0.6v0.6h-0.6zM218.9 199.3h1v1h-1zM215.3 80.7h1.3v1.3h-1.3zM218.4 37.9h1v1h-1zM218.7 166h1.1v1.1h-1.1zM219 48.3h0.6v0.6h-0.6zM215.5 207.3h0.7v0.7h-0.7zM214.9 140.9h0.9v0.9h-0.9zM219.2 181.6h0.8v0.8h-0.8zM215.5 141.7h1.1v1.1h-1.1zM219.3 162h0.9v0.9h-0.9zM233.2 136.8h1v1h-1zM236.6 50.5h1.1v1.1h-1.1zM236.2 66.1h1v1h-1zM233.3 179.8h1.2v1.2h-1.2zM233.4 198.8h1.2v1.2h-1.2zM236.6 116.7h0.7v0.7h-0.7zM236.6 88.8h0.7v0.7h-0.7zM236.9 156h1v1h-1zM236.8 95.5h0.7v0.7h-0.7zM233.2 122.6h0.7v0.7h-0.7zM236.7 54.8h0.9v0.9h-0.9zM232.9 100.2h0.9v0.9h-0.9zM236.7 176.7h0.7v0.7h-0.7zM236.7 155.5h1.2v1.2h-1.2zM236.1 161.6h0.6v0.6h-0.6zM233.3 58.9h0.7v0.7h-0.7zM232.9 70.3h1.2v1.2h-1.2zM236.9 179.8h1v1h-1zM233.4 112.2h0.7v0.7h-0.7zM233.4 207.2h1v1h-1zM236.7 205.3h0.8v0.8h-0.8zM233.5 125.2h1.2v1.2h-1.2zM236.7 107.2h1.1v1.1h-1.1zM236.7 208.7h0.8v0.8h-0.8zM233.4 118.2h0.8v0.8h-0.8zM232.9 47.1h0.9v0.9h-0.9zM233.3 60.5h1.3v1.3h-1.3zM233.4 89.8h1v1h-1zM232.6 35.9h0.8v0.8h-0.8zM236.4 37.1h1v1h-1zM233.5 47.6h0.9v0.9h-0.9zM251.1 212.9h1v1h-1zM250.8 68.7h1.3v1.3h-1.3zM251 86.7h1.1v1.1h-1.1zM251 44.3h1v1h-1zM254.3 185.2h1.3v1.3h-1.3zM250.8 157.4h0.8v0.8h-0.8zM254.3 69.3h0.9v0.9h-0.9zM254.1 81.1h0.8v0.8h-0.8zM250.6 133h0.6v0.6h-0.6zM254.6 135.8h1.3v1.3h-1.3zM254.3 132.2h1.1v1.1h-1.1zM250.8 90.7h0.8v0.8h-0.8zM253.9 126.4h0.8v0.8h-0.8zM254.4 124.3h0.6v0.6h-0.6zM251.2 98.1h1.2v1.2h-1.2zM253.9 133.9h0.8v0.8h-0.8zM254.6 209.5h1.2v1.2h-1.2zM254.3 199.7h0.9v0.9h-0.9zM254.1 121.4h1v1h-1zM254.6 109.7h0.9v0.9h-0.9zM254.3 57.7h1.2v1.2h-1.2zM250.4 201.1h1.1v1.1h-1.1zM250.7 193.2h0.7v0.7h-0.7zM253.9 115.7h1v1h-1zM250.8 118.7h0.6v0.6h-0.6zM250.6 92.3h0.8v0.8h-0.8zM250.6 205.3h0.8v0.8h-0.8zM254.3 158.1h0.8v0.8h-0.8zM250.5 168.1h1.1v1.1h-1.1zM254 38.9h1.2v1.2h-1.2zM254.1 205.3h0.7v0.7h-0.7zM254.6 101.8h0.7v0.7h-0.7zM254.2 205.9h0.8v0.8h-0.8zM254.6 142.2h0.8v0.8h-0.8zM254.5 172.8h1.2v1.2h-1.2zM254.2 130.3h1.1v1.1h-1.1zM254.4 78.2h0.9v0.9h-0.9zM250.5 73.6h1.1v1.1h-1.1zM250.6 75.2h1v1h-1zM251.1 45h0.6v0.6h-0.6zM268.2 128.4h0.7v0.7h-0.7zM268.1 42.8h0.8v0.8h-0.8zM268.1 148.6h1.2v1.2h-1.2zM268.6 135.8h1.3v1.3h-1.3zM272.1 116.6h1v1h-1zM271.7 172.3h0.9v0.9h-0.9zM271.5 82.8h1.3v1.3h-1.3zM268.5 126.6h1.2v1.2h-1.2zM268.2 178.6h0.9v0.9h-0.9zM272 152.7h0.8v0.8h-0.8zM271.7 151.6h1.3v1.3h-1.3zM272.2 208.1h1.1v1.1h-1.1zM272.1 84.1h0.7v0.7h-0.7zM271.5 104.9h1.1v1.1h-1.1zM268.1 99.9h0.8v0.8h-0.8zM271.9 165.4h1.1v1.1h-1.1zM268.1 60.1h0.6v0.6h-0.6zM268.1 174h0.6v0.6h-0.6zM268.3 82.1h0.9v0.9h-0.9zM271.9 109.5h0.6v0.6h-0.6zM268.3 61.5h1.1v1.1h-1.1zM268.7 179.9h1.2v1.2h-1.2zM271.8 172.1h1v1h-1zM268.8 126.3h1.1v1.1h-1.1zM268.2 161.4h1.2v1.2h-1.2zM268.3 119.3h1.3v1.3h-1.3zM268.4 172.5h1.1v1.1h-1.1zM271.9 132.7h0.8v0.8h-0.8zM268.3 139h1.3v1.3h-1.3zM268 127h1.2v1.2h-1.2zM268.1 178.9h1.1v1.1h-1.1zM268.5 113.6h1.1v1.1h-1.1zM271.5 37.3h0.9v0.9h-0.9zM268.8 78.3h1.1v1.1h-1.1zM272.2 145.2h0.8v0.8h-0.8zM271.6 123.2h1.3v1.3h-1.3zM271.6 145.7h1.1v1.1h-1.1zM268.3 57h0.9v0.9h-0.9zM271.7 124.4h0.8v0.8h-0.8zM271.8 174.7h1.1v1.1h-1.1zM286.4 183.8h1.3v1.3h-1.3zM285.9 54.3h1.3v1.3h-1.3zM289.9 38.3h0.9v0.9h-0.9zM286.4 193.1h1.1v1.1h-1.1zM289.3 103.2h1.2v1.2h-1.2zM289.8 84h0.6v0.6h-0.6zM289.7 169.6h1.2v1.2h-1.2zM289.8 119h1.3v1.3h-1.3zM286.1 127.3h1.1v1.1h-1.1zM286.3 154.9h1v1h-1zM286.2 213.4h1.3v1.3h-1.3zM289.3 118.8h1.2v1.2h-1.2zM286 91.9h0.6v0.6h-0.6zM289.8 58.4h0.6v0.6h-0.6zM289.9 136.4h0.7v0.7h-0.7zM285.8 54.4h1v1h-1zM285.8 167.3h0.7v0.7h-0.7zM289.6 104.5h1.1v1.1h-1.1zM289.2 157.1h1v1h-1zM289.8 107.1h1.3v1.3h-1.3zM290 205.6h1v1h-1zM286.6 157.1h0.7v0.7h-0.7zM286.2 80.5h1v1h-1zM289.4 199.2h0.7v0.7h-0.7zM286.1 168.3h0.9v0.9h-0.9zM289.4 55.2h0.9v0.9h-0.9zM289.2 66.2h0.6v0.6h-0.6zM289.9 123.4h1.2v1.2h-1.2zM290 114.2h1.3v1.3h-1.3zM289.3 193.4h1.1v1.1h-1.1zM289.3 154.7h1.1v1.1h-1.1zM286.6 161.6h0.6v0.6h-0.6zM289.9 169.7h0.7v0.7h-0.7zM289.3 50h1.1v1.1h-1.1zM286.4 51.7h1.3v1.3h-1.3zM289.4 94.5h0.8v0.8h-0.8zM286.6 56.2h1.1v1.1h-1.1zM285.8 152.2h0.6v0.6h-0.6zM289.2 115.4h0.7v0.7h-0.7zM286 55.8h1v1h-1zM289.5 67.8h1.3v1.3h-1.3zM286.1 80.2h0.6v0.6h-0.6zM289.9 186.3h0.9v0.9h-0.9zM289.7 211.6h0.9v0.9h-0.9zM286.5 191h0.6v0.6h-0.6zM307 112.9h1.3v1.3h-1.3zM304 148.1h0.7v0.7h-0.7zM303.9 207.2h1.1v1.1h-1.1zM307.7 121.5h0.7v0.7h-0.7zM303.6 74.3h0.8v0.8h-0.8zM303.6 91.2h0.6v0.6h-0.6zM307.2 94.6h0.9v0.9h-0.9zM307.3 169.3h0.8v0.8h-0.8zM303.7 122.9h1v1h-1zM303.5 45.6h0.6v0.6h-0.6zM303.4 41.9h0.9v0.9h-0.9zM303.7 117.5h0.9v0.9h-0.9zM303.5 210.7h0.8v0.8h-0.8zM304.3 61.8h1.2v1.2h-1.2zM304.1 158h1.3v1.3h-1.3zM307.7 167.8h0.8v0.8h-0.8zM303.4 36.5h1.1v1.1h-1.1zM307.3 159.5h0.9v0.9h-0.9zM303.7 62.1h1.2v1.2h-1.2zM303.8 156.7h0.6v0.6h-0.6zM307.8 69.6h1.1v1.1h-1.1zM303.6 55.2h0.6v0.6h-0.6zM303.6 62.4h1.1v1.1h-1.1zM303.5 106.5h0.7v0.7h-0.7zM303.8 84.4h0.7v0.7h-0.7zM307.2 95.8h1.2v1.2h-1.2zM307.2 168.7h1.2v1.2h-1.2zM307.4 208.5h0.7v0.7h-0.7zM303.9 107.1h0.8v0.8h-0.8zM307 189.8h1v1h-1zM304 125.1h1.1v1.1h-1.1zM303.4 125h1.2v1.2h-1.2zM304.2 150.8h1.1v1.1h-1.1zM306.9 108.1h0.7v0.7h-0.7zM307.3 145.4h0.8v0.8h-0.8zM303.7 135.7h1.2v1.2h-1.2zM304 147.6h0.8v0.8h-0.8zM321.1 80.8h1.3v1.3h-1.3zM321.5 63.2h0.7v0.7h-0.7zM321.5 166h0.9v0.9h-0.9zM324.9 117.7h1.1v1.1h-1.1zM325.3 200.4h1.3v1.3h-1.3zM321.8 137.7h0.8v0.8h-0.8zM321.6 68.5h1.3v1.3h-1.3zM324.9 106.9h0.7v0.7h-0.7zM321.9 121.8h1.2v1.2h-1.2zM325.1 106.9h0.7v0.7h-0.7zM321.8 123.7h0.8v0.8h-0.8zM325.2 130.9h0.7v0.7h-0.7zM321.9 170.2h0.8v0.8h-0.8zM321.8 60.7h1.2v1.2h-1.2zM321.8 168.8h0.7v0.7h-0.7zM321.9 90.3h0.9v0.9h-0.9zM321.6 118.4h0.6v0.6h-0.6zM325.2 129h0.8v0.8h-0.8zM321.4 129.7h1v1h-1zM325.4 143.6h1.1v1.1h-1.1zM321.4 157h0.6v0.6h-0.6zM321.3 164.6h0.7v0.7h-0.7zM325.4 109.4h0.9v0.9h-0.9zM325.3 80.9h1.1v1.1h-1.1zM324.7 168.2h1v1h-1zM321.8 85.5h0.8v0.8h-0.8zM321.4 68.6h0.9v0.9h-0.9zM322 125.8h1v1h-1zM324.9 41.5h1v1h-1zM321.5 150.6h0.7v0.7h-0.7zM321.9 143h1v1h-1zM325 132.4h0.6v0.6h-0.6zM321.5 184.7h1.2v1.2h-1.2zM321.2 190.4h1v1h-1zM321.9 139.5h1.2v1.2h-1.2zM339.6 122h0.9v0.9h-0.9zM343 186.1h0.8v0.8h-0.8zM343 46.3h0.9v0.9h-0.9zM339.4 72.1h0.8v0.8h-0.8zM339.7 96.1h0.9v0.9h-0.9zM342.3 101.9h1v1h-1zM342.9 127.2h1.2v1.2h-1.2zM343.1 157.6h0.9v0.9h-0.9zM342.5 191h1.1v1.1h-1.1zM343.2 56h1.1v1.1h-1.1zM342.5 147.6h1.1v1.1h-1.1zM339.1 52.4h0.9v0.9h-0.9zM343 182.4h1.3v1.3h-1.3zM339.6 44.7h1v1h-1zM342.5 124.8h0.9v0.9h-0.9zM339.5 206.5h0.7v0.7h-0.7zM342.5 117.8h0.9v0.9h-0.9zM339.1 107.4h0.9v0.9h-0.9zM339.6 64.2h1.3v1.3h-1.3zM338.9 56.8h1v1h-1zM342.5 207.8h1.2v1.2h-1.2zM339.7 55.7h0.7v0.7h-0.7zM339.3 86h0.8v0.8h-0.8zM339.3 179.2h0.9v0.9h-0.9zM342.6 53.6h1.1v1.1h-1.1zM343 190.2h1.3v1.3h-1.3zM342.8 174.1h0.9v0.9h-0.9zM343.1 70.8h1v1h-1zM339.1 50.7h0.9v0.9h-0.9zM339.5 190.5h1.2v1.2h-1.2zM339.7 182.3h0.7v0.7h-0.7zM342.7 141.5h1v1h-1zM342.9 39.1h1.1v1.1h-1.1zM338.9 121.6h1v1h-1zM339.1 207.8h1.3v1.3h-1.3zM342.3 83.1h0.9v0.9h-0.9zM342.7 172h1.1v1.1h-1.1zM338.9 159.2h1.2v1.2h-1.2zM360.3 196.8h0.8v0.8h-0.8zM360.7 179.6h1.2v1.2h-1.2zM356.6 157.9h0.6v0.6h-0.6zM360.1 35.8h0.7v0.7h-0.7zM356.7 89.2h0.6v0.6h-0.6zM356.9 143h1v1h-1zM356.9 102.5h0.9v0.9h-0.9zM357 172.6h0.8v0.8h-0.8zM360.3 142.2h0.8v0.8h-0.8zM360.1 57.7h0.8v0.8h-0.8zM360.1 176.9h0.8v0.8h-0.8zM357.1 115.4h0.7v0.7h-0.7zM360.9 45.1h0.8v0.8h-0.8zM356.5 201.3h0.9v0.9h-0.9zM360.7 40.4h0.6v0.6h-0.6zM360.8 51.7h0.7v0.7h-0.7zM357.4 108.1h1.1v1.1h-1.1zM360.2 162.4h1v1h-1zM356.9 198.7h1v1h-1zM357.2 90.3h1.1v1.1h-1.1zM356.8 152.6h0.6v0.6h-0.6zM356.8 207.6h1v1h-1zM357.2 138.8h1.1v1.1h-1.1zM360.1 82.9h1.2v1.2h-1.2zM360.3 44.7h1.2v1.2h-1.2zM360.2 204.3h0.9v0.9h-0.9zM356.6 80h0.7v0.7h-0.7zM360.3 179.8h0.7v0.7h-0.7zM356.7 155.9h0.7v0.7h-0.7zM360 167.6h0.9v0.9h-0.9zM356.7 52.2h0.8v0.8h-0.8zM357 57.2h0.6v0.6h-0.6zM357.4 78.1h0.8v0.8h-0.8zM360.8 109h0.7v0.7h-0.7zM360.8 62h1.2v1.2h-1.2zM360.8 187.9h1v1h-1zM360.7 209.9h0.7v0.7h-0.7zM356.6 94.6h1v1h-1zM356.8 61.2h0.8v0.8h-0.8zM360.7 148.1h1v1h-1zM356.5 165.2h0.7v0.7h-0.7zM356.7 114.4h0.8v0.8h-0.8zM356.5 206.3h1.1v1.1h-1.1zM356.7 195.6h1v1h-1zM360.4 119.4h1.1v1.1h-1.1zM374.2 168.1h1.2v1.2h-1.2zM377.8 85h0.9v0.9h-0.9zM374.8 150h0.7v0.7h-0.7zM378.3 190.4h0.8v0.8h-0.8zM378.4 102.1h0.7v0.7h-0.7zM374.6 180.8h1v1h-1zM374.7 68.5h1.2v1.2h-1.2zM377.8 87.3h0.8v0.8h-0.8zM378.5 126.9h0.6v0.6h-0.6zM374.7 165.5h0.7v0.7h-0.7zM374.8 81.9h1.2v1.2h-1.2zM374.4 73.5h1.2v1.2h-1.2zM378.3 53.1h0.6v0.6h-0.6zM378.1 198.5h0.7v0.7h-0.7zM377.8 44.3h0.7v0.7h-0.7zM374.4 48.4h0.6v0.6h-0.6zM377.9 130.2h0.7v0.7h-0.7zM374.6 165.9h1.1v1.1h-1.1zM378.3 74h0.9v0.9h-0.9zM378.5 139.5h0.9v0.9h-0.9zM378.2 107.6h1.1v1.1h-1.1zM374.2 159.9h1.3v1.3h-1.3zM374.6 52.7h1.2v1.2h-1.2zM378.4 53.4h1v1h-1zM378.1 106h0.7v0.7h-0.7zM375.1 214.8h0.7v0.7h-0.7zM378.1 179h0.6v0.6h-0.6zM374.8 209h0.9v0.9h-0.9zM374.6 170.4h0.8v0.8h-0.8zM374.4 74.5h0.7v0.7h-0.7zM374.8 84.4h1.2v1.2h-1.2zM377.8 139.9h1.2v1.2h-1.2zM378.1 39.7h0.8v0.8h-0.8zM374.2 191.3h0.7v0.7h-0.7zM374.3 163.7h0.7v0.7h-0.7zM378.3 85.4h0.8v0.8h-0.8zM374.5 171.8h0.7v0.7h-0.7zM378.1 74.2h0.7v0.7h-0.7zM375.1 150.8h1v1h-1zM396.1 97.6h1v1h-1zM395.6 49.6h1.3v1.3h-1.3zM395.8 116h1.1v1.1h-1.1zM396 179.5h1.2v1.2h-1.2zM395.5 159.1h1.2v1.2h-1.2zM392 79.2h0.9v0.9h-0.9zM392.5 150.2h0.9v0.9h-0.9zM392.8 167.7h0.6v0.6h-0.6zM392.1 134.9h1v1h-1zM392.8 111.9h0.6v0.6h-0.6zM396.1 100.5h0.9v0.9h-0.9zM395.9 119.4h0.9v0.9h-0.9zM392.6 158.4h0.9v0.9h-0.9zM392.4 205.6h1v1h-1zM392.4 157.6h0.7v0.7h-0.7zM392.4 64.1h1.1v1.1h-1.1zM392.2 36.2h1.2v1.2h-1.2zM392.2 69.8h1v1h-1zM392.5 42.4h0.9v0.9h-0.9zM392.5 79.8h0.6v0.6h-0.6zM392 44.3h0.9v0.9h-0.9zM395.9 204.4h0.6v0.6h-0.6zM396 192.8h1.3v1.3h-1.3zM392.4 138.5h0.8v0.8h-0.8zM391.9 102.2h1.2v1.2h-1.2zM392.2 171.2h1.3v1.3h-1.3zM396.1 117.4h0.7v0.7h-0.7zM392.4 181h1v1h-1zM395.5 40.5h1.2v1.2h-1.2zM410.1 47.1h0.9v0.9h-0.9zM409.9 66.2h1.1v1.1h-1.1zM410.4 49.8h1.1v1.1h-1.1zM413.4 214.3h1.1v1.1h-1.1zM413.3 190h0.6v0.6h-0.6zM409.6 132.9h1.2v1.2h-1.2zM410.2 97.4h1.3v1.3h-1.3zM413.7 152h0.7v0.7h-0.7zM413.7 162.9h0.6v0.6h-0.6zM413.7 149.1h0.7v0.7h-0.7zM410.4 121.6h1.2v1.2h-1.2zM413.9 157.3h1.1v1.1h-1.1zM410 185.6h1.1v1.1h-1.1zM409.8 85.4h1.1v1.1h-1.1zM413.3 39.4h0.8v0.8h-0.8zM410.1 50.5h0.7v0.7h-0.7zM413.7 77.4h0.8v0.8h-0.8zM410.2 90.8h1.3v1.3h-1.3zM413.5 198.6h0.8v0.8h-0.8zM413.8 72.4h0.8v0.8h-0.8zM413.8 125.8h0.9v0.9h-0.9zM410.1 177.2h1.1v1.1h-1.1zM410.3 54.2h1.1v1.1h-1.1zM413.8 62.6h1v1h-1zM409.8 133.1h0.7v0.7h-0.7zM409.7 70.7h0.9v0.9h-0.9zM413.4 112.6h0.8v0.8h-0.8zM410 198h0.8v0.8h-0.8zM413.2 95.2h0.9v0.9h-0.9zM410.3 102.9h1.2v1.2h-1.2zM413.9 164.2h1.2v1.2h-1.2zM409.8 120.2h0.8v0.8h-0.8zM413.9 171.4h1v1h-1zM410.4 133h1v1h-1zM413.6 83.2h1.2v1.2h-1.2zM410.3 36.1h0.7v0.7h-0.7zM410.3 73.9h1.2v1.2h-1.2zM413.8 157.2h1v1h-1zM413.9 206.2h1.2v1.2h-1.2zM409.7 182.7h1.2v1.2h-1.2zM413.1 196.6h0.9v0.9h-0.9zM428 39.5h1.1v1.1h-1.1zM431 60h0.9v0.9h-0.9zM431.3 52.8h1.1v1.1h-1.1zM428 167.6h0.7v0.7h-0.7zM431.5 126.3h0.9v0.9h-0.9zM427.7 178.2h1v1h-1zM431.6 133.6h0.9v0.9h-0.9zM431.5 84.1h0.8v0.8h-0.8zM431 65.1h1.1v1.1h-1.1zM427.4 136.6h1v1h-1zM431.7 161.7h0.8v0.8h-0.8zM427.9 114.3h0.7v0.7h-0.7zM431.4 45.7h1.1v1.1h-1.1zM431.7 66.4h1v1h-1zM430.8 64.4h1.2v1.2h-1.2zM431.5 70h0.7v0.7h-0.7zM431 67h0.9v0.9h-0.9zM431.7 60.3h1.2v1.2h-1.2zM431.6 78.6h1v1h-1zM431.3 113.8h0.7v0.7h-0.7zM431.5 64.7h1.3v1.3h-1.3zM431.4 117.3h1.1v1.1h-1.1zM431.4 196.2h1v1h-1zM427.9 166.4h1.1v1.1h-1.1zM431.6 90.9h1v1h-1zM431.5 200.8h0.8v0.8h-0.8zM431.5 49.8h1.1v1.1h-1.1zM430.9 83.8h0.9v0.9h-0.9zM428 43.7h1.2v1.2h-1.2zM427.5 207.7h0.8v0.8h-0.8zM427.8 126.3h1.1v1.1h-1.1z"/><path fill="#6a4a14" d="M216.2 52.1h2.8v2.8h-2.8zM216.3 69.7h2.8v2.8h-2.8zM215.7 87.1h2.8v2.8h-2.8zM216.4 105.4h2.8v2.8h-2.8zM216.3 123.1h2.8v2.8h-2.8zM216.3 140.6h2.8v2.8h-2.8zM216 158.4h2.8v2.8h-2.8zM215.8 176.3h2.8v2.8h-2.8zM216.1 194.5h2.8v2.8h-2.8zM233.7 52.1h2.8v2.8h-2.8zM233.6 69.4h2.8v2.8h-2.8zM233.7 87.2h2.8v2.8h-2.8zM233.9 105.1h2.8v2.8h-2.8zM233.9 123.3h2.8v2.8h-2.8zM234 140.7h2.8v2.8h-2.8zM233.5 158.4h2.8v2.8h-2.8zM233.7 176.4h2.8v2.8h-2.8zM233.7 194.1h2.8v2.8h-2.8zM251.2 52h2.8v2.8h-2.8zM251.5 69.8h2.8v2.8h-2.8zM251.2 87.4h2.8v2.8h-2.8zM251.4 105.3h2.8v2.8h-2.8zM251.8 123h2.8v2.8h-2.8zM251.9 140.6h2.8v2.8h-2.8zM251.6 158.7h2.8v2.8h-2.8zM251.6 176.1h2.8v2.8h-2.8zM251.6 193.8h2.8v2.8h-2.8zM269.4 51.7h2.8v2.8h-2.8zM269.2 69.9h2.8v2.8h-2.8zM269.4 87.3h2.8v2.8h-2.8zM269.5 105.3h2.8v2.8h-2.8zM269.4 122.8h2.8v2.8h-2.8zM269 140.8h2.8v2.8h-2.8zM269.1 158.5h2.8v2.8h-2.8zM269.4 176.6h2.8v2.8h-2.8zM269.1 194h2.8v2.8h-2.8zM287.2 52h2.8v2.8h-2.8zM286.7 69.3h2.8v2.8h-2.8zM287 87.5h2.8v2.8h-2.8zM286.5 105h2.8v2.8h-2.8zM286.8 123h2.8v2.8h-2.8zM286.6 140.6h2.8v2.8h-2.8zM286.5 158.2h2.8v2.8h-2.8zM286.5 176h2.8v2.8h-2.8zM287.1 194h2.8v2.8h-2.8zM304.3 51.5h2.8v2.8h-2.8zM304.7 69.7h2.8v2.8h-2.8zM304.4 87.6h2.8v2.8h-2.8zM304.8 105h2.8v2.8h-2.8zM304.9 123.3h2.8v2.8h-2.8zM304.7 141.2h2.8v2.8h-2.8zM304.8 158.7h2.8v2.8h-2.8zM304.6 176.3h2.8v2.8h-2.8zM304.6 194.2h2.8v2.8h-2.8zM322.6 51.4h2.8v2.8h-2.8zM322.4 69.2h2.8v2.8h-2.8zM322 87.3h2.8v2.8h-2.8zM322.5 105.1h2.8v2.8h-2.8zM322.7 122.9h2.8v2.8h-2.8zM322 140.5h2.8v2.8h-2.8zM322.7 158.7h2.8v2.8h-2.8zM322.6 176.2h2.8v2.8h-2.8zM322.6 194.1h2.8v2.8h-2.8zM340 51.7h2.8v2.8h-2.8zM340.3 69.4h2.8v2.8h-2.8zM340.2 87.6h2.8v2.8h-2.8zM340.4 105.3h2.8v2.8h-2.8zM339.7 123.4h2.8v2.8h-2.8zM340.4 140.6h2.8v2.8h-2.8zM339.7 158.6h2.8v2.8h-2.8zM339.8 176h2.8v2.8h-2.8zM340.3 193.8h2.8v2.8h-2.8zM357.8 51.5h2.8v2.8h-2.8zM357.8 69.4h2.8v2.8h-2.8zM357.4 87.5h2.8v2.8h-2.8zM357.5 104.8h2.8v2.8h-2.8zM357.3 123.3h2.8v2.8h-2.8zM357.5 141.2h2.8v2.8h-2.8zM358.1 158.6h2.8v2.8h-2.8zM357.4 176.7h2.8v2.8h-2.8zM357.9 194.4h2.8v2.8h-2.8zM375.2 52.1h2.8v2.8h-2.8zM375.4 69.6h2.8v2.8h-2.8zM375.2 87.7h2.8v2.8h-2.8zM375.5 105.4h2.8v2.8h-2.8zM375.4 122.8h2.8v2.8h-2.8zM375.6 140.5h2.8v2.8h-2.8zM375.8 158.9h2.8v2.8h-2.8zM375.4 176.1h2.8v2.8h-2.8zM375.1 194.4h2.8v2.8h-2.8zM392.8 51.6h2.8v2.8h-2.8zM393.5 69.9h2.8v2.8h-2.8zM392.7 87.2h2.8v2.8h-2.8zM393 104.8h2.8v2.8h-2.8zM393.1 123.3h2.8v2.8h-2.8zM392.8 140.5h2.8v2.8h-2.8zM393.5 158.5h2.8v2.8h-2.8zM393 176.6h2.8v2.8h-2.8zM392.9 194.3h2.8v2.8h-2.8zM410.5 51.4h2.8v2.8h-2.8zM411.1 69.4h2.8v2.8h-2.8zM410.6 87.3h2.8v2.8h-2.8zM410.6 105.1h2.8v2.8h-2.8zM411.1 122.8h2.8v2.8h-2.8zM410.6 141.1h2.8v2.8h-2.8zM410.7 158.8h2.8v2.8h-2.8zM410.6 176.3h2.8v2.8h-2.8zM410.5 194.3h2.8v2.8h-2.8zM428.6 51.9h2.8v2.8h-2.8zM428.2 69.5h2.8v2.8h-2.8zM428.2 87.1h2.8v2.8h-2.8zM428.5 105.2h2.8v2.8h-2.8zM428.6 122.8h2.8v2.8h-2.8zM428.3 141.1h2.8v2.8h-2.8zM428.3 158.8h2.8v2.8h-2.8zM428.3 176.7h2.8v2.8h-2.8zM428.2 194.4h2.8v2.8h-2.8z"/><path fill="#c86414" d="M216.8 52.7h1.8v1.8h-1.8zM216.9 70.3h1.8v1.8h-1.8zM216.3 87.7h1.8v1.8h-1.8zM217 106h1.8v1.8h-1.8zM216.9 123.7h1.8v1.8h-1.8zM216.9 141.2h1.8v1.8h-1.8zM216.6 159h1.8v1.8h-1.8zM216.4 176.9h1.8v1.8h-1.8zM216.7 195.1h1.8v1.8h-1.8zM234.3 52.7h1.8v1.8h-1.8zM234.2 70h1.8v1.8h-1.8zM234.3 87.8h1.8v1.8h-1.8zM234.5 105.7h1.8v1.8h-1.8zM234.5 123.9h1.8v1.8h-1.8zM234.6 141.3h1.8v1.8h-1.8zM234.1 159h1.8v1.8h-1.8zM234.3 177h1.8v1.8h-1.8zM234.3 194.7h1.8v1.8h-1.8zM251.8 52.6h1.8v1.8h-1.8zM252.1 70.4h1.8v1.8h-1.8zM251.8 88h1.8v1.8h-1.8zM252 105.9h1.8v1.8h-1.8zM252.4 123.6h1.8v1.8h-1.8zM252.5 141.2h1.8v1.8h-1.8zM252.2 159.3h1.8v1.8h-1.8zM252.2 176.7h1.8v1.8h-1.8zM252.2 194.4h1.8v1.8h-1.8zM270 52.3h1.8v1.8h-1.8zM269.8 70.5h1.8v1.8h-1.8zM270 87.9h1.8v1.8h-1.8zM270.1 105.9h1.8v1.8h-1.8zM270 123.4h1.8v1.8h-1.8zM269.6 141.4h1.8v1.8h-1.8zM269.7 159.1h1.8v1.8h-1.8zM270 177.2h1.8v1.8h-1.8zM269.7 194.6h1.8v1.8h-1.8zM287.8 52.6h1.8v1.8h-1.8zM287.3 69.9h1.8v1.8h-1.8zM287.6 88.1h1.8v1.8h-1.8zM287.1 105.6h1.8v1.8h-1.8zM287.4 123.6h1.8v1.8h-1.8zM287.2 141.2h1.8v1.8h-1.8zM287.1 158.8h1.8v1.8h-1.8zM287.1 176.6h1.8v1.8h-1.8zM287.7 194.6h1.8v1.8h-1.8zM304.9 52.1h1.8v1.8h-1.8zM305.3 70.3h1.8v1.8h-1.8zM305 88.2h1.8v1.8h-1.8zM305.4 105.6h1.8v1.8h-1.8zM305.5 123.9h1.8v1.8h-1.8zM305.3 141.8h1.8v1.8h-1.8zM305.4 159.3h1.8v1.8h-1.8zM305.2 176.9h1.8v1.8h-1.8zM305.2 194.8h1.8v1.8h-1.8zM323.2 52h1.8v1.8h-1.8zM323 69.8h1.8v1.8h-1.8zM322.6 87.9h1.8v1.8h-1.8zM323.1 105.7h1.8v1.8h-1.8zM323.3 123.5h1.8v1.8h-1.8zM322.6 141.1h1.8v1.8h-1.8zM323.3 159.3h1.8v1.8h-1.8zM323.2 176.8h1.8v1.8h-1.8zM323.2 194.7h1.8v1.8h-1.8zM340.6 52.3h1.8v1.8h-1.8zM340.9 70h1.8v1.8h-1.8zM340.8 88.2h1.8v1.8h-1.8zM341 105.9h1.8v1.8h-1.8zM340.3 124h1.8v1.8h-1.8zM341 141.2h1.8v1.8h-1.8zM340.3 159.2h1.8v1.8h-1.8zM340.4 176.6h1.8v1.8h-1.8zM340.9 194.4h1.8v1.8h-1.8zM358.4 52.1h1.8v1.8h-1.8zM358.4 70h1.8v1.8h-1.8zM358 88.1h1.8v1.8h-1.8zM358.1 105.4h1.8v1.8h-1.8zM357.9 123.9h1.8v1.8h-1.8zM358.1 141.8h1.8v1.8h-1.8zM358.7 159.2h1.8v1.8h-1.8zM358 177.3h1.8v1.8h-1.8zM358.5 195h1.8v1.8h-1.8zM375.8 52.7h1.8v1.8h-1.8zM376 70.2h1.8v1.8h-1.8zM375.8 88.3h1.8v1.8h-1.8zM376.1 106h1.8v1.8h-1.8zM376 123.4h1.8v1.8h-1.8zM376.2 141.1h1.8v1.8h-1.8zM376.4 159.5h1.8v1.8h-1.8zM376 176.7h1.8v1.8h-1.8zM375.7 195h1.8v1.8h-1.8zM393.4 52.2h1.8v1.8h-1.8zM394.1 70.5h1.8v1.8h-1.8zM393.3 87.8h1.8v1.8h-1.8zM393.6 105.4h1.8v1.8h-1.8zM393.7 123.9h1.8v1.8h-1.8zM393.4 141.1h1.8v1.8h-1.8zM394.1 159.1h1.8v1.8h-1.8zM393.6 177.2h1.8v1.8h-1.8zM393.5 194.9h1.8v1.8h-1.8zM411.1 52h1.8v1.8h-1.8zM411.7 70h1.8v1.8h-1.8zM411.2 87.9h1.8v1.8h-1.8zM411.2 105.7h1.8v1.8h-1.8zM411.7 123.4h1.8v1.8h-1.8zM411.2 141.7h1.8v1.8h-1.8zM411.3 159.4h1.8v1.8h-1.8zM411.2 176.9h1.8v1.8h-1.8zM411.1 194.9h1.8v1.8h-1.8zM429.2 52.5h1.8v1.8h-1.8zM428.8 70.1h1.8v1.8h-1.8zM428.8 87.7h1.8v1.8h-1.8zM429.1 105.8h1.8v1.8h-1.8zM429.2 123.4h1.8v1.8h-1.8zM428.9 141.7h1.8v1.8h-1.8zM428.9 159.4h1.8v1.8h-1.8zM428.9 177.3h1.8v1.8h-1.8zM428.8 195h1.8v1.8h-1.8z"/><path fill="#e08020" d="M217.3 53.3h0.9v0.9h-0.9zM217.4 70.9h0.9v0.9h-0.9zM216.8 88.3h0.9v0.9h-0.9zM217.5 106.6h0.9v0.9h-0.9zM217.4 124.3h0.9v0.9h-0.9zM217.4 141.8h0.9v0.9h-0.9zM217.1 159.6h0.9v0.9h-0.9zM216.9 177.5h0.9v0.9h-0.9zM217.2 195.7h0.9v0.9h-0.9zM234.8 53.3h0.9v0.9h-0.9zM234.7 70.6h0.9v0.9h-0.9zM234.8 88.4h0.9v0.9h-0.9zM235 106.3h0.9v0.9h-0.9zM235 124.5h0.9v0.9h-0.9zM235.1 141.9h0.9v0.9h-0.9zM234.6 159.6h0.9v0.9h-0.9zM234.8 177.6h0.9v0.9h-0.9zM234.8 195.3h0.9v0.9h-0.9zM252.3 53.2h0.9v0.9h-0.9zM252.6 71h0.9v0.9h-0.9zM252.3 88.6h0.9v0.9h-0.9zM252.5 106.5h0.9v0.9h-0.9zM252.9 124.2h0.9v0.9h-0.9zM253 141.8h0.9v0.9h-0.9zM252.7 159.9h0.9v0.9h-0.9zM252.7 177.3h0.9v0.9h-0.9zM252.7 195h0.9v0.9h-0.9zM270.5 52.9h0.9v0.9h-0.9zM270.3 71.1h0.9v0.9h-0.9zM270.5 88.5h0.9v0.9h-0.9zM270.6 106.5h0.9v0.9h-0.9zM270.5 124h0.9v0.9h-0.9zM270.1 142h0.9v0.9h-0.9zM270.2 159.7h0.9v0.9h-0.9zM270.5 177.8h0.9v0.9h-0.9zM270.2 195.2h0.9v0.9h-0.9zM288.3 53.2h0.9v0.9h-0.9zM287.8 70.5h0.9v0.9h-0.9zM288.1 88.7h0.9v0.9h-0.9zM287.6 106.2h0.9v0.9h-0.9zM287.9 124.2h0.9v0.9h-0.9zM287.7 141.8h0.9v0.9h-0.9zM287.6 159.4h0.9v0.9h-0.9zM287.6 177.2h0.9v0.9h-0.9zM288.2 195.2h0.9v0.9h-0.9zM305.4 52.7h0.9v0.9h-0.9zM305.8 70.9h0.9v0.9h-0.9zM305.5 88.8h0.9v0.9h-0.9zM305.9 106.2h0.9v0.9h-0.9zM306 124.5h0.9v0.9h-0.9zM305.8 142.4h0.9v0.9h-0.9zM305.9 159.9h0.9v0.9h-0.9zM305.7 177.5h0.9v0.9h-0.9zM305.7 195.4h0.9v0.9h-0.9zM323.7 52.6h0.9v0.9h-0.9zM323.5 70.4h0.9v0.9h-0.9zM323.1 88.5h0.9v0.9h-0.9zM323.6 106.3h0.9v0.9h-0.9zM323.8 124.1h0.9v0.9h-0.9zM323.1 141.7h0.9v0.9h-0.9zM323.8 159.9h0.9v0.9h-0.9zM323.7 177.4h0.9v0.9h-0.9zM323.7 195.3h0.9v0.9h-0.9zM341.1 52.9h0.9v0.9h-0.9zM341.4 70.6h0.9v0.9h-0.9zM341.3 88.8h0.9v0.9h-0.9zM341.5 106.5h0.9v0.9h-0.9zM340.8 124.6h0.9v0.9h-0.9zM341.5 141.8h0.9v0.9h-0.9zM340.8 159.8h0.9v0.9h-0.9zM340.9 177.2h0.9v0.9h-0.9zM341.4 195h0.9v0.9h-0.9zM358.9 52.7h0.9v0.9h-0.9zM358.9 70.6h0.9v0.9h-0.9zM358.5 88.7h0.9v0.9h-0.9zM358.6 106h0.9v0.9h-0.9zM358.4 124.5h0.9v0.9h-0.9zM358.6 142.4h0.9v0.9h-0.9zM359.2 159.8h0.9v0.9h-0.9zM358.5 177.9h0.9v0.9h-0.9zM359 195.6h0.9v0.9h-0.9zM376.3 53.3h0.9v0.9h-0.9zM376.5 70.8h0.9v0.9h-0.9zM376.3 88.9h0.9v0.9h-0.9zM376.6 106.6h0.9v0.9h-0.9zM376.5 124h0.9v0.9h-0.9zM376.7 141.7h0.9v0.9h-0.9zM376.9 160.1h0.9v0.9h-0.9zM376.5 177.3h0.9v0.9h-0.9zM376.2 195.6h0.9v0.9h-0.9zM393.9 52.8h0.9v0.9h-0.9zM394.6 71.1h0.9v0.9h-0.9zM393.8 88.4h0.9v0.9h-0.9zM394.1 106h0.9v0.9h-0.9zM394.2 124.5h0.9v0.9h-0.9zM393.9 141.7h0.9v0.9h-0.9zM394.6 159.7h0.9v0.9h-0.9zM394.1 177.8h0.9v0.9h-0.9zM394 195.5h0.9v0.9h-0.9zM411.6 52.6h0.9v0.9h-0.9zM412.2 70.6h0.9v0.9h-0.9zM411.7 88.5h0.9v0.9h-0.9zM411.7 106.3h0.9v0.9h-0.9zM412.2 124h0.9v0.9h-0.9zM411.7 142.3h0.9v0.9h-0.9zM411.8 160h0.9v0.9h-0.9zM411.7 177.5h0.9v0.9h-0.9zM411.6 195.5h0.9v0.9h-0.9zM429.7 53.1h0.9v0.9h-0.9zM429.3 70.7h0.9v0.9h-0.9zM429.3 88.3h0.9v0.9h-0.9zM429.6 106.4h0.9v0.9h-0.9zM429.7 124h0.9v0.9h-0.9zM429.4 142.3h0.9v0.9h-0.9zM429.4 160h0.9v0.9h-0.9zM429.4 177.9h0.9v0.9h-0.9zM429.3 195.6h0.9v0.9h-0.9z"/></g></g><rect x="217.5" y="42" width="216" height="0.7" fill="#c8b8a8"/><text x="212.8" y="46.3" text-anchor="end" style="font-family:'Liberation Sans',sans-serif;font-size:6.4px" fill="#606060" transform="translate(212.8 0) scale(0.9 1) translate(-212.8 0)">0.92</text><rect x="215.2" y="43.7" width="2.3" height="0.5" fill="#777"/><text x="212.8" y="67.8" text-anchor="end" style="font-family:'Liberation Sans',sans-serif;font-size:6.4px" fill="#606060" transform="translate(212.8 0) scale(0.9 1) translate(-212.8 0)">0.80</text><rect x="215.2" y="65.2" width="2.3" height="0.5" fill="#777"/><text x="212.8" y="85.7" text-anchor="end" style="font-family:'Liberation Sans',sans-serif;font-size:6.4px" fill="#606060" transform="translate(212.8 0) scale(0.9 1) translate(-212.8 0)">0.70</text><rect x="215.2" y="83.2" width="2.3" height="0.5" fill="#777"/><text x="212.8" y="103.7" text-anchor="end" style="font-family:'Liberation Sans',sans-serif;font-size:6.4px" fill="#606060" transform="translate(212.8 0) scale(0.9 1) translate(-212.8 0)">0.60</text><rect x="215.2" y="101.1" width="2.3" height="0.5" fill="#777"/><text x="212.8" y="121.6" text-anchor="end" style="font-family:'Liberation Sans',sans-serif;font-size:6.4px" fill="#606060" transform="translate(212.8 0) scale(0.9 1) translate(-212.8 0)">0.50</text><rect x="215.2" y="119" width="2.3" height="0.5" fill="#777"/><text x="212.8" y="139.5" text-anchor="end" style="font-family:'Liberation Sans',sans-serif;font-size:6.4px" fill="#606060" transform="translate(212.8 0) scale(0.9 1) translate(-212.8 0)">0.40</text><rect x="215.2" y="137" width="2.3" height="0.5" fill="#777"/><text x="212.8" y="157.5" text-anchor="end" style="font-family:'Liberation Sans',sans-serif;font-size:6.4px" fill="#606060" transform="translate(212.8 0) scale(0.9 1) translate(-212.8 0)">0.30</text><rect x="215.2" y="154.9" width="2.3" height="0.5" fill="#777"/><text x="212.8" y="175.4" text-anchor="end" style="font-family:'Liberation Sans',sans-serif;font-size:6.4px" fill="#606060" transform="translate(212.8 0) scale(0.9 1) translate(-212.8 0)">0.20</text><rect x="215.2" y="172.9" width="2.3" height="0.5" fill="#777"/><text x="212.8" y="193.4" text-anchor="end" style="font-family:'Liberation Sans',sans-serif;font-size:6.4px" fill="#606060" transform="translate(212.8 0) scale(0.9 1) translate(-212.8 0)">0.10</text><rect x="215.2" y="190.8" width="2.3" height="0.5" fill="#777"/><text x="212.8" y="211.3" text-anchor="end" style="font-family:'Liberation Sans',sans-serif;font-size:6.4px" fill="#606060" transform="translate(212.8 0) scale(0.9 1) translate(-212.8 0)">0.00</text><rect x="215.2" y="208.8" width="2.3" height="0.5" fill="#777"/><rect x="216.3" y="208.2" width="1.2" height="0.4" fill="#999"/><rect x="216.3" y="204.6" width="1.2" height="0.4" fill="#999"/><rect x="216.3" y="201" width="1.2" height="0.4" fill="#999"/><rect x="216.3" y="197.4" width="1.2" height="0.4" fill="#999"/><rect x="216.3" y="193.8" width="1.2" height="0.4" fill="#999"/><rect x="216.3" y="190.3" width="1.2" height="0.4" fill="#999"/><rect x="216.3" y="186.7" width="1.2" height="0.4" fill="#999"/><rect x="216.3" y="183.1" width="1.2" height="0.4" fill="#999"/><rect x="216.3" y="179.5" width="1.2" height="0.4" fill="#999"/><rect x="216.3" y="175.9" width="1.2" height="0.4" fill="#999"/><rect x="216.3" y="172.3" width="1.2" height="0.4" fill="#999"/><rect x="216.3" y="168.7" width="1.2" height="0.4" fill="#999"/><rect x="216.3" y="165.1" width="1.2" height="0.4" fill="#999"/><rect x="216.3" y="161.6" width="1.2" height="0.4" fill="#999"/><rect x="216.3" y="158" width="1.2" height="0.4" fill="#999"/><rect x="216.3" y="154.4" width="1.2" height="0.4" fill="#999"/><rect x="216.3" y="150.8" width="1.2" height="0.4" fill="#999"/><rect x="216.3" y="147.2" width="1.2" height="0.4" fill="#999"/><rect x="216.3" y="143.6" width="1.2" height="0.4" fill="#999"/><rect x="216.3" y="140" width="1.2" height="0.4" fill="#999"/><rect x="216.3" y="136.4" width="1.2" height="0.4" fill="#999"/><rect x="216.3" y="132.9" width="1.2" height="0.4" fill="#999"/><rect x="216.3" y="129.3" width="1.2" height="0.4" fill="#999"/><rect x="216.3" y="125.7" width="1.2" height="0.4" fill="#999"/><rect x="216.3" y="122.1" width="1.2" height="0.4" fill="#999"/><rect x="216.3" y="118.5" width="1.2" height="0.4" fill="#999"/><rect x="216.3" y="114.9" width="1.2" height="0.4" fill="#999"/><rect x="216.3" y="111.3" width="1.2" height="0.4" fill="#999"/><rect x="216.3" y="107.7" width="1.2" height="0.4" fill="#999"/><rect x="216.3" y="104.1" width="1.2" height="0.4" fill="#999"/><rect x="216.3" y="100.6" width="1.2" height="0.4" fill="#999"/><rect x="216.3" y="97" width="1.2" height="0.4" fill="#999"/><rect x="216.3" y="93.4" width="1.2" height="0.4" fill="#999"/><rect x="216.3" y="89.8" width="1.2" height="0.4" fill="#999"/><rect x="216.3" y="86.2" width="1.2" height="0.4" fill="#999"/><rect x="216.3" y="82.6" width="1.2" height="0.4" fill="#999"/><rect x="216.3" y="79" width="1.2" height="0.4" fill="#999"/><rect x="216.3" y="75.4" width="1.2" height="0.4" fill="#999"/><rect x="216.3" y="71.9" width="1.2" height="0.4" fill="#999"/><rect x="216.3" y="68.3" width="1.2" height="0.4" fill="#999"/><rect x="216.3" y="64.7" width="1.2" height="0.4" fill="#999"/><rect x="216.3" y="61.1" width="1.2" height="0.4" fill="#999"/><rect x="216.3" y="57.5" width="1.2" height="0.4" fill="#999"/><rect x="216.3" y="53.9" width="1.2" height="0.4" fill="#999"/><rect x="216.3" y="50.3" width="1.2" height="0.4" fill="#999"/><rect x="216.3" y="46.7" width="1.2" height="0.4" fill="#999"/><rect x="216.3" y="43.2" width="1.2" height="0.4" fill="#999"/><text x="218.1" y="220" text-anchor="middle" style="font-family:'Liberation Sans',sans-serif;font-size:6.4px" fill="#606060" transform="translate(218.1 0) scale(0.85 1) translate(-218.1 0)">0.0</text><rect x="217.8" y="208.2" width="0.5" height="2.3" fill="#777"/><text x="235.9" y="220" text-anchor="middle" style="font-family:'Liberation Sans',sans-serif;font-size:6.4px" fill="#606060" transform="translate(235.9 0) scale(0.85 1) translate(-235.9 0)">0.1</text><rect x="235.6" y="208.2" width="0.5" height="2.3" fill="#777"/><text x="253.6" y="220" text-anchor="middle" style="font-family:'Liberation Sans',sans-serif;font-size:6.4px" fill="#606060" transform="translate(253.6 0) scale(0.85 1) translate(-253.6 0)">0.2</text><rect x="253.4" y="208.2" width="0.5" height="2.3" fill="#777"/><text x="271.4" y="220" text-anchor="middle" style="font-family:'Liberation Sans',sans-serif;font-size:6.4px" fill="#606060" transform="translate(271.4 0) scale(0.85 1) translate(-271.4 0)">0.3</text><rect x="271.1" y="208.2" width="0.5" height="2.3" fill="#777"/><text x="289.1" y="220" text-anchor="middle" style="font-family:'Liberation Sans',sans-serif;font-size:6.4px" fill="#606060" transform="translate(289.1 0) scale(0.85 1) translate(-289.1 0)">0.4</text><rect x="288.9" y="208.2" width="0.5" height="2.3" fill="#777"/><text x="306.9" y="220" text-anchor="middle" style="font-family:'Liberation Sans',sans-serif;font-size:6.4px" fill="#606060" transform="translate(306.9 0) scale(0.85 1) translate(-306.9 0)">0.5</text><rect x="306.6" y="208.2" width="0.5" height="2.3" fill="#777"/><text x="324.7" y="220" text-anchor="middle" style="font-family:'Liberation Sans',sans-serif;font-size:6.4px" fill="#606060" transform="translate(324.7 0) scale(0.85 1) translate(-324.7 0)">0.6</text><rect x="324.4" y="208.2" width="0.5" height="2.3" fill="#777"/><text x="342.4" y="220" text-anchor="middle" style="font-family:'Liberation Sans',sans-serif;font-size:6.4px" fill="#606060" transform="translate(342.4 0) scale(0.85 1) translate(-342.4 0)">0.7</text><rect x="342.2" y="208.2" width="0.5" height="2.3" fill="#777"/><text x="360.2" y="220" text-anchor="middle" style="font-family:'Liberation Sans',sans-serif;font-size:6.4px" fill="#606060" transform="translate(360.2 0) scale(0.85 1) translate(-360.2 0)">0.8</text><rect x="359.9" y="208.2" width="0.5" height="2.3" fill="#777"/><text x="377.9" y="220" text-anchor="middle" style="font-family:'Liberation Sans',sans-serif;font-size:6.4px" fill="#606060" transform="translate(377.9 0) scale(0.85 1) translate(-377.9 0)">0.9</text><rect x="377.7" y="208.2" width="0.5" height="2.3" fill="#777"/><text x="395.7" y="220" text-anchor="middle" style="font-family:'Liberation Sans',sans-serif;font-size:6.4px" fill="#606060" transform="translate(395.7 0) scale(0.85 1) translate(-395.7 0)">1.0</text><rect x="395.4" y="208.2" width="0.5" height="2.3" fill="#777"/><text x="413.5" y="220" text-anchor="middle" style="font-family:'Liberation Sans',sans-serif;font-size:6.4px" fill="#606060" transform="translate(413.5 0) scale(0.85 1) translate(-413.5 0)">1.1</text><rect x="413.2" y="208.2" width="0.5" height="2.3" fill="#777"/><text x="433.2" y="220" text-anchor="middle" style="font-family:'Liberation Sans',sans-serif;font-size:6.4px" fill="#606060" transform="translate(433.2 0) scale(0.85 1) translate(-433.2 0)">1.2</text><rect x="432.9" y="208.2" width="0.5" height="2.3" fill="#777"/><rect x="431" y="208.2" width="0.5" height="2.3" fill="#777"/><text x="217" y="41.8" style="font-family:'Liberation Sans',sans-serif;font-size:5.4px" fill="#505050">mm</text><text x="434.8" y="206.8" style="font-family:'Liberation Sans',sans-serif;font-size:5px" fill="#505050">mm</text><rect x="437.5" y="45.3" width="18.3" height="154.4" fill="url(#cbB)" stroke="#a8a8a8" stroke-width="0.6"/><text x="437.8" y="42.4" style="font-family:'Liberation Sans',sans-serif;font-size:5.6px" fill="#505050">um</text><rect x="456" y="46.2" width="2.2" height="0.6" fill="#777"/><text x="472.9" y="48.8" text-anchor="end" style="font-family:'Liberation Sans',sans-serif;font-size:6.4px" fill="#606060" transform="translate(472.9 0) scale(0.82 1) translate(-472.9 0)">2.83</text><rect x="456" y="57.2" width="2.2" height="0.6" fill="#777"/><rect x="456" y="74.9" width="2.2" height="0.6" fill="#777"/><text x="472.9" y="77.5" text-anchor="end" style="font-family:'Liberation Sans',sans-serif;font-size:6.4px" fill="#606060" transform="translate(472.9 0) scale(0.82 1) translate(-472.9 0)">2.00</text><rect x="456" y="91.6" width="2.2" height="0.6" fill="#777"/><text x="472.9" y="94.2" text-anchor="end" style="font-family:'Liberation Sans',sans-serif;font-size:6.4px" fill="#606060" transform="translate(472.9 0) scale(0.82 1) translate(-472.9 0)">1.50</text><rect x="456" y="109.1" width="2.2" height="0.6" fill="#777"/><text x="472.9" y="111.7" text-anchor="end" style="font-family:'Liberation Sans',sans-serif;font-size:6.4px" fill="#606060" transform="translate(472.9 0) scale(0.82 1) translate(-472.9 0)">1.00</text><rect x="456" y="126.6" width="2.2" height="0.6" fill="#777"/><text x="472.9" y="129.2" text-anchor="end" style="font-family:'Liberation Sans',sans-serif;font-size:6.4px" fill="#606060" transform="translate(472.9 0) scale(0.82 1) translate(-472.9 0)">0.50</text><rect x="456" y="144" width="2.2" height="0.6" fill="#777"/><text x="472.9" y="146.6" text-anchor="end" style="font-family:'Liberation Sans',sans-serif;font-size:6.4px" fill="#606060" transform="translate(472.9 0) scale(0.82 1) translate(-472.9 0)">0.00</text><rect x="456" y="161" width="2.2" height="0.6" fill="#777"/><text x="472.9" y="163.6" text-anchor="end" style="font-family:'Liberation Sans',sans-serif;font-size:6.4px" fill="#606060" transform="translate(472.9 0) scale(0.82 1) translate(-472.9 0)">-0.50</text><rect x="456" y="178.6" width="2.2" height="0.6" fill="#777"/><text x="472.9" y="181.2" text-anchor="end" style="font-family:'Liberation Sans',sans-serif;font-size:6.4px" fill="#606060" transform="translate(472.9 0) scale(0.82 1) translate(-472.9 0)">-1.00</text><rect x="456" y="196" width="2.2" height="0.6" fill="#777"/><rect x="456" y="199.2" width="2.2" height="0.6" fill="#777"/><text x="472.9" y="201.8" text-anchor="end" style="font-family:'Liberation Sans',sans-serif;font-size:6.4px" fill="#606060" transform="translate(472.9 0) scale(0.82 1) translate(-472.9 0)">-1.82</text><text x="338.2" y="234.2" text-anchor="middle" style="font-family:'Liberation Serif',serif;font-size:11.4px" fill="#000">(b)</text><g clip-path="url(#clipC)"><rect x="21.2" y="152.5" width="133.8" height="100.7" fill="#2e4ae6"/><rect x="21.2" y="152.5" width="133.8" height="100.7" filter="url(#cmottle)" opacity="0.6"/><rect x="21.2" y="152.5" width="133.8" height="100.7" filter="url(#clight)"/><g filter="url(#roughc)"><rect x="15" y="163.8" width="150" height="11.5" fill="#48b8c8" opacity="0.9"/><rect x="15" y="166.2" width="150" height="6.5" fill="#70d8a8" opacity="0.8"/><rect x="15" y="208.2" width="150" height="11.5" fill="#48b8c8" opacity="0.9"/><rect x="15" y="210.8" width="150" height="6.5" fill="#70d8a8" opacity="0.8"/></g><path fill="#88e488" d="M98.1 169.4h0.9v0.9h-0.9zM47.1 165.5h1.6v1.6h-1.6zM80.7 172h1.2v1.2h-1.2zM77.1 172.7h1.1v1.1h-1.1zM75.4 164.7h1v1h-1zM21.6 170h0.9v0.9h-0.9zM143.4 164.7h1.2v1.2h-1.2zM143.3 166.9h1.5v1.5h-1.5zM87.7 169.9h1.6v1.6h-1.6zM140.2 169.2h1v1h-1zM78.7 174.2h1.3v1.3h-1.3zM146.8 170.7h1v1h-1zM95.8 172.2h0.8v0.8h-0.8zM133.6 164.3h1v1h-1zM123.9 164.4h1.2v1.2h-1.2zM135.1 168.4h1.2v1.2h-1.2zM49.3 169.9h1.6v1.6h-1.6zM122 167.2h1.3v1.3h-1.3zM154.5 165.8h1.5v1.5h-1.5zM152.2 165.9h0.9v0.9h-0.9zM110.7 164.3h1.2v1.2h-1.2zM103.1 165.2h1.6v1.6h-1.6zM111.8 171.2h1.1v1.1h-1.1zM110.4 168.4h0.9v0.9h-0.9zM146 167.4h0.9v0.9h-0.9zM58.8 168h1.1v1.1h-1.1zM127.6 168h1.2v1.2h-1.2zM151.4 174.2h1v1h-1zM22.1 168.4h1.2v1.2h-1.2zM143 171.7h1v1h-1zM78.9 174.7h1.3v1.3h-1.3zM38.4 169.5h1.2v1.2h-1.2zM85.5 172h1.6v1.6h-1.6zM71.8 164.3h1.3v1.3h-1.3zM31.3 167.9h0.8v0.8h-0.8zM28.4 164.3h1.5v1.5h-1.5zM88.2 174.1h1.4v1.4h-1.4zM102 170.2h1.5v1.5h-1.5zM59.5 171.6h1.2v1.2h-1.2zM110.3 166.3h1.1v1.1h-1.1zM101.4 172.3h1.5v1.5h-1.5zM113.6 173.7h1.2v1.2h-1.2zM87.7 209.1h1.4v1.4h-1.4zM93.3 213h1.1v1.1h-1.1zM60.6 213.1h1v1h-1zM50.4 212.9h1.4v1.4h-1.4zM59.8 216.7h1.5v1.5h-1.5zM85.9 213.4h1v1h-1zM149.5 219.2h1.6v1.6h-1.6zM122.3 215.8h1.2v1.2h-1.2zM64.2 219.2h1v1h-1zM64.2 210.1h1v1h-1zM60.2 214.4h1.3v1.3h-1.3zM129.1 210.4h1.3v1.3h-1.3zM151.5 213.7h0.9v0.9h-0.9zM70.8 216.9h1.3v1.3h-1.3zM81.2 214.3h1v1h-1zM129.7 219.2h1.6v1.6h-1.6zM151.9 210.9h0.8v0.8h-0.8zM23.2 216.4h1.2v1.2h-1.2zM108.7 214.9h1.1v1.1h-1.1zM50.6 210.6h1.5v1.5h-1.5zM110.5 218.7h1v1h-1zM34.6 215.3h1.1v1.1h-1.1zM41.7 215.3h1v1h-1zM77.9 215.6h0.9v0.9h-0.9zM146.7 215.2h1.2v1.2h-1.2zM141.2 211.7h0.8v0.8h-0.8zM59.3 219.2h1v1h-1zM79.5 211.5h0.8v0.8h-0.8zM64.6 212h1.1v1.1h-1.1zM105.2 214.9h0.8v0.8h-0.8zM98.1 214.7h1.3v1.3h-1.3zM47 217.1h1.3v1.3h-1.3zM101 208.8h1v1h-1zM34.6 218.8h1.4v1.4h-1.4zM129.4 213.6h1.3v1.3h-1.3zM146 212.8h0.9v0.9h-0.9zM149 214.8h0.8v0.8h-0.8zM44.8 212.4h1.2v1.2h-1.2zM150.2 213.6h1.3v1.3h-1.3zM148.4 217h1v1h-1zM107.9 211.4h1.5v1.5h-1.5z"/><path fill="#70dca0" d="M135.3 167.6h1.2v1.2h-1.2zM48.4 168.3h0.8v0.8h-0.8zM147.6 168.6h1.4v1.4h-1.4zM30.1 170.5h0.8v0.8h-0.8zM80.4 171.1h1.4v1.4h-1.4zM38 172.2h1.3v1.3h-1.3zM79.2 173.1h1.1v1.1h-1.1zM31.1 166.6h1v1h-1zM89.1 169.2h0.9v0.9h-0.9zM149.3 170.5h1.4v1.4h-1.4zM41 167.4h1.2v1.2h-1.2zM130.6 169.1h1.4v1.4h-1.4zM101.2 171.4h0.9v0.9h-0.9zM73.4 164.3h1.3v1.3h-1.3zM104.6 171.1h1.3v1.3h-1.3zM115.7 172.7h1.5v1.5h-1.5zM84.5 164.3h1.1v1.1h-1.1zM138.9 166.3h0.9v0.9h-0.9zM150.5 172.3h1.3v1.3h-1.3zM94.9 168.9h1v1h-1zM74.1 167.4h1.2v1.2h-1.2zM141.6 164.7h1v1h-1zM109.9 164.6h1v1h-1zM123.1 170.9h1.4v1.4h-1.4zM36.4 168.9h1.1v1.1h-1.1zM68.3 169.9h1.5v1.5h-1.5zM112 165.3h0.9v0.9h-0.9zM126.7 171.6h1.5v1.5h-1.5zM110.5 171h0.8v0.8h-0.8zM45.4 172.8h1.1v1.1h-1.1zM54.9 171.5h1.4v1.4h-1.4zM73.8 166.7h1v1h-1zM105.1 170.2h0.8v0.8h-0.8zM126.7 173.7h1.3v1.3h-1.3zM35.4 166.5h1.1v1.1h-1.1zM85.7 168.1h1.1v1.1h-1.1zM83.8 172.4h1.3v1.3h-1.3zM109 174.7h1v1h-1zM77.4 170.9h1.5v1.5h-1.5zM148.2 213.8h0.8v0.8h-0.8zM49.4 213.5h1.4v1.4h-1.4zM140.6 212.8h0.9v0.9h-0.9zM43 216.7h1.2v1.2h-1.2zM97.7 214.1h0.9v0.9h-0.9zM80.1 210.8h1.2v1.2h-1.2zM91.2 215.4h1.3v1.3h-1.3zM81.7 214.2h1.2v1.2h-1.2zM137.6 210.8h1.5v1.5h-1.5zM142.5 210.5h1.1v1.1h-1.1zM129.6 211.9h0.9v0.9h-0.9zM115.3 208.8h1.2v1.2h-1.2zM106.9 216.2h1.4v1.4h-1.4zM137.3 215.9h1.2v1.2h-1.2zM80.5 216.1h1.5v1.5h-1.5zM80.3 213.2h0.9v0.9h-0.9zM138.8 218.6h1.2v1.2h-1.2zM125.5 215.3h0.9v0.9h-0.9zM45.5 217.6h1.5v1.5h-1.5zM48.4 217.7h1.5v1.5h-1.5zM66.9 216.6h1v1h-1zM69.2 212.2h0.8v0.8h-0.8zM123.2 218.2h1v1h-1zM39.5 213.5h1.3v1.3h-1.3zM39.8 215.6h1.5v1.5h-1.5zM148 211.5h0.8v0.8h-0.8zM115 217.7h1.4v1.4h-1.4zM79.6 218.8h1.3v1.3h-1.3zM26 218h1.3v1.3h-1.3zM46.4 213.8h1.4v1.4h-1.4zM32.8 219.2h1v1h-1zM74.9 208.8h1.2v1.2h-1.2zM29.3 217.9h1.5v1.5h-1.5zM45.7 215.4h1v1h-1zM60.1 216.5h1.1v1.1h-1.1zM123.2 213.9h1.6v1.6h-1.6zM75 208.8h1.6v1.6h-1.6zM75.2 210.9h1v1h-1zM75 213h1.5v1.5h-1.5zM50.8 215.9h1.5v1.5h-1.5zM62.7 218h0.9v0.9h-0.9zM103.4 214.1h0.9v0.9h-0.9zM71.1 216.3h0.9v0.9h-0.9zM106.9 211.6h1.2v1.2h-1.2zM126.5 212.3h0.8v0.8h-0.8zM76.1 211.4h1.5v1.5h-1.5z"/><path fill="#3068e0" d="M133 172.2h1.6v1.6h-1.6zM53.6 165.1h1.2v1.2h-1.2zM49.2 168h1.1v1.1h-1.1zM83.6 171h0.8v0.8h-0.8zM114 173.6h1.1v1.1h-1.1zM25 174.7h1.1v1.1h-1.1zM135 174.7h1.2v1.2h-1.2zM123 164.8h1.6v1.6h-1.6zM137.4 170.5h0.8v0.8h-0.8zM123.4 173h1.5v1.5h-1.5zM86.3 171.7h0.8v0.8h-0.8zM129.1 169.1h1.5v1.5h-1.5zM25.5 174.6h0.9v0.9h-0.9zM117.7 172.6h1v1h-1zM39.4 165.4h0.9v0.9h-0.9zM56.3 173.4h1.4v1.4h-1.4zM55.8 166.4h1.1v1.1h-1.1zM119.6 172.4h1.4v1.4h-1.4zM140.1 166.1h1v1h-1zM85.6 171.3h0.9v0.9h-0.9zM121.9 172.5h1.6v1.6h-1.6zM132.1 170.6h1.3v1.3h-1.3zM31.9 165.2h1.2v1.2h-1.2zM64.6 173.3h1v1h-1zM106.4 173.8h1.6v1.6h-1.6zM79.7 170.1h0.8v0.8h-0.8zM94.7 168.1h0.9v0.9h-0.9zM109.3 164.6h1v1h-1zM151.8 170h1.3v1.3h-1.3zM29.6 170.7h1v1h-1zM112.1 167.2h1.4v1.4h-1.4zM55.4 165.8h1.5v1.5h-1.5zM109.6 171.8h1.3v1.3h-1.3zM106.6 165.7h1.5v1.5h-1.5zM136.3 172.1h1v1h-1zM23.2 167.7h1.1v1.1h-1.1zM89.4 174.7h1.5v1.5h-1.5zM113.2 164.9h1.3v1.3h-1.3zM44.2 172.9h1.3v1.3h-1.3zM147.4 209.9h1.2v1.2h-1.2zM76.3 216.6h1.1v1.1h-1.1zM63.9 214.2h1.2v1.2h-1.2zM85.3 215.5h1.1v1.1h-1.1zM94.6 215.7h1.2v1.2h-1.2zM136.8 214.9h1.3v1.3h-1.3zM67.4 210.3h1.5v1.5h-1.5zM86.5 209.9h1.1v1.1h-1.1zM84.1 211.6h1.4v1.4h-1.4zM118.7 216.6h0.8v0.8h-0.8zM31.9 218.1h0.9v0.9h-0.9zM104.2 216.3h0.9v0.9h-0.9zM99.3 214h1.6v1.6h-1.6zM152.1 211.5h1.3v1.3h-1.3zM139.8 215.5h1v1h-1zM95.9 213.2h1.5v1.5h-1.5zM122.5 212.3h0.9v0.9h-0.9zM65 216.5h1.3v1.3h-1.3zM59.4 210h1.6v1.6h-1.6zM61.3 214.3h1.2v1.2h-1.2zM26 213.5h1.1v1.1h-1.1zM120 216.3h1.5v1.5h-1.5zM147.7 216.1h1.1v1.1h-1.1zM106.2 215h1.1v1.1h-1.1zM115.1 209.4h1.3v1.3h-1.3zM76.9 210.2h0.9v0.9h-0.9zM23.4 212.2h1.2v1.2h-1.2zM147.5 208.8h1.3v1.3h-1.3zM150.8 210.8h1.3v1.3h-1.3zM80.5 208.8h0.9v0.9h-0.9zM21.3 214.9h0.9v0.9h-0.9zM95.6 218.9h0.9v0.9h-0.9zM138.7 216.5h1.1v1.1h-1.1zM88.9 212.3h1.5v1.5h-1.5zM106.8 211.3h0.9v0.9h-0.9zM87.3 215.5h1.4v1.4h-1.4zM21.6 213.8h1.1v1.1h-1.1zM68.4 209.6h1.5v1.5h-1.5zM73.4 213.7h1.5v1.5h-1.5zM28.2 216.1h1.6v1.6h-1.6zM64.7 211.8h1.2v1.2h-1.2zM98 213.3h1.3v1.3h-1.3zM84.7 216h1.5v1.5h-1.5zM53.5 215.7h1.3v1.3h-1.3z"/><path fill="#60d4b0" d="M30 174.3h1.6v1.6h-1.6zM120.8 171.4h1.1v1.1h-1.1zM95.8 170.7h1.4v1.4h-1.4zM21.3 167h1.4v1.4h-1.4zM55.5 166.7h1.1v1.1h-1.1zM148.8 172.1h1.5v1.5h-1.5zM74.3 169.1h1.5v1.5h-1.5zM79.7 171.4h1.6v1.6h-1.6zM74.1 171.9h1.3v1.3h-1.3zM109.9 172.7h1.1v1.1h-1.1zM136.9 174.6h1.4v1.4h-1.4zM76.2 167.4h1.4v1.4h-1.4zM44.1 172.5h1v1h-1zM129.9 166.2h1.5v1.5h-1.5zM149.8 165.4h1.6v1.6h-1.6zM125 164.6h1.2v1.2h-1.2zM46.5 164.6h0.8v0.8h-0.8zM74.3 167.1h1.5v1.5h-1.5zM46.5 173.8h0.8v0.8h-0.8zM120.9 167h1.3v1.3h-1.3zM70.4 164.5h1.3v1.3h-1.3zM44.8 167.2h1.6v1.6h-1.6zM79.4 165.7h0.9v0.9h-0.9zM131 169.7h1.5v1.5h-1.5zM143.5 169.8h1.4v1.4h-1.4zM109.5 167.2h1.4v1.4h-1.4zM120.6 165.5h1.6v1.6h-1.6zM84.7 167.3h1v1h-1zM64.5 164.3h0.9v0.9h-0.9zM25.7 169h1.3v1.3h-1.3zM49.8 164.3h1.5v1.5h-1.5zM86.3 166.5h1.2v1.2h-1.2zM85.1 168.2h0.8v0.8h-0.8zM85.8 165h1v1h-1zM67.3 165.3h1.4v1.4h-1.4zM57.6 166.2h1.4v1.4h-1.4zM141.3 169.5h1v1h-1zM67.7 174.7h1.1v1.1h-1.1zM153.5 172.3h1.5v1.5h-1.5zM140.5 172.4h1.5v1.5h-1.5zM125 170.5h1.1v1.1h-1.1zM110.5 174.3h0.8v0.8h-0.8zM110.4 164.3h1.2v1.2h-1.2zM137.5 217.3h1.1v1.1h-1.1zM25.5 211.2h0.9v0.9h-0.9zM75.7 217.4h1v1h-1zM59.6 212.9h0.9v0.9h-0.9zM96.6 213.5h1.1v1.1h-1.1zM31.6 214.4h1.2v1.2h-1.2zM109.1 215.1h1v1h-1zM123.2 212.9h1.5v1.5h-1.5zM81.1 215.5h0.8v0.8h-0.8zM116.4 213.9h1.4v1.4h-1.4zM51.1 208.8h0.9v0.9h-0.9zM62.6 214.3h0.8v0.8h-0.8zM25.7 217.1h0.8v0.8h-0.8zM77.7 209.6h1v1h-1zM70.1 211.4h1.3v1.3h-1.3zM124.2 213.7h1.3v1.3h-1.3zM124.2 215.6h1.4v1.4h-1.4zM55.1 208.8h0.8v0.8h-0.8zM43.8 213.3h1v1h-1zM68.1 211.2h1.5v1.5h-1.5zM92 218.6h1.1v1.1h-1.1zM42.2 217.5h1v1h-1zM46 215.7h0.9v0.9h-0.9zM26.5 215.3h1v1h-1zM119.8 209h0.9v0.9h-0.9zM134.4 208.9h1.4v1.4h-1.4zM68.3 213.8h1.1v1.1h-1.1zM153.5 214.9h1.4v1.4h-1.4zM34.3 213.9h1.1v1.1h-1.1zM96.6 210.4h1.5v1.5h-1.5zM22.3 216.1h0.8v0.8h-0.8zM91.1 210h0.9v0.9h-0.9zM43.5 213.1h1.2v1.2h-1.2zM140.2 215.8h0.9v0.9h-0.9zM135.4 214.8h1.2v1.2h-1.2z"/><path fill="#40b0d0" d="M116.7 172.8h1.2v1.2h-1.2zM75.8 170.5h1.5v1.5h-1.5zM153.7 174.1h1.3v1.3h-1.3zM115.7 168.9h1v1h-1zM127.8 165.8h0.9v0.9h-0.9zM63.7 168.3h0.9v0.9h-0.9zM29.7 169.3h1v1h-1zM111.1 171.6h1.2v1.2h-1.2zM65.6 169.8h1.4v1.4h-1.4zM42 170.3h1.2v1.2h-1.2zM41.2 174.7h1v1h-1zM29.9 166.7h1.1v1.1h-1.1zM91.8 172.9h0.9v0.9h-0.9zM129.5 165.5h1.2v1.2h-1.2zM34 168.2h0.8v0.8h-0.8zM143.3 174.7h1.5v1.5h-1.5zM64 167h0.9v0.9h-0.9zM72.3 169.2h1.3v1.3h-1.3zM76.5 170h1.1v1.1h-1.1zM106.1 166.1h1.5v1.5h-1.5zM23.4 168.7h1.2v1.2h-1.2zM107.1 167.8h1.2v1.2h-1.2zM38.2 165.2h1.2v1.2h-1.2zM124.2 167.1h1.3v1.3h-1.3zM148.3 171.9h1.4v1.4h-1.4zM103.9 174.1h1v1h-1zM125.8 171.1h1.5v1.5h-1.5zM107.7 171h1.3v1.3h-1.3zM73.7 168.6h1.5v1.5h-1.5zM51.9 165.8h1.1v1.1h-1.1zM64.7 167.9h1.4v1.4h-1.4zM129.8 174h1v1h-1zM29.5 167.1h1v1h-1zM121.4 168.1h1.2v1.2h-1.2zM153.1 166.9h1.3v1.3h-1.3zM115.3 172h0.8v0.8h-0.8zM97.6 167.5h1.5v1.5h-1.5zM40.3 219.2h1.2v1.2h-1.2zM101.2 219h1v1h-1zM112.2 214h1.2v1.2h-1.2zM86.9 216.5h0.9v0.9h-0.9zM118.8 217.1h1.4v1.4h-1.4zM144.9 212.8h1v1h-1zM52.7 215.4h1.1v1.1h-1.1zM95.6 208.8h1.4v1.4h-1.4zM117.9 215.1h1v1h-1zM54.6 211.4h1.3v1.3h-1.3zM22.6 212.8h1v1h-1zM45.8 212.2h0.9v0.9h-0.9zM70.4 215.9h1.1v1.1h-1.1zM152.9 210.6h1.5v1.5h-1.5zM77.9 219.2h1v1h-1zM97.3 211.2h1.2v1.2h-1.2zM148.2 212h1.1v1.1h-1.1zM68.1 212.8h1.1v1.1h-1.1zM84.9 218.1h1.2v1.2h-1.2zM137.6 214.8h1.4v1.4h-1.4zM46.4 218.3h0.9v0.9h-0.9zM73.9 212.2h1.2v1.2h-1.2zM93.4 212.8h0.9v0.9h-0.9zM75.4 218.9h1.4v1.4h-1.4zM102.3 213.1h1.3v1.3h-1.3zM96.4 212.9h1v1h-1zM63.4 212.4h0.9v0.9h-0.9zM145.3 212.6h1v1h-1zM35.5 209.9h1.1v1.1h-1.1zM147.2 210.2h1v1h-1zM81.5 215.6h1.5v1.5h-1.5zM108.4 216.5h0.9v0.9h-0.9zM56.5 214.3h1v1h-1zM120.1 218.4h1.4v1.4h-1.4zM145.9 209h1.2v1.2h-1.2zM141.5 209.7h1.3v1.3h-1.3zM114.4 211.3h0.9v0.9h-0.9zM96.5 212.6h1v1h-1zM125.8 215.9h1.6v1.6h-1.6zM64.3 214.8h1.5v1.5h-1.5zM140.3 209.2h0.9v0.9h-0.9zM77.6 210.9h1.1v1.1h-1.1zM36.2 219.2h1.6v1.6h-1.6zM28 217.1h0.9v0.9h-0.9zM127.7 209.5h0.8v0.8h-0.8zM97.9 213.8h1v1h-1z"/><path fill="#3a74e4" d="M83.3 172.9h1.2v1.2h-1.2zM149.3 168.1h1.1v1.1h-1.1zM117.6 174.7h1.4v1.4h-1.4zM151.2 174.2h1.4v1.4h-1.4zM38.9 168.5h1.1v1.1h-1.1zM29.4 170.5h1.2v1.2h-1.2zM138.6 169.5h1.5v1.5h-1.5zM42.4 170.3h1.1v1.1h-1.1zM112.6 172h1.1v1.1h-1.1zM127 174.2h1.4v1.4h-1.4zM89.3 166.2h0.9v0.9h-0.9zM23.2 170.6h1.1v1.1h-1.1zM109.1 171.1h1.3v1.3h-1.3zM53.8 166.8h1.4v1.4h-1.4zM116.9 170.9h1.4v1.4h-1.4zM46 168.3h1.5v1.5h-1.5zM62.8 164.3h1.2v1.2h-1.2zM94.1 165.1h1.1v1.1h-1.1zM142.4 174.7h1.2v1.2h-1.2zM27.9 170.7h1v1h-1zM120.4 170.7h1.4v1.4h-1.4zM27.4 170.2h1.3v1.3h-1.3zM90.8 171h1.5v1.5h-1.5zM132.5 170.9h1.4v1.4h-1.4zM91.5 169.8h0.9v0.9h-0.9zM80.6 164.8h1.2v1.2h-1.2zM123 166.5h1.3v1.3h-1.3zM126.1 168.2h1.3v1.3h-1.3zM90.2 173.4h1.6v1.6h-1.6zM85.6 174.2h1v1h-1zM109 169.8h1v1h-1zM140.2 166.6h1.2v1.2h-1.2zM96.1 169.7h1.4v1.4h-1.4zM118.3 169.5h0.9v0.9h-0.9zM50.9 168h1.3v1.3h-1.3zM73.3 169.1h1.1v1.1h-1.1zM116.7 170.7h1.2v1.2h-1.2zM101.6 164.3h1.1v1.1h-1.1zM32.2 172.5h1.2v1.2h-1.2zM29.5 164.5h1.2v1.2h-1.2zM22.3 208.8h1.6v1.6h-1.6zM62.6 216.8h1.4v1.4h-1.4zM66.3 212.8h1.3v1.3h-1.3zM21.5 208.8h1.3v1.3h-1.3zM90 211h1.4v1.4h-1.4zM143.9 215.1h1.5v1.5h-1.5zM50.6 213.3h1.3v1.3h-1.3zM24.8 208.8h1.1v1.1h-1.1zM52.4 212.9h1.4v1.4h-1.4zM64.7 213.7h1.3v1.3h-1.3zM25.6 210.1h1.2v1.2h-1.2zM73 214.2h1.5v1.5h-1.5zM88.3 209.1h0.8v0.8h-0.8zM59.6 214.3h0.8v0.8h-0.8zM131.2 214.4h1.1v1.1h-1.1zM34 216.7h1.2v1.2h-1.2zM147.7 214.9h1.6v1.6h-1.6zM88.1 217.8h1.5v1.5h-1.5zM150.9 219.2h1v1h-1zM71.9 215.6h1.1v1.1h-1.1zM109.4 217.1h1.5v1.5h-1.5zM37.5 212.8h1.3v1.3h-1.3zM30.6 212.3h1.4v1.4h-1.4zM37.5 212.7h1.2v1.2h-1.2zM110.1 215.1h0.9v0.9h-0.9zM42.1 210.4h1.5v1.5h-1.5zM32.3 211.4h1.2v1.2h-1.2zM32.1 213.6h1v1h-1z"/><g filter="url(#roughc)"><polygon points="41.4,148 49.6,148 47.2,258 39,258" fill="#40b8c8"/><polygon points="42.6,148 48.4,148 46,258 40.2,258" fill="#8ee060"/><polygon points="44.2,148 46.8,148 44.4,258 41.8,258" fill="#ace850"/><polygon points="86.5,148 94.7,148 92,258 83.8,258" fill="#40b8c8"/><polygon points="87.7,148 93.5,148 90.8,258 85,258" fill="#8ee060"/><polygon points="89.3,148 91.9,148 89.2,258 86.6,258" fill="#ace850"/><polygon points="130.4,148 138.6,148 136.8,258 128.6,258" fill="#40b8c8"/><polygon points="131.6,148 137.4,148 135.6,258 129.8,258" fill="#8ee060"/><polygon points="133.2,148 135.8,148 134,258 131.4,258" fill="#ace850"/></g><path fill="#111" d="M40.2 186.3h0.9v0.9h-0.9zM40.4 211.3h1.2v1.2h-1.2zM39.8 224.1h0.7v0.7h-0.7zM41.8 153.9h0.9v0.9h-0.9zM48.4 165.3h1.3v1.3h-1.3zM41.2 163.9h1.2v1.2h-1.2zM40.9 154.9h1.1v1.1h-1.1zM46.7 237.8h0.9v0.9h-0.9zM41.1 170.6h1.3v1.3h-1.3zM47 194.2h0.8v0.8h-0.8zM48.9 160.3h0.9v0.9h-0.9zM39.8 215.7h1.1v1.1h-1.1zM41.2 162.1h1.3v1.3h-1.3zM39.9 227.5h0.6v0.6h-0.6zM38.8 218.3h0.9v0.9h-0.9zM47.1 199.1h1.1v1.1h-1.1zM40.9 163.6h1v1h-1zM39.6 219.8h0.6v0.6h-0.6zM48.4 184.3h1.3v1.3h-1.3zM41.1 180h1.3v1.3h-1.3zM46.7 217.7h0.7v0.7h-0.7zM38.9 234.5h0.8v0.8h-0.8zM47.9 181.2h1.1v1.1h-1.1zM39.1 227.8h1.1v1.1h-1.1zM46.8 237.2h0.9v0.9h-0.9zM40.7 167.6h0.9v0.9h-0.9zM39.5 228h1.2v1.2h-1.2zM46.8 247.5h1.2v1.2h-1.2zM39.7 231.4h1.3v1.3h-1.3zM40.4 202.4h1.1v1.1h-1.1zM39.8 243.4h0.8v0.8h-0.8zM48.2 215.9h1.1v1.1h-1.1zM41.5 165h0.8v0.8h-0.8zM40 219.3h0.7v0.7h-0.7zM47.3 236.9h1.2v1.2h-1.2zM41.2 173.5h1.2v1.2h-1.2zM39.6 210.7h1.2v1.2h-1.2zM41.3 172.9h1.3v1.3h-1.3zM40.5 183.9h0.9v0.9h-0.9zM39.1 204.9h1v1h-1zM39.5 218.5h0.8v0.8h-0.8zM47.1 229.9h1.1v1.1h-1.1zM39.5 242.2h0.6v0.6h-0.6zM46.2 242.8h1.2v1.2h-1.2zM40.5 162.2h1.1v1.1h-1.1zM41.1 152.9h1v1h-1zM40.5 154.8h1v1h-1zM47.6 243.4h0.9v0.9h-0.9zM47.2 234.3h0.7v0.7h-0.7zM38.4 235.1h1.1v1.1h-1.1zM47.3 219.9h1.3v1.3h-1.3zM47.9 202.8h1v1h-1zM43 166.8h0.7v0.7h-0.7zM40.4 164.7h1v1h-1zM40.6 165h1v1h-1zM44.5 168.8h1.2v1.2h-1.2zM44.3 171.8h0.9v0.9h-0.9zM39.8 170.8h1v1h-1zM46.3 174.2h0.7v0.7h-0.7zM49.2 165h1v1h-1zM46.9 166h0.9v0.9h-0.9zM49.5 169.5h1.2v1.2h-1.2zM39.3 173h0.9v0.9h-0.9zM49.4 167.3h0.7v0.7h-0.7zM46.6 173.6h0.9v0.9h-0.9zM48.5 173.1h1.1v1.1h-1.1zM46.9 173.4h0.9v0.9h-0.9zM39.7 167.1h0.8v0.8h-0.8zM44.4 175.1h1.2v1.2h-1.2zM51 166.8h0.8v0.8h-0.8zM44.5 173.7h1.3v1.3h-1.3zM39.8 175.1h1.3v1.3h-1.3zM48.1 171.9h0.9v0.9h-0.9zM50.6 166.6h0.8v0.8h-0.8zM46.8 172.9h1.1v1.1h-1.1zM49.6 167.3h1.2v1.2h-1.2zM40.7 168.2h1v1h-1zM45 174.9h0.8v0.8h-0.8zM48.1 166.7h0.8v0.8h-0.8zM43.1 171.5h0.9v0.9h-0.9zM50.4 174.8h1.1v1.1h-1.1zM41.6 173.4h1.1v1.1h-1.1zM50.8 163.5h1.2v1.2h-1.2zM43.1 175.5h1.2v1.2h-1.2zM50.5 172.9h1.1v1.1h-1.1zM41 174.6h0.9v0.9h-0.9zM45.4 172h1.1v1.1h-1.1zM46.3 209.7h1.3v1.3h-1.3zM46.7 217.1h0.9v0.9h-0.9zM48.7 216.8h1.2v1.2h-1.2zM44.4 218h1.2v1.2h-1.2zM39 210.1h1v1h-1zM43.3 210h0.9v0.9h-0.9zM41.1 217.5h0.9v0.9h-0.9zM45.4 208.6h0.6v0.6h-0.6zM42.6 218.5h1.1v1.1h-1.1zM45.2 218.4h1.3v1.3h-1.3zM42.6 210.2h1.1v1.1h-1.1zM39.2 211.8h0.8v0.8h-0.8zM46 208.6h0.6v0.6h-0.6zM38.3 208.9h1.2v1.2h-1.2zM43.6 209.2h0.6v0.6h-0.6zM45.2 217.7h0.8v0.8h-0.8zM46.3 213.5h1.3v1.3h-1.3zM40.2 212.4h1v1h-1zM39.2 215.4h0.8v0.8h-0.8zM42.3 208.4h1v1h-1zM42.5 218.8h1.1v1.1h-1.1zM38.4 209.4h0.8v0.8h-0.8zM41.7 212.7h1.2v1.2h-1.2zM49.5 209.1h0.8v0.8h-0.8zM38.7 208.6h1.1v1.1h-1.1zM38.8 216h0.9v0.9h-0.9zM44.8 209.1h1.3v1.3h-1.3zM42.3 219.4h1.2v1.2h-1.2zM50 208.1h1.3v1.3h-1.3zM46.5 216.4h1.3v1.3h-1.3zM49.7 210.6h0.7v0.7h-0.7zM48 213.8h1v1h-1zM38.6 218.1h1.2v1.2h-1.2zM39.2 218.6h0.8v0.8h-0.8zM40.1 209.9h1.2v1.2h-1.2zM91.3 221.1h0.6v0.6h-0.6zM91.2 239.2h1v1h-1zM83.1 239h0.8v0.8h-0.8zM93.4 169.3h0.8v0.8h-0.8zM91.7 229.2h0.8v0.8h-0.8zM84.2 227.4h0.9v0.9h-0.9zM92.6 227.3h0.8v0.8h-0.8zM91.8 204h0.7v0.7h-0.7zM85.5 193.9h1.2v1.2h-1.2zM94 153.1h1.2v1.2h-1.2zM93.2 156.8h0.9v0.9h-0.9zM84.8 184.9h0.9v0.9h-0.9zM85.4 161.4h0.7v0.7h-0.7zM85.3 212.4h0.7v0.7h-0.7zM85.5 155.9h1.2v1.2h-1.2zM92.4 225.2h0.9v0.9h-0.9zM86.1 162.8h1.2v1.2h-1.2zM92.2 245.3h1.1v1.1h-1.1zM85.1 175.6h0.8v0.8h-0.8zM94 175h1.1v1.1h-1.1zM83.9 239.9h1v1h-1zM92.2 236.7h1.2v1.2h-1.2zM93.8 154.4h0.9v0.9h-0.9zM86.5 152.4h1v1h-1zM86.1 154.5h1v1h-1zM91.3 222.7h1.2v1.2h-1.2zM93.1 163.9h0.9v0.9h-0.9zM83.5 228.1h1v1h-1zM93.1 204.3h1.2v1.2h-1.2zM85.9 165h1v1h-1zM85.3 172.7h0.7v0.7h-0.7zM93.2 213.5h0.9v0.9h-0.9zM85.2 194h0.7v0.7h-0.7zM85.5 172.8h0.8v0.8h-0.8zM93.2 174.6h0.8v0.8h-0.8zM91.1 250.8h0.9v0.9h-0.9zM84.7 229.5h0.8v0.8h-0.8zM85.2 176.5h1v1h-1zM92.8 162.6h0.7v0.7h-0.7zM84.6 214.3h0.8v0.8h-0.8zM86.6 157.9h1.2v1.2h-1.2zM84.9 199.6h1.2v1.2h-1.2zM93.2 214.3h0.9v0.9h-0.9zM85.4 201.6h1.1v1.1h-1.1zM92.6 224.9h1.3v1.3h-1.3zM93.2 212.6h0.8v0.8h-0.8zM92.6 237.2h0.7v0.7h-0.7zM85.9 193.7h0.8v0.8h-0.8zM93.3 201.5h0.8v0.8h-0.8zM92.9 186.1h0.7v0.7h-0.7zM93.3 164.1h1.2v1.2h-1.2zM88.9 174.8h1.1v1.1h-1.1zM84.4 171.4h1v1h-1zM96.1 170.7h0.9v0.9h-0.9zM92.6 167h1.1v1.1h-1.1zM86.9 172.8h1.3v1.3h-1.3zM91.3 167.2h1.1v1.1h-1.1zM90.4 174.9h1.2v1.2h-1.2zM92.5 172.3h1.2v1.2h-1.2zM84.8 175.5h1.2v1.2h-1.2zM95.5 165.1h1v1h-1zM93.3 172.1h1.2v1.2h-1.2zM89.9 172.9h1.2v1.2h-1.2zM93.8 166h1.1v1.1h-1.1zM85.4 173h0.9v0.9h-0.9zM91.7 173h1.2v1.2h-1.2zM84.4 170.7h0.9v0.9h-0.9zM87.6 175.3h1v1h-1zM86.1 170.3h0.6v0.6h-0.6zM91.8 165.1h0.7v0.7h-0.7zM85.7 167.8h0.8v0.8h-0.8zM91.4 175.1h0.6v0.6h-0.6zM95.2 172.7h0.8v0.8h-0.8zM91.2 163.5h1.1v1.1h-1.1zM89.8 170.4h0.7v0.7h-0.7zM93.3 173.4h1.1v1.1h-1.1zM86.9 171.6h0.8v0.8h-0.8zM88.7 175h1.1v1.1h-1.1zM96.1 166.2h0.7v0.7h-0.7zM87.3 164.2h1.2v1.2h-1.2zM92.4 169.7h0.6v0.6h-0.6zM94.4 166.1h1.3v1.3h-1.3zM87 167.4h1.1v1.1h-1.1zM87 174.7h1v1h-1zM93.5 174.5h1.2v1.2h-1.2zM84.9 211.1h1.2v1.2h-1.2zM89.4 209.6h1.1v1.1h-1.1zM88.3 213.4h0.7v0.7h-0.7zM84.1 218.3h0.8v0.8h-0.8zM90.8 211.2h1.1v1.1h-1.1zM84.3 216.5h0.9v0.9h-0.9zM86.2 219.6h1v1h-1zM94.6 217.2h0.9v0.9h-0.9zM90.5 216h1v1h-1zM83 214.9h1.3v1.3h-1.3zM92.9 217.2h0.9v0.9h-0.9zM90.9 218.1h0.9v0.9h-0.9zM94 216h0.9v0.9h-0.9zM86.9 215.8h0.6v0.6h-0.6zM91 218.7h0.7v0.7h-0.7zM84 218.9h1.2v1.2h-1.2zM94.2 209.1h1v1h-1zM88.4 220h0.9v0.9h-0.9zM89.9 211.3h1.2v1.2h-1.2zM87.4 213.2h1.2v1.2h-1.2zM90.4 217.7h1.1v1.1h-1.1zM91.2 217.6h1.3v1.3h-1.3zM91.6 208.7h0.8v0.8h-0.8zM86.2 208h0.7v0.7h-0.7zM94.8 212.7h0.9v0.9h-0.9zM88.4 216.3h0.9v0.9h-0.9zM88 215.7h1.1v1.1h-1.1zM94.1 212.4h0.9v0.9h-0.9zM85.3 209.7h1.1v1.1h-1.1zM88.7 211.6h1.1v1.1h-1.1zM87 213.2h0.8v0.8h-0.8zM83.2 217h1.1v1.1h-1.1zM85.8 208.7h1.1v1.1h-1.1zM93.6 213.1h1.1v1.1h-1.1zM84.4 216.4h1v1h-1zM137 174.5h1.2v1.2h-1.2zM128.6 224.4h1.2v1.2h-1.2zM129.9 163.4h1.2v1.2h-1.2zM136.8 215.4h0.9v0.9h-0.9zM137.6 178.2h0.8v0.8h-0.8zM128 234.9h1.2v1.2h-1.2zM128.5 232.8h1.1v1.1h-1.1zM129.4 193.6h1v1h-1zM130.1 164.1h1v1h-1zM137.2 224.3h1.2v1.2h-1.2zM136.7 184.9h1.3v1.3h-1.3zM138.1 179.6h1.3v1.3h-1.3zM128.1 253.5h0.6v0.6h-0.6zM129.1 232.4h1v1h-1zM137.6 164.3h1v1h-1zM137.8 207.7h1.2v1.2h-1.2zM129.9 168h0.6v0.6h-0.6zM129.7 214.2h0.8v0.8h-0.8zM128.3 235.2h1.1v1.1h-1.1zM137.8 180.4h0.7v0.7h-0.7zM128.3 248.2h0.9v0.9h-0.9zM128.3 228.4h1.2v1.2h-1.2zM137.6 219.8h0.9v0.9h-0.9zM135.8 238.8h0.9v0.9h-0.9zM136.4 233.7h1.1v1.1h-1.1zM129.3 185.9h1.2v1.2h-1.2zM138 156.5h1.2v1.2h-1.2zM128.9 219.1h0.7v0.7h-0.7zM136.9 249.3h0.8v0.8h-0.8zM136.9 222h0.7v0.7h-0.7zM137 229.5h1v1h-1zM136.9 178.6h1.2v1.2h-1.2zM129.4 232.3h0.7v0.7h-0.7zM137.4 158.7h0.7v0.7h-0.7zM136.9 188.4h0.6v0.6h-0.6zM130.2 163.6h1.1v1.1h-1.1zM137.1 202.4h1v1h-1zM130.8 161.1h0.8v0.8h-0.8zM129.1 240.5h1v1h-1zM128.3 218.6h0.8v0.8h-0.8zM136.6 176.1h0.9v0.9h-0.9zM130.1 157h1.2v1.2h-1.2zM136 219.9h0.8v0.8h-0.8zM138.4 162.3h0.6v0.6h-0.6zM130.1 176.6h0.9v0.9h-0.9zM136.8 249h0.8v0.8h-0.8zM129.5 158h1.2v1.2h-1.2zM134.4 164.9h0.7v0.7h-0.7zM132.3 167.5h1.2v1.2h-1.2zM131.2 169.8h1.2v1.2h-1.2zM132.1 167.5h0.6v0.6h-0.6zM130.4 174.6h1.2v1.2h-1.2zM134.7 168.4h1.2v1.2h-1.2zM129.6 172.7h0.7v0.7h-0.7zM138.3 173h1v1h-1zM137.5 165.7h1.2v1.2h-1.2zM137.9 172.8h1.2v1.2h-1.2zM138.4 167.6h0.6v0.6h-0.6zM133.4 166.1h0.6v0.6h-0.6zM136.2 166.2h0.6v0.6h-0.6zM134.9 169.8h0.6v0.6h-0.6zM137 171.1h0.9v0.9h-0.9zM133 165.2h1.1v1.1h-1.1zM129 173.9h0.7v0.7h-0.7zM128.4 163.7h0.9v0.9h-0.9zM129.4 169h1v1h-1zM139.9 167h1.2v1.2h-1.2zM131.9 174.7h0.8v0.8h-0.8zM138.4 170.6h1.3v1.3h-1.3zM129.6 167.2h1v1h-1zM137.8 169.1h1v1h-1zM131.9 164.9h1.1v1.1h-1.1zM135.8 172.4h0.9v0.9h-0.9zM134.1 170.8h1v1h-1zM133.7 165.5h0.9v0.9h-0.9zM137 166.2h1.1v1.1h-1.1zM130.8 175.1h1.3v1.3h-1.3zM134.1 164h1.1v1.1h-1.1zM135.8 164.4h1.1v1.1h-1.1zM128.7 168.4h1.1v1.1h-1.1zM136.4 175.2h1.2v1.2h-1.2zM131.4 171.7h0.8v0.8h-0.8zM135.2 210.9h0.8v0.8h-0.8zM138.4 213.7h1v1h-1zM132.2 209.9h0.9v0.9h-0.9zM134.6 208.2h0.7v0.7h-0.7zM138.4 216.2h1v1h-1zM128.3 212.1h0.6v0.6h-0.6zM134.5 213h1v1h-1zM129.5 214.1h0.8v0.8h-0.8zM134.7 210.7h1.1v1.1h-1.1zM131.3 215.6h0.8v0.8h-0.8zM136.5 208.7h1v1h-1zM129.3 219.5h0.7v0.7h-0.7zM132.8 219.5h0.7v0.7h-0.7zM132.5 212.2h1v1h-1zM130.3 217.3h1v1h-1zM136.2 210.9h1.3v1.3h-1.3zM129.5 213.3h1v1h-1zM137.2 213h1.2v1.2h-1.2zM128.4 213.2h1.2v1.2h-1.2zM137.4 217.4h0.7v0.7h-0.7zM139.3 217.8h0.9v0.9h-0.9zM134 208.8h1v1h-1zM132 208.4h0.7v0.7h-0.7zM135.8 208.9h0.7v0.7h-0.7zM138 208h0.8v0.8h-0.8zM128.7 219.8h1.2v1.2h-1.2zM127.8 214.7h1.1v1.1h-1.1zM128.9 214.6h0.8v0.8h-0.8zM131.4 210.2h1.2v1.2h-1.2zM133.9 219.7h0.9v0.9h-0.9zM128.2 219.1h1.2v1.2h-1.2zM129 213.4h1.3v1.3h-1.3zM127.7 213h1.1v1.1h-1.1zM134.7 215.8h0.8v0.8h-0.8zM128.2 210.9h1v1h-1z"/><path fill="#203040" d="M47.2 241.2h1.3v1.3h-1.3zM39.1 216.3h1.1v1.1h-1.1zM40.5 202.8h1.1v1.1h-1.1zM41 168.6h0.9v0.9h-0.9zM41.3 178.5h0.6v0.6h-0.6zM49.4 159.7h0.7v0.7h-0.7zM47.7 195.1h0.8v0.8h-0.8zM40.9 162.5h1.3v1.3h-1.3zM38.6 248.5h1v1h-1zM38.9 208.9h0.8v0.8h-0.8zM48.7 176.5h0.9v0.9h-0.9zM46.2 233.3h1.3v1.3h-1.3zM41.3 173.9h1.1v1.1h-1.1zM46.8 217.7h0.6v0.6h-0.6zM46.2 232.4h0.8v0.8h-0.8zM40.3 191.8h0.7v0.7h-0.7zM40 213.8h0.9v0.9h-0.9zM49.3 161.7h0.6v0.6h-0.6zM46.6 225.5h0.9v0.9h-0.9zM38.9 243h1v1h-1zM48.1 185.6h0.8v0.8h-0.8zM49.2 161.4h0.9v0.9h-0.9zM46.6 223.4h1.1v1.1h-1.1zM39.9 166.6h1.1v1.1h-1.1zM48.1 165.9h1.2v1.2h-1.2zM47.2 222.3h1.2v1.2h-1.2zM48.3 173.5h0.8v0.8h-0.8zM48.3 155h1.3v1.3h-1.3zM48.6 156.5h1v1h-1zM39.7 208.9h0.8v0.8h-0.8zM46 239.7h1.1v1.1h-1.1zM47.9 201h0.9v0.9h-0.9zM40.7 195.3h1.1v1.1h-1.1zM41.2 152.7h0.9v0.9h-0.9zM49 175.7h0.8v0.8h-0.8zM39.6 213.1h0.7v0.7h-0.7zM48.9 180.4h1.2v1.2h-1.2zM40.3 164.6h0.9v0.9h-0.9zM40.3 153.6h0.8v0.8h-0.8zM39.2 220h1.2v1.2h-1.2zM47.1 226.4h1v1h-1zM48.3 190.9h0.9v0.9h-0.9zM46.2 252.9h0.8v0.8h-0.8zM49.6 158.2h1.2v1.2h-1.2zM47.5 215.4h1.1v1.1h-1.1zM47.2 207h0.9v0.9h-0.9zM37.8 253.6h0.8v0.8h-0.8zM39.4 188.9h1.2v1.2h-1.2zM40.6 209.5h1.1v1.1h-1.1zM82.8 251.9h0.7v0.7h-0.7zM93.1 173.3h1.2v1.2h-1.2zM91 237.1h1.2v1.2h-1.2zM83 243.2h1.1v1.1h-1.1zM85.6 182.6h0.9v0.9h-0.9zM93.1 197.4h0.7v0.7h-0.7zM92.2 195.4h1.3v1.3h-1.3zM91.8 228.3h1.1v1.1h-1.1zM91.9 222.2h1.3v1.3h-1.3zM85 201.2h0.9v0.9h-0.9zM85.8 182.5h0.6v0.6h-0.6zM92 245h0.6v0.6h-0.6zM92.9 212.5h1.1v1.1h-1.1zM91.8 241.6h1.2v1.2h-1.2zM84 233.4h0.9v0.9h-0.9zM86.8 153.5h0.9v0.9h-0.9zM91.8 244h1.2v1.2h-1.2zM84 204.4h1.2v1.2h-1.2zM94.3 167.1h0.9v0.9h-0.9zM83.7 253.4h0.8v0.8h-0.8zM93.4 196.8h1.2v1.2h-1.2zM92.4 239.9h1.2v1.2h-1.2zM92.1 217.3h1v1h-1zM84.8 181.3h1.1v1.1h-1.1zM92.8 224.3h0.9v0.9h-0.9zM93.9 181h1.3v1.3h-1.3zM86.2 178.8h1.1v1.1h-1.1zM91.1 245.4h0.7v0.7h-0.7zM93.3 153.4h1.3v1.3h-1.3zM90.6 251.7h0.9v0.9h-0.9zM84.6 193.5h0.9v0.9h-0.9zM91.5 243.1h1v1h-1zM93.7 166h1.2v1.2h-1.2zM84.2 195.9h0.8v0.8h-0.8zM94.2 171.9h1.3v1.3h-1.3zM84.2 223.5h1v1h-1zM93.2 200.9h0.8v0.8h-0.8zM93.5 200.6h0.7v0.7h-0.7zM85.3 155h0.9v0.9h-0.9zM85.4 209.6h1.2v1.2h-1.2zM92.5 207.3h0.6v0.6h-0.6zM94.3 162.6h0.9v0.9h-0.9zM83.2 239.1h0.7v0.7h-0.7zM85.3 190.5h1.1v1.1h-1.1zM85.6 197.9h0.8v0.8h-0.8zM85.8 164.6h0.8v0.8h-0.8zM94.7 152.4h0.8v0.8h-0.8zM86.6 158.1h1.1v1.1h-1.1zM94 182.4h1v1h-1zM83.6 225.9h0.7v0.7h-0.7zM94.1 162.9h1.2v1.2h-1.2zM92.6 182h1v1h-1zM83.8 210.4h0.7v0.7h-0.7zM138 164.1h1v1h-1zM137.4 199.9h0.7v0.7h-0.7zM136 251.8h1v1h-1zM129.2 236.4h1.2v1.2h-1.2zM137.9 197.6h0.7v0.7h-0.7zM129.8 190.9h1v1h-1zM138 170.6h0.9v0.9h-0.9zM128.6 219.7h0.9v0.9h-0.9zM137.6 180.1h0.8v0.8h-0.8zM136.6 183.1h0.8v0.8h-0.8zM136.4 244.6h1.2v1.2h-1.2zM128.1 249.6h1.2v1.2h-1.2zM137.4 159.4h0.7v0.7h-0.7zM137.8 208.5h0.6v0.6h-0.6zM137.1 218h1v1h-1zM130.4 175.5h0.6v0.6h-0.6zM128.6 240.2h1v1h-1zM129 196.4h1v1h-1zM135.8 246.9h1.3v1.3h-1.3zM137.2 165.9h0.8v0.8h-0.8zM128.7 237.2h1.1v1.1h-1.1zM128.7 229.5h1v1h-1zM136 227.6h0.8v0.8h-0.8zM137.3 220.6h0.7v0.7h-0.7zM129.6 190.1h0.8v0.8h-0.8zM128.5 239.5h0.7v0.7h-0.7zM137.7 187.4h1v1h-1zM137.4 216.3h1.3v1.3h-1.3zM129.7 174.2h0.9v0.9h-0.9zM130 165.6h1.1v1.1h-1.1zM135.2 252.7h0.6v0.6h-0.6zM135.7 251.1h0.7v0.7h-0.7zM128.6 208.2h1.1v1.1h-1.1zM129.3 247.8h1.3v1.3h-1.3zM138 173h1.2v1.2h-1.2zM129.1 159.2h1v1h-1zM128.4 223.5h0.8v0.8h-0.8zM130 171.4h1v1h-1zM129.2 184.5h1.3v1.3h-1.3zM128.6 242.2h0.8v0.8h-0.8zM129.3 231.5h1.2v1.2h-1.2zM137.2 224.5h0.7v0.7h-0.7zM128.2 231.7h0.7v0.7h-0.7zM128.3 223.2h1.3v1.3h-1.3zM137 250.8h0.9v0.9h-0.9zM130.6 165.4h0.7v0.7h-0.7zM138.6 159.7h0.7v0.7h-0.7zM136.1 240.3h0.9v0.9h-0.9zM137.8 155h0.6v0.6h-0.6zM137.5 175h0.7v0.7h-0.7zM130 201.8h0.8v0.8h-0.8zM136.3 240.5h1.1v1.1h-1.1zM130.1 162.7h0.6v0.6h-0.6z"/><path fill="#1a1a1a" d="M47.3 234.2h1v1h-1zM38.1 242.4h1.2v1.2h-1.2zM47.9 170.9h0.7v0.7h-0.7zM41.7 157.6h0.9v0.9h-0.9zM41.4 171.4h0.7v0.7h-0.7zM48.3 164.3h1.2v1.2h-1.2zM40.8 156.7h1v1h-1zM39 217h1.3v1.3h-1.3zM39.7 213h0.9v0.9h-0.9zM47.2 223.9h0.7v0.7h-0.7zM47.3 250.6h0.9v0.9h-0.9zM47.7 215.7h1.1v1.1h-1.1zM40.5 158.8h0.7v0.7h-0.7zM48.1 223.6h1.2v1.2h-1.2zM39.3 196.8h1.3v1.3h-1.3zM49.4 159.6h1.2v1.2h-1.2zM40.6 161.4h0.9v0.9h-0.9zM48.4 183.6h1v1h-1zM46.7 250.4h0.9v0.9h-0.9zM46.3 246.8h0.7v0.7h-0.7zM47.3 225.7h1.3v1.3h-1.3zM40.1 169.6h0.8v0.8h-0.8zM48.1 176.3h0.7v0.7h-0.7zM49.1 162.1h0.8v0.8h-0.8zM40.6 153h1.1v1.1h-1.1zM40.6 162.6h0.8v0.8h-0.8zM47.5 220.7h0.9v0.9h-0.9zM46.4 236.6h1.1v1.1h-1.1zM48.8 155.5h0.9v0.9h-0.9zM38.8 237.3h1.2v1.2h-1.2zM48.2 185.4h1.1v1.1h-1.1zM38.4 229.7h1.2v1.2h-1.2zM39.4 224.3h0.8v0.8h-0.8zM40.5 164.6h1.1v1.1h-1.1zM39.3 196.8h0.8v0.8h-0.8zM46.6 218.2h1.1v1.1h-1.1zM38.5 234.3h1v1h-1zM47.1 213.9h1.1v1.1h-1.1zM48.1 177.5h0.8v0.8h-0.8zM47.6 199.4h0.8v0.8h-0.8zM40.1 177h1.2v1.2h-1.2zM39.5 221.9h1v1h-1zM40.5 156.6h0.9v0.9h-0.9zM47.1 197.8h0.9v0.9h-0.9zM39.5 247h1.2v1.2h-1.2zM39.8 219.4h1.2v1.2h-1.2zM41.4 154.3h1.3v1.3h-1.3zM41 153.1h1.1v1.1h-1.1zM39.4 197.6h0.9v0.9h-0.9zM92 195.5h1.2v1.2h-1.2zM90.6 248.3h1.3v1.3h-1.3zM84.6 193.4h1.1v1.1h-1.1zM92.7 233.3h1v1h-1zM93.4 157.1h1v1h-1zM92.9 190.4h0.6v0.6h-0.6zM93.2 191.5h1.1v1.1h-1.1zM86 154.1h1.1v1.1h-1.1zM92.2 188.1h0.7v0.7h-0.7zM92.6 178.8h0.8v0.8h-0.8zM92.4 228.2h1.1v1.1h-1.1zM84 232.7h0.6v0.6h-0.6zM84.2 238.5h0.7v0.7h-0.7zM93 220.2h1.2v1.2h-1.2zM85.1 227.7h0.9v0.9h-0.9zM84.7 208.5h1.3v1.3h-1.3zM84.9 198.6h0.9v0.9h-0.9zM92 228h0.7v0.7h-0.7zM85 221.1h1.1v1.1h-1.1zM85.8 155h0.7v0.7h-0.7zM92.2 196.4h1v1h-1zM93.3 207.3h1.1v1.1h-1.1zM84.5 239.3h0.9v0.9h-0.9zM83 243.5h1v1h-1zM84.7 203.8h0.7v0.7h-0.7zM92.5 197.3h0.7v0.7h-0.7zM92.1 233.7h1.3v1.3h-1.3zM84.2 245.2h1.1v1.1h-1.1zM93.9 189.6h1.2v1.2h-1.2zM83.6 231.4h1v1h-1zM91.5 246.7h0.9v0.9h-0.9zM91.4 218.5h0.7v0.7h-0.7zM83.6 247.3h1.1v1.1h-1.1zM91.6 207.5h0.9v0.9h-0.9zM86.3 156.8h1v1h-1zM82.7 252.6h1.2v1.2h-1.2zM84.3 243.5h0.9v0.9h-0.9zM93.3 207h1v1h-1zM92.5 222.1h1.1v1.1h-1.1zM92.2 200.6h0.6v0.6h-0.6zM93.9 169.6h1.2v1.2h-1.2zM93.5 202.6h0.7v0.7h-0.7zM91.5 237.8h0.7v0.7h-0.7zM84.5 225.7h1.2v1.2h-1.2zM91.5 246h1.1v1.1h-1.1zM85 177.8h0.8v0.8h-0.8zM93.4 184.2h0.8v0.8h-0.8zM127.9 240.1h1.3v1.3h-1.3zM136.7 184.8h1v1h-1zM128.3 211h1.2v1.2h-1.2zM129.5 196h0.6v0.6h-0.6zM135.6 238.4h1v1h-1zM129.3 191.5h0.8v0.8h-0.8zM137.6 174.3h0.8v0.8h-0.8zM129.7 198.1h0.8v0.8h-0.8zM129.6 175.9h0.9v0.9h-0.9zM129 191.2h0.7v0.7h-0.7zM128.7 217.5h0.9v0.9h-0.9zM129.8 158.6h0.8v0.8h-0.8zM128.7 215.8h1.1v1.1h-1.1zM129.5 232.5h1v1h-1zM136.4 195.5h0.9v0.9h-0.9zM136.1 221.9h0.6v0.6h-0.6zM130.3 157.1h1v1h-1zM130.3 168.9h1.1v1.1h-1.1zM137.4 210h1.2v1.2h-1.2zM137.7 185.2h0.6v0.6h-0.6zM128.5 231.8h0.8v0.8h-0.8zM137.2 158.5h0.7v0.7h-0.7zM128.1 228.2h1.1v1.1h-1.1zM136.2 247.6h0.8v0.8h-0.8zM127.8 231.8h1.2v1.2h-1.2zM137.1 229.5h0.9v0.9h-0.9zM129.5 179.4h1.1v1.1h-1.1zM130 164.4h1v1h-1zM136.5 213.7h0.6v0.6h-0.6zM137.6 190.5h0.9v0.9h-0.9zM129.4 169.8h0.6v0.6h-0.6zM137.8 204.2h1.1v1.1h-1.1zM129.4 159.7h0.8v0.8h-0.8zM129.5 224.8h0.7v0.7h-0.7zM130 206.4h0.8v0.8h-0.8zM137 163.9h0.9v0.9h-0.9zM127.6 247.3h1.2v1.2h-1.2zM128.5 213.4h0.6v0.6h-0.6zM129.3 243.2h1.1v1.1h-1.1zM136.2 222.4h1.3v1.3h-1.3zM138.2 154.8h0.9v0.9h-0.9zM128.7 251.4h1.2v1.2h-1.2zM129.4 190.5h0.6v0.6h-0.6zM129 237.2h0.6v0.6h-0.6zM130.2 161.5h1v1h-1zM129.8 194.3h0.6v0.6h-0.6zM137.1 154.8h0.7v0.7h-0.7zM138 175h1.2v1.2h-1.2zM130.7 166.3h0.9v0.9h-0.9zM138.2 163.4h0.6v0.6h-0.6z"/><path fill="#b85010" d="M48.9 170.3h1v1h-1zM44.9 168.2h1.5v1.5h-1.5zM45.1 169h1.1v1.1h-1.1zM47 169.4h1.1v1.1h-1.1zM43.3 174.4h1.5v1.5h-1.5zM44.9 166.8h1v1h-1zM46.7 170.1h1.2v1.2h-1.2zM44.5 167h1.3v1.3h-1.3zM45.7 168h1.3v1.3h-1.3zM44.9 174.7h1.3v1.3h-1.3zM43.3 166.1h1.2v1.2h-1.2zM45.8 214.7h1.3v1.3h-1.3zM43.7 211.1h1.5v1.5h-1.5zM41.2 212.6h1.4v1.4h-1.4zM42.1 212.1h1v1h-1zM43.7 215.9h1.4v1.4h-1.4zM44.6 215.4h1.2v1.2h-1.2zM44.8 214.6h1.3v1.3h-1.3zM46.9 213.2h1.1v1.1h-1.1zM43.2 211.4h1.5v1.5h-1.5zM41.6 213.8h1.1v1.1h-1.1zM43.7 214h1.5v1.5h-1.5zM93.1 165h0.9v0.9h-0.9zM88.2 169.8h1.4v1.4h-1.4zM90.2 169.1h1.5v1.5h-1.5zM91.5 165.9h1v1h-1zM90.6 168h1.1v1.1h-1.1zM87.9 164.6h0.9v0.9h-0.9zM90.8 168.6h1.5v1.5h-1.5zM94.2 172.4h0.9v0.9h-0.9zM89.5 169.7h1.1v1.1h-1.1zM91.3 214.9h1.2v1.2h-1.2zM85 215.2h1.2v1.2h-1.2zM90.7 215.7h1.1v1.1h-1.1zM86.7 211.7h1v1h-1zM89.3 215.8h1.1v1.1h-1.1zM88.1 214.3h1.4v1.4h-1.4zM130.9 171.9h1.2v1.2h-1.2zM132.2 166.3h1.4v1.4h-1.4zM136.2 168.7h1.4v1.4h-1.4zM133.9 169.2h1.1v1.1h-1.1zM136.2 172.1h1.6v1.6h-1.6zM133.3 169.6h1.1v1.1h-1.1zM133.3 166.9h1.2v1.2h-1.2zM133.6 169.6h1.3v1.3h-1.3zM135.3 168.6h0.9v0.9h-0.9zM134.1 166.7h1.4v1.4h-1.4zM135.3 173h1.3v1.3h-1.3zM135.9 170.1h1.4v1.4h-1.4zM131.2 212.2h0.9v0.9h-0.9zM136.7 215.8h1.3v1.3h-1.3zM132.3 213.8h1.4v1.4h-1.4zM132.7 211.5h1.1v1.1h-1.1zM135.4 211.8h1.2v1.2h-1.2zM136 213.8h1.3v1.3h-1.3zM133 214.8h1v1h-1zM132.7 214.5h1v1h-1z"/><path fill="#a0a020" d="M44.3 166.2h1.2v1.2h-1.2zM45.5 167.2h1v1h-1zM41.7 170.5h1.5v1.5h-1.5zM44.4 172h1.4v1.4h-1.4zM46.2 168.1h1.4v1.4h-1.4zM44.2 167.8h1.2v1.2h-1.2zM43.4 169.8h1.1v1.1h-1.1zM44.1 172.5h1.4v1.4h-1.4zM46.5 167.7h1.4v1.4h-1.4zM44.7 168.9h1.4v1.4h-1.4zM43 172h1.3v1.3h-1.3zM43.4 166.9h1.1v1.1h-1.1zM41.4 213.9h1.4v1.4h-1.4zM45.2 209.7h1.4v1.4h-1.4zM43.6 213h1.2v1.2h-1.2zM43.9 215.4h0.9v0.9h-0.9zM45 212.6h1.1v1.1h-1.1zM45.2 215.2h1.1v1.1h-1.1zM43.5 220.1h1.3v1.3h-1.3zM45.6 213.3h1.2v1.2h-1.2zM45.5 213.3h1.5v1.5h-1.5zM87.4 166.3h1.5v1.5h-1.5zM90.5 170.5h1.5v1.5h-1.5zM88 166h1v1h-1zM88.7 164.9h1.3v1.3h-1.3zM90.3 170.2h1.2v1.2h-1.2zM92.1 169.6h1v1h-1zM90.1 168h1.4v1.4h-1.4zM89.9 167.9h1.4v1.4h-1.4zM90.4 170.8h1.2v1.2h-1.2zM88.7 169.7h1.6v1.6h-1.6zM89.7 166.6h1v1h-1zM88.6 164.6h1v1h-1zM88.3 171.4h1.5v1.5h-1.5zM88.6 210.3h1.2v1.2h-1.2zM89.3 214.8h1v1h-1zM90.6 218.4h1v1h-1zM85.6 214.7h1.5v1.5h-1.5zM88.7 214.8h1.6v1.6h-1.6zM86.5 210.3h1.1v1.1h-1.1zM90.6 210.8h1.4v1.4h-1.4zM87.8 214.7h1.2v1.2h-1.2zM89.4 213.3h1.4v1.4h-1.4zM86 209.8h1.4v1.4h-1.4zM89.9 217.8h1.4v1.4h-1.4zM134 167.2h1v1h-1zM130.7 171h1.5v1.5h-1.5zM133.4 174.7h1.3v1.3h-1.3zM133.6 172.8h1.4v1.4h-1.4zM135 171.3h0.9v0.9h-0.9zM130.4 171.1h1v1h-1zM134.8 167.8h1.5v1.5h-1.5zM132.9 169.3h1.5v1.5h-1.5zM133.3 170.6h1.2v1.2h-1.2zM132.3 170.6h1.5v1.5h-1.5zM134 215.7h1.3v1.3h-1.3zM133.6 210.8h1.3v1.3h-1.3zM133.3 214.9h1.4v1.4h-1.4zM133 214.2h1.1v1.1h-1.1zM129.3 214.6h1v1h-1zM130.2 214h1.5v1.5h-1.5zM130.2 212.1h1.2v1.2h-1.2zM133.5 216.6h0.9v0.9h-0.9zM131.6 213.5h1v1h-1z"/><path fill="#c86018" d="M45.9 168.3h1.3v1.3h-1.3zM44.8 168.8h1.5v1.5h-1.5zM43.9 169.3h1v1h-1zM43.8 166.1h1.4v1.4h-1.4zM45.3 168.8h1.4v1.4h-1.4zM43.4 167.8h1v1h-1zM46.6 166.1h1.5v1.5h-1.5zM45.9 169.6h1.6v1.6h-1.6zM45.8 173.2h0.9v0.9h-0.9zM41.6 167.3h1.3v1.3h-1.3zM45.6 166.9h1v1h-1zM43.9 211.5h1v1h-1zM45.7 214.5h0.9v0.9h-0.9zM44.3 216.9h1.4v1.4h-1.4zM43.5 211.6h1.1v1.1h-1.1zM42.2 212.6h1.5v1.5h-1.5zM44.5 213.6h1.1v1.1h-1.1zM44.7 211.6h1v1h-1zM87.6 170.4h0.9v0.9h-0.9zM88 170.4h1.3v1.3h-1.3zM88.3 168.2h1.2v1.2h-1.2zM88.4 169.8h1.2v1.2h-1.2zM88.1 167.7h1.1v1.1h-1.1zM86.7 167.1h0.9v0.9h-0.9zM88.9 168.5h1.4v1.4h-1.4zM87.9 166.5h1.2v1.2h-1.2zM90.4 168.9h0.9v0.9h-0.9zM91.4 167.6h1.4v1.4h-1.4zM86.4 210.9h1v1h-1zM88.9 214.5h1.3v1.3h-1.3zM88.9 215.1h1v1h-1zM87.9 213h1.4v1.4h-1.4zM88.9 212.2h1.3v1.3h-1.3zM88.9 211.7h1.1v1.1h-1.1zM86.8 213h1v1h-1zM90 211.3h1.2v1.2h-1.2zM88.6 213.7h0.9v0.9h-0.9zM89.4 212.8h1.5v1.5h-1.5zM90.3 210.7h1v1h-1zM133.8 167.6h1v1h-1zM133.9 171.4h1.4v1.4h-1.4zM131.1 173.3h1.6v1.6h-1.6zM132.8 166.2h1v1h-1zM134.5 166.9h1.2v1.2h-1.2zM133.2 168.1h1.1v1.1h-1.1zM132.6 169.3h1v1h-1zM134.3 173h1.4v1.4h-1.4zM134.3 213.8h1.4v1.4h-1.4zM132.8 216.6h1.2v1.2h-1.2zM129.2 214.9h1v1h-1zM131.8 214.3h1.3v1.3h-1.3zM131.6 215.1h1.3v1.3h-1.3zM135 210.9h1.1v1.1h-1.1zM133.4 217.3h1.5v1.5h-1.5zM132.7 214.8h1v1h-1zM127.6 212.5h1.1v1.1h-1.1zM133.6 216.6h1.2v1.2h-1.2zM133.5 212.6h1.2v1.2h-1.2zM134.2 214.6h0.9v0.9h-0.9z"/><path fill="#d87820" d="M44.5 171.3h1.3v1.3h-1.3zM45.3 170.9h1.1v1.1h-1.1zM42.8 166.5h1.5v1.5h-1.5zM43.4 167.9h1.4v1.4h-1.4zM44.5 170.8h1.6v1.6h-1.6zM46.3 165.8h1.5v1.5h-1.5zM44.2 210.9h1.5v1.5h-1.5zM42.9 213.1h1v1h-1zM41.6 212.9h1.3v1.3h-1.3zM45.9 217.5h1.2v1.2h-1.2zM45.5 219.2h1.3v1.3h-1.3zM45.3 211.7h1v1h-1zM42.8 212.9h1v1h-1zM42.5 210.5h1.1v1.1h-1.1zM40.2 211.1h1.5v1.5h-1.5zM44.9 211.6h1.1v1.1h-1.1zM44.6 213.9h1.5v1.5h-1.5zM44 215.6h1.3v1.3h-1.3zM42.9 217.6h1.3v1.3h-1.3zM93.5 172.7h1.1v1.1h-1.1zM87.8 168.7h1.5v1.5h-1.5zM87.3 167.7h1.3v1.3h-1.3zM88.2 173.8h1.6v1.6h-1.6zM89.1 164.6h1.4v1.4h-1.4zM89.6 168.7h1.4v1.4h-1.4zM88.4 165.1h0.9v0.9h-0.9zM91 172.2h1.3v1.3h-1.3zM87.8 215h1.2v1.2h-1.2zM90.8 212.3h1.3v1.3h-1.3zM87.5 214.4h1.2v1.2h-1.2zM90.7 212h1.5v1.5h-1.5zM86.1 213.8h1.5v1.5h-1.5zM90.3 210.4h1.3v1.3h-1.3zM91.9 212.8h1.2v1.2h-1.2zM89.8 212.9h1.1v1.1h-1.1zM85.9 211.7h0.9v0.9h-0.9zM89.3 211.7h1.3v1.3h-1.3zM88.5 213.5h1v1h-1zM87.6 217.5h1.2v1.2h-1.2zM136.9 173.2h1.3v1.3h-1.3zM136.3 169.8h0.9v0.9h-0.9zM133 165.7h1.2v1.2h-1.2zM130.8 169.1h0.9v0.9h-0.9zM132.7 170.4h1.5v1.5h-1.5zM131.9 171.3h1v1h-1zM131.7 168h1.2v1.2h-1.2zM137.1 169.7h1.4v1.4h-1.4zM133.7 175.2h1.6v1.6h-1.6zM131.5 172.5h1.5v1.5h-1.5zM134.5 213.7h1.3v1.3h-1.3zM132.2 209.5h1.4v1.4h-1.4zM133.3 215.7h1.2v1.2h-1.2zM133.1 210.8h1.1v1.1h-1.1zM130.6 213.2h1.4v1.4h-1.4zM132 218.6h1.5v1.5h-1.5zM134.1 217.9h1.4v1.4h-1.4zM132.7 213.3h1.5v1.5h-1.5zM133.1 214.9h1.4v1.4h-1.4zM131.4 212.7h1.5v1.5h-1.5zM131.5 215.4h1.1v1.1h-1.1z"/></g><text x="18.1" y="154.1" text-anchor="end" style="font-family:'Liberation Sans',sans-serif;font-size:3.4px" fill="#505050" transform="translate(18.1 0) scale(0.8 1) translate(-18.1 0)">220</text><rect x="19.6" y="152.7" width="1.6" height="0.4" fill="#888"/><text x="18.1" y="165" text-anchor="end" style="font-family:'Liberation Sans',sans-serif;font-size:3.4px" fill="#505050" transform="translate(18.1 0) scale(0.8 1) translate(-18.1 0)">200</text><rect x="19.6" y="163.6" width="1.6" height="0.4" fill="#888"/><text x="18.1" y="187.4" text-anchor="end" style="font-family:'Liberation Sans',sans-serif;font-size:3.4px" fill="#505050" transform="translate(18.1 0) scale(0.8 1) translate(-18.1 0)">150</text><rect x="19.6" y="186" width="1.6" height="0.4" fill="#888"/><text x="18.1" y="210.2" text-anchor="end" style="font-family:'Liberation Sans',sans-serif;font-size:3.4px" fill="#505050" transform="translate(18.1 0) scale(0.8 1) translate(-18.1 0)">100</text><rect x="19.6" y="208.8" width="1.6" height="0.4" fill="#888"/><text x="18.1" y="232.9" text-anchor="end" style="font-family:'Liberation Sans',sans-serif;font-size:3.4px" fill="#505050" transform="translate(18.1 0) scale(0.8 1) translate(-18.1 0)">50</text><rect x="19.6" y="231.5" width="1.6" height="0.4" fill="#888"/><text x="18.1" y="254.1" text-anchor="end" style="font-family:'Liberation Sans',sans-serif;font-size:3.4px" fill="#505050" transform="translate(18.1 0) scale(0.8 1) translate(-18.1 0)">0</text><rect x="19.6" y="252.7" width="1.6" height="0.4" fill="#888"/><text x="21.2" y="260.4" text-anchor="middle" style="font-family:'Liberation Sans',sans-serif;font-size:3.4px" fill="#505050" transform="translate(21.2 0) scale(0.8 1) translate(-21.2 0)">0</text><rect x="21" y="253.2" width="0.4" height="1.6" fill="#888"/><text x="43.8" y="260.4" text-anchor="middle" style="font-family:'Liberation Sans',sans-serif;font-size:3.4px" fill="#505050" transform="translate(43.8 0) scale(0.8 1) translate(-43.8 0)">50</text><rect x="43.6" y="253.2" width="0.4" height="1.6" fill="#888"/><text x="66.3" y="260.4" text-anchor="middle" style="font-family:'Liberation Sans',sans-serif;font-size:3.4px" fill="#505050" transform="translate(66.3 0) scale(0.8 1) translate(-66.3 0)">100</text><rect x="66.1" y="253.2" width="0.4" height="1.6" fill="#888"/><text x="88.9" y="260.4" text-anchor="middle" style="font-family:'Liberation Sans',sans-serif;font-size:3.4px" fill="#505050" transform="translate(88.9 0) scale(0.8 1) translate(-88.9 0)">150</text><rect x="88.7" y="253.2" width="0.4" height="1.6" fill="#888"/><text x="111.5" y="260.4" text-anchor="middle" style="font-family:'Liberation Sans',sans-serif;font-size:3.4px" fill="#505050" transform="translate(111.5 0) scale(0.8 1) translate(-111.5 0)">200</text><rect x="111.3" y="253.2" width="0.4" height="1.6" fill="#888"/><text x="134.1" y="260.4" text-anchor="middle" style="font-family:'Liberation Sans',sans-serif;font-size:3.4px" fill="#505050" transform="translate(134.1 0) scale(0.8 1) translate(-134.1 0)">250</text><rect x="133.9" y="253.2" width="0.4" height="1.6" fill="#888"/><text x="154.8" y="260.4" text-anchor="middle" style="font-family:'Liberation Sans',sans-serif;font-size:3.4px" fill="#505050" transform="translate(154.8 0) scale(0.8 1) translate(-154.8 0)">296</text><rect x="154.6" y="253.2" width="0.4" height="1.6" fill="#888"/><text x="21.1" y="151.8" text-anchor="start" style="font-family:'Liberation Sans',sans-serif;font-size:3.4px" fill="#505050" transform="translate(21.1 0) scale(0.9 1) translate(-21.1 0)">um</text><rect x="157.3" y="153.8" width="10.4" height="93.8" fill="url(#cbC)" stroke="#b0b0b0" stroke-width="0.4"/><text x="157.7" y="152" text-anchor="start" style="font-family:'Liberation Sans',sans-serif;font-size:3.4px" fill="#505050" transform="translate(157.7 0) scale(0.9 1) translate(-157.7 0)">um</text><text x="156.2" y="252.8" text-anchor="start" style="font-family:'Liberation Sans',sans-serif;font-size:3.4px" fill="#505050" transform="translate(156.2 0) scale(0.9 1) translate(-156.2 0)">um</text><rect x="168.3" y="154.2" width="1.5" height="0.45" fill="#888"/><text x="177.4" y="155.9" text-anchor="end" style="font-family:'Liberation Sans',sans-serif;font-size:4.1px" fill="#505050" transform="translate(177.4 0) scale(0.68 1) translate(-177.4 0)">3.13</text><rect x="168.3" y="167.4" width="1.5" height="0.45" fill="#888"/><text x="177.4" y="169.1" text-anchor="end" style="font-family:'Liberation Sans',sans-serif;font-size:4.1px" fill="#505050" transform="translate(177.4 0) scale(0.68 1) translate(-177.4 0)">2.50</text><rect x="168.3" y="178.6" width="1.5" height="0.45" fill="#888"/><text x="177.4" y="180.3" text-anchor="end" style="font-family:'Liberation Sans',sans-serif;font-size:4.1px" fill="#505050" transform="translate(177.4 0) scale(0.68 1) translate(-177.4 0)">2.00</text><rect x="168.3" y="189.4" width="1.5" height="0.45" fill="#888"/><text x="177.4" y="191.1" text-anchor="end" style="font-family:'Liberation Sans',sans-serif;font-size:4.1px" fill="#505050" transform="translate(177.4 0) scale(0.68 1) translate(-177.4 0)">1.50</text><rect x="168.3" y="200.3" width="1.5" height="0.45" fill="#888"/><text x="177.4" y="202" text-anchor="end" style="font-family:'Liberation Sans',sans-serif;font-size:4.1px" fill="#505050" transform="translate(177.4 0) scale(0.68 1) translate(-177.4 0)">1.00</text><rect x="168.3" y="211.3" width="1.5" height="0.45" fill="#888"/><text x="177.4" y="213" text-anchor="end" style="font-family:'Liberation Sans',sans-serif;font-size:4.1px" fill="#505050" transform="translate(177.4 0) scale(0.68 1) translate(-177.4 0)">0.50</text><rect x="168.3" y="222.2" width="1.5" height="0.45" fill="#888"/><text x="177.4" y="223.9" text-anchor="end" style="font-family:'Liberation Sans',sans-serif;font-size:4.1px" fill="#505050" transform="translate(177.4 0) scale(0.68 1) translate(-177.4 0)">0.00</text><rect x="168.3" y="233.2" width="1.5" height="0.45" fill="#888"/><text x="177.4" y="234.9" text-anchor="end" style="font-family:'Liberation Sans',sans-serif;font-size:4.1px" fill="#505050" transform="translate(177.4 0) scale(0.68 1) translate(-177.4 0)">-0.50</text><rect x="168.3" y="242.3" width="1.5" height="0.45" fill="#888"/><rect x="168.3" y="247.8" width="1.5" height="0.45" fill="#888"/><text x="177.4" y="249.5" text-anchor="end" style="font-family:'Liberation Sans',sans-serif;font-size:4.1px" fill="#505050" transform="translate(177.4 0) scale(0.68 1) translate(-177.4 0)">-1.23</text><text x="95.4" y="274.8" text-anchor="middle" style="font-family:'Liberation Serif',serif;font-size:11.2px" fill="#000">(c)</text></svg></body></html>
